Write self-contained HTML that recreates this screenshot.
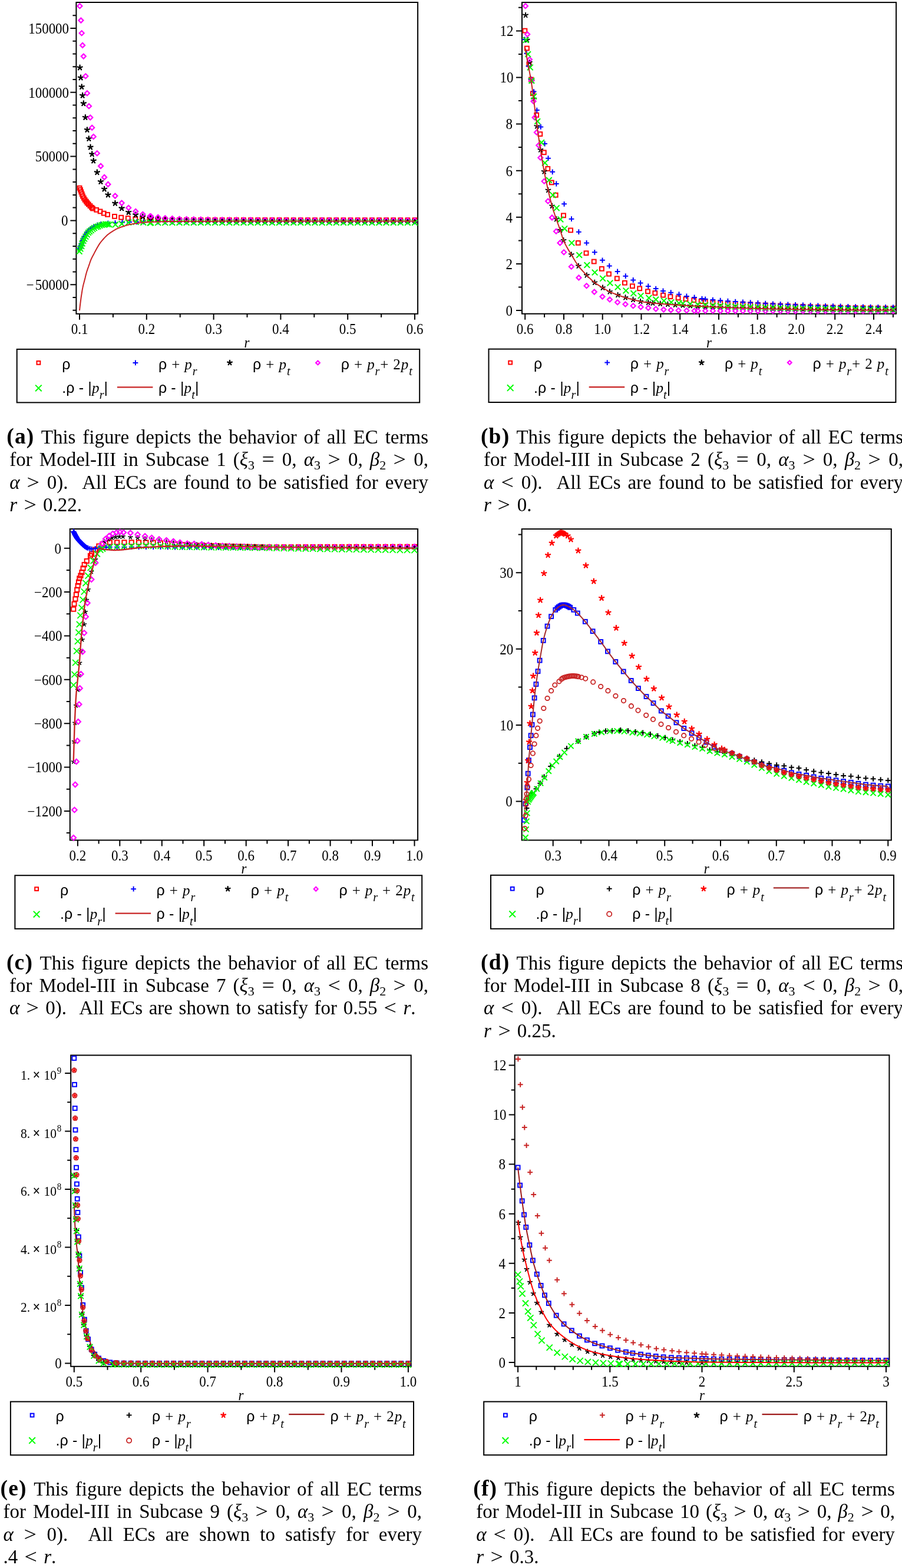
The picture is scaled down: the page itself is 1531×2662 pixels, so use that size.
<!DOCTYPE html>
<html><head><meta charset="utf-8"><title>EC terms figure</title>
<style>
html,body{margin:0;padding:0;background:#fff;}
body{width:1531px;height:2662px;position:relative;overflow:hidden;}
svg{position:absolute;left:0;top:0;}
svg text{font-family:'Liberation Serif',serif;fill:#000;}
.ln{position:absolute;white-space:nowrap;font-family:'Liberation Serif',serif;font-size:33px;letter-spacing:0;word-spacing:2.4px;line-height:38px;height:38px;text-align:justify;text-align-last:justify;color:#000;}
.ln.last{text-align:left;text-align-last:left;}
.ln b{font-weight:bold;font-size:37.5px;letter-spacing:1.2px;line-height:0;margin-right:0px;}
.rl{display:inline-block;padding:0 2px;transform:scale(1.15,1.0);}
.sb{font-size:22px;position:relative;top:6px;line-height:0;}
</style></head><body>
<svg width="1531" height="2662" viewBox="0 0 1531 2662">
<defs><clipPath id="clp1"><rect x="123.4" y="-2.0" width="591.7" height="540.8"/></clipPath></defs><rect x="129.4" y="4.0" width="579.7" height="528.8" fill="none" stroke="#000" stroke-width="2.0"/><path d="M135.0 532.8V542.8M248.8 532.8V542.8M362.6 532.8V542.8M476.4 532.8V542.8M590.2 532.8V542.8M704.0 532.8V542.8M191.9 532.8V538.8M305.7 532.8V538.8M419.5 532.8V538.8M533.3 532.8V538.8M647.1 532.8V538.8M129.4 48.0H119.4M129.4 156.8H119.4M129.4 265.6H119.4M129.4 374.4H119.4M129.4 483.2H119.4M129.4 526.7H123.4M129.4 505.0H123.4M129.4 461.4H123.4M129.4 439.7H123.4M129.4 417.9H123.4M129.4 396.2H123.4M129.4 352.6H123.4M129.4 330.9H123.4M129.4 309.1H123.4M129.4 287.4H123.4M129.4 243.8H123.4M129.4 222.1H123.4M129.4 200.3H123.4M129.4 178.6H123.4M129.4 135.0H123.4M129.4 113.3H123.4M129.4 91.5H123.4M129.4 69.8H123.4M129.4 26.2H123.4" stroke="#000" stroke-width="2"/><text transform="translate(135.0 567.1) scale(1 1.075)" text-anchor="middle" font-size="23.0">0.1</text><text transform="translate(248.8 567.1) scale(1 1.075)" text-anchor="middle" font-size="23.0">0.2</text><text transform="translate(362.6 567.1) scale(1 1.075)" text-anchor="middle" font-size="23.0">0.3</text><text transform="translate(476.4 567.1) scale(1 1.075)" text-anchor="middle" font-size="23.0">0.4</text><text transform="translate(590.2 567.1) scale(1 1.075)" text-anchor="middle" font-size="23.0">0.5</text><text transform="translate(704.0 567.1) scale(1 1.075)" text-anchor="middle" font-size="23.0">0.6</text><text transform="translate(117.1 56.8) scale(1 1.075)" text-anchor="end" font-size="23.0">150000</text><text transform="translate(117.1 165.6) scale(1 1.075)" text-anchor="end" font-size="23.0">100000</text><text transform="translate(117.1 274.4) scale(1 1.075)" text-anchor="end" font-size="23.0">50000</text><text transform="translate(115.6 383.2) scale(1 1.075)" text-anchor="end" font-size="23.0">0</text><text transform="translate(117.1 492.0) scale(1 1.075)" text-anchor="end" font-size="23.0">&#8722;&#8202;50000</text><text transform="translate(419.0 589.6) scale(1 1.075)" text-anchor="middle" font-size="23.0" font-style="italic">r</text><g clip-path="url(#clp1)"><rect x="131.7" y="315.8" width="6.8" height="6.8" fill="none" stroke="#FF0000" stroke-width="2.0"/><rect x="133.1" y="318.9" width="6.8" height="6.8" fill="none" stroke="#FF0000" stroke-width="2.0"/><rect x="134.4" y="322.5" width="6.8" height="6.8" fill="none" stroke="#FF0000" stroke-width="2.0"/><rect x="135.8" y="326.1" width="6.8" height="6.8" fill="none" stroke="#FF0000" stroke-width="2.0"/><rect x="137.1" y="329.6" width="6.8" height="6.8" fill="none" stroke="#FF0000" stroke-width="2.0"/><rect x="138.9" y="332.8" width="6.8" height="6.8" fill="none" stroke="#FF0000" stroke-width="2.0"/><rect x="140.7" y="335.9" width="6.8" height="6.8" fill="none" stroke="#FF0000" stroke-width="2.0"/><rect x="142.9" y="338.6" width="6.8" height="6.8" fill="none" stroke="#FF0000" stroke-width="2.0"/><rect x="144.7" y="341.2" width="6.8" height="6.8" fill="none" stroke="#FF0000" stroke-width="2.0"/><rect x="146.9" y="343.5" width="6.8" height="6.8" fill="none" stroke="#FF0000" stroke-width="2.0"/><rect x="149.6" y="346.2" width="6.8" height="6.8" fill="none" stroke="#FF0000" stroke-width="2.0"/><rect x="152.3" y="348.8" width="6.8" height="6.8" fill="none" stroke="#FF0000" stroke-width="2.0"/><rect x="154.1" y="350.6" width="6.8" height="6.8" fill="none" stroke="#FF0000" stroke-width="2.0"/><rect x="160.3" y="352.9" width="6.8" height="6.8" fill="none" stroke="#FF0000" stroke-width="2.0"/><rect x="166.6" y="355.5" width="6.8" height="6.8" fill="none" stroke="#FF0000" stroke-width="2.0"/><rect x="172.8" y="358.7" width="6.8" height="6.8" fill="none" stroke="#FF0000" stroke-width="2.0"/><rect x="179.1" y="360.9" width="6.8" height="6.8" fill="none" stroke="#FF0000" stroke-width="2.0"/><rect x="191.1" y="364.0" width="6.8" height="6.8" fill="none" stroke="#FF0000" stroke-width="2.0"/><rect x="202.3" y="365.8" width="6.8" height="6.8" fill="none" stroke="#FF0000" stroke-width="2.0"/><rect x="213.9" y="367.1" width="6.8" height="6.8" fill="none" stroke="#FF0000" stroke-width="2.0"/><rect x="226.4" y="368.5" width="6.8" height="6.8" fill="none" stroke="#FF0000" stroke-width="2.0"/><rect x="238.0" y="368.9" width="6.8" height="6.8" fill="none" stroke="#FF0000" stroke-width="2.0"/><rect x="250.5" y="369.4" width="6.8" height="6.8" fill="none" stroke="#FF0000" stroke-width="2.0"/><rect x="252.7" y="369.4" width="6.8" height="6.8" fill="none" stroke="#FF0000" stroke-width="2.0"/><rect x="264.8" y="369.6" width="6.8" height="6.8" fill="none" stroke="#FF0000" stroke-width="2.0"/><rect x="276.9" y="369.8" width="6.8" height="6.8" fill="none" stroke="#FF0000" stroke-width="2.0"/><rect x="289.0" y="369.9" width="6.8" height="6.8" fill="none" stroke="#FF0000" stroke-width="2.0"/><rect x="301.1" y="369.9" width="6.8" height="6.8" fill="none" stroke="#FF0000" stroke-width="2.0"/><rect x="313.2" y="370.0" width="6.8" height="6.8" fill="none" stroke="#FF0000" stroke-width="2.0"/><rect x="325.3" y="370.0" width="6.8" height="6.8" fill="none" stroke="#FF0000" stroke-width="2.0"/><rect x="337.4" y="370.0" width="6.8" height="6.8" fill="none" stroke="#FF0000" stroke-width="2.0"/><rect x="349.5" y="370.0" width="6.8" height="6.8" fill="none" stroke="#FF0000" stroke-width="2.0"/><rect x="361.6" y="370.1" width="6.8" height="6.8" fill="none" stroke="#FF0000" stroke-width="2.0"/><rect x="373.7" y="370.1" width="6.8" height="6.8" fill="none" stroke="#FF0000" stroke-width="2.0"/><rect x="385.8" y="370.1" width="6.8" height="6.8" fill="none" stroke="#FF0000" stroke-width="2.0"/><rect x="397.9" y="370.1" width="6.8" height="6.8" fill="none" stroke="#FF0000" stroke-width="2.0"/><rect x="410.0" y="370.1" width="6.8" height="6.8" fill="none" stroke="#FF0000" stroke-width="2.0"/><rect x="422.2" y="370.1" width="6.8" height="6.8" fill="none" stroke="#FF0000" stroke-width="2.0"/><rect x="434.3" y="370.1" width="6.8" height="6.8" fill="none" stroke="#FF0000" stroke-width="2.0"/><rect x="446.4" y="370.1" width="6.8" height="6.8" fill="none" stroke="#FF0000" stroke-width="2.0"/><rect x="458.5" y="370.1" width="6.8" height="6.8" fill="none" stroke="#FF0000" stroke-width="2.0"/><rect x="470.6" y="370.1" width="6.8" height="6.8" fill="none" stroke="#FF0000" stroke-width="2.0"/><rect x="482.7" y="370.1" width="6.8" height="6.8" fill="none" stroke="#FF0000" stroke-width="2.0"/><rect x="494.8" y="370.2" width="6.8" height="6.8" fill="none" stroke="#FF0000" stroke-width="2.0"/><rect x="506.9" y="370.2" width="6.8" height="6.8" fill="none" stroke="#FF0000" stroke-width="2.0"/><rect x="519.0" y="370.2" width="6.8" height="6.8" fill="none" stroke="#FF0000" stroke-width="2.0"/><rect x="531.1" y="370.2" width="6.8" height="6.8" fill="none" stroke="#FF0000" stroke-width="2.0"/><rect x="543.2" y="370.2" width="6.8" height="6.8" fill="none" stroke="#FF0000" stroke-width="2.0"/><rect x="555.3" y="370.2" width="6.8" height="6.8" fill="none" stroke="#FF0000" stroke-width="2.0"/><rect x="567.4" y="370.2" width="6.8" height="6.8" fill="none" stroke="#FF0000" stroke-width="2.0"/><rect x="579.5" y="370.2" width="6.8" height="6.8" fill="none" stroke="#FF0000" stroke-width="2.0"/><rect x="591.6" y="370.2" width="6.8" height="6.8" fill="none" stroke="#FF0000" stroke-width="2.0"/><rect x="603.7" y="370.2" width="6.8" height="6.8" fill="none" stroke="#FF0000" stroke-width="2.0"/><rect x="615.9" y="370.2" width="6.8" height="6.8" fill="none" stroke="#FF0000" stroke-width="2.0"/><rect x="628.0" y="370.2" width="6.8" height="6.8" fill="none" stroke="#FF0000" stroke-width="2.0"/><rect x="640.1" y="370.2" width="6.8" height="6.8" fill="none" stroke="#FF0000" stroke-width="2.0"/><rect x="652.2" y="370.2" width="6.8" height="6.8" fill="none" stroke="#FF0000" stroke-width="2.0"/><rect x="664.3" y="370.2" width="6.8" height="6.8" fill="none" stroke="#FF0000" stroke-width="2.0"/><rect x="676.4" y="370.2" width="6.8" height="6.8" fill="none" stroke="#FF0000" stroke-width="2.0"/><rect x="688.5" y="370.2" width="6.8" height="6.8" fill="none" stroke="#FF0000" stroke-width="2.0"/><rect x="700.6" y="370.2" width="6.8" height="6.8" fill="none" stroke="#FF0000" stroke-width="2.0"/></g><g clip-path="url(#clp1)"><path d="M130.6 423.0H139.4M135.0 418.6V427.4" stroke="#0000FF" stroke-width="2.0"/><path d="M131.4 421.1H140.2M135.8 416.7V425.5" stroke="#0000FF" stroke-width="2.0"/><path d="M132.1 419.3H140.9M136.5 414.9V423.7" stroke="#0000FF" stroke-width="2.0"/><path d="M132.9 417.5H141.7M137.3 413.1V421.9" stroke="#0000FF" stroke-width="2.0"/><path d="M133.6 415.7H142.4M138.0 411.3V420.1" stroke="#0000FF" stroke-width="2.0"/><path d="M134.4 413.3H143.2M138.8 408.9V417.7" stroke="#0000FF" stroke-width="2.0"/><path d="M135.1 410.6H143.9M139.5 406.2V415.0" stroke="#0000FF" stroke-width="2.0"/><path d="M135.9 408.5H144.7M140.3 404.1V412.9" stroke="#0000FF" stroke-width="2.0"/><path d="M136.7 406.7H145.5M141.1 402.3V411.1" stroke="#0000FF" stroke-width="2.0"/><path d="M138.2 403.6H147.0M142.6 399.2V408.0" stroke="#0000FF" stroke-width="2.0"/><path d="M139.7 400.9H148.5M144.1 396.5V405.3" stroke="#0000FF" stroke-width="2.0"/><path d="M141.2 398.5H150.0M145.6 394.1V402.9" stroke="#0000FF" stroke-width="2.0"/><path d="M142.7 396.0H151.5M147.1 391.6V400.4" stroke="#0000FF" stroke-width="2.0"/><path d="M144.2 393.7H153.0M148.6 389.3V398.1" stroke="#0000FF" stroke-width="2.0"/><path d="M145.7 391.8H154.5M150.1 387.4V396.2" stroke="#0000FF" stroke-width="2.0"/><path d="M148.8 389.2H157.6M153.2 384.8V393.6" stroke="#0000FF" stroke-width="2.0"/><path d="M151.8 386.9H160.6M156.2 382.5V391.3" stroke="#0000FF" stroke-width="2.0"/><path d="M154.8 384.6H163.6M159.2 380.2V389.0" stroke="#0000FF" stroke-width="2.0"/><path d="M160.9 381.8H169.7M165.3 377.4V386.2" stroke="#0000FF" stroke-width="2.0"/><path d="M166.9 380.4H175.7M171.3 376.0V384.8" stroke="#0000FF" stroke-width="2.0"/><path d="M179.0 379.0H187.8M183.4 374.6V383.4" stroke="#0000FF" stroke-width="2.0"/><path d="M191.1 378.3H199.9M195.5 373.9V382.7" stroke="#0000FF" stroke-width="2.0"/><path d="M203.2 377.6H212.0M207.6 373.2V382.0" stroke="#0000FF" stroke-width="2.0"/><path d="M215.3 377.1H224.1M219.7 372.7V381.5" stroke="#0000FF" stroke-width="2.0"/><path d="M227.5 376.8H236.3M231.9 372.4V381.2" stroke="#0000FF" stroke-width="2.0"/><path d="M239.6 376.7H248.4M244.0 372.3V381.1" stroke="#0000FF" stroke-width="2.0"/><path d="M251.7 376.6H260.5M256.1 372.2V381.0" stroke="#0000FF" stroke-width="2.0"/><path d="M263.8 376.6H272.6M268.2 372.2V381.0" stroke="#0000FF" stroke-width="2.0"/><path d="M275.9 376.5H284.7M280.3 372.1V380.9" stroke="#0000FF" stroke-width="2.0"/><path d="M288.0 376.5H296.8M292.4 372.1V380.9" stroke="#0000FF" stroke-width="2.0"/><path d="M300.1 376.5H308.9M304.5 372.1V380.9" stroke="#0000FF" stroke-width="2.0"/><path d="M312.2 376.5H321.0M316.6 372.1V380.9" stroke="#0000FF" stroke-width="2.0"/><path d="M324.3 376.5H333.1M328.7 372.1V380.9" stroke="#0000FF" stroke-width="2.0"/><path d="M336.4 376.4H345.2M340.8 372.0V380.8" stroke="#0000FF" stroke-width="2.0"/><path d="M348.5 376.4H357.3M352.9 372.0V380.8" stroke="#0000FF" stroke-width="2.0"/><path d="M360.6 376.4H369.4M365.0 372.0V380.8" stroke="#0000FF" stroke-width="2.0"/><path d="M372.7 376.4H381.5M377.1 372.0V380.8" stroke="#0000FF" stroke-width="2.0"/><path d="M384.8 376.4H393.6M389.2 372.0V380.8" stroke="#0000FF" stroke-width="2.0"/><path d="M396.9 376.4H405.7M401.3 372.0V380.8" stroke="#0000FF" stroke-width="2.0"/><path d="M409.0 376.4H417.8M413.4 372.0V380.8" stroke="#0000FF" stroke-width="2.0"/><path d="M421.2 376.4H430.0M425.6 372.0V380.8" stroke="#0000FF" stroke-width="2.0"/><path d="M433.3 376.4H442.1M437.7 372.0V380.8" stroke="#0000FF" stroke-width="2.0"/><path d="M445.4 376.4H454.2M449.8 372.0V380.8" stroke="#0000FF" stroke-width="2.0"/><path d="M457.5 376.4H466.3M461.9 372.0V380.8" stroke="#0000FF" stroke-width="2.0"/><path d="M469.6 376.4H478.4M474.0 372.0V380.8" stroke="#0000FF" stroke-width="2.0"/><path d="M481.7 376.4H490.5M486.1 372.0V380.8" stroke="#0000FF" stroke-width="2.0"/><path d="M493.8 376.4H502.6M498.2 372.0V380.8" stroke="#0000FF" stroke-width="2.0"/><path d="M505.9 376.4H514.7M510.3 372.0V380.8" stroke="#0000FF" stroke-width="2.0"/><path d="M518.0 376.4H526.8M522.4 372.0V380.8" stroke="#0000FF" stroke-width="2.0"/><path d="M530.1 376.4H538.9M534.5 372.0V380.8" stroke="#0000FF" stroke-width="2.0"/><path d="M542.2 376.4H551.0M546.6 372.0V380.8" stroke="#0000FF" stroke-width="2.0"/><path d="M554.3 376.4H563.1M558.7 372.0V380.8" stroke="#0000FF" stroke-width="2.0"/><path d="M566.4 376.4H575.2M570.8 372.0V380.8" stroke="#0000FF" stroke-width="2.0"/><path d="M578.5 376.4H587.3M582.9 372.0V380.8" stroke="#0000FF" stroke-width="2.0"/><path d="M590.6 376.4H599.4M595.0 372.0V380.8" stroke="#0000FF" stroke-width="2.0"/><path d="M602.7 376.4H611.5M607.1 372.0V380.8" stroke="#0000FF" stroke-width="2.0"/><path d="M614.9 376.4H623.7M619.3 372.0V380.8" stroke="#0000FF" stroke-width="2.0"/><path d="M627.0 376.4H635.8M631.4 372.0V380.8" stroke="#0000FF" stroke-width="2.0"/><path d="M639.1 376.4H647.9M643.5 372.0V380.8" stroke="#0000FF" stroke-width="2.0"/><path d="M651.2 376.4H660.0M655.6 372.0V380.8" stroke="#0000FF" stroke-width="2.0"/><path d="M663.3 376.4H672.1M667.7 372.0V380.8" stroke="#0000FF" stroke-width="2.0"/><path d="M675.4 376.4H684.2M679.8 372.0V380.8" stroke="#0000FF" stroke-width="2.0"/><path d="M687.5 376.4H696.3M691.9 372.0V380.8" stroke="#0000FF" stroke-width="2.0"/><path d="M699.6 376.4H708.4M704.0 372.0V380.8" stroke="#0000FF" stroke-width="2.0"/></g><g clip-path="url(#clp1)"><path d="M135.6 114.8L135.6 110.6M135.6 114.8L139.6 113.5M135.6 114.8L138.1 118.2M135.6 114.8L133.1 118.2M135.6 114.8L131.6 113.5" stroke="#000000" stroke-width="2.3" stroke-linecap="round"/><path d="M137.0 131.9L137.0 127.7M137.0 131.9L141.0 130.6M137.0 131.9L139.5 135.3M137.0 131.9L134.6 135.3M137.0 131.9L133.0 130.6" stroke="#000000" stroke-width="2.3" stroke-linecap="round"/><path d="M138.7 147.5L138.7 143.3M138.7 147.5L142.7 146.2M138.7 147.5L141.1 150.9M138.7 147.5L136.2 150.9M138.7 147.5L134.7 146.2" stroke="#000000" stroke-width="2.3" stroke-linecap="round"/><path d="M140.1 162.2L140.1 158.0M140.1 162.2L144.1 160.9M140.1 162.2L142.6 165.6M140.1 162.2L137.7 165.6M140.1 162.2L136.1 160.9" stroke="#000000" stroke-width="2.3" stroke-linecap="round"/><path d="M141.8 175.6L141.8 171.4M141.8 175.6L145.8 174.3M141.8 175.6L144.2 179.0M141.8 175.6L139.3 179.0M141.8 175.6L137.8 174.3" stroke="#000000" stroke-width="2.3" stroke-linecap="round"/><path d="M144.9 199.3L144.9 195.1M144.9 199.3L148.9 198.0M144.9 199.3L147.3 202.7M144.9 199.3L142.4 202.7M144.9 199.3L140.9 198.0" stroke="#000000" stroke-width="2.3" stroke-linecap="round"/><path d="M147.9 220.5L147.9 216.3M147.9 220.5L151.9 219.2M147.9 220.5L150.4 223.9M147.9 220.5L145.5 223.9M147.9 220.5L144.0 219.2" stroke="#000000" stroke-width="2.3" stroke-linecap="round"/><path d="M150.8 235.5L150.8 231.3M150.8 235.5L154.8 234.2M150.8 235.5L153.3 238.9M150.8 235.5L148.4 238.9M150.8 235.5L146.8 234.2" stroke="#000000" stroke-width="2.3" stroke-linecap="round"/><path d="M153.5 249.9L153.5 245.7M153.5 249.9L157.5 248.7M153.5 249.9L156.0 253.3M153.5 249.9L151.0 253.3M153.5 249.9L149.5 248.7" stroke="#000000" stroke-width="2.3" stroke-linecap="round"/><path d="M156.2 261.7L156.2 257.5M156.2 261.7L160.2 260.4M156.2 261.7L158.7 265.1M156.2 261.7L153.7 265.1M156.2 261.7L152.2 260.4" stroke="#000000" stroke-width="2.3" stroke-linecap="round"/><path d="M158.7 273.0L158.7 268.8M158.7 273.0L162.7 271.7M158.7 273.0L161.1 276.4M158.7 273.0L156.2 276.4M158.7 273.0L154.7 271.7" stroke="#000000" stroke-width="2.3" stroke-linecap="round"/><path d="M164.8 292.6L164.8 288.4M164.8 292.6L168.8 291.3M164.8 292.6L167.3 296.0M164.8 292.6L162.4 296.0M164.8 292.6L160.9 291.3" stroke="#000000" stroke-width="2.3" stroke-linecap="round"/><path d="M170.9 308.5L170.9 304.3M170.9 308.5L174.9 307.2M170.9 308.5L173.4 311.9M170.9 308.5L168.4 311.9M170.9 308.5L166.9 307.2" stroke="#000000" stroke-width="2.3" stroke-linecap="round"/><path d="M177.1 321.0L177.1 316.8M177.1 321.0L181.1 319.7M177.1 321.0L179.6 324.4M177.1 321.0L174.6 324.4M177.1 321.0L173.1 319.7" stroke="#000000" stroke-width="2.3" stroke-linecap="round"/><path d="M183.4 330.8L183.4 326.6M183.4 330.8L187.4 329.5M183.4 330.8L185.9 334.2M183.4 330.8L180.9 334.2M183.4 330.8L179.4 329.5" stroke="#000000" stroke-width="2.3" stroke-linecap="round"/><path d="M195.4 345.1L195.4 340.9M195.4 345.1L199.4 343.8M195.4 345.1L197.9 348.5M195.4 345.1L192.9 348.5M195.4 345.1L191.4 343.8" stroke="#000000" stroke-width="2.3" stroke-linecap="round"/><path d="M206.6 353.6L206.6 349.4M206.6 353.6L210.6 352.3M206.6 353.6L209.1 357.0M206.6 353.6L204.1 357.0M206.6 353.6L202.6 352.3" stroke="#000000" stroke-width="2.3" stroke-linecap="round"/><path d="M218.2 360.3L218.2 356.1M218.2 360.3L222.2 359.0M218.2 360.3L220.7 363.7M218.2 360.3L215.7 363.7M218.2 360.3L214.2 359.0" stroke="#000000" stroke-width="2.3" stroke-linecap="round"/><path d="M230.2 364.7L230.2 360.5M230.2 364.7L234.2 363.4M230.2 364.7L232.7 368.1M230.2 364.7L227.7 368.1M230.2 364.7L226.2 363.4" stroke="#000000" stroke-width="2.3" stroke-linecap="round"/><path d="M242.3 367.9L242.3 363.7M242.3 367.9L246.3 366.6M242.3 367.9L244.8 371.3M242.3 367.9L239.8 371.3M242.3 367.9L238.3 366.6" stroke="#000000" stroke-width="2.3" stroke-linecap="round"/><path d="M254.8 370.5L254.8 366.3M254.8 370.5L258.8 369.2M254.8 370.5L257.3 373.9M254.8 370.5L252.3 373.9M254.8 370.5L250.8 369.2" stroke="#000000" stroke-width="2.3" stroke-linecap="round"/><path d="M256.1 370.6L256.1 366.4M256.1 370.6L260.1 369.3M256.1 370.6L258.5 374.0M256.1 370.6L253.6 374.0M256.1 370.6L252.1 369.3" stroke="#000000" stroke-width="2.3" stroke-linecap="round"/><path d="M268.2 371.6L268.2 367.4M268.2 371.6L272.2 370.3M268.2 371.6L270.6 375.0M268.2 371.6L265.7 375.0M268.2 371.6L264.2 370.3" stroke="#000000" stroke-width="2.3" stroke-linecap="round"/><path d="M280.3 372.3L280.3 368.1M280.3 372.3L284.3 371.0M280.3 372.3L282.7 375.7M280.3 372.3L277.8 375.7M280.3 372.3L276.3 371.0" stroke="#000000" stroke-width="2.3" stroke-linecap="round"/><path d="M292.4 372.8L292.4 368.6M292.4 372.8L296.4 371.5M292.4 372.8L294.9 376.2M292.4 372.8L289.9 376.2M292.4 372.8L288.4 371.5" stroke="#000000" stroke-width="2.3" stroke-linecap="round"/><path d="M304.5 373.1L304.5 368.9M304.5 373.1L308.5 371.8M304.5 373.1L307.0 376.5M304.5 373.1L302.0 376.5M304.5 373.1L300.5 371.8" stroke="#000000" stroke-width="2.3" stroke-linecap="round"/><path d="M316.6 373.3L316.6 369.1M316.6 373.3L320.6 372.0M316.6 373.3L319.1 376.7M316.6 373.3L314.1 376.7M316.6 373.3L312.6 372.0" stroke="#000000" stroke-width="2.3" stroke-linecap="round"/><path d="M328.7 373.5L328.7 369.3M328.7 373.5L332.7 372.2M328.7 373.5L331.2 376.9M328.7 373.5L326.2 376.9M328.7 373.5L324.7 372.2" stroke="#000000" stroke-width="2.3" stroke-linecap="round"/><path d="M340.8 373.6L340.8 369.4M340.8 373.6L344.8 372.3M340.8 373.6L343.3 377.0M340.8 373.6L338.3 377.0M340.8 373.6L336.8 372.3" stroke="#000000" stroke-width="2.3" stroke-linecap="round"/><path d="M352.9 373.7L352.9 369.5M352.9 373.7L356.9 372.4M352.9 373.7L355.4 377.1M352.9 373.7L350.4 377.1M352.9 373.7L348.9 372.4" stroke="#000000" stroke-width="2.3" stroke-linecap="round"/><path d="M365.0 373.8L365.0 369.6M365.0 373.8L369.0 372.5M365.0 373.8L367.5 377.2M365.0 373.8L362.6 377.2M365.0 373.8L361.0 372.5" stroke="#000000" stroke-width="2.3" stroke-linecap="round"/><path d="M377.1 373.9L377.1 369.7M377.1 373.9L381.1 372.6M377.1 373.9L379.6 377.3M377.1 373.9L374.7 377.3M377.1 373.9L373.1 372.6" stroke="#000000" stroke-width="2.3" stroke-linecap="round"/><path d="M389.2 374.0L389.2 369.8M389.2 374.0L393.2 372.7M389.2 374.0L391.7 377.4M389.2 374.0L386.8 377.4M389.2 374.0L385.2 372.7" stroke="#000000" stroke-width="2.3" stroke-linecap="round"/><path d="M401.3 374.0L401.3 369.8M401.3 374.0L405.3 372.7M401.3 374.0L403.8 377.4M401.3 374.0L398.9 377.4M401.3 374.0L397.3 372.7" stroke="#000000" stroke-width="2.3" stroke-linecap="round"/><path d="M413.4 374.0L413.4 369.8M413.4 374.0L417.4 372.7M413.4 374.0L415.9 377.4M413.4 374.0L411.0 377.4M413.4 374.0L409.5 372.7" stroke="#000000" stroke-width="2.3" stroke-linecap="round"/><path d="M425.6 374.1L425.6 369.9M425.6 374.1L429.5 372.8M425.6 374.1L428.0 377.4M425.6 374.1L423.1 377.4M425.6 374.1L421.6 372.8" stroke="#000000" stroke-width="2.3" stroke-linecap="round"/><path d="M437.7 374.1L437.7 369.9M437.7 374.1L441.7 372.8M437.7 374.1L440.1 377.5M437.7 374.1L435.2 377.5M437.7 374.1L433.7 372.8" stroke="#000000" stroke-width="2.3" stroke-linecap="round"/><path d="M449.8 374.1L449.8 369.9M449.8 374.1L453.8 372.8M449.8 374.1L452.2 377.5M449.8 374.1L447.3 377.5M449.8 374.1L445.8 372.8" stroke="#000000" stroke-width="2.3" stroke-linecap="round"/><path d="M461.9 374.1L461.9 369.9M461.9 374.1L465.9 372.8M461.9 374.1L464.3 377.5M461.9 374.1L459.4 377.5M461.9 374.1L457.9 372.8" stroke="#000000" stroke-width="2.3" stroke-linecap="round"/><path d="M474.0 374.1L474.0 369.9M474.0 374.1L478.0 372.8M474.0 374.1L476.4 377.5M474.0 374.1L471.5 377.5M474.0 374.1L470.0 372.8" stroke="#000000" stroke-width="2.3" stroke-linecap="round"/><path d="M486.1 374.2L486.1 370.0M486.1 374.2L490.1 372.9M486.1 374.2L488.6 377.5M486.1 374.2L483.6 377.5M486.1 374.2L482.1 372.9" stroke="#000000" stroke-width="2.3" stroke-linecap="round"/><path d="M498.2 374.2L498.2 370.0M498.2 374.2L502.2 372.9M498.2 374.2L500.7 377.6M498.2 374.2L495.7 377.6M498.2 374.2L494.2 372.9" stroke="#000000" stroke-width="2.3" stroke-linecap="round"/><path d="M510.3 374.2L510.3 370.0M510.3 374.2L514.3 372.9M510.3 374.2L512.8 377.6M510.3 374.2L507.8 377.6M510.3 374.2L506.3 372.9" stroke="#000000" stroke-width="2.3" stroke-linecap="round"/><path d="M522.4 374.2L522.4 370.0M522.4 374.2L526.4 372.9M522.4 374.2L524.9 377.6M522.4 374.2L519.9 377.6M522.4 374.2L518.4 372.9" stroke="#000000" stroke-width="2.3" stroke-linecap="round"/><path d="M534.5 374.2L534.5 370.0M534.5 374.2L538.5 372.9M534.5 374.2L537.0 377.6M534.5 374.2L532.0 377.6M534.5 374.2L530.5 372.9" stroke="#000000" stroke-width="2.3" stroke-linecap="round"/><path d="M546.6 374.2L546.6 370.0M546.6 374.2L550.6 372.9M546.6 374.2L549.1 377.6M546.6 374.2L544.1 377.6M546.6 374.2L542.6 372.9" stroke="#000000" stroke-width="2.3" stroke-linecap="round"/><path d="M558.7 374.2L558.7 370.0M558.7 374.2L562.7 372.9M558.7 374.2L561.2 377.6M558.7 374.2L556.3 377.6M558.7 374.2L554.7 372.9" stroke="#000000" stroke-width="2.3" stroke-linecap="round"/><path d="M570.8 374.2L570.8 370.0M570.8 374.2L574.8 372.9M570.8 374.2L573.3 377.6M570.8 374.2L568.4 377.6M570.8 374.2L566.8 372.9" stroke="#000000" stroke-width="2.3" stroke-linecap="round"/><path d="M582.9 374.3L582.9 370.1M582.9 374.3L586.9 373.0M582.9 374.3L585.4 377.7M582.9 374.3L580.5 377.7M582.9 374.3L578.9 373.0" stroke="#000000" stroke-width="2.3" stroke-linecap="round"/><path d="M595.0 374.3L595.0 370.1M595.0 374.3L599.0 373.0M595.0 374.3L597.5 377.7M595.0 374.3L592.6 377.7M595.0 374.3L591.0 373.0" stroke="#000000" stroke-width="2.3" stroke-linecap="round"/><path d="M607.1 374.3L607.1 370.1M607.1 374.3L611.1 373.0M607.1 374.3L609.6 377.7M607.1 374.3L604.7 377.7M607.1 374.3L603.2 373.0" stroke="#000000" stroke-width="2.3" stroke-linecap="round"/><path d="M619.3 374.3L619.3 370.1M619.3 374.3L623.2 373.0M619.3 374.3L621.7 377.7M619.3 374.3L616.8 377.7M619.3 374.3L615.3 373.0" stroke="#000000" stroke-width="2.3" stroke-linecap="round"/><path d="M631.4 374.3L631.4 370.1M631.4 374.3L635.4 373.0M631.4 374.3L633.8 377.7M631.4 374.3L628.9 377.7M631.4 374.3L627.4 373.0" stroke="#000000" stroke-width="2.3" stroke-linecap="round"/><path d="M643.5 374.3L643.5 370.1M643.5 374.3L647.5 373.0M643.5 374.3L645.9 377.7M643.5 374.3L641.0 377.7M643.5 374.3L639.5 373.0" stroke="#000000" stroke-width="2.3" stroke-linecap="round"/><path d="M655.6 374.3L655.6 370.1M655.6 374.3L659.6 373.0M655.6 374.3L658.0 377.7M655.6 374.3L653.1 377.7M655.6 374.3L651.6 373.0" stroke="#000000" stroke-width="2.3" stroke-linecap="round"/><path d="M667.7 374.3L667.7 370.1M667.7 374.3L671.7 373.0M667.7 374.3L670.1 377.7M667.7 374.3L665.2 377.7M667.7 374.3L663.7 373.0" stroke="#000000" stroke-width="2.3" stroke-linecap="round"/><path d="M679.8 374.3L679.8 370.1M679.8 374.3L683.8 373.0M679.8 374.3L682.3 377.7M679.8 374.3L677.3 377.7M679.8 374.3L675.8 373.0" stroke="#000000" stroke-width="2.3" stroke-linecap="round"/><path d="M691.9 374.3L691.9 370.1M691.9 374.3L695.9 373.0M691.9 374.3L694.4 377.7M691.9 374.3L689.4 377.7M691.9 374.3L687.9 373.0" stroke="#000000" stroke-width="2.3" stroke-linecap="round"/><path d="M704.0 374.3L704.0 370.1M704.0 374.3L708.0 373.0M704.0 374.3L706.5 377.7M704.0 374.3L701.5 377.7M704.0 374.3L700.0 373.0" stroke="#000000" stroke-width="2.3" stroke-linecap="round"/></g><g clip-path="url(#clp1)"><path d="M135.4 6.3L139.4 10.3L135.4 14.3L131.4 10.3Z" fill="none" stroke="#FF00FF" stroke-width="2.2"/><path d="M137.4 30.6L141.4 34.6L137.4 38.6L133.4 34.6Z" fill="none" stroke="#FF00FF" stroke-width="2.2"/><path d="M138.7 52.3L142.7 56.3L138.7 60.3L134.7 56.3Z" fill="none" stroke="#FF00FF" stroke-width="2.2"/><path d="M140.1 72.9L144.1 76.9L140.1 80.9L136.1 76.9Z" fill="none" stroke="#FF00FF" stroke-width="2.2"/><path d="M141.8 91.6L145.8 95.6L141.8 99.6L137.8 95.6Z" fill="none" stroke="#FF00FF" stroke-width="2.2"/><path d="M145.3 125.2L149.3 129.2L145.3 133.2L141.3 129.2Z" fill="none" stroke="#FF00FF" stroke-width="2.2"/><path d="M147.9 154.3L151.9 158.3L147.9 162.3L143.9 158.3Z" fill="none" stroke="#FF00FF" stroke-width="2.2"/><path d="M151.0 176.3L155.0 180.3L151.0 184.3L147.0 180.3Z" fill="none" stroke="#FF00FF" stroke-width="2.2"/><path d="M153.3 195.5L157.3 199.5L153.3 203.5L149.3 199.5Z" fill="none" stroke="#FF00FF" stroke-width="2.2"/><path d="M156.2 212.8L160.2 216.8L156.2 220.8L152.2 216.8Z" fill="none" stroke="#FF00FF" stroke-width="2.2"/><path d="M158.7 228.0L162.7 232.0L158.7 236.0L154.7 232.0Z" fill="none" stroke="#FF00FF" stroke-width="2.2"/><path d="M164.8 256.3L168.8 260.3L164.8 264.3L160.8 260.3Z" fill="none" stroke="#FF00FF" stroke-width="2.2"/><path d="M171.0 277.9L175.0 281.9L171.0 285.9L167.0 281.9Z" fill="none" stroke="#FF00FF" stroke-width="2.2"/><path d="M177.1 296.9L181.1 300.9L177.1 304.9L173.1 300.9Z" fill="none" stroke="#FF00FF" stroke-width="2.2"/><path d="M183.4 308.9L187.4 312.9L183.4 316.9L179.4 312.9Z" fill="none" stroke="#FF00FF" stroke-width="2.2"/><path d="M195.4 328.6L199.4 332.6L195.4 336.6L191.4 332.6Z" fill="none" stroke="#FF00FF" stroke-width="2.2"/><path d="M206.6 340.6L210.6 344.6L206.6 348.6L202.6 344.6Z" fill="none" stroke="#FF00FF" stroke-width="2.2"/><path d="M218.2 348.7L222.2 352.7L218.2 356.7L214.2 352.7Z" fill="none" stroke="#FF00FF" stroke-width="2.2"/><path d="M230.2 354.9L234.2 358.9L230.2 362.9L226.2 358.9Z" fill="none" stroke="#FF00FF" stroke-width="2.2"/><path d="M242.3 359.8L246.3 363.8L242.3 367.8L238.3 363.8Z" fill="none" stroke="#FF00FF" stroke-width="2.2"/><path d="M254.8 363.0L258.8 367.0L254.8 371.0L250.8 367.0Z" fill="none" stroke="#FF00FF" stroke-width="2.2"/><path d="M256.1 363.2L260.1 367.2L256.1 371.2L252.1 367.2Z" fill="none" stroke="#FF00FF" stroke-width="2.2"/><path d="M268.2 364.9L272.2 368.9L268.2 372.9L264.2 368.9Z" fill="none" stroke="#FF00FF" stroke-width="2.2"/><path d="M280.3 366.2L284.3 370.2L280.3 374.2L276.3 370.2Z" fill="none" stroke="#FF00FF" stroke-width="2.2"/><path d="M292.4 367.1L296.4 371.1L292.4 375.1L288.4 371.1Z" fill="none" stroke="#FF00FF" stroke-width="2.2"/><path d="M304.5 367.7L308.5 371.7L304.5 375.7L300.5 371.7Z" fill="none" stroke="#FF00FF" stroke-width="2.2"/><path d="M316.6 368.0L320.6 372.0L316.6 376.0L312.6 372.0Z" fill="none" stroke="#FF00FF" stroke-width="2.2"/><path d="M328.7 368.3L332.7 372.3L328.7 376.3L324.7 372.3Z" fill="none" stroke="#FF00FF" stroke-width="2.2"/><path d="M340.8 368.6L344.8 372.6L340.8 376.6L336.8 372.6Z" fill="none" stroke="#FF00FF" stroke-width="2.2"/><path d="M352.9 368.8L356.9 372.8L352.9 376.8L348.9 372.8Z" fill="none" stroke="#FF00FF" stroke-width="2.2"/><path d="M365.0 369.0L369.0 373.0L365.0 377.0L361.0 373.0Z" fill="none" stroke="#FF00FF" stroke-width="2.2"/><path d="M377.1 369.2L381.1 373.2L377.1 377.2L373.1 373.2Z" fill="none" stroke="#FF00FF" stroke-width="2.2"/><path d="M389.2 369.3L393.2 373.3L389.2 377.3L385.2 373.3Z" fill="none" stroke="#FF00FF" stroke-width="2.2"/><path d="M401.3 369.4L405.3 373.4L401.3 377.4L397.3 373.4Z" fill="none" stroke="#FF00FF" stroke-width="2.2"/><path d="M413.4 369.5L417.4 373.5L413.4 377.5L409.4 373.5Z" fill="none" stroke="#FF00FF" stroke-width="2.2"/><path d="M425.6 369.6L429.6 373.6L425.6 377.6L421.6 373.6Z" fill="none" stroke="#FF00FF" stroke-width="2.2"/><path d="M437.7 369.7L441.7 373.7L437.7 377.7L433.7 373.7Z" fill="none" stroke="#FF00FF" stroke-width="2.2"/><path d="M449.8 369.8L453.8 373.8L449.8 377.8L445.8 373.8Z" fill="none" stroke="#FF00FF" stroke-width="2.2"/><path d="M461.9 369.9L465.9 373.9L461.9 377.9L457.9 373.9Z" fill="none" stroke="#FF00FF" stroke-width="2.2"/><path d="M474.0 369.9L478.0 373.9L474.0 377.9L470.0 373.9Z" fill="none" stroke="#FF00FF" stroke-width="2.2"/><path d="M486.1 370.0L490.1 374.0L486.1 378.0L482.1 374.0Z" fill="none" stroke="#FF00FF" stroke-width="2.2"/><path d="M498.2 370.0L502.2 374.0L498.2 378.0L494.2 374.0Z" fill="none" stroke="#FF00FF" stroke-width="2.2"/><path d="M510.3 370.0L514.3 374.0L510.3 378.0L506.3 374.0Z" fill="none" stroke="#FF00FF" stroke-width="2.2"/><path d="M522.4 370.0L526.4 374.0L522.4 378.0L518.4 374.0Z" fill="none" stroke="#FF00FF" stroke-width="2.2"/><path d="M534.5 370.1L538.5 374.1L534.5 378.1L530.5 374.1Z" fill="none" stroke="#FF00FF" stroke-width="2.2"/><path d="M546.6 370.1L550.6 374.1L546.6 378.1L542.6 374.1Z" fill="none" stroke="#FF00FF" stroke-width="2.2"/><path d="M558.7 370.1L562.7 374.1L558.7 378.1L554.7 374.1Z" fill="none" stroke="#FF00FF" stroke-width="2.2"/><path d="M570.8 370.1L574.8 374.1L570.8 378.1L566.8 374.1Z" fill="none" stroke="#FF00FF" stroke-width="2.2"/><path d="M582.9 370.1L586.9 374.1L582.9 378.1L578.9 374.1Z" fill="none" stroke="#FF00FF" stroke-width="2.2"/><path d="M595.0 370.1L599.0 374.1L595.0 378.1L591.0 374.1Z" fill="none" stroke="#FF00FF" stroke-width="2.2"/><path d="M607.1 370.2L611.1 374.2L607.1 378.2L603.1 374.2Z" fill="none" stroke="#FF00FF" stroke-width="2.2"/><path d="M619.3 370.2L623.3 374.2L619.3 378.2L615.3 374.2Z" fill="none" stroke="#FF00FF" stroke-width="2.2"/><path d="M631.4 370.2L635.4 374.2L631.4 378.2L627.4 374.2Z" fill="none" stroke="#FF00FF" stroke-width="2.2"/><path d="M643.5 370.2L647.5 374.2L643.5 378.2L639.5 374.2Z" fill="none" stroke="#FF00FF" stroke-width="2.2"/><path d="M655.6 370.2L659.6 374.2L655.6 378.2L651.6 374.2Z" fill="none" stroke="#FF00FF" stroke-width="2.2"/><path d="M667.7 370.2L671.7 374.2L667.7 378.2L663.7 374.2Z" fill="none" stroke="#FF00FF" stroke-width="2.2"/><path d="M679.8 370.2L683.8 374.2L679.8 378.2L675.8 374.2Z" fill="none" stroke="#FF00FF" stroke-width="2.2"/><path d="M691.9 370.2L695.9 374.2L691.9 378.2L687.9 374.2Z" fill="none" stroke="#FF00FF" stroke-width="2.2"/><path d="M704.0 370.2L708.0 374.2L704.0 378.2L700.0 374.2Z" fill="none" stroke="#FF00FF" stroke-width="2.2"/></g><g clip-path="url(#clp1)"><path d="M129.9 422.0L139.5 431.6M129.9 431.6L139.5 422.0" stroke="#00FF00" stroke-width="2.0"/><path d="M131.7 417.5L141.3 427.1M131.7 427.1L141.3 417.5" stroke="#00FF00" stroke-width="2.0"/><path d="M133.5 413.1L143.1 422.7M133.5 422.7L143.1 413.1" stroke="#00FF00" stroke-width="2.0"/><path d="M134.8 408.6L144.4 418.2M134.8 418.2L144.4 408.6" stroke="#00FF00" stroke-width="2.0"/><path d="M136.6 404.1L146.2 413.7M136.6 413.7L146.2 404.1" stroke="#00FF00" stroke-width="2.0"/><path d="M138.4 400.6L148.0 410.2M138.4 410.2L148.0 400.6" stroke="#00FF00" stroke-width="2.0"/><path d="M140.6 397.0L150.2 406.6M140.6 406.6L150.2 397.0" stroke="#00FF00" stroke-width="2.0"/><path d="M142.8 393.4L152.4 403.0M142.8 403.0L152.4 393.4" stroke="#00FF00" stroke-width="2.0"/><path d="M145.1 390.3L154.7 399.9M145.1 399.9L154.7 390.3" stroke="#00FF00" stroke-width="2.0"/><path d="M147.3 388.1L156.9 397.7M147.3 397.7L156.9 388.1" stroke="#00FF00" stroke-width="2.0"/><path d="M150.0 386.3L159.6 395.9M150.0 395.9L159.6 386.3" stroke="#00FF00" stroke-width="2.0"/><path d="M152.7 384.0L162.3 393.6M152.7 393.6L162.3 384.0" stroke="#00FF00" stroke-width="2.0"/><path d="M155.3 382.3L164.9 391.9M155.3 391.9L164.9 382.3" stroke="#00FF00" stroke-width="2.0"/><path d="M158.9 380.5L168.5 390.1M158.9 390.1L168.5 380.5" stroke="#00FF00" stroke-width="2.0"/><path d="M161.6 379.6L171.2 389.2M161.6 389.2L171.2 379.6" stroke="#00FF00" stroke-width="2.0"/><path d="M164.7 378.2L174.3 387.8M164.7 387.8L174.3 378.2" stroke="#00FF00" stroke-width="2.0"/><path d="M167.8 377.3L177.4 386.9M167.8 386.9L177.4 377.3" stroke="#00FF00" stroke-width="2.0"/><path d="M171.4 376.5L181.0 386.1M171.4 386.1L181.0 376.5" stroke="#00FF00" stroke-width="2.0"/><path d="M174.5 375.6L184.1 385.2M174.5 385.2L184.1 375.6" stroke="#00FF00" stroke-width="2.0"/><path d="M177.7 376.0L187.3 385.6M177.7 385.6L187.3 376.0" stroke="#00FF00" stroke-width="2.0"/><path d="M180.8 376.5L190.4 386.1M180.8 386.1L190.4 376.5" stroke="#00FF00" stroke-width="2.0"/><path d="M191.1 376.5L200.7 386.1M191.1 386.1L200.7 376.5" stroke="#00FF00" stroke-width="2.0"/><path d="M201.8 375.1L211.4 384.7M201.8 384.7L211.4 375.1" stroke="#00FF00" stroke-width="2.0"/><path d="M213.4 372.9L223.0 382.5M213.4 382.5L223.0 372.9" stroke="#00FF00" stroke-width="2.0"/><path d="M225.9 372.0L235.5 381.6M225.9 381.6L235.5 372.0" stroke="#00FF00" stroke-width="2.0"/><path d="M238.4 372.9L248.0 382.5M238.4 382.5L248.0 372.9" stroke="#00FF00" stroke-width="2.0"/><path d="M250.0 373.6L259.6 383.2M250.0 383.2L259.6 373.6" stroke="#00FF00" stroke-width="2.0"/><path d="M251.2 373.3L260.9 383.0M251.2 383.0L260.9 373.3" stroke="#00FF00" stroke-width="2.0"/><path d="M263.3 373.2L273.0 382.9M263.3 382.9L273.0 373.2" stroke="#00FF00" stroke-width="2.0"/><path d="M275.4 373.2L285.1 382.9M275.4 382.9L285.1 373.2" stroke="#00FF00" stroke-width="2.0"/><path d="M287.6 373.2L297.2 382.8M287.6 382.8L297.2 373.2" stroke="#00FF00" stroke-width="2.0"/><path d="M299.7 373.2L309.3 382.8M299.7 382.8L309.3 373.2" stroke="#00FF00" stroke-width="2.0"/><path d="M311.8 373.1L321.4 382.8M311.8 382.8L321.4 373.1" stroke="#00FF00" stroke-width="2.0"/><path d="M323.9 373.1L333.5 382.8M323.9 382.8L333.5 373.1" stroke="#00FF00" stroke-width="2.0"/><path d="M336.0 373.1L345.6 382.8M336.0 382.8L345.6 373.1" stroke="#00FF00" stroke-width="2.0"/><path d="M348.1 373.1L357.7 382.8M348.1 382.8L357.7 373.1" stroke="#00FF00" stroke-width="2.0"/><path d="M360.2 373.1L369.9 382.7M360.2 382.7L369.9 373.1" stroke="#00FF00" stroke-width="2.0"/><path d="M372.3 373.1L382.0 382.7M372.3 382.7L382.0 373.1" stroke="#00FF00" stroke-width="2.0"/><path d="M384.4 373.1L394.1 382.7M384.4 382.7L394.1 373.1" stroke="#00FF00" stroke-width="2.0"/><path d="M396.5 373.1L406.2 382.7M396.5 382.7L406.2 373.1" stroke="#00FF00" stroke-width="2.0"/><path d="M408.6 373.1L418.3 382.7M408.6 382.7L418.3 373.1" stroke="#00FF00" stroke-width="2.0"/><path d="M420.7 373.1L430.4 382.7M420.7 382.7L430.4 373.1" stroke="#00FF00" stroke-width="2.0"/><path d="M432.8 373.1L442.5 382.7M432.8 382.7L442.5 373.1" stroke="#00FF00" stroke-width="2.0"/><path d="M444.9 373.1L454.6 382.7M444.9 382.7L454.6 373.1" stroke="#00FF00" stroke-width="2.0"/><path d="M457.0 373.1L466.7 382.7M457.0 382.7L466.7 373.1" stroke="#00FF00" stroke-width="2.0"/><path d="M469.1 373.1L478.8 382.7M469.1 382.7L478.8 373.1" stroke="#00FF00" stroke-width="2.0"/><path d="M481.3 373.1L490.9 382.7M481.3 382.7L490.9 373.1" stroke="#00FF00" stroke-width="2.0"/><path d="M493.4 373.1L503.0 382.7M493.4 382.7L503.0 373.1" stroke="#00FF00" stroke-width="2.0"/><path d="M505.5 373.1L515.1 382.7M505.5 382.7L515.1 373.1" stroke="#00FF00" stroke-width="2.0"/><path d="M517.6 373.1L527.2 382.7M517.6 382.7L527.2 373.1" stroke="#00FF00" stroke-width="2.0"/><path d="M529.7 373.1L539.3 382.7M529.7 382.7L539.3 373.1" stroke="#00FF00" stroke-width="2.0"/><path d="M541.8 373.1L551.4 382.7M541.8 382.7L551.4 373.1" stroke="#00FF00" stroke-width="2.0"/><path d="M553.9 373.1L563.6 382.7M553.9 382.7L563.6 373.1" stroke="#00FF00" stroke-width="2.0"/><path d="M566.0 373.1L575.7 382.7M566.0 382.7L575.7 373.1" stroke="#00FF00" stroke-width="2.0"/><path d="M578.1 373.1L587.8 382.7M578.1 382.7L587.8 373.1" stroke="#00FF00" stroke-width="2.0"/><path d="M590.2 373.1L599.9 382.7M590.2 382.7L599.9 373.1" stroke="#00FF00" stroke-width="2.0"/><path d="M602.3 373.1L612.0 382.7M602.3 382.7L612.0 373.1" stroke="#00FF00" stroke-width="2.0"/><path d="M614.4 373.1L624.1 382.7M614.4 382.7L624.1 373.1" stroke="#00FF00" stroke-width="2.0"/><path d="M626.5 373.1L636.2 382.7M626.5 382.7L636.2 373.1" stroke="#00FF00" stroke-width="2.0"/><path d="M638.6 373.1L648.3 382.7M638.6 382.7L648.3 373.1" stroke="#00FF00" stroke-width="2.0"/><path d="M650.7 373.1L660.4 382.7M650.7 382.7L660.4 373.1" stroke="#00FF00" stroke-width="2.0"/><path d="M662.9 373.1L672.5 382.7M662.9 382.7L672.5 373.1" stroke="#00FF00" stroke-width="2.0"/><path d="M675.0 373.1L684.6 382.7M675.0 382.7L684.6 373.1" stroke="#00FF00" stroke-width="2.0"/><path d="M687.1 373.1L696.7 382.7M687.1 382.7L696.7 373.1" stroke="#00FF00" stroke-width="2.0"/><path d="M699.2 373.1L708.8 382.7M699.2 382.7L708.8 373.1" stroke="#00FF00" stroke-width="2.0"/></g><path d="M135.0 527.2L135.9 518.7L136.9 510.9L137.8 503.9L138.8 497.6L139.7 491.9L140.7 486.9L141.6 482.9L142.6 479.3L143.5 475.8L144.5 472.0L145.4 468.0L146.4 464.2L147.3 461.0L148.3 458.1L149.2 455.4L150.2 452.8L151.1 450.1L152.1 447.3L153.0 444.5L154.0 441.9L154.9 439.7L155.9 437.6L156.8 435.8L157.8 434.0L158.7 432.2L159.7 430.4L160.6 428.6L161.6 426.8L162.5 425.0L163.5 423.2L164.4 421.5L165.4 419.9L166.3 418.2L167.3 416.6L168.2 415.1L169.2 413.6L170.1 412.3L171.1 411.0L172.0 409.8L173.0 408.7L173.9 407.6L174.9 406.5L175.8 405.5L176.8 404.4L177.7 403.4L178.7 402.4L179.6 401.4L180.6 400.5L181.5 399.6L182.5 398.7L183.4 397.9L184.4 397.2L185.3 396.5L186.3 395.8L187.2 395.2L188.2 394.5L189.1 393.9L190.1 393.3L191.0 392.7L192.0 392.1L192.9 391.5L193.9 390.9L194.8 390.3L195.8 389.8L196.7 389.2L197.7 388.7L198.6 388.3L199.6 387.8L200.5 387.4L201.5 387.0L202.4 386.7L203.4 386.3L204.3 386.0L205.3 385.6L206.2 385.3L207.2 385.0L208.1 384.7L209.1 384.3L210.0 384.0L211.0 383.7L211.9 383.4L212.9 383.1L213.8 382.8L214.8 382.5L215.7 382.2L216.7 382.0L217.6 381.7L218.6 381.5L219.5 381.3L220.5 381.1L221.4 380.9L222.4 380.7L223.3 380.5L224.3 380.3L225.2 380.2L226.2 380.0L227.1 379.8L228.1 379.7L229.0 379.5L230.0 379.4L230.9 379.3L231.9 379.1L232.8 379.0L233.8 378.9L234.7 378.7L235.7 378.6L236.6 378.5L237.6 378.4L238.5 378.3L239.5 378.2L240.4 378.0L241.4 378.0L242.3 377.9L243.3 377.8L244.2 377.7L245.2 377.6L246.1 377.5L247.1 377.5L248.0 377.4L249.0 377.3L249.9 377.2L250.9 377.2L251.8 377.1L252.8 377.1L253.7 377.0L254.7 376.9L255.6 376.9L256.6 376.9L257.5 376.8L258.5 376.8L259.4 376.7L260.4 376.7L261.3 376.7L262.3 376.7L263.2 376.6L264.2 376.6L265.1 376.6L266.1 376.5L267.0 376.5L268.0 376.5L268.9 376.5L269.9 376.4L270.8 376.4L271.8 376.4L272.7 376.3L273.7 376.3L274.6 376.3L275.6 376.3L276.5 376.3L277.5 376.2L278.4 376.2L279.4 376.2L280.3 376.2L281.3 376.1L282.2 376.1L283.2 376.1L284.1 376.1L285.1 376.1L286.0 376.1L287.0 376.0L287.9 376.0L288.9 376.0L289.8 376.0L290.8 376.0L291.7 376.0L292.7 376.0L293.6 376.0L294.6 375.9L295.5 375.9L296.5 375.9L297.4 375.9L298.4 375.9L299.3 375.9L300.3 375.9L301.2 375.9L302.2 375.9L303.1 375.9L304.1 375.9L305.0 375.9L306.0 375.9L306.9 375.9L307.9 375.9L308.8 375.9L309.8 375.8L310.7 375.8L311.7 375.8L312.6 375.8L313.6 375.8L314.5 375.8L315.5 375.8L316.4 375.8L317.4 375.8L318.3 375.8L319.3 375.8L320.2 375.8L321.2 375.8L322.1 375.8L323.1 375.8L324.0 375.8L325.0 375.8L325.9 375.8L326.9 375.8L327.8 375.8L328.8 375.8L329.7 375.8L330.7 375.8L331.6 375.7L332.6 375.7L333.5 375.7L334.5 375.7L335.4 375.7L336.4 375.7L337.3 375.7L338.3 375.7L339.2 375.7L340.2 375.7L341.1 375.7L342.1 375.7L343.0 375.7L344.0 375.7L344.9 375.7L345.9 375.7L346.8 375.7L347.8 375.7L348.7 375.7L349.7 375.7L350.6 375.7L351.6 375.7L352.5 375.7L353.5 375.7L354.4 375.7L355.4 375.7L356.3 375.7L357.3 375.7L358.2 375.7L359.2 375.7L360.1 375.7L361.1 375.7L362.0 375.7L363.0 375.7L363.9 375.7L364.9 375.6L365.8 375.6L366.8 375.6L367.7 375.6L368.7 375.6L369.6 375.6L370.6 375.6L371.5 375.6L372.5 375.6L373.4 375.6L374.4 375.6L375.3 375.6L376.3 375.6L377.2 375.6L378.2 375.6L379.1 375.6L380.1 375.6L381.0 375.6L382.0 375.6L382.9 375.6L383.9 375.6L384.8 375.6L385.8 375.6L386.7 375.6L387.7 375.6L388.6 375.6L389.6 375.6L390.5 375.6L391.5 375.6L392.4 375.6L393.4 375.6L394.3 375.6L395.3 375.6L396.2 375.6L397.2 375.6L398.1 375.6L399.1 375.6L400.0 375.6L401.0 375.6L401.9 375.6L402.9 375.6L403.8 375.6L404.8 375.6L405.7 375.6L406.7 375.6L407.6 375.6L408.6 375.6L409.5 375.6L410.5 375.6L411.4 375.6L412.4 375.6L413.3 375.6L414.3 375.6L415.2 375.6L416.2 375.6L417.1 375.6L418.1 375.6L419.0 375.6L420.0 375.6L420.9 375.6L421.9 375.6L422.8 375.6L423.8 375.6L424.7 375.6L425.7 375.6L426.6 375.6L427.6 375.6L428.5 375.6L429.5 375.6L430.4 375.6L431.4 375.6L432.3 375.6L433.3 375.6L434.2 375.6L435.2 375.6L436.1 375.6L437.1 375.6L438.0 375.6L439.0 375.6L439.9 375.6L440.9 375.6L441.8 375.6L442.8 375.6L443.7 375.6L444.7 375.6L445.6 375.6L446.6 375.6L447.5 375.6L448.5 375.6L449.4 375.6L450.4 375.6L451.3 375.6L452.3 375.6L453.2 375.6L454.2 375.6L455.1 375.6L456.1 375.6L457.0 375.6L458.0 375.6L458.9 375.6L459.9 375.6L460.8 375.6L461.8 375.6L462.7 375.6L463.7 375.6L464.6 375.6L465.6 375.6L466.5 375.6L467.5 375.6L468.4 375.6L469.4 375.6L470.3 375.6L471.3 375.6L472.2 375.6L473.2 375.6L474.1 375.6L475.1 375.6L476.0 375.6L477.0 375.6L477.9 375.6L478.9 375.6L479.8 375.6L480.8 375.6L481.7 375.6L482.7 375.6L483.6 375.6L484.6 375.6L485.5 375.6L486.5 375.5L487.4 375.5L488.4 375.5L489.3 375.5L490.3 375.5L491.2 375.5L492.2 375.5L493.1 375.5L494.1 375.5L495.0 375.5L496.0 375.5L496.9 375.5L497.9 375.5L498.8 375.5L499.8 375.5L500.7 375.5L501.7 375.5L502.6 375.5L503.6 375.5L504.5 375.5L505.5 375.5L506.4 375.5L507.4 375.5L508.3 375.5L509.3 375.5L510.2 375.5L511.2 375.5L512.1 375.5L513.1 375.5L514.0 375.5L515.0 375.5L515.9 375.5L516.9 375.5L517.8 375.5L518.8 375.5L519.7 375.5L520.7 375.5L521.6 375.5L522.6 375.5L523.5 375.5L524.5 375.5L525.4 375.5L526.4 375.5L527.3 375.5L528.3 375.5L529.2 375.5L530.2 375.5L531.1 375.5L532.1 375.5L533.0 375.5L534.0 375.5L534.9 375.5L535.9 375.5L536.8 375.5L537.8 375.5L538.7 375.5L539.7 375.5L540.6 375.5L541.6 375.5L542.5 375.5L543.5 375.5L544.4 375.5L545.4 375.5L546.3 375.5L547.3 375.5L548.2 375.5L549.2 375.5L550.1 375.5L551.1 375.5L552.0 375.5L553.0 375.5L553.9 375.5L554.9 375.5L555.8 375.5L556.8 375.5L557.7 375.5L558.7 375.5L559.6 375.5L560.6 375.5L561.5 375.5L562.5 375.5L563.4 375.5L564.4 375.5L565.3 375.5L566.3 375.5L567.2 375.5L568.2 375.5L569.1 375.5L570.1 375.5L571.0 375.5L572.0 375.5L572.9 375.5L573.9 375.5L574.8 375.5L575.8 375.5L576.7 375.5L577.7 375.5L578.6 375.5L579.6 375.5L580.5 375.5L581.5 375.5L582.4 375.5L583.4 375.5L584.3 375.5L585.3 375.5L586.2 375.5L587.2 375.5L588.1 375.5L589.1 375.5L590.0 375.5L591.0 375.5L591.9 375.5L592.9 375.5L593.8 375.5L594.8 375.5L595.7 375.5L596.7 375.5L597.6 375.5L598.6 375.5L599.5 375.5L600.5 375.5L601.4 375.5L602.4 375.5L603.3 375.5L604.3 375.5L605.2 375.5L606.2 375.5L607.1 375.5L608.1 375.5L609.0 375.5L610.0 375.5L610.9 375.5L611.9 375.5L612.8 375.5L613.8 375.5L614.7 375.5L615.7 375.5L616.6 375.5L617.6 375.5L618.5 375.5L619.5 375.5L620.4 375.5L621.4 375.5L622.3 375.5L623.3 375.5L624.2 375.5L625.2 375.5L626.1 375.5L627.1 375.5L628.0 375.5L629.0 375.5L629.9 375.5L630.9 375.5L631.8 375.5L632.8 375.5L633.7 375.5L634.7 375.5L635.6 375.5L636.6 375.5L637.5 375.5L638.5 375.5L639.4 375.5L640.4 375.5L641.3 375.5L642.3 375.5L643.2 375.5L644.2 375.5L645.1 375.5L646.1 375.5L647.0 375.5L648.0 375.5L648.9 375.5L649.9 375.5L650.8 375.5L651.8 375.5L652.7 375.5L653.7 375.5L654.6 375.5L655.6 375.5L656.5 375.5L657.5 375.5L658.4 375.5L659.4 375.5L660.3 375.5L661.3 375.5L662.2 375.5L663.2 375.5L664.1 375.5L665.1 375.5L666.0 375.5L667.0 375.5L667.9 375.5L668.9 375.5L669.8 375.5L670.8 375.5L671.7 375.5L672.7 375.5L673.6 375.5L674.6 375.5L675.5 375.5L676.5 375.5L677.4 375.5L678.4 375.5L679.3 375.5L680.3 375.5L681.2 375.5L682.2 375.5L683.1 375.5L684.1 375.5L685.0 375.5L686.0 375.5L686.9 375.5L687.9 375.5L688.8 375.5L689.8 375.5L690.7 375.5L691.7 375.5L692.6 375.5L693.6 375.5L694.5 375.5L695.5 375.5L696.4 375.5L697.4 375.5L698.3 375.5L699.3 375.5L700.2 375.5L701.2 375.5L702.1 375.5L703.1 375.5L704.0 375.5" fill="none" stroke="#C82424" stroke-width="2.0" stroke-linejoin="round" clip-path="url(#clp1)"/><rect x="28.7" y="592.9" width="683.5" height="90.5" fill="none" stroke="#000" stroke-width="2.0"/><rect x="62.5" y="613.0" width="5.8" height="5.8" fill="none" stroke="#FF0000" stroke-width="2.0"/><text x="105.2" y="626.5" font-size="25.0" letter-spacing="0.90" xml:space="preserve"><tspan font-family="'Liberation Sans', sans-serif">&#961;</tspan></text><path d="M225.5 615.9H234.3M229.9 611.5V620.3" stroke="#0000FF" stroke-width="2.0"/><text x="268.9" y="626.5" font-size="25.0" letter-spacing="0.90" xml:space="preserve"><tspan font-family="'Liberation Sans', sans-serif">&#961;</tspan><tspan> + </tspan><tspan font-style="italic">p</tspan><tspan font-style="italic" font-size="20.0" dy="10.5">r</tspan></text><path d="M390.0 615.9L390.0 611.9M390.0 615.9L393.8 614.7M390.0 615.9L392.3 619.1M390.0 615.9L387.7 619.1M390.0 615.9L386.2 614.7" stroke="#000000" stroke-width="2.3" stroke-linecap="round"/><text x="429.1" y="626.5" font-size="25.0" letter-spacing="0.90" xml:space="preserve"><tspan font-family="'Liberation Sans', sans-serif">&#961;</tspan><tspan> + </tspan><tspan font-style="italic">p</tspan><tspan font-style="italic" font-size="20.0" dy="10.5">t</tspan></text><path d="M539.5 612.5L542.9 615.9L539.5 619.3L536.1 615.9Z" fill="none" stroke="#FF00FF" stroke-width="2.2"/><text x="578.7" y="626.5" font-size="25.0" letter-spacing="0.90" xml:space="preserve"><tspan font-family="'Liberation Sans', sans-serif">&#961;</tspan><tspan> + </tspan><tspan font-style="italic">p</tspan><tspan font-style="italic" font-size="20.0" dy="10.5">r</tspan><tspan dy="-10.5">+ 2</tspan><tspan font-style="italic">p</tspan><tspan font-style="italic" font-size="20.0" dy="10.5">t</tspan></text><path d="M60.1 653.6L70.7 664.2M60.1 664.2L70.7 653.6" stroke="#00FF00" stroke-width="2.0"/><text x="105.2" y="666.9" font-size="25.0" letter-spacing="0.15" xml:space="preserve"><tspan font-family="'Liberation Sans', sans-serif">.&#961; - |</tspan><tspan font-style="italic">p</tspan><tspan font-style="italic" font-size="20.0" dy="10.5">r</tspan><tspan font-family="'Liberation Sans', sans-serif" dy="-10.5">|</tspan></text><path d="M198.9 657.4H259.4" stroke="#C82424" stroke-width="2.2"/><text x="268.9" y="666.9" font-size="25.0" letter-spacing="0.15" xml:space="preserve"><tspan font-family="'Liberation Sans', sans-serif">&#961; - |</tspan><tspan font-style="italic">p</tspan><tspan font-style="italic" font-size="20.0" dy="10.5">t</tspan><tspan font-family="'Liberation Sans', sans-serif" dy="-10.5">|</tspan></text>
<defs><clipPath id="clp2"><rect x="880.0" y="-1.9" width="647.1" height="540.6"/></clipPath></defs><rect x="886.0" y="4.1" width="635.1" height="528.6" fill="none" stroke="#000" stroke-width="2.0"/><path d="M891.2 532.7V542.7M957.0 532.7V542.7M1022.7 532.7V542.7M1088.5 532.7V542.7M1154.2 532.7V542.7M1220.0 532.7V542.7M1285.7 532.7V542.7M1351.5 532.7V542.7M1417.2 532.7V542.7M1483.0 532.7V542.7M924.1 532.7V538.7M989.8 532.7V538.7M1055.6 532.7V538.7M1121.3 532.7V538.7M1187.1 532.7V538.7M1252.9 532.7V538.7M1318.6 532.7V538.7M1384.4 532.7V538.7M1450.1 532.7V538.7M1515.9 532.7V538.7M886.0 527.0H876.0M886.0 447.9H876.0M886.0 368.8H876.0M886.0 289.7H876.0M886.0 210.6H876.0M886.0 131.5H876.0M886.0 52.4H876.0M886.0 487.4H880.0M886.0 408.4H880.0M886.0 329.2H880.0M886.0 250.1H880.0M886.0 171.0H880.0M886.0 91.9H880.0M886.0 12.8H880.0" stroke="#000" stroke-width="2"/><text transform="translate(891.2 567.0) scale(1 1.075)" text-anchor="middle" font-size="23.0">0.6</text><text transform="translate(957.0 567.0) scale(1 1.075)" text-anchor="middle" font-size="23.0">0.8</text><text transform="translate(1022.7 567.0) scale(1 1.075)" text-anchor="middle" font-size="23.0">1.0</text><text transform="translate(1088.5 567.0) scale(1 1.075)" text-anchor="middle" font-size="23.0">1.2</text><text transform="translate(1154.2 567.0) scale(1 1.075)" text-anchor="middle" font-size="23.0">1.4</text><text transform="translate(1220.0 567.0) scale(1 1.075)" text-anchor="middle" font-size="23.0">1.6</text><text transform="translate(1285.7 567.0) scale(1 1.075)" text-anchor="middle" font-size="23.0">1.8</text><text transform="translate(1351.5 567.0) scale(1 1.075)" text-anchor="middle" font-size="23.0">2.0</text><text transform="translate(1417.2 567.0) scale(1 1.075)" text-anchor="middle" font-size="23.0">2.2</text><text transform="translate(1483.0 567.0) scale(1 1.075)" text-anchor="middle" font-size="23.0">2.4</text><text transform="translate(870.1 535.8) scale(1 1.075)" text-anchor="end" font-size="23.0">0</text><text transform="translate(870.1 456.7) scale(1 1.075)" text-anchor="end" font-size="23.0">2</text><text transform="translate(870.1 377.6) scale(1 1.075)" text-anchor="end" font-size="23.0">4</text><text transform="translate(870.1 298.5) scale(1 1.075)" text-anchor="end" font-size="23.0">6</text><text transform="translate(870.1 219.4) scale(1 1.075)" text-anchor="end" font-size="23.0">8</text><text transform="translate(871.6 140.3) scale(1 1.075)" text-anchor="end" font-size="23.0">10</text><text transform="translate(871.6 61.2) scale(1 1.075)" text-anchor="end" font-size="23.0">12</text><text transform="translate(1203.5 589.5) scale(1 1.075)" text-anchor="middle" font-size="23.0" font-style="italic">r</text><g clip-path="url(#clp2)"><rect x="887.5" y="48.7" width="6.8" height="6.8" fill="none" stroke="#FF0000" stroke-width="2.0"/><rect x="891.0" y="78.6" width="6.8" height="6.8" fill="none" stroke="#FF0000" stroke-width="2.0"/><rect x="894.5" y="105.8" width="6.8" height="6.8" fill="none" stroke="#FF0000" stroke-width="2.0"/><rect x="898.0" y="131.6" width="6.8" height="6.8" fill="none" stroke="#FF0000" stroke-width="2.0"/><rect x="900.9" y="155.3" width="6.8" height="6.8" fill="none" stroke="#FF0000" stroke-width="2.0"/><rect x="907.3" y="191.9" width="6.8" height="6.8" fill="none" stroke="#FF0000" stroke-width="2.0"/><rect x="913.4" y="224.2" width="6.8" height="6.8" fill="none" stroke="#FF0000" stroke-width="2.0"/><rect x="919.9" y="255.4" width="6.8" height="6.8" fill="none" stroke="#FF0000" stroke-width="2.0"/><rect x="926.4" y="283.0" width="6.8" height="6.8" fill="none" stroke="#FF0000" stroke-width="2.0"/><rect x="932.9" y="306.5" width="6.8" height="6.8" fill="none" stroke="#FF0000" stroke-width="2.0"/><rect x="939.8" y="327.8" width="6.8" height="6.8" fill="none" stroke="#FF0000" stroke-width="2.0"/><rect x="953.1" y="362.4" width="6.8" height="6.8" fill="none" stroke="#FF0000" stroke-width="2.0"/><rect x="965.2" y="387.5" width="6.8" height="6.8" fill="none" stroke="#FF0000" stroke-width="2.0"/><rect x="977.9" y="409.0" width="6.8" height="6.8" fill="none" stroke="#FF0000" stroke-width="2.0"/><rect x="991.6" y="426.3" width="6.8" height="6.8" fill="none" stroke="#FF0000" stroke-width="2.0"/><rect x="1004.8" y="440.6" width="6.8" height="6.8" fill="none" stroke="#FF0000" stroke-width="2.0"/><rect x="1018.0" y="452.9" width="6.8" height="6.8" fill="none" stroke="#FF0000" stroke-width="2.0"/><rect x="1030.1" y="461.7" width="6.8" height="6.8" fill="none" stroke="#FF0000" stroke-width="2.0"/><rect x="1043.9" y="469.4" width="6.8" height="6.8" fill="none" stroke="#FF0000" stroke-width="2.0"/><rect x="1057.0" y="476.8" width="6.8" height="6.8" fill="none" stroke="#FF0000" stroke-width="2.0"/><rect x="1070.0" y="482.3" width="6.8" height="6.8" fill="none" stroke="#FF0000" stroke-width="2.0"/><rect x="1082.3" y="486.4" width="6.8" height="6.8" fill="none" stroke="#FF0000" stroke-width="2.0"/><rect x="1096.1" y="491.4" width="6.8" height="6.8" fill="none" stroke="#FF0000" stroke-width="2.0"/><rect x="1108.4" y="494.1" width="6.8" height="6.8" fill="none" stroke="#FF0000" stroke-width="2.0"/><rect x="1122.1" y="497.7" width="6.8" height="6.8" fill="none" stroke="#FF0000" stroke-width="2.0"/><rect x="1134.5" y="500.2" width="6.8" height="6.8" fill="none" stroke="#FF0000" stroke-width="2.0"/><rect x="1147.7" y="502.4" width="6.8" height="6.8" fill="none" stroke="#FF0000" stroke-width="2.0"/><rect x="1160.6" y="504.3" width="6.8" height="6.8" fill="none" stroke="#FF0000" stroke-width="2.0"/><rect x="1174.3" y="506.2" width="6.8" height="6.8" fill="none" stroke="#FF0000" stroke-width="2.0"/><rect x="1186.7" y="508.1" width="6.8" height="6.8" fill="none" stroke="#FF0000" stroke-width="2.0"/><rect x="1193.8" y="508.8" width="6.8" height="6.8" fill="none" stroke="#FF0000" stroke-width="2.0"/><rect x="1206.5" y="509.8" width="6.8" height="6.8" fill="none" stroke="#FF0000" stroke-width="2.0"/><rect x="1219.3" y="510.6" width="6.8" height="6.8" fill="none" stroke="#FF0000" stroke-width="2.0"/><rect x="1232.0" y="511.4" width="6.8" height="6.8" fill="none" stroke="#FF0000" stroke-width="2.0"/><rect x="1244.8" y="512.0" width="6.8" height="6.8" fill="none" stroke="#FF0000" stroke-width="2.0"/><rect x="1257.5" y="512.6" width="6.8" height="6.8" fill="none" stroke="#FF0000" stroke-width="2.0"/><rect x="1270.3" y="513.3" width="6.8" height="6.8" fill="none" stroke="#FF0000" stroke-width="2.0"/><rect x="1283.0" y="513.9" width="6.8" height="6.8" fill="none" stroke="#FF0000" stroke-width="2.0"/><rect x="1295.8" y="514.5" width="6.8" height="6.8" fill="none" stroke="#FF0000" stroke-width="2.0"/><rect x="1308.5" y="515.1" width="6.8" height="6.8" fill="none" stroke="#FF0000" stroke-width="2.0"/><rect x="1321.2" y="515.6" width="6.8" height="6.8" fill="none" stroke="#FF0000" stroke-width="2.0"/><rect x="1334.0" y="516.1" width="6.8" height="6.8" fill="none" stroke="#FF0000" stroke-width="2.0"/><rect x="1346.7" y="516.6" width="6.8" height="6.8" fill="none" stroke="#FF0000" stroke-width="2.0"/><rect x="1359.5" y="517.0" width="6.8" height="6.8" fill="none" stroke="#FF0000" stroke-width="2.0"/><rect x="1372.2" y="517.4" width="6.8" height="6.8" fill="none" stroke="#FF0000" stroke-width="2.0"/><rect x="1385.0" y="517.8" width="6.8" height="6.8" fill="none" stroke="#FF0000" stroke-width="2.0"/><rect x="1397.7" y="518.1" width="6.8" height="6.8" fill="none" stroke="#FF0000" stroke-width="2.0"/><rect x="1410.5" y="518.5" width="6.8" height="6.8" fill="none" stroke="#FF0000" stroke-width="2.0"/><rect x="1423.2" y="518.7" width="6.8" height="6.8" fill="none" stroke="#FF0000" stroke-width="2.0"/><rect x="1436.0" y="519.0" width="6.8" height="6.8" fill="none" stroke="#FF0000" stroke-width="2.0"/><rect x="1448.7" y="519.2" width="6.8" height="6.8" fill="none" stroke="#FF0000" stroke-width="2.0"/><rect x="1461.5" y="519.4" width="6.8" height="6.8" fill="none" stroke="#FF0000" stroke-width="2.0"/><rect x="1474.2" y="519.6" width="6.8" height="6.8" fill="none" stroke="#FF0000" stroke-width="2.0"/><rect x="1487.0" y="519.8" width="6.8" height="6.8" fill="none" stroke="#FF0000" stroke-width="2.0"/><rect x="1499.7" y="520.0" width="6.8" height="6.8" fill="none" stroke="#FF0000" stroke-width="2.0"/><rect x="1512.5" y="520.1" width="6.8" height="6.8" fill="none" stroke="#FF0000" stroke-width="2.0"/></g><g clip-path="url(#clp2)"><path d="M886.3 67.0H895.1M890.7 62.6V71.4" stroke="#0000FF" stroke-width="2.0"/><path d="M889.4 90.7H898.2M893.8 86.3V95.1" stroke="#0000FF" stroke-width="2.0"/><path d="M892.6 112.3H901.4M897.0 107.9V116.7" stroke="#0000FF" stroke-width="2.0"/><path d="M896.6 134.0H905.4M901.0 129.6V138.4" stroke="#0000FF" stroke-width="2.0"/><path d="M901.7 155.6H910.5M906.1 151.2V160.0" stroke="#0000FF" stroke-width="2.0"/><path d="M906.9 187.1H915.7M911.3 182.7V191.5" stroke="#0000FF" stroke-width="2.0"/><path d="M913.4 215.4H922.2M917.8 211.0V219.8" stroke="#0000FF" stroke-width="2.0"/><path d="M920.2 244.0H929.0M924.6 239.6V248.4" stroke="#0000FF" stroke-width="2.0"/><path d="M926.1 268.7H934.9M930.5 264.3V273.1" stroke="#0000FF" stroke-width="2.0"/><path d="M933.3 291.8H942.1M937.7 287.4V296.2" stroke="#0000FF" stroke-width="2.0"/><path d="M939.9 312.0H948.7M944.3 307.6V316.4" stroke="#0000FF" stroke-width="2.0"/><path d="M953.2 346.3H962.0M957.6 341.9V350.7" stroke="#0000FF" stroke-width="2.0"/><path d="M965.6 371.7H974.4M970.0 367.3V376.1" stroke="#0000FF" stroke-width="2.0"/><path d="M977.9 393.7H986.7M982.3 389.3V398.1" stroke="#0000FF" stroke-width="2.0"/><path d="M991.2 412.4H1000.0M995.6 408.0V416.8" stroke="#0000FF" stroke-width="2.0"/><path d="M1004.9 428.3H1013.7M1009.3 423.9V432.7" stroke="#0000FF" stroke-width="2.0"/><path d="M1018.1 441.8H1026.9M1022.5 437.4V446.2" stroke="#0000FF" stroke-width="2.0"/><path d="M1029.9 451.4H1038.7M1034.3 447.0V455.8" stroke="#0000FF" stroke-width="2.0"/><path d="M1043.7 461.0H1052.5M1048.1 456.6V465.4" stroke="#0000FF" stroke-width="2.0"/><path d="M1057.4 468.7H1066.2M1061.8 464.3V473.1" stroke="#0000FF" stroke-width="2.0"/><path d="M1070.3 475.5H1079.1M1074.7 471.1V479.9" stroke="#0000FF" stroke-width="2.0"/><path d="M1082.7 480.5H1091.5M1087.1 476.1V484.9" stroke="#0000FF" stroke-width="2.0"/><path d="M1095.9 486.0H1104.7M1100.3 481.6V490.4" stroke="#0000FF" stroke-width="2.0"/><path d="M1108.8 490.1H1117.6M1113.2 485.7V494.5" stroke="#0000FF" stroke-width="2.0"/><path d="M1121.1 494.0H1129.9M1125.5 489.6V498.4" stroke="#0000FF" stroke-width="2.0"/><path d="M1134.3 496.7H1143.1M1138.7 492.3V501.1" stroke="#0000FF" stroke-width="2.0"/><path d="M1148.1 499.7H1156.9M1152.5 495.3V504.1" stroke="#0000FF" stroke-width="2.0"/><path d="M1161.0 503.0H1169.8M1165.4 498.6V507.4" stroke="#0000FF" stroke-width="2.0"/><path d="M1174.2 504.9H1183.0M1178.6 500.5V509.3" stroke="#0000FF" stroke-width="2.0"/><path d="M1187.1 507.1H1195.9M1191.5 502.7V511.5" stroke="#0000FF" stroke-width="2.0"/><path d="M1192.8 507.8H1201.6M1197.2 503.4V512.2" stroke="#0000FF" stroke-width="2.0"/><path d="M1205.5 509.1H1214.3M1209.9 504.7V513.5" stroke="#0000FF" stroke-width="2.0"/><path d="M1218.3 510.2H1227.1M1222.7 505.8V514.6" stroke="#0000FF" stroke-width="2.0"/><path d="M1231.0 511.2H1239.8M1235.4 506.8V515.6" stroke="#0000FF" stroke-width="2.0"/><path d="M1243.8 512.1H1252.6M1248.2 507.7V516.5" stroke="#0000FF" stroke-width="2.0"/><path d="M1256.5 512.9H1265.3M1260.9 508.5V517.3" stroke="#0000FF" stroke-width="2.0"/><path d="M1269.3 513.7H1278.1M1273.7 509.3V518.1" stroke="#0000FF" stroke-width="2.0"/><path d="M1282.0 514.5H1290.8M1286.4 510.1V518.9" stroke="#0000FF" stroke-width="2.0"/><path d="M1294.8 515.2H1303.6M1299.2 510.8V519.6" stroke="#0000FF" stroke-width="2.0"/><path d="M1307.5 515.8H1316.3M1311.9 511.4V520.2" stroke="#0000FF" stroke-width="2.0"/><path d="M1320.2 516.4H1329.0M1324.6 512.0V520.8" stroke="#0000FF" stroke-width="2.0"/><path d="M1333.0 516.9H1341.8M1337.4 512.5V521.3" stroke="#0000FF" stroke-width="2.0"/><path d="M1345.7 517.5H1354.5M1350.1 513.1V521.9" stroke="#0000FF" stroke-width="2.0"/><path d="M1358.5 518.0H1367.3M1362.9 513.6V522.4" stroke="#0000FF" stroke-width="2.0"/><path d="M1371.2 518.4H1380.0M1375.6 514.0V522.8" stroke="#0000FF" stroke-width="2.0"/><path d="M1384.0 518.9H1392.8M1388.4 514.5V523.3" stroke="#0000FF" stroke-width="2.0"/><path d="M1396.7 519.3H1405.5M1401.1 514.9V523.7" stroke="#0000FF" stroke-width="2.0"/><path d="M1409.5 519.6H1418.3M1413.9 515.2V524.0" stroke="#0000FF" stroke-width="2.0"/><path d="M1422.2 520.0H1431.0M1426.6 515.6V524.4" stroke="#0000FF" stroke-width="2.0"/><path d="M1435.0 520.3H1443.8M1439.4 515.9V524.7" stroke="#0000FF" stroke-width="2.0"/><path d="M1447.7 520.6H1456.5M1452.1 516.2V525.0" stroke="#0000FF" stroke-width="2.0"/><path d="M1460.5 520.9H1469.3M1464.9 516.5V525.3" stroke="#0000FF" stroke-width="2.0"/><path d="M1473.2 521.1H1482.0M1477.6 516.7V525.5" stroke="#0000FF" stroke-width="2.0"/><path d="M1486.0 521.3H1494.8M1490.4 516.9V525.7" stroke="#0000FF" stroke-width="2.0"/><path d="M1498.7 521.5H1507.5M1503.1 517.1V525.9" stroke="#0000FF" stroke-width="2.0"/><path d="M1511.5 521.6H1520.3M1515.9 517.2V526.0" stroke="#0000FF" stroke-width="2.0"/></g><g clip-path="url(#clp2)"><path d="M892.1 25.8L892.1 21.6M892.1 25.8L896.1 24.5M892.1 25.8L894.6 29.2M892.1 25.8L889.6 29.2M892.1 25.8L888.1 24.5" stroke="#000000" stroke-width="1.9" stroke-linecap="round"/><path d="M894.8 68.0L894.8 63.8M894.8 68.0L898.8 66.7M894.8 68.0L897.3 71.4M894.8 68.0L892.3 71.4M894.8 68.0L890.8 66.7" stroke="#000000" stroke-width="1.9" stroke-linecap="round"/><path d="M898.9 106.1L898.9 101.9M898.9 106.1L902.9 104.8M898.9 106.1L901.4 109.5M898.9 106.1L896.4 109.5M898.9 106.1L894.9 104.8" stroke="#000000" stroke-width="1.9" stroke-linecap="round"/><path d="M902.5 137.0L902.5 132.8M902.5 137.0L906.5 135.7M902.5 137.0L905.0 140.4M902.5 137.0L900.0 140.4M902.5 137.0L898.5 135.7" stroke="#000000" stroke-width="1.9" stroke-linecap="round"/><path d="M906.1 167.9L906.1 163.7M906.1 167.9L910.1 166.6M906.1 167.9L908.6 171.3M906.1 167.9L903.6 171.3M906.1 167.9L902.1 166.6" stroke="#000000" stroke-width="1.9" stroke-linecap="round"/><path d="M911.3 214.4L911.3 210.2M911.3 214.4L915.3 213.1M911.3 214.4L913.8 217.8M911.3 214.4L908.8 217.8M911.3 214.4L907.3 213.1" stroke="#000000" stroke-width="1.9" stroke-linecap="round"/><path d="M917.4 254.3L917.4 250.1M917.4 254.3L921.4 253.0M917.4 254.3L919.9 257.7M917.4 254.3L914.9 257.7M917.4 254.3L913.4 253.0" stroke="#000000" stroke-width="1.9" stroke-linecap="round"/><path d="M923.7 291.3L923.7 287.1M923.7 291.3L927.7 290.0M923.7 291.3L926.2 294.7M923.7 291.3L921.2 294.7M923.7 291.3L919.7 290.0" stroke="#000000" stroke-width="1.9" stroke-linecap="round"/><path d="M930.4 322.9L930.4 318.7M930.4 322.9L934.4 321.6M930.4 322.9L932.9 326.3M930.4 322.9L927.9 326.3M930.4 322.9L926.4 321.6" stroke="#000000" stroke-width="1.9" stroke-linecap="round"/><path d="M937.0 349.7L937.0 345.5M937.0 349.7L941.0 348.4M937.0 349.7L939.5 353.1M937.0 349.7L934.5 353.1M937.0 349.7L933.0 348.4" stroke="#000000" stroke-width="1.9" stroke-linecap="round"/><path d="M944.3 372.1L944.3 367.9M944.3 372.1L948.3 370.8M944.3 372.1L946.8 375.5M944.3 372.1L941.8 375.5M944.3 372.1L940.3 370.8" stroke="#000000" stroke-width="1.9" stroke-linecap="round"/><path d="M950.9 390.9L950.9 386.7M950.9 390.9L954.9 389.6M950.9 390.9L953.4 394.3M950.9 390.9L948.4 394.3M950.9 390.9L946.9 389.6" stroke="#000000" stroke-width="1.9" stroke-linecap="round"/><path d="M956.6 408.2L956.6 404.0M956.6 408.2L960.6 406.9M956.6 408.2L959.1 411.6M956.6 408.2L954.1 411.6M956.6 408.2L952.6 406.9" stroke="#000000" stroke-width="1.9" stroke-linecap="round"/><path d="M969.8 432.4L969.8 428.2M969.8 432.4L973.8 431.1M969.8 432.4L972.3 435.8M969.8 432.4L967.3 435.8M969.8 432.4L965.8 431.1" stroke="#000000" stroke-width="1.9" stroke-linecap="round"/><path d="M981.9 451.6L981.9 447.4M981.9 451.6L985.9 450.3M981.9 451.6L984.4 455.0M981.9 451.6L979.4 455.0M981.9 451.6L977.9 450.3" stroke="#000000" stroke-width="1.9" stroke-linecap="round"/><path d="M995.9 467.3L995.9 463.1M995.9 467.3L999.9 466.0M995.9 467.3L998.4 470.7M995.9 467.3L993.4 470.7M995.9 467.3L991.9 466.0" stroke="#000000" stroke-width="1.9" stroke-linecap="round"/><path d="M1009.3 479.7L1009.3 475.5M1009.3 479.7L1013.3 478.4M1009.3 479.7L1011.8 483.1M1009.3 479.7L1006.8 483.1M1009.3 479.7L1005.3 478.4" stroke="#000000" stroke-width="1.9" stroke-linecap="round"/><path d="M1023.0 488.5L1023.0 484.3M1023.0 488.5L1027.0 487.2M1023.0 488.5L1025.5 491.9M1023.0 488.5L1020.5 491.9M1023.0 488.5L1019.0 487.2" stroke="#000000" stroke-width="1.9" stroke-linecap="round"/><path d="M1034.9 495.3L1034.9 491.1M1034.9 495.3L1038.9 494.0M1034.9 495.3L1037.4 498.7M1034.9 495.3L1032.4 498.7M1034.9 495.3L1030.9 494.0" stroke="#000000" stroke-width="1.9" stroke-linecap="round"/><path d="M1048.6 500.8L1048.6 496.6M1048.6 500.8L1052.6 499.5M1048.6 500.8L1051.1 504.2M1048.6 500.8L1046.1 504.2M1048.6 500.8L1044.6 499.5" stroke="#000000" stroke-width="1.9" stroke-linecap="round"/><path d="M1061.5 505.2L1061.5 501.0M1061.5 505.2L1065.5 503.9M1061.5 505.2L1064.0 508.6M1061.5 505.2L1059.0 508.6M1061.5 505.2L1057.5 503.9" stroke="#000000" stroke-width="1.9" stroke-linecap="round"/><path d="M1074.5 508.7L1074.5 504.5M1074.5 508.7L1078.5 507.4M1074.5 508.7L1077.0 512.1M1074.5 508.7L1072.0 512.1M1074.5 508.7L1070.5 507.4" stroke="#000000" stroke-width="1.9" stroke-linecap="round"/><path d="M1087.1 511.8L1087.1 507.6M1087.1 511.8L1091.1 510.5M1087.1 511.8L1089.6 515.2M1087.1 511.8L1084.6 515.2M1087.1 511.8L1083.1 510.5" stroke="#000000" stroke-width="1.9" stroke-linecap="round"/><path d="M1100.3 513.8L1100.3 509.6M1100.3 513.8L1104.3 512.5M1100.3 513.8L1102.8 517.2M1100.3 513.8L1097.8 517.2M1100.3 513.8L1096.3 512.5" stroke="#000000" stroke-width="1.9" stroke-linecap="round"/><path d="M1107.9 514.6L1107.9 510.4M1107.9 514.6L1111.9 513.3M1107.9 514.6L1110.4 518.0M1107.9 514.6L1105.5 518.0M1107.9 514.6L1103.9 513.3" stroke="#000000" stroke-width="1.9" stroke-linecap="round"/><path d="M1120.7 515.7L1120.7 511.5M1120.7 515.7L1124.7 514.4M1120.7 515.7L1123.1 519.1M1120.7 515.7L1118.2 519.1M1120.7 515.7L1116.7 514.4" stroke="#000000" stroke-width="1.9" stroke-linecap="round"/><path d="M1133.4 516.7L1133.4 512.5M1133.4 516.7L1137.4 515.4M1133.4 516.7L1135.9 520.1M1133.4 516.7L1131.0 520.1M1133.4 516.7L1129.4 515.4" stroke="#000000" stroke-width="1.9" stroke-linecap="round"/><path d="M1146.2 517.6L1146.2 513.4M1146.2 517.6L1150.2 516.3M1146.2 517.6L1148.6 520.9M1146.2 517.6L1143.7 520.9M1146.2 517.6L1142.2 516.3" stroke="#000000" stroke-width="1.9" stroke-linecap="round"/><path d="M1158.9 518.4L1158.9 514.2M1158.9 518.4L1162.9 517.1M1158.9 518.4L1161.4 521.8M1158.9 518.4L1156.5 521.8M1158.9 518.4L1154.9 517.1" stroke="#000000" stroke-width="1.9" stroke-linecap="round"/><path d="M1171.7 519.1L1171.7 514.9M1171.7 519.1L1175.7 517.8M1171.7 519.1L1174.1 522.5M1171.7 519.1L1169.2 522.5M1171.7 519.1L1167.7 517.8" stroke="#000000" stroke-width="1.9" stroke-linecap="round"/><path d="M1184.4 519.8L1184.4 515.6M1184.4 519.8L1188.4 518.5M1184.4 519.8L1186.9 523.1M1184.4 519.8L1181.9 523.1M1184.4 519.8L1180.4 518.5" stroke="#000000" stroke-width="1.9" stroke-linecap="round"/><path d="M1197.2 520.4L1197.2 516.2M1197.2 520.4L1201.2 519.1M1197.2 520.4L1199.6 523.8M1197.2 520.4L1194.7 523.8M1197.2 520.4L1193.2 519.1" stroke="#000000" stroke-width="1.9" stroke-linecap="round"/><path d="M1209.9 521.0L1209.9 516.8M1209.9 521.0L1213.9 519.7M1209.9 521.0L1212.4 524.4M1209.9 521.0L1207.4 524.4M1209.9 521.0L1205.9 519.7" stroke="#000000" stroke-width="1.9" stroke-linecap="round"/><path d="M1222.7 521.5L1222.7 517.3M1222.7 521.5L1226.7 520.2M1222.7 521.5L1225.1 524.9M1222.7 521.5L1220.2 524.9M1222.7 521.5L1218.7 520.2" stroke="#000000" stroke-width="1.9" stroke-linecap="round"/><path d="M1235.4 522.1L1235.4 517.9M1235.4 522.1L1239.4 520.8M1235.4 522.1L1237.9 525.5M1235.4 522.1L1232.9 525.5M1235.4 522.1L1231.4 520.8" stroke="#000000" stroke-width="1.9" stroke-linecap="round"/><path d="M1248.2 522.6L1248.2 518.4M1248.2 522.6L1252.2 521.3M1248.2 522.6L1250.6 526.0M1248.2 522.6L1245.7 526.0M1248.2 522.6L1244.2 521.3" stroke="#000000" stroke-width="1.9" stroke-linecap="round"/><path d="M1260.9 523.0L1260.9 518.8M1260.9 523.0L1264.9 521.7M1260.9 523.0L1263.4 526.4M1260.9 523.0L1258.4 526.4M1260.9 523.0L1256.9 521.7" stroke="#000000" stroke-width="1.9" stroke-linecap="round"/><path d="M1273.7 523.5L1273.7 519.3M1273.7 523.5L1277.7 522.2M1273.7 523.5L1276.1 526.9M1273.7 523.5L1271.2 526.9M1273.7 523.5L1269.7 522.2" stroke="#000000" stroke-width="1.9" stroke-linecap="round"/><path d="M1286.4 523.8L1286.4 519.6M1286.4 523.8L1290.4 522.5M1286.4 523.8L1288.9 527.2M1286.4 523.8L1283.9 527.2M1286.4 523.8L1282.4 522.5" stroke="#000000" stroke-width="1.9" stroke-linecap="round"/><path d="M1299.2 524.2L1299.2 520.0M1299.2 524.2L1303.1 522.9M1299.2 524.2L1301.6 527.6M1299.2 524.2L1296.7 527.6M1299.2 524.2L1295.2 522.9" stroke="#000000" stroke-width="1.9" stroke-linecap="round"/><path d="M1311.9 524.5L1311.9 520.3M1311.9 524.5L1315.9 523.2M1311.9 524.5L1314.4 527.9M1311.9 524.5L1309.4 527.9M1311.9 524.5L1307.9 523.2" stroke="#000000" stroke-width="1.9" stroke-linecap="round"/><path d="M1324.6 524.8L1324.6 520.6M1324.6 524.8L1328.6 523.5M1324.6 524.8L1327.1 528.2M1324.6 524.8L1322.2 528.2M1324.6 524.8L1320.7 523.5" stroke="#000000" stroke-width="1.9" stroke-linecap="round"/><path d="M1337.4 525.1L1337.4 520.9M1337.4 525.1L1341.4 523.8M1337.4 525.1L1339.9 528.5M1337.4 525.1L1334.9 528.5M1337.4 525.1L1333.4 523.8" stroke="#000000" stroke-width="1.9" stroke-linecap="round"/><path d="M1350.1 525.3L1350.1 521.1M1350.1 525.3L1354.1 524.0M1350.1 525.3L1352.6 528.7M1350.1 525.3L1347.7 528.7M1350.1 525.3L1346.2 524.0" stroke="#000000" stroke-width="1.9" stroke-linecap="round"/><path d="M1362.9 525.5L1362.9 521.3M1362.9 525.5L1366.9 524.2M1362.9 525.5L1365.4 528.9M1362.9 525.5L1360.4 528.9M1362.9 525.5L1358.9 524.2" stroke="#000000" stroke-width="1.9" stroke-linecap="round"/><path d="M1375.6 525.6L1375.6 521.4M1375.6 525.6L1379.6 524.4M1375.6 525.6L1378.1 529.0M1375.6 525.6L1373.2 529.0M1375.6 525.6L1371.6 524.4" stroke="#000000" stroke-width="1.9" stroke-linecap="round"/><path d="M1388.4 525.8L1388.4 521.6M1388.4 525.8L1392.4 524.5M1388.4 525.8L1390.9 529.2M1388.4 525.8L1385.9 529.2M1388.4 525.8L1384.4 524.5" stroke="#000000" stroke-width="1.9" stroke-linecap="round"/><path d="M1401.1 525.9L1401.1 521.7M1401.1 525.9L1405.1 524.6M1401.1 525.9L1403.6 529.3M1401.1 525.9L1398.7 529.3M1401.1 525.9L1397.1 524.6" stroke="#000000" stroke-width="1.9" stroke-linecap="round"/><path d="M1413.9 526.1L1413.9 521.9M1413.9 526.1L1417.9 524.8M1413.9 526.1L1416.4 529.5M1413.9 526.1L1411.4 529.5M1413.9 526.1L1409.9 524.8" stroke="#000000" stroke-width="1.9" stroke-linecap="round"/><path d="M1426.6 526.1L1426.6 521.9M1426.6 526.1L1430.6 524.9M1426.6 526.1L1429.1 529.5M1426.6 526.1L1424.2 529.5M1426.6 526.1L1422.6 524.9" stroke="#000000" stroke-width="1.9" stroke-linecap="round"/><path d="M1439.4 526.2L1439.4 522.0M1439.4 526.2L1443.4 524.9M1439.4 526.2L1441.9 529.6M1439.4 526.2L1436.9 529.6M1439.4 526.2L1435.4 524.9" stroke="#000000" stroke-width="1.9" stroke-linecap="round"/><path d="M1452.1 526.3L1452.1 522.1M1452.1 526.3L1456.1 525.0M1452.1 526.3L1454.6 529.7M1452.1 526.3L1449.7 529.7M1452.1 526.3L1448.1 525.0" stroke="#000000" stroke-width="1.9" stroke-linecap="round"/><path d="M1464.9 526.4L1464.9 522.2M1464.9 526.4L1468.9 525.1M1464.9 526.4L1467.4 529.8M1464.9 526.4L1462.4 529.8M1464.9 526.4L1460.9 525.1" stroke="#000000" stroke-width="1.9" stroke-linecap="round"/><path d="M1477.6 526.5L1477.6 522.3M1477.6 526.5L1481.6 525.2M1477.6 526.5L1480.1 529.9M1477.6 526.5L1475.2 529.9M1477.6 526.5L1473.6 525.2" stroke="#000000" stroke-width="1.9" stroke-linecap="round"/><path d="M1490.4 526.5L1490.4 522.3M1490.4 526.5L1494.4 525.2M1490.4 526.5L1492.8 529.9M1490.4 526.5L1487.9 529.9M1490.4 526.5L1486.4 525.2" stroke="#000000" stroke-width="1.9" stroke-linecap="round"/><path d="M1503.1 526.6L1503.1 522.4M1503.1 526.6L1507.1 525.3M1503.1 526.6L1505.6 530.0M1503.1 526.6L1500.7 530.0M1503.1 526.6L1499.1 525.3" stroke="#000000" stroke-width="1.9" stroke-linecap="round"/><path d="M1515.9 526.6L1515.9 522.4M1515.9 526.6L1519.9 525.3M1515.9 526.6L1518.3 530.0M1515.9 526.6L1513.4 530.0M1515.9 526.6L1511.9 525.3" stroke="#000000" stroke-width="1.9" stroke-linecap="round"/></g><g clip-path="url(#clp2)"><path d="M891.9 6.3L895.9 10.3L891.9 14.3L887.9 10.3Z" fill="none" stroke="#FF00FF" stroke-width="2.2"/><path d="M895.2 54.3L899.2 58.3L895.2 62.3L891.2 58.3Z" fill="none" stroke="#FF00FF" stroke-width="2.2"/><path d="M898.9 97.0L902.9 101.0L898.9 105.0L894.9 101.0Z" fill="none" stroke="#FF00FF" stroke-width="2.2"/><path d="M902.2 133.0L906.2 137.0L902.2 141.0L898.2 137.0Z" fill="none" stroke="#FF00FF" stroke-width="2.2"/><path d="M905.5 168.0L909.5 172.0L905.5 176.0L901.5 172.0Z" fill="none" stroke="#FF00FF" stroke-width="2.2"/><path d="M907.6 195.5L911.6 199.5L907.6 203.5L903.6 199.5Z" fill="none" stroke="#FF00FF" stroke-width="2.2"/><path d="M910.9 220.7L914.9 224.7L910.9 228.7L906.9 224.7Z" fill="none" stroke="#FF00FF" stroke-width="2.2"/><path d="M914.3 242.7L918.3 246.7L914.3 250.7L910.3 246.7Z" fill="none" stroke="#FF00FF" stroke-width="2.2"/><path d="M917.4 263.7L921.4 267.7L917.4 271.7L913.4 267.7Z" fill="none" stroke="#FF00FF" stroke-width="2.2"/><path d="M923.7 303.8L927.7 307.8L923.7 311.8L919.7 307.8Z" fill="none" stroke="#FF00FF" stroke-width="2.2"/><path d="M930.1 337.5L934.1 341.5L930.1 345.5L926.1 341.5Z" fill="none" stroke="#FF00FF" stroke-width="2.2"/><path d="M937.0 365.4L941.0 369.4L937.0 373.4L933.0 369.4Z" fill="none" stroke="#FF00FF" stroke-width="2.2"/><path d="M944.0 388.7L948.0 392.7L944.0 396.7L940.0 392.7Z" fill="none" stroke="#FF00FF" stroke-width="2.2"/><path d="M950.5 408.4L954.5 412.4L950.5 416.4L946.5 412.4Z" fill="none" stroke="#FF00FF" stroke-width="2.2"/><path d="M957.1 424.3L961.1 428.3L957.1 432.3L953.1 428.3Z" fill="none" stroke="#FF00FF" stroke-width="2.2"/><path d="M969.8 448.7L973.8 452.7L969.8 456.7L965.8 452.7Z" fill="none" stroke="#FF00FF" stroke-width="2.2"/><path d="M982.4 467.4L986.4 471.4L982.4 475.4L978.4 471.4Z" fill="none" stroke="#FF00FF" stroke-width="2.2"/><path d="M995.6 481.2L999.6 485.2L995.6 489.2L991.6 485.2Z" fill="none" stroke="#FF00FF" stroke-width="2.2"/><path d="M1008.8 491.6L1012.8 495.6L1008.8 499.6L1004.8 495.6Z" fill="none" stroke="#FF00FF" stroke-width="2.2"/><path d="M1022.5 499.6L1026.5 503.6L1022.5 507.6L1018.5 503.6Z" fill="none" stroke="#FF00FF" stroke-width="2.2"/><path d="M1034.9 504.5L1038.9 508.5L1034.9 512.5L1030.9 508.5Z" fill="none" stroke="#FF00FF" stroke-width="2.2"/><path d="M1048.1 509.2L1052.1 513.2L1048.1 517.2L1044.1 513.2Z" fill="none" stroke="#FF00FF" stroke-width="2.2"/><path d="M1061.5 512.5L1065.5 516.5L1061.5 520.5L1057.5 516.5Z" fill="none" stroke="#FF00FF" stroke-width="2.2"/><path d="M1074.7 515.2L1078.7 519.2L1074.7 523.2L1070.7 519.2Z" fill="none" stroke="#FF00FF" stroke-width="2.2"/><path d="M1087.6 517.3L1091.6 521.3L1087.6 525.3L1083.6 521.3Z" fill="none" stroke="#FF00FF" stroke-width="2.2"/><path d="M1100.3 518.8L1104.3 522.8L1100.3 526.8L1096.3 522.8Z" fill="none" stroke="#FF00FF" stroke-width="2.2"/><path d="M1113.2 520.5L1117.2 524.5L1113.2 528.5L1109.2 524.5Z" fill="none" stroke="#FF00FF" stroke-width="2.2"/><path d="M1126.4 521.6L1130.4 525.6L1126.4 529.6L1122.4 525.6Z" fill="none" stroke="#FF00FF" stroke-width="2.2"/><path d="M1138.7 522.4L1142.7 526.4L1138.7 530.4L1134.7 526.4Z" fill="none" stroke="#FF00FF" stroke-width="2.2"/><path d="M1151.6 523.0L1155.6 527.0L1151.6 531.0L1147.6 527.0Z" fill="none" stroke="#FF00FF" stroke-width="2.2"/><path d="M1165.4 523.3L1169.4 527.3L1165.4 531.3L1161.4 527.3Z" fill="none" stroke="#FF00FF" stroke-width="2.2"/><path d="M1178.6 523.7L1182.6 527.7L1178.6 531.7L1174.6 527.7Z" fill="none" stroke="#FF00FF" stroke-width="2.2"/><path d="M1184.4 523.7L1188.4 527.7L1184.4 531.7L1180.4 527.7Z" fill="none" stroke="#FF00FF" stroke-width="2.2"/><path d="M1197.2 523.8L1201.2 527.8L1197.2 531.8L1193.2 527.8Z" fill="none" stroke="#FF00FF" stroke-width="2.2"/><path d="M1209.9 523.8L1213.9 527.8L1209.9 531.8L1205.9 527.8Z" fill="none" stroke="#FF00FF" stroke-width="2.2"/><path d="M1222.7 523.9L1226.7 527.9L1222.7 531.9L1218.7 527.9Z" fill="none" stroke="#FF00FF" stroke-width="2.2"/><path d="M1235.4 523.9L1239.4 527.9L1235.4 531.9L1231.4 527.9Z" fill="none" stroke="#FF00FF" stroke-width="2.2"/><path d="M1248.2 523.9L1252.2 527.9L1248.2 531.9L1244.2 527.9Z" fill="none" stroke="#FF00FF" stroke-width="2.2"/><path d="M1260.9 524.0L1264.9 528.0L1260.9 532.0L1256.9 528.0Z" fill="none" stroke="#FF00FF" stroke-width="2.2"/><path d="M1273.7 524.0L1277.7 528.0L1273.7 532.0L1269.7 528.0Z" fill="none" stroke="#FF00FF" stroke-width="2.2"/><path d="M1286.4 524.0L1290.4 528.0L1286.4 532.0L1282.4 528.0Z" fill="none" stroke="#FF00FF" stroke-width="2.2"/><path d="M1299.2 524.0L1303.2 528.0L1299.2 532.0L1295.2 528.0Z" fill="none" stroke="#FF00FF" stroke-width="2.2"/><path d="M1311.9 524.0L1315.9 528.0L1311.9 532.0L1307.9 528.0Z" fill="none" stroke="#FF00FF" stroke-width="2.2"/><path d="M1324.6 524.0L1328.6 528.0L1324.6 532.0L1320.6 528.0Z" fill="none" stroke="#FF00FF" stroke-width="2.2"/><path d="M1337.4 524.1L1341.4 528.1L1337.4 532.1L1333.4 528.1Z" fill="none" stroke="#FF00FF" stroke-width="2.2"/><path d="M1350.1 524.1L1354.1 528.1L1350.1 532.1L1346.1 528.1Z" fill="none" stroke="#FF00FF" stroke-width="2.2"/><path d="M1362.9 524.1L1366.9 528.1L1362.9 532.1L1358.9 528.1Z" fill="none" stroke="#FF00FF" stroke-width="2.2"/><path d="M1375.6 524.1L1379.6 528.1L1375.6 532.1L1371.6 528.1Z" fill="none" stroke="#FF00FF" stroke-width="2.2"/><path d="M1388.4 524.1L1392.4 528.1L1388.4 532.1L1384.4 528.1Z" fill="none" stroke="#FF00FF" stroke-width="2.2"/><path d="M1401.1 524.1L1405.1 528.1L1401.1 532.1L1397.1 528.1Z" fill="none" stroke="#FF00FF" stroke-width="2.2"/><path d="M1413.9 524.1L1417.9 528.1L1413.9 532.1L1409.9 528.1Z" fill="none" stroke="#FF00FF" stroke-width="2.2"/><path d="M1426.6 524.2L1430.6 528.2L1426.6 532.2L1422.6 528.2Z" fill="none" stroke="#FF00FF" stroke-width="2.2"/><path d="M1439.4 524.2L1443.4 528.2L1439.4 532.2L1435.4 528.2Z" fill="none" stroke="#FF00FF" stroke-width="2.2"/><path d="M1452.1 524.2L1456.1 528.2L1452.1 532.2L1448.1 528.2Z" fill="none" stroke="#FF00FF" stroke-width="2.2"/><path d="M1464.9 524.2L1468.9 528.2L1464.9 532.2L1460.9 528.2Z" fill="none" stroke="#FF00FF" stroke-width="2.2"/><path d="M1477.6 524.2L1481.6 528.2L1477.6 532.2L1473.6 528.2Z" fill="none" stroke="#FF00FF" stroke-width="2.2"/><path d="M1490.4 524.2L1494.4 528.2L1490.4 532.2L1486.4 528.2Z" fill="none" stroke="#FF00FF" stroke-width="2.2"/><path d="M1503.1 524.2L1507.1 528.2L1503.1 532.2L1499.1 528.2Z" fill="none" stroke="#FF00FF" stroke-width="2.2"/><path d="M1515.9 524.2L1519.9 528.2L1515.9 532.2L1511.9 528.2Z" fill="none" stroke="#FF00FF" stroke-width="2.2"/></g><g clip-path="url(#clp2)"><path d="M887.9 63.2L897.5 72.8M887.9 72.8L897.5 63.2" stroke="#00FF00" stroke-width="2.0"/><path d="M891.4 87.3L901.0 96.9M891.4 96.9L901.0 87.3" stroke="#00FF00" stroke-width="2.0"/><path d="M895.1 109.6L904.7 119.2M895.1 119.2L904.7 109.6" stroke="#00FF00" stroke-width="2.0"/><path d="M897.6 132.2L907.2 141.8M897.6 141.8L907.2 132.2" stroke="#00FF00" stroke-width="2.0"/><path d="M901.3 159.0L910.9 168.6M901.3 168.6L910.9 159.0" stroke="#00FF00" stroke-width="2.0"/><path d="M907.5 201.2L917.1 210.8M907.5 210.8L917.1 201.2" stroke="#00FF00" stroke-width="2.0"/><path d="M914.3 237.2L923.9 246.8M914.3 246.8L923.9 237.2" stroke="#00FF00" stroke-width="2.0"/><path d="M920.1 271.7L929.7 281.3M920.1 281.3L929.7 271.7" stroke="#00FF00" stroke-width="2.0"/><path d="M927.1 301.0L936.7 310.6M927.1 310.6L936.7 301.0" stroke="#00FF00" stroke-width="2.0"/><path d="M933.6 326.4L943.2 336.0M933.6 336.0L943.2 326.4" stroke="#00FF00" stroke-width="2.0"/><path d="M940.0 348.4L949.6 358.0M940.0 358.0L949.6 348.4" stroke="#00FF00" stroke-width="2.0"/><path d="M946.6 367.6L956.2 377.2M946.6 377.2L956.2 367.6" stroke="#00FF00" stroke-width="2.0"/><path d="M953.5 383.4L963.1 393.0M953.5 393.0L963.1 383.4" stroke="#00FF00" stroke-width="2.0"/><path d="M965.5 407.6L975.1 417.2M965.5 417.2L975.1 407.6" stroke="#00FF00" stroke-width="2.0"/><path d="M978.4 428.2L988.0 437.8M978.4 437.8L988.0 428.2" stroke="#00FF00" stroke-width="2.0"/><path d="M991.6 445.2L1001.2 454.8M991.6 454.8L1001.2 445.2" stroke="#00FF00" stroke-width="2.0"/><path d="M1004.8 457.8L1014.4 467.4M1004.8 467.4L1014.4 457.8" stroke="#00FF00" stroke-width="2.0"/><path d="M1018.3 468.0L1027.9 477.6M1018.3 477.6L1027.9 468.0" stroke="#00FF00" stroke-width="2.0"/><path d="M1030.6 475.7L1040.2 485.3M1030.6 485.3L1040.2 475.7" stroke="#00FF00" stroke-width="2.0"/><path d="M1043.8 482.6L1053.4 492.2M1043.8 492.2L1053.4 482.6" stroke="#00FF00" stroke-width="2.0"/><path d="M1057.6 488.6L1067.2 498.2M1057.6 498.2L1067.2 488.6" stroke="#00FF00" stroke-width="2.0"/><path d="M1070.5 493.3L1080.1 502.9M1070.5 502.9L1080.1 493.3" stroke="#00FF00" stroke-width="2.0"/><path d="M1082.8 497.4L1092.4 507.0M1082.8 507.0L1092.4 497.4" stroke="#00FF00" stroke-width="2.0"/><path d="M1096.6 501.0L1106.2 510.6M1096.6 510.6L1106.2 501.0" stroke="#00FF00" stroke-width="2.0"/><path d="M1108.4 503.7L1118.0 513.3M1108.4 513.3L1118.0 503.7" stroke="#00FF00" stroke-width="2.0"/><path d="M1122.1 505.9L1131.7 515.5M1122.1 515.5L1131.7 505.9" stroke="#00FF00" stroke-width="2.0"/><path d="M1134.5 508.4L1144.1 518.0M1134.5 518.0L1144.1 508.4" stroke="#00FF00" stroke-width="2.0"/><path d="M1147.7 510.0L1157.3 519.6M1147.7 519.6L1157.3 510.0" stroke="#00FF00" stroke-width="2.0"/><path d="M1154.1 510.6L1163.7 520.2M1154.1 520.2L1163.7 510.6" stroke="#00FF00" stroke-width="2.0"/><path d="M1166.8 511.6L1176.5 521.3M1166.8 521.3L1176.5 511.6" stroke="#00FF00" stroke-width="2.0"/><path d="M1179.6 512.5L1189.2 522.2M1179.6 522.2L1189.2 512.5" stroke="#00FF00" stroke-width="2.0"/><path d="M1192.3 513.3L1202.0 523.0M1192.3 523.0L1202.0 513.3" stroke="#00FF00" stroke-width="2.0"/><path d="M1205.1 514.0L1214.7 523.7M1205.1 523.7L1214.7 514.0" stroke="#00FF00" stroke-width="2.0"/><path d="M1217.8 514.7L1227.5 524.3M1217.8 524.3L1227.5 514.7" stroke="#00FF00" stroke-width="2.0"/><path d="M1230.6 515.3L1240.2 524.9M1230.6 524.9L1240.2 515.3" stroke="#00FF00" stroke-width="2.0"/><path d="M1243.3 515.8L1253.0 525.5M1243.3 525.5L1253.0 515.8" stroke="#00FF00" stroke-width="2.0"/><path d="M1256.1 516.3L1265.7 525.9M1256.1 525.9L1265.7 516.3" stroke="#00FF00" stroke-width="2.0"/><path d="M1268.8 516.7L1278.5 526.4M1268.8 526.4L1278.5 516.7" stroke="#00FF00" stroke-width="2.0"/><path d="M1281.6 517.1L1291.2 526.8M1281.6 526.8L1291.2 517.1" stroke="#00FF00" stroke-width="2.0"/><path d="M1294.3 517.5L1304.0 527.1M1294.3 527.1L1304.0 517.5" stroke="#00FF00" stroke-width="2.0"/><path d="M1307.1 517.8L1316.7 527.5M1307.1 527.5L1316.7 517.8" stroke="#00FF00" stroke-width="2.0"/><path d="M1319.8 518.1L1329.5 527.8M1319.8 527.8L1329.5 518.1" stroke="#00FF00" stroke-width="2.0"/><path d="M1332.6 518.4L1342.2 528.1M1332.6 528.1L1342.2 518.4" stroke="#00FF00" stroke-width="2.0"/><path d="M1345.3 518.7L1355.0 528.3M1345.3 528.3L1355.0 518.7" stroke="#00FF00" stroke-width="2.0"/><path d="M1358.1 518.9L1367.7 528.6M1358.1 528.6L1367.7 518.9" stroke="#00FF00" stroke-width="2.0"/><path d="M1370.8 519.1L1380.5 528.8M1370.8 528.8L1380.5 519.1" stroke="#00FF00" stroke-width="2.0"/><path d="M1383.6 519.3L1393.2 529.0M1383.6 529.0L1393.2 519.3" stroke="#00FF00" stroke-width="2.0"/><path d="M1396.3 519.5L1406.0 529.2M1396.3 529.2L1406.0 519.5" stroke="#00FF00" stroke-width="2.0"/><path d="M1409.1 519.7L1418.7 529.3M1409.1 529.3L1418.7 519.7" stroke="#00FF00" stroke-width="2.0"/><path d="M1421.8 519.9L1431.5 529.5M1421.8 529.5L1431.5 519.9" stroke="#00FF00" stroke-width="2.0"/><path d="M1434.6 520.0L1444.2 529.7M1434.6 529.7L1444.2 520.0" stroke="#00FF00" stroke-width="2.0"/><path d="M1447.3 520.2L1457.0 529.8M1447.3 529.8L1457.0 520.2" stroke="#00FF00" stroke-width="2.0"/><path d="M1460.1 520.3L1469.7 529.9M1460.1 529.9L1469.7 520.3" stroke="#00FF00" stroke-width="2.0"/><path d="M1472.8 520.4L1482.5 530.1M1472.8 530.1L1482.5 520.4" stroke="#00FF00" stroke-width="2.0"/><path d="M1485.6 520.5L1495.2 530.2M1485.6 530.2L1495.2 520.5" stroke="#00FF00" stroke-width="2.0"/><path d="M1498.3 520.7L1508.0 530.3M1498.3 530.3L1508.0 520.7" stroke="#00FF00" stroke-width="2.0"/><path d="M1511.0 520.8L1520.7 530.4M1511.0 530.4L1520.7 520.8" stroke="#00FF00" stroke-width="2.0"/></g><path d="M891.7 82.4L892.7 88.8L893.8 95.2L894.8 101.3L895.9 107.3L896.9 112.9L898.0 118.2L899.0 123.4L900.0 128.8L901.1 134.7L902.1 141.3L903.2 148.7L904.2 156.5L905.2 164.5L906.3 172.4L907.3 180.5L908.4 188.8L909.4 197.1L910.5 205.3L911.5 213.3L912.5 220.9L913.6 228.4L914.6 235.7L915.7 242.9L916.7 249.8L917.8 256.5L918.8 263.1L919.8 269.4L920.9 275.6L921.9 281.6L923.0 287.4L924.0 292.9L925.0 298.2L926.1 303.3L927.1 308.2L928.2 313.0L929.2 317.7L930.3 322.3L931.3 326.8L932.3 331.3L933.4 335.7L934.4 340.0L935.5 344.1L936.5 347.9L937.5 351.6L938.6 355.0L939.6 358.3L940.7 361.5L941.7 364.6L942.8 367.6L943.8 370.6L944.8 373.7L945.9 376.7L946.9 379.6L948.0 382.5L949.0 385.5L950.1 388.4L951.1 391.5L952.1 394.7L953.2 398.1L954.2 401.5L955.3 404.6L956.3 407.5L957.3 409.9L958.4 412.2L959.4 414.4L960.5 416.4L961.5 418.4L962.6 420.3L963.6 422.1L964.6 423.9L965.7 425.6L966.7 427.3L967.8 429.0L968.8 430.7L969.9 432.5L970.9 434.3L971.9 436.0L973.0 437.8L974.0 439.6L975.1 441.3L976.1 443.0L977.1 444.7L978.2 446.3L979.2 447.8L980.3 449.4L981.3 450.8L982.4 452.2L983.4 453.5L984.4 454.8L985.5 456.1L986.5 457.3L987.6 458.5L988.6 459.7L989.7 460.8L990.7 461.9L991.7 463.0L992.8 464.1L993.8 465.2L994.9 466.2L995.9 467.3L996.9 468.4L998.0 469.4L999.0 470.5L1000.1 471.5L1001.1 472.5L1002.2 473.5L1003.2 474.5L1004.2 475.4L1005.3 476.4L1006.3 477.3L1007.4 478.2L1008.4 479.0L1009.4 479.8L1010.5 480.6L1011.5 481.3L1012.6 482.0L1013.6 482.7L1014.7 483.4L1015.7 484.1L1016.7 484.7L1017.8 485.4L1018.8 486.0L1019.9 486.6L1020.9 487.2L1022.0 487.9L1023.0 488.5L1024.0 489.1L1025.1 489.8L1026.1 490.4L1027.2 491.0L1028.2 491.7L1029.2 492.3L1030.3 492.9L1031.3 493.5L1032.4 494.0L1033.4 494.6L1034.5 495.1L1035.5 495.6L1036.5 496.1L1037.6 496.5L1038.6 497.0L1039.7 497.4L1040.7 497.8L1041.8 498.2L1042.8 498.6L1043.8 499.0L1044.9 499.4L1045.9 499.8L1047.0 500.2L1048.0 500.6L1049.0 501.0L1050.1 501.3L1051.1 501.7L1052.2 502.1L1053.2 502.5L1054.3 502.8L1055.3 503.2L1056.3 503.5L1057.4 503.9L1058.4 504.2L1059.5 504.6L1060.5 504.9L1061.6 505.2L1062.6 505.5L1063.6 505.8L1064.7 506.1L1065.7 506.4L1066.8 506.7L1067.8 507.0L1068.8 507.2L1069.9 507.5L1070.9 507.8L1072.0 508.1L1073.0 508.3L1074.1 508.6L1075.1 508.9L1076.1 509.1L1077.2 509.4L1078.2 509.7L1079.3 510.0L1080.3 510.2L1081.4 510.5L1082.4 510.8L1083.4 511.0L1084.5 511.3L1085.5 511.5L1086.6 511.7L1087.6 511.9L1088.6 512.1L1089.7 512.3L1090.7 512.4L1091.8 512.6L1092.8 512.8L1093.9 512.9L1094.9 513.1L1095.9 513.3L1097.0 513.4L1098.0 513.5L1099.1 513.7L1100.1 513.8L1101.1 513.9L1102.2 514.0L1103.2 514.1L1104.3 514.2L1105.3 514.3L1106.4 514.4L1107.4 514.5L1108.4 514.7L1109.5 514.8L1110.5 514.9L1111.6 514.9L1112.6 515.0L1113.7 515.1L1114.7 515.2L1115.7 515.3L1116.8 515.4L1117.8 515.5L1118.9 515.6L1119.9 515.7L1120.9 515.8L1122.0 515.8L1123.0 515.9L1124.1 516.0L1125.1 516.1L1126.2 516.2L1127.2 516.2L1128.2 516.3L1129.3 516.4L1130.3 516.5L1131.4 516.6L1132.4 516.6L1133.5 516.7L1134.5 516.8L1135.5 516.8L1136.6 516.9L1137.6 517.0L1138.7 517.1L1139.7 517.1L1140.7 517.2L1141.8 517.3L1142.8 517.3L1143.9 517.4L1144.9 517.5L1146.0 517.5L1147.0 517.6L1148.0 517.7L1149.1 517.7L1150.1 517.8L1151.2 517.9L1152.2 517.9L1153.3 518.0L1154.3 518.1L1155.3 518.1L1156.4 518.2L1157.4 518.3L1158.5 518.3L1159.5 518.4L1160.5 518.5L1161.6 518.5L1162.6 518.6L1163.7 518.6L1164.7 518.7L1165.8 518.8L1166.8 518.8L1167.8 518.9L1168.9 518.9L1169.9 519.0L1171.0 519.0L1172.0 519.1L1173.0 519.2L1174.1 519.2L1175.1 519.3L1176.2 519.3L1177.2 519.4L1178.3 519.4L1179.3 519.5L1180.3 519.5L1181.4 519.6L1182.4 519.6L1183.5 519.7L1184.5 519.8L1185.6 519.8L1186.6 519.9L1187.6 519.9L1188.7 520.0L1189.7 520.0L1190.8 520.1L1191.8 520.1L1192.8 520.2L1193.9 520.2L1194.9 520.3L1196.0 520.3L1197.0 520.4L1198.1 520.4L1199.1 520.5L1200.1 520.5L1201.2 520.6L1202.2 520.6L1203.3 520.7L1204.3 520.7L1205.4 520.7L1206.4 520.8L1207.4 520.8L1208.5 520.9L1209.5 520.9L1210.6 521.0L1211.6 521.0L1212.6 521.1L1213.7 521.1L1214.7 521.2L1215.8 521.2L1216.8 521.3L1217.9 521.3L1218.9 521.4L1219.9 521.4L1221.0 521.5L1222.0 521.5L1223.1 521.5L1224.1 521.6L1225.2 521.6L1226.2 521.7L1227.2 521.7L1228.3 521.8L1229.3 521.8L1230.4 521.9L1231.4 521.9L1232.4 521.9L1233.5 522.0L1234.5 522.0L1235.6 522.1L1236.6 522.1L1237.7 522.2L1238.7 522.2L1239.7 522.2L1240.8 522.3L1241.8 522.3L1242.9 522.4L1243.9 522.4L1244.9 522.5L1246.0 522.5L1247.0 522.5L1248.1 522.6L1249.1 522.6L1250.2 522.7L1251.2 522.7L1252.2 522.7L1253.3 522.8L1254.3 522.8L1255.4 522.8L1256.4 522.9L1257.5 522.9L1258.5 523.0L1259.5 523.0L1260.6 523.0L1261.6 523.1L1262.7 523.1L1263.7 523.1L1264.7 523.2L1265.8 523.2L1266.8 523.2L1267.9 523.3L1268.9 523.3L1270.0 523.3L1271.0 523.4L1272.0 523.4L1273.1 523.4L1274.1 523.5L1275.2 523.5L1276.2 523.5L1277.3 523.6L1278.3 523.6L1279.3 523.6L1280.4 523.7L1281.4 523.7L1282.5 523.7L1283.5 523.7L1284.5 523.8L1285.6 523.8L1286.6 523.8L1287.7 523.9L1288.7 523.9L1289.8 523.9L1290.8 524.0L1291.8 524.0L1292.9 524.0L1293.9 524.0L1295.0 524.1L1296.0 524.1L1297.1 524.1L1298.1 524.2L1299.1 524.2L1300.2 524.2L1301.2 524.2L1302.3 524.3L1303.3 524.3L1304.3 524.3L1305.4 524.3L1306.4 524.4L1307.5 524.4L1308.5 524.4L1309.6 524.5L1310.6 524.5L1311.6 524.5L1312.7 524.5L1313.7 524.6L1314.8 524.6L1315.8 524.6L1316.8 524.6L1317.9 524.7L1318.9 524.7L1320.0 524.7L1321.0 524.7L1322.1 524.7L1323.1 524.8L1324.1 524.8L1325.2 524.8L1326.2 524.8L1327.3 524.9L1328.3 524.9L1329.4 524.9L1330.4 524.9L1331.4 524.9L1332.5 525.0L1333.5 525.0L1334.6 525.0L1335.6 525.0L1336.6 525.1L1337.7 525.1L1338.7 525.1L1339.8 525.1L1340.8 525.1L1341.9 525.1L1342.9 525.2L1343.9 525.2L1345.0 525.2L1346.0 525.2L1347.1 525.2L1348.1 525.3L1349.2 525.3L1350.2 525.3L1351.2 525.3L1352.3 525.3L1353.3 525.3L1354.4 525.4L1355.4 525.4L1356.4 525.4L1357.5 525.4L1358.5 525.4L1359.6 525.4L1360.6 525.4L1361.7 525.5L1362.7 525.5L1363.7 525.5L1364.8 525.5L1365.8 525.5L1366.9 525.5L1367.9 525.5L1369.0 525.6L1370.0 525.6L1371.0 525.6L1372.1 525.6L1373.1 525.6L1374.2 525.6L1375.2 525.6L1376.2 525.7L1377.3 525.7L1378.3 525.7L1379.4 525.7L1380.4 525.7L1381.5 525.7L1382.5 525.7L1383.5 525.7L1384.6 525.8L1385.6 525.8L1386.7 525.8L1387.7 525.8L1388.7 525.8L1389.8 525.8L1390.8 525.8L1391.9 525.8L1392.9 525.9L1394.0 525.9L1395.0 525.9L1396.0 525.9L1397.1 525.9L1398.1 525.9L1399.2 525.9L1400.2 525.9L1401.3 525.9L1402.3 525.9L1403.3 526.0L1404.4 526.0L1405.4 526.0L1406.5 526.0L1407.5 526.0L1408.5 526.0L1409.6 526.0L1410.6 526.0L1411.7 526.0L1412.7 526.0L1413.8 526.1L1414.8 526.1L1415.8 526.1L1416.9 526.1L1417.9 526.1L1419.0 526.1L1420.0 526.1L1421.1 526.1L1422.1 526.1L1423.1 526.1L1424.2 526.1L1425.2 526.1L1426.3 526.1L1427.3 526.2L1428.3 526.2L1429.4 526.2L1430.4 526.2L1431.5 526.2L1432.5 526.2L1433.6 526.2L1434.6 526.2L1435.6 526.2L1436.7 526.2L1437.7 526.2L1438.8 526.2L1439.8 526.2L1440.9 526.2L1441.9 526.3L1442.9 526.3L1444.0 526.3L1445.0 526.3L1446.1 526.3L1447.1 526.3L1448.1 526.3L1449.2 526.3L1450.2 526.3L1451.3 526.3L1452.3 526.3L1453.4 526.3L1454.4 526.3L1455.4 526.3L1456.5 526.4L1457.5 526.4L1458.6 526.4L1459.6 526.4L1460.7 526.4L1461.7 526.4L1462.7 526.4L1463.8 526.4L1464.8 526.4L1465.9 526.4L1466.9 526.4L1467.9 526.4L1469.0 526.4L1470.0 526.4L1471.1 526.4L1472.1 526.4L1473.2 526.4L1474.2 526.5L1475.2 526.5L1476.3 526.5L1477.3 526.5L1478.4 526.5L1479.4 526.5L1480.4 526.5L1481.5 526.5L1482.5 526.5L1483.6 526.5L1484.6 526.5L1485.7 526.5L1486.7 526.5L1487.7 526.5L1488.8 526.5L1489.8 526.5L1490.9 526.5L1491.9 526.5L1493.0 526.5L1494.0 526.5L1495.0 526.5L1496.1 526.5L1497.1 526.6L1498.2 526.6L1499.2 526.6L1500.2 526.6L1501.3 526.6L1502.3 526.6L1503.4 526.6L1504.4 526.6L1505.5 526.6L1506.5 526.6L1507.5 526.6L1508.6 526.6L1509.6 526.6L1510.7 526.6L1511.7 526.6L1512.8 526.6L1513.8 526.6L1514.8 526.6L1515.9 526.6" fill="none" stroke="#C82424" stroke-width="2.0" stroke-linejoin="round" clip-path="url(#clp2)"/><rect x="829.5" y="592.6" width="690.9" height="90.4" fill="none" stroke="#000" stroke-width="2.0"/><rect x="863.3" y="612.7" width="5.8" height="5.8" fill="none" stroke="#FF0000" stroke-width="2.0"/><text x="906.0" y="626.2" font-size="25.0" letter-spacing="0.90" xml:space="preserve"><tspan font-family="'Liberation Sans', sans-serif">&#961;</tspan></text><path d="M1026.3 615.6H1035.1M1030.7 611.2V620.0" stroke="#0000FF" stroke-width="2.0"/><text x="1069.7" y="626.2" font-size="25.0" letter-spacing="0.90" xml:space="preserve"><tspan font-family="'Liberation Sans', sans-serif">&#961;</tspan><tspan> + </tspan><tspan font-style="italic">p</tspan><tspan font-style="italic" font-size="20.0" dy="10.5">r</tspan></text><path d="M1190.8 615.6L1190.8 611.6M1190.8 615.6L1194.6 614.4M1190.8 615.6L1193.1 618.8M1190.8 615.6L1188.5 618.8M1190.8 615.6L1187.0 614.4" stroke="#000000" stroke-width="2.3" stroke-linecap="round"/><text x="1229.9" y="626.2" font-size="25.0" letter-spacing="0.90" xml:space="preserve"><tspan font-family="'Liberation Sans', sans-serif">&#961;</tspan><tspan> + </tspan><tspan font-style="italic">p</tspan><tspan font-style="italic" font-size="20.0" dy="10.5">t</tspan></text><path d="M1340.3 612.2L1343.7 615.6L1340.3 619.0L1336.9 615.6Z" fill="none" stroke="#FF00FF" stroke-width="2.2"/><text x="1379.5" y="626.2" font-size="25.0" letter-spacing="0.90" xml:space="preserve"><tspan font-family="'Liberation Sans', sans-serif">&#961;</tspan><tspan> + </tspan><tspan font-style="italic">p</tspan><tspan font-style="italic" font-size="20.0" dy="10.5">r</tspan><tspan dy="-10.5">+ 2 </tspan><tspan font-style="italic">p</tspan><tspan font-style="italic" font-size="20.0" dy="10.5">t</tspan></text><path d="M860.9 653.3L871.5 663.9M860.9 663.9L871.5 653.3" stroke="#00FF00" stroke-width="2.0"/><text x="906.0" y="666.6" font-size="25.0" letter-spacing="0.15" xml:space="preserve"><tspan font-family="'Liberation Sans', sans-serif">.&#961; - |</tspan><tspan font-style="italic">p</tspan><tspan font-style="italic" font-size="20.0" dy="10.5">r</tspan><tspan font-family="'Liberation Sans', sans-serif" dy="-10.5">|</tspan></text><path d="M999.7 657.1H1060.2" stroke="#C82424" stroke-width="2.2"/><text x="1069.7" y="666.6" font-size="25.0" letter-spacing="0.15" xml:space="preserve"><tspan font-family="'Liberation Sans', sans-serif">&#961; - |</tspan><tspan font-style="italic">p</tspan><tspan font-style="italic" font-size="20.0" dy="10.5">t</tspan><tspan font-family="'Liberation Sans', sans-serif" dy="-10.5">|</tspan></text>
<defs><clipPath id="clp3"><rect x="112.8" y="892.0" width="602.3" height="540.4"/></clipPath></defs><rect x="118.8" y="898.0" width="590.3" height="528.4" fill="none" stroke="#000" stroke-width="2.0"/><path d="M131.9 1426.4V1436.4M203.3 1426.4V1436.4M274.8 1426.4V1436.4M346.2 1426.4V1436.4M417.7 1426.4V1436.4M489.1 1426.4V1436.4M560.6 1426.4V1436.4M632.0 1426.4V1436.4M703.5 1426.4V1436.4M167.6 1426.4V1432.4M239.1 1426.4V1432.4M310.5 1426.4V1432.4M382.0 1426.4V1432.4M453.4 1426.4V1432.4M524.9 1426.4V1432.4M596.3 1426.4V1432.4M667.8 1426.4V1432.4M118.8 930.8H108.8M118.8 1005.1H108.8M118.8 1079.5H108.8M118.8 1153.8H108.8M118.8 1228.2H108.8M118.8 1302.6H108.8M118.8 1376.9H108.8M118.8 968.0H112.8M118.8 1042.3H112.8M118.8 1116.7H112.8M118.8 1191.0H112.8M118.8 1265.4H112.8M118.8 1339.7H112.8M118.8 1414.1H112.8" stroke="#000" stroke-width="2"/><text transform="translate(131.9 1460.7) scale(1 1.075)" text-anchor="middle" font-size="23.0">0.2</text><text transform="translate(203.3 1460.7) scale(1 1.075)" text-anchor="middle" font-size="23.0">0.3</text><text transform="translate(274.8 1460.7) scale(1 1.075)" text-anchor="middle" font-size="23.0">0.4</text><text transform="translate(346.2 1460.7) scale(1 1.075)" text-anchor="middle" font-size="23.0">0.5</text><text transform="translate(417.7 1460.7) scale(1 1.075)" text-anchor="middle" font-size="23.0">0.6</text><text transform="translate(489.1 1460.7) scale(1 1.075)" text-anchor="middle" font-size="23.0">0.7</text><text transform="translate(560.6 1460.7) scale(1 1.075)" text-anchor="middle" font-size="23.0">0.8</text><text transform="translate(632.0 1460.7) scale(1 1.075)" text-anchor="middle" font-size="23.0">0.9</text><text transform="translate(703.5 1460.7) scale(1 1.075)" text-anchor="middle" font-size="23.0">1.0</text><text transform="translate(103.9 939.6) scale(1 1.075)" text-anchor="end" font-size="23.0">0</text><text transform="translate(105.4 1013.9) scale(1 1.075)" text-anchor="end" font-size="23.0">&#8722;200</text><text transform="translate(105.4 1088.3) scale(1 1.075)" text-anchor="end" font-size="23.0">&#8722;400</text><text transform="translate(105.4 1162.6) scale(1 1.075)" text-anchor="end" font-size="23.0">&#8722;600</text><text transform="translate(105.4 1237.0) scale(1 1.075)" text-anchor="end" font-size="23.0">&#8722;800</text><text transform="translate(105.4 1311.4) scale(1 1.075)" text-anchor="end" font-size="23.0">&#8722;1000</text><text transform="translate(105.4 1385.7) scale(1 1.075)" text-anchor="end" font-size="23.0">&#8722;1200</text><text transform="translate(414.0 1483.2) scale(1 1.075)" text-anchor="middle" font-size="23.0" font-style="italic">r</text><g clip-path="url(#clp3)"><rect x="121.2" y="1030.6" width="7.1" height="7.1" fill="none" stroke="#FF0000" stroke-width="2.0"/><rect x="122.4" y="1021.7" width="7.1" height="7.1" fill="none" stroke="#FF0000" stroke-width="2.0"/><rect x="124.4" y="1013.4" width="7.1" height="7.1" fill="none" stroke="#FF0000" stroke-width="2.0"/><rect x="125.8" y="1005.9" width="7.1" height="7.1" fill="none" stroke="#FF0000" stroke-width="2.0"/><rect x="127.2" y="997.7" width="7.1" height="7.1" fill="none" stroke="#FF0000" stroke-width="2.0"/><rect x="128.6" y="990.8" width="7.1" height="7.1" fill="none" stroke="#FF0000" stroke-width="2.0"/><rect x="129.9" y="984.6" width="7.1" height="7.1" fill="none" stroke="#FF0000" stroke-width="2.0"/><rect x="131.3" y="978.4" width="7.1" height="7.1" fill="none" stroke="#FF0000" stroke-width="2.0"/><rect x="133.4" y="973.6" width="7.1" height="7.1" fill="none" stroke="#FF0000" stroke-width="2.0"/><rect x="135.4" y="968.1" width="7.1" height="7.1" fill="none" stroke="#FF0000" stroke-width="2.0"/><rect x="137.5" y="961.3" width="7.1" height="7.1" fill="none" stroke="#FF0000" stroke-width="2.0"/><rect x="139.6" y="955.1" width="7.1" height="7.1" fill="none" stroke="#FF0000" stroke-width="2.0"/><rect x="143.7" y="948.9" width="7.1" height="7.1" fill="none" stroke="#FF0000" stroke-width="2.0"/><rect x="149.9" y="940.0" width="7.1" height="7.1" fill="none" stroke="#FF0000" stroke-width="2.0"/><rect x="152.0" y="937.2" width="7.1" height="7.1" fill="none" stroke="#FF0000" stroke-width="2.0"/><rect x="158.1" y="929.5" width="7.1" height="7.1" fill="none" stroke="#FF0000" stroke-width="2.0"/><rect x="164.3" y="923.5" width="7.1" height="7.1" fill="none" stroke="#FF0000" stroke-width="2.0"/><rect x="170.4" y="920.3" width="7.1" height="7.1" fill="none" stroke="#FF0000" stroke-width="2.0"/><rect x="182.8" y="917.4" width="7.1" height="7.1" fill="none" stroke="#FF0000" stroke-width="2.0"/><rect x="195.1" y="917.3" width="7.1" height="7.1" fill="none" stroke="#FF0000" stroke-width="2.0"/><rect x="207.4" y="917.3" width="7.1" height="7.1" fill="none" stroke="#FF0000" stroke-width="2.0"/><rect x="219.7" y="917.3" width="7.1" height="7.1" fill="none" stroke="#FF0000" stroke-width="2.0"/><rect x="232.0" y="917.4" width="7.1" height="7.1" fill="none" stroke="#FF0000" stroke-width="2.0"/><rect x="244.3" y="917.4" width="7.1" height="7.1" fill="none" stroke="#FF0000" stroke-width="2.0"/><rect x="256.6" y="917.5" width="7.1" height="7.1" fill="none" stroke="#FF0000" stroke-width="2.0"/><rect x="268.9" y="918.4" width="7.1" height="7.1" fill="none" stroke="#FF0000" stroke-width="2.0"/><rect x="281.3" y="919.3" width="7.1" height="7.1" fill="none" stroke="#FF0000" stroke-width="2.0"/><rect x="293.6" y="920.3" width="7.1" height="7.1" fill="none" stroke="#FF0000" stroke-width="2.0"/><rect x="305.9" y="921.3" width="7.1" height="7.1" fill="none" stroke="#FF0000" stroke-width="2.0"/><rect x="318.2" y="922.0" width="7.1" height="7.1" fill="none" stroke="#FF0000" stroke-width="2.0"/><rect x="330.5" y="922.5" width="7.1" height="7.1" fill="none" stroke="#FF0000" stroke-width="2.0"/><rect x="342.8" y="922.8" width="7.1" height="7.1" fill="none" stroke="#FF0000" stroke-width="2.0"/><rect x="355.1" y="923.1" width="7.1" height="7.1" fill="none" stroke="#FF0000" stroke-width="2.0"/><rect x="367.5" y="923.4" width="7.1" height="7.1" fill="none" stroke="#FF0000" stroke-width="2.0"/><rect x="379.8" y="923.8" width="7.1" height="7.1" fill="none" stroke="#FF0000" stroke-width="2.0"/><rect x="392.1" y="924.1" width="7.1" height="7.1" fill="none" stroke="#FF0000" stroke-width="2.0"/><rect x="404.4" y="924.3" width="7.1" height="7.1" fill="none" stroke="#FF0000" stroke-width="2.0"/><rect x="416.7" y="924.6" width="7.1" height="7.1" fill="none" stroke="#FF0000" stroke-width="2.0"/><rect x="429.0" y="925.0" width="7.1" height="7.1" fill="none" stroke="#FF0000" stroke-width="2.0"/><rect x="441.3" y="925.3" width="7.1" height="7.1" fill="none" stroke="#FF0000" stroke-width="2.0"/><rect x="453.7" y="925.3" width="7.1" height="7.1" fill="none" stroke="#FF0000" stroke-width="2.0"/><rect x="466.0" y="925.3" width="7.1" height="7.1" fill="none" stroke="#FF0000" stroke-width="2.0"/><rect x="478.3" y="925.2" width="7.1" height="7.1" fill="none" stroke="#FF0000" stroke-width="2.0"/><rect x="490.6" y="925.2" width="7.1" height="7.1" fill="none" stroke="#FF0000" stroke-width="2.0"/><rect x="502.9" y="925.1" width="7.1" height="7.1" fill="none" stroke="#FF0000" stroke-width="2.0"/><rect x="515.2" y="925.1" width="7.1" height="7.1" fill="none" stroke="#FF0000" stroke-width="2.0"/><rect x="527.5" y="925.0" width="7.1" height="7.1" fill="none" stroke="#FF0000" stroke-width="2.0"/><rect x="539.9" y="924.9" width="7.1" height="7.1" fill="none" stroke="#FF0000" stroke-width="2.0"/><rect x="552.2" y="924.9" width="7.1" height="7.1" fill="none" stroke="#FF0000" stroke-width="2.0"/><rect x="564.5" y="924.9" width="7.1" height="7.1" fill="none" stroke="#FF0000" stroke-width="2.0"/><rect x="576.8" y="924.9" width="7.1" height="7.1" fill="none" stroke="#FF0000" stroke-width="2.0"/><rect x="589.1" y="924.8" width="7.1" height="7.1" fill="none" stroke="#FF0000" stroke-width="2.0"/><rect x="601.4" y="924.8" width="7.1" height="7.1" fill="none" stroke="#FF0000" stroke-width="2.0"/><rect x="613.7" y="924.8" width="7.1" height="7.1" fill="none" stroke="#FF0000" stroke-width="2.0"/><rect x="626.0" y="924.8" width="7.1" height="7.1" fill="none" stroke="#FF0000" stroke-width="2.0"/><rect x="638.4" y="924.8" width="7.1" height="7.1" fill="none" stroke="#FF0000" stroke-width="2.0"/><rect x="650.7" y="924.8" width="7.1" height="7.1" fill="none" stroke="#FF0000" stroke-width="2.0"/><rect x="663.0" y="924.7" width="7.1" height="7.1" fill="none" stroke="#FF0000" stroke-width="2.0"/><rect x="675.3" y="924.7" width="7.1" height="7.1" fill="none" stroke="#FF0000" stroke-width="2.0"/><rect x="687.6" y="924.7" width="7.1" height="7.1" fill="none" stroke="#FF0000" stroke-width="2.0"/><rect x="699.9" y="924.7" width="7.1" height="7.1" fill="none" stroke="#FF0000" stroke-width="2.0"/></g><g clip-path="url(#clp3)"><path d="M120.4 902.4H129.2M124.8 898.0V906.8" stroke="#0000FF" stroke-width="2.0"/><path d="M120.7 903.2H129.5M125.1 898.8V907.6" stroke="#0000FF" stroke-width="2.0"/><path d="M121.1 904.0H129.9M125.5 899.6V908.4" stroke="#0000FF" stroke-width="2.0"/><path d="M121.5 904.8H130.3M125.9 900.4V909.2" stroke="#0000FF" stroke-width="2.0"/><path d="M121.9 905.6H130.7M126.3 901.2V910.0" stroke="#0000FF" stroke-width="2.0"/><path d="M122.3 906.4H131.1M126.7 902.0V910.8" stroke="#0000FF" stroke-width="2.0"/><path d="M122.7 907.1H131.5M127.1 902.7V911.5" stroke="#0000FF" stroke-width="2.0"/><path d="M123.0 907.9H131.8M127.4 903.5V912.3" stroke="#0000FF" stroke-width="2.0"/><path d="M123.4 908.6H132.2M127.8 904.2V913.0" stroke="#0000FF" stroke-width="2.0"/><path d="M123.8 909.3H132.6M128.2 904.9V913.7" stroke="#0000FF" stroke-width="2.0"/><path d="M124.2 910.0H133.0M128.6 905.6V914.4" stroke="#0000FF" stroke-width="2.0"/><path d="M124.6 910.7H133.4M129.0 906.3V915.1" stroke="#0000FF" stroke-width="2.0"/><path d="M125.0 911.3H133.8M129.4 906.9V915.7" stroke="#0000FF" stroke-width="2.0"/><path d="M125.4 912.0H134.2M129.8 907.6V916.4" stroke="#0000FF" stroke-width="2.0"/><path d="M125.7 912.6H134.5M130.1 908.2V917.0" stroke="#0000FF" stroke-width="2.0"/><path d="M126.1 913.2H134.9M130.5 908.8V917.6" stroke="#0000FF" stroke-width="2.0"/><path d="M126.5 913.8H135.3M130.9 909.4V918.2" stroke="#0000FF" stroke-width="2.0"/><path d="M127.3 914.9H136.1M131.7 910.5V919.3" stroke="#0000FF" stroke-width="2.0"/><path d="M128.1 915.9H136.9M132.5 911.5V920.3" stroke="#0000FF" stroke-width="2.0"/><path d="M128.8 916.9H137.6M133.2 912.5V921.3" stroke="#0000FF" stroke-width="2.0"/><path d="M129.6 917.8H138.4M134.0 913.4V922.2" stroke="#0000FF" stroke-width="2.0"/><path d="M130.4 918.6H139.2M134.8 914.2V923.0" stroke="#0000FF" stroke-width="2.0"/><path d="M131.1 919.5H139.9M135.5 915.1V923.9" stroke="#0000FF" stroke-width="2.0"/><path d="M131.9 920.3H140.7M136.3 915.9V924.7" stroke="#0000FF" stroke-width="2.0"/><path d="M132.7 921.0H141.5M137.1 916.6V925.4" stroke="#0000FF" stroke-width="2.0"/><path d="M133.4 921.8H142.2M137.8 917.4V926.2" stroke="#0000FF" stroke-width="2.0"/><path d="M134.2 922.5H143.0M138.6 918.1V926.9" stroke="#0000FF" stroke-width="2.0"/><path d="M135.0 923.2H143.8M139.4 918.8V927.6" stroke="#0000FF" stroke-width="2.0"/><path d="M135.7 924.0H144.5M140.1 919.6V928.4" stroke="#0000FF" stroke-width="2.0"/><path d="M136.5 924.8H145.3M140.9 920.4V929.2" stroke="#0000FF" stroke-width="2.0"/><path d="M137.3 925.5H146.1M141.7 921.1V929.9" stroke="#0000FF" stroke-width="2.0"/><path d="M138.1 926.2H146.9M142.5 921.8V930.6" stroke="#0000FF" stroke-width="2.0"/><path d="M138.8 926.9H147.6M143.2 922.5V931.3" stroke="#0000FF" stroke-width="2.0"/><path d="M139.6 927.5H148.4M144.0 923.1V931.9" stroke="#0000FF" stroke-width="2.0"/><path d="M140.4 928.1H149.2M144.8 923.7V932.5" stroke="#0000FF" stroke-width="2.0"/><path d="M141.9 929.1H150.7M146.3 924.7V933.5" stroke="#0000FF" stroke-width="2.0"/><path d="M143.4 929.8H152.2M147.8 925.4V934.2" stroke="#0000FF" stroke-width="2.0"/><path d="M145.0 930.4H153.8M149.4 926.0V934.8" stroke="#0000FF" stroke-width="2.0"/><path d="M148.1 931.5H156.9M152.5 927.1V935.9" stroke="#0000FF" stroke-width="2.0"/><path d="M151.1 932.1H159.9M155.5 927.7V936.5" stroke="#0000FF" stroke-width="2.0"/><path d="M157.3 931.3H166.1M161.7 926.9V935.7" stroke="#0000FF" stroke-width="2.0"/><path d="M163.5 930.3H172.3M167.9 925.9V934.7" stroke="#0000FF" stroke-width="2.0"/><path d="M169.6 929.6H178.4M174.0 925.2V934.0" stroke="#0000FF" stroke-width="2.0"/><path d="M175.8 928.9H184.6M180.2 924.5V933.3" stroke="#0000FF" stroke-width="2.0"/><path d="M181.9 928.7H190.7M186.3 924.3V933.1" stroke="#0000FF" stroke-width="2.0"/><path d="M194.2 928.7H203.0M198.6 924.3V933.1" stroke="#0000FF" stroke-width="2.0"/><path d="M206.6 928.7H215.4M211.0 924.3V933.1" stroke="#0000FF" stroke-width="2.0"/><path d="M218.9 928.6H227.7M223.3 924.2V933.0" stroke="#0000FF" stroke-width="2.0"/><path d="M231.2 928.6H240.0M235.6 924.2V933.0" stroke="#0000FF" stroke-width="2.0"/><path d="M243.5 928.5H252.3M247.9 924.1V932.9" stroke="#0000FF" stroke-width="2.0"/><path d="M255.8 928.5H264.6M260.2 924.1V932.9" stroke="#0000FF" stroke-width="2.0"/><path d="M268.1 928.7H276.9M272.5 924.3V933.1" stroke="#0000FF" stroke-width="2.0"/><path d="M280.4 928.8H289.2M284.8 924.4V933.2" stroke="#0000FF" stroke-width="2.0"/><path d="M292.7 929.0H301.5M297.1 924.6V933.4" stroke="#0000FF" stroke-width="2.0"/><path d="M305.1 929.1H313.9M309.5 924.7V933.5" stroke="#0000FF" stroke-width="2.0"/><path d="M317.4 929.1H326.2M321.8 924.7V933.5" stroke="#0000FF" stroke-width="2.0"/><path d="M329.7 929.2H338.5M334.1 924.8V933.6" stroke="#0000FF" stroke-width="2.0"/><path d="M342.0 929.3H350.8M346.4 924.9V933.7" stroke="#0000FF" stroke-width="2.0"/><path d="M354.3 929.3H363.1M358.7 924.9V933.7" stroke="#0000FF" stroke-width="2.0"/><path d="M366.6 929.4H375.4M371.0 925.0V933.8" stroke="#0000FF" stroke-width="2.0"/><path d="M378.9 929.4H387.7M383.3 925.0V933.8" stroke="#0000FF" stroke-width="2.0"/><path d="M391.3 929.5H400.1M395.7 925.1V933.9" stroke="#0000FF" stroke-width="2.0"/><path d="M403.6 929.5H412.4M408.0 925.1V933.9" stroke="#0000FF" stroke-width="2.0"/><path d="M415.9 929.6H424.7M420.3 925.2V934.0" stroke="#0000FF" stroke-width="2.0"/><path d="M428.2 929.6H437.0M432.6 925.2V934.0" stroke="#0000FF" stroke-width="2.0"/><path d="M440.5 929.7H449.3M444.9 925.3V934.1" stroke="#0000FF" stroke-width="2.0"/><path d="M452.8 929.7H461.6M457.2 925.3V934.1" stroke="#0000FF" stroke-width="2.0"/><path d="M465.1 929.8H473.9M469.5 925.4V934.2" stroke="#0000FF" stroke-width="2.0"/><path d="M477.5 929.8H486.3M481.9 925.4V934.2" stroke="#0000FF" stroke-width="2.0"/><path d="M489.8 929.9H498.6M494.2 925.5V934.3" stroke="#0000FF" stroke-width="2.0"/><path d="M502.1 929.9H510.9M506.5 925.5V934.3" stroke="#0000FF" stroke-width="2.0"/><path d="M514.4 930.0H523.2M518.8 925.6V934.4" stroke="#0000FF" stroke-width="2.0"/><path d="M526.7 930.0H535.5M531.1 925.6V934.4" stroke="#0000FF" stroke-width="2.0"/><path d="M539.0 930.1H547.8M543.4 925.7V934.5" stroke="#0000FF" stroke-width="2.0"/><path d="M551.3 930.1H560.1M555.7 925.7V934.5" stroke="#0000FF" stroke-width="2.0"/><path d="M563.6 930.1H572.4M568.0 925.7V934.5" stroke="#0000FF" stroke-width="2.0"/><path d="M576.0 930.2H584.8M580.4 925.8V934.6" stroke="#0000FF" stroke-width="2.0"/><path d="M588.3 930.2H597.1M592.7 925.8V934.6" stroke="#0000FF" stroke-width="2.0"/><path d="M600.6 930.3H609.4M605.0 925.9V934.7" stroke="#0000FF" stroke-width="2.0"/><path d="M612.9 930.3H621.7M617.3 925.9V934.7" stroke="#0000FF" stroke-width="2.0"/><path d="M625.2 930.3H634.0M629.6 925.9V934.7" stroke="#0000FF" stroke-width="2.0"/><path d="M637.5 930.4H646.3M641.9 926.0V934.8" stroke="#0000FF" stroke-width="2.0"/><path d="M649.8 930.4H658.6M654.2 926.0V934.8" stroke="#0000FF" stroke-width="2.0"/><path d="M662.2 930.4H671.0M666.6 926.0V934.8" stroke="#0000FF" stroke-width="2.0"/><path d="M674.5 930.4H683.3M678.9 926.0V934.8" stroke="#0000FF" stroke-width="2.0"/><path d="M686.8 930.5H695.6M691.2 926.1V934.9" stroke="#0000FF" stroke-width="2.0"/><path d="M699.1 930.5H707.9M703.5 926.1V934.9" stroke="#0000FF" stroke-width="2.0"/></g><g clip-path="url(#clp3)"><path d="M124.8 1293.2L124.8 1289.6M124.8 1293.2L128.2 1292.1M124.8 1293.2L126.9 1296.1M124.8 1293.2L122.7 1296.1M124.8 1293.2L121.4 1292.1" stroke="#000000" stroke-width="1.6" stroke-linecap="round"/><path d="M125.8 1258.8L125.8 1255.2M125.8 1258.8L129.2 1257.7M125.8 1258.8L127.9 1261.7M125.8 1258.8L123.7 1261.7M125.8 1258.8L122.4 1257.7" stroke="#000000" stroke-width="1.6" stroke-linecap="round"/><path d="M127.2 1227.3L127.2 1223.7M127.2 1227.3L130.6 1226.2M127.2 1227.3L129.3 1230.2M127.2 1227.3L125.1 1230.2M127.2 1227.3L123.8 1226.2" stroke="#000000" stroke-width="1.6" stroke-linecap="round"/><path d="M129.1 1197.9L129.1 1194.3M129.1 1197.9L132.5 1196.8M129.1 1197.9L131.2 1200.8M129.1 1197.9L127.0 1200.8M129.1 1197.9L125.7 1196.8" stroke="#000000" stroke-width="1.6" stroke-linecap="round"/><path d="M131.9 1171.2L131.9 1167.6M131.9 1171.2L135.3 1170.1M131.9 1171.2L134.0 1174.1M131.9 1171.2L129.8 1174.1M131.9 1171.2L128.5 1170.1" stroke="#000000" stroke-width="1.6" stroke-linecap="round"/><path d="M133.8 1146.5L133.8 1142.9M133.8 1146.5L137.2 1145.4M133.8 1146.5L135.9 1149.4M133.8 1146.5L131.7 1149.4M133.8 1146.5L130.4 1145.4" stroke="#000000" stroke-width="1.6" stroke-linecap="round"/><path d="M135.2 1125.3L135.2 1121.7M135.2 1125.3L138.6 1124.2M135.2 1125.3L137.3 1128.2M135.2 1125.3L133.1 1128.2M135.2 1125.3L131.8 1124.2" stroke="#000000" stroke-width="1.6" stroke-linecap="round"/><path d="M137.4 1105.8L137.4 1102.2M137.4 1105.8L140.8 1104.7M137.4 1105.8L139.5 1108.7M137.4 1105.8L135.3 1108.7M137.4 1105.8L134.0 1104.7" stroke="#000000" stroke-width="1.6" stroke-linecap="round"/><path d="M139.6 1086.0L139.6 1082.4M139.6 1086.0L143.0 1084.9M139.6 1086.0L141.7 1088.9M139.6 1086.0L137.5 1088.9M139.6 1086.0L136.2 1084.9" stroke="#000000" stroke-width="1.6" stroke-linecap="round"/><path d="M142.9 1060.0L142.9 1056.4M142.9 1060.0L146.3 1058.9M142.9 1060.0L145.0 1062.9M142.9 1060.0L140.8 1062.9M142.9 1060.0L139.5 1058.9" stroke="#000000" stroke-width="1.6" stroke-linecap="round"/><path d="M144.8 1038.8L144.8 1035.2M144.8 1038.8L148.2 1037.7M144.8 1038.8L146.9 1041.7M144.8 1038.8L142.7 1041.7M144.8 1038.8L141.4 1037.7" stroke="#000000" stroke-width="1.6" stroke-linecap="round"/><path d="M147.0 1018.7L147.0 1015.1M147.0 1018.7L150.4 1017.6M147.0 1018.7L149.1 1021.6M147.0 1018.7L144.9 1021.6M147.0 1018.7L143.6 1017.6" stroke="#000000" stroke-width="1.6" stroke-linecap="round"/><path d="M149.7 1000.9L149.7 997.3M149.7 1000.9L153.1 999.8M149.7 1000.9L151.8 1003.8M149.7 1000.9L147.6 1003.8M149.7 1000.9L146.3 999.8" stroke="#000000" stroke-width="1.6" stroke-linecap="round"/><path d="M155.2 970.7L155.2 967.1M155.2 970.7L158.6 969.6M155.2 970.7L157.3 973.6M155.2 970.7L153.1 973.6M155.2 970.7L151.8 969.6" stroke="#000000" stroke-width="1.6" stroke-linecap="round"/><path d="M162.1 950.0L162.1 946.4M162.1 950.0L165.5 948.9M162.1 950.0L164.2 952.9M162.1 950.0L160.0 952.9M162.1 950.0L158.7 948.9" stroke="#000000" stroke-width="1.6" stroke-linecap="round"/><path d="M177.8 919.7L177.8 916.1M177.8 919.7L181.2 918.6M177.8 919.7L179.9 922.6M177.8 919.7L175.7 922.6M177.8 919.7L174.4 918.6" stroke="#000000" stroke-width="1.6" stroke-linecap="round"/><path d="M183.9 915.6L183.9 912.0M183.9 915.6L187.3 914.5M183.9 915.6L186.0 918.5M183.9 915.6L181.8 918.5M183.9 915.6L180.5 914.5" stroke="#000000" stroke-width="1.6" stroke-linecap="round"/><path d="M190.1 913.2L190.1 909.6M190.1 913.2L193.5 912.1M190.1 913.2L192.2 916.1M190.1 913.2L188.0 916.1M190.1 913.2L186.7 912.1" stroke="#000000" stroke-width="1.6" stroke-linecap="round"/><path d="M196.3 911.8L196.3 908.2M196.3 911.8L199.7 910.7M196.3 911.8L198.4 914.7M196.3 911.8L194.2 914.7M196.3 911.8L192.9 910.7" stroke="#000000" stroke-width="1.6" stroke-linecap="round"/><path d="M202.5 911.1L202.5 907.5M202.5 911.1L205.9 910.0M202.5 911.1L204.6 914.0M202.5 911.1L200.4 914.0M202.5 911.1L199.1 910.0" stroke="#000000" stroke-width="1.6" stroke-linecap="round"/><path d="M208.7 910.9L208.7 907.3M208.7 910.9L212.1 909.8M208.7 910.9L210.8 913.8M208.7 910.9L206.6 913.8M208.7 910.9L205.3 909.8" stroke="#000000" stroke-width="1.6" stroke-linecap="round"/><path d="M221.4 912.0L221.4 908.4M221.4 912.0L224.8 910.9M221.4 912.0L223.5 914.9M221.4 912.0L219.3 914.9M221.4 912.0L218.0 910.9" stroke="#000000" stroke-width="1.6" stroke-linecap="round"/><path d="M233.6 912.9L233.6 909.3M233.6 912.9L237.0 911.8M233.6 912.9L235.7 915.8M233.6 912.9L231.5 915.8M233.6 912.9L230.2 911.8" stroke="#000000" stroke-width="1.6" stroke-linecap="round"/><path d="M246.1 914.6L246.1 911.0M246.1 914.6L249.5 913.5M246.1 914.6L248.2 917.5M246.1 914.6L244.0 917.5M246.1 914.6L242.7 913.5" stroke="#000000" stroke-width="1.6" stroke-linecap="round"/><path d="M257.5 916.1L257.5 912.5M257.5 916.1L260.9 915.0M257.5 916.1L259.6 919.0M257.5 916.1L255.4 919.0M257.5 916.1L254.1 915.0" stroke="#000000" stroke-width="1.6" stroke-linecap="round"/><path d="M270.0 918.2L270.0 914.6M270.0 918.2L273.4 917.1M270.0 918.2L272.1 921.1M270.0 918.2L267.9 921.1M270.0 918.2L266.6 917.1" stroke="#000000" stroke-width="1.6" stroke-linecap="round"/><path d="M282.5 920.0L282.5 916.4M282.5 920.0L285.9 918.9M282.5 920.0L284.6 922.9M282.5 920.0L280.4 922.9M282.5 920.0L279.1 918.9" stroke="#000000" stroke-width="1.6" stroke-linecap="round"/><path d="M294.3 921.8L294.3 918.2M294.3 921.8L297.7 920.7M294.3 921.8L296.4 924.7M294.3 921.8L292.2 924.7M294.3 921.8L290.9 920.7" stroke="#000000" stroke-width="1.6" stroke-linecap="round"/><path d="M305.4 922.7L305.4 919.1M305.4 922.7L308.8 921.6M305.4 922.7L307.5 925.6M305.4 922.7L303.3 925.6M305.4 922.7L302.0 921.6" stroke="#000000" stroke-width="1.6" stroke-linecap="round"/><path d="M317.9 923.6L317.9 920.0M317.9 923.6L321.3 922.5M317.9 923.6L320.0 926.5M317.9 923.6L315.8 926.5M317.9 923.6L314.5 922.5" stroke="#000000" stroke-width="1.6" stroke-linecap="round"/><path d="M321.8 923.9L321.8 920.3M321.8 923.9L325.2 922.7M321.8 923.9L323.9 926.7M321.8 923.9L319.7 926.7M321.8 923.9L318.4 922.7" stroke="#000000" stroke-width="1.6" stroke-linecap="round"/><path d="M334.1 924.6L334.1 921.0M334.1 924.6L337.5 923.5M334.1 924.6L336.2 927.5M334.1 924.6L332.0 927.5M334.1 924.6L330.7 923.5" stroke="#000000" stroke-width="1.6" stroke-linecap="round"/><path d="M346.4 925.2L346.4 921.6M346.4 925.2L349.8 924.1M346.4 925.2L348.5 928.1M346.4 925.2L344.3 928.1M346.4 925.2L343.0 924.1" stroke="#000000" stroke-width="1.6" stroke-linecap="round"/><path d="M358.7 925.7L358.7 922.1M358.7 925.7L362.1 924.6M358.7 925.7L360.8 928.6M358.7 925.7L356.6 928.6M358.7 925.7L355.3 924.6" stroke="#000000" stroke-width="1.6" stroke-linecap="round"/><path d="M371.0 926.2L371.0 922.6M371.0 926.2L374.4 925.1M371.0 926.2L373.1 929.1M371.0 926.2L368.9 929.1M371.0 926.2L367.6 925.1" stroke="#000000" stroke-width="1.6" stroke-linecap="round"/><path d="M383.3 926.6L383.3 923.0M383.3 926.6L386.7 925.5M383.3 926.6L385.4 929.5M383.3 926.6L381.2 929.5M383.3 926.6L379.9 925.5" stroke="#000000" stroke-width="1.6" stroke-linecap="round"/><path d="M395.7 926.9L395.7 923.3M395.7 926.9L399.1 925.8M395.7 926.9L397.8 929.8M395.7 926.9L393.6 929.8M395.7 926.9L392.3 925.8" stroke="#000000" stroke-width="1.6" stroke-linecap="round"/><path d="M408.0 927.1L408.0 923.6M408.0 927.1L411.4 926.0M408.0 927.1L410.1 930.0M408.0 927.1L405.9 930.0M408.0 927.1L404.6 926.0" stroke="#000000" stroke-width="1.6" stroke-linecap="round"/><path d="M420.3 927.4L420.3 923.8M420.3 927.4L423.7 926.3M420.3 927.4L422.4 930.2M420.3 927.4L418.2 930.2M420.3 927.4L416.9 926.3" stroke="#000000" stroke-width="1.6" stroke-linecap="round"/><path d="M432.6 927.6L432.6 924.0M432.6 927.6L436.0 926.5M432.6 927.6L434.7 930.4M432.6 927.6L430.5 930.4M432.6 927.6L429.2 926.5" stroke="#000000" stroke-width="1.6" stroke-linecap="round"/><path d="M444.9 927.7L444.9 924.2M444.9 927.7L448.3 926.6M444.9 927.7L447.0 930.6M444.9 927.7L442.8 930.6M444.9 927.7L441.5 926.6" stroke="#000000" stroke-width="1.6" stroke-linecap="round"/><path d="M457.2 927.9L457.2 924.3M457.2 927.9L460.6 926.8M457.2 927.9L459.3 930.8M457.2 927.9L455.1 930.8M457.2 927.9L453.8 926.8" stroke="#000000" stroke-width="1.6" stroke-linecap="round"/><path d="M469.5 928.0L469.5 924.4M469.5 928.0L472.9 926.9M469.5 928.0L471.6 930.9M469.5 928.0L467.4 930.9M469.5 928.0L466.1 926.9" stroke="#000000" stroke-width="1.6" stroke-linecap="round"/><path d="M481.9 928.1L481.9 924.5M481.9 928.1L485.2 927.0M481.9 928.1L484.0 931.0M481.9 928.1L479.8 931.0M481.9 928.1L478.5 927.0" stroke="#000000" stroke-width="1.6" stroke-linecap="round"/><path d="M494.2 928.2L494.2 924.6M494.2 928.2L497.6 927.1M494.2 928.2L496.3 931.1M494.2 928.2L492.1 931.1M494.2 928.2L490.8 927.1" stroke="#000000" stroke-width="1.6" stroke-linecap="round"/><path d="M506.5 928.2L506.5 924.6M506.5 928.2L509.9 927.1M506.5 928.2L508.6 931.1M506.5 928.2L504.4 931.1M506.5 928.2L503.1 927.1" stroke="#000000" stroke-width="1.6" stroke-linecap="round"/><path d="M518.8 928.3L518.8 924.7M518.8 928.3L522.2 927.1M518.8 928.3L520.9 931.1M518.8 928.3L516.7 931.1M518.8 928.3L515.4 927.1" stroke="#000000" stroke-width="1.6" stroke-linecap="round"/><path d="M531.1 928.3L531.1 924.7M531.1 928.3L534.5 927.2M531.1 928.3L533.2 931.2M531.1 928.3L529.0 931.2M531.1 928.3L527.7 927.2" stroke="#000000" stroke-width="1.6" stroke-linecap="round"/><path d="M543.4 928.3L543.4 924.7M543.4 928.3L546.8 927.2M543.4 928.3L545.5 931.2M543.4 928.3L541.3 931.2M543.4 928.3L540.0 927.2" stroke="#000000" stroke-width="1.6" stroke-linecap="round"/><path d="M555.7 928.3L555.7 924.8M555.7 928.3L559.1 927.2M555.7 928.3L557.8 931.2M555.7 928.3L553.6 931.2M555.7 928.3L552.3 927.2" stroke="#000000" stroke-width="1.6" stroke-linecap="round"/><path d="M568.0 928.4L568.0 924.8M568.0 928.4L571.4 927.3M568.0 928.4L570.1 931.3M568.0 928.4L566.0 931.3M568.0 928.4L564.7 927.3" stroke="#000000" stroke-width="1.6" stroke-linecap="round"/><path d="M580.4 928.4L580.4 924.8M580.4 928.4L583.8 927.3M580.4 928.4L582.5 931.3M580.4 928.4L578.3 931.3M580.4 928.4L577.0 927.3" stroke="#000000" stroke-width="1.6" stroke-linecap="round"/><path d="M592.7 928.4L592.7 924.8M592.7 928.4L596.1 927.3M592.7 928.4L594.8 931.3M592.7 928.4L590.6 931.3M592.7 928.4L589.3 927.3" stroke="#000000" stroke-width="1.6" stroke-linecap="round"/><path d="M605.0 928.4L605.0 924.9M605.0 928.4L608.4 927.3M605.0 928.4L607.1 931.3M605.0 928.4L602.9 931.3M605.0 928.4L601.6 927.3" stroke="#000000" stroke-width="1.6" stroke-linecap="round"/><path d="M617.3 928.4L617.3 924.9M617.3 928.4L620.7 927.3M617.3 928.4L619.4 931.3M617.3 928.4L615.2 931.3M617.3 928.4L613.9 927.3" stroke="#000000" stroke-width="1.6" stroke-linecap="round"/><path d="M629.6 928.5L629.6 924.9M629.6 928.5L633.0 927.4M629.6 928.5L631.7 931.3M629.6 928.5L627.5 931.3M629.6 928.5L626.2 927.4" stroke="#000000" stroke-width="1.6" stroke-linecap="round"/><path d="M641.9 928.5L641.9 924.9M641.9 928.5L645.3 927.4M641.9 928.5L644.0 931.4M641.9 928.5L639.8 931.4M641.9 928.5L638.5 927.4" stroke="#000000" stroke-width="1.6" stroke-linecap="round"/><path d="M654.2 928.5L654.2 924.9M654.2 928.5L657.6 927.4M654.2 928.5L656.3 931.4M654.2 928.5L652.1 931.4M654.2 928.5L650.8 927.4" stroke="#000000" stroke-width="1.6" stroke-linecap="round"/><path d="M666.6 928.5L666.6 924.9M666.6 928.5L670.0 927.4M666.6 928.5L668.7 931.4M666.6 928.5L664.5 931.4M666.6 928.5L663.2 927.4" stroke="#000000" stroke-width="1.6" stroke-linecap="round"/><path d="M678.9 928.5L678.9 924.9M678.9 928.5L682.3 927.4M678.9 928.5L681.0 931.4M678.9 928.5L676.8 931.4M678.9 928.5L675.5 927.4" stroke="#000000" stroke-width="1.6" stroke-linecap="round"/><path d="M691.2 928.5L691.2 924.9M691.2 928.5L694.6 927.4M691.2 928.5L693.3 931.4M691.2 928.5L689.1 931.4M691.2 928.5L687.8 927.4" stroke="#000000" stroke-width="1.6" stroke-linecap="round"/><path d="M703.5 928.5L703.5 924.9M703.5 928.5L706.9 927.4M703.5 928.5L705.6 931.4M703.5 928.5L701.4 931.4M703.5 928.5L700.1 927.4" stroke="#000000" stroke-width="1.6" stroke-linecap="round"/></g><g clip-path="url(#clp3)"><path d="M124.8 1418.1L129.0 1422.3L124.8 1426.5L120.6 1422.3Z" fill="none" stroke="#FF00FF" stroke-width="2.2"/><path d="M126.4 1370.8L130.6 1375.0L126.4 1379.2L122.2 1375.0Z" fill="none" stroke="#FF00FF" stroke-width="2.2"/><path d="M127.7 1327.7L131.9 1331.9L127.7 1336.1L123.5 1331.9Z" fill="none" stroke="#FF00FF" stroke-width="2.2"/><path d="M129.7 1288.7L133.9 1292.9L129.7 1297.1L125.5 1292.9Z" fill="none" stroke="#FF00FF" stroke-width="2.2"/><path d="M131.3 1253.5L135.5 1257.7L131.3 1261.9L127.1 1257.7Z" fill="none" stroke="#FF00FF" stroke-width="2.2"/><path d="M132.7 1221.1L136.9 1225.3L132.7 1229.5L128.5 1225.3Z" fill="none" stroke="#FF00FF" stroke-width="2.2"/><path d="M134.3 1191.5L138.5 1195.7L134.3 1199.9L130.1 1195.7Z" fill="none" stroke="#FF00FF" stroke-width="2.2"/><path d="M135.6 1164.3L139.8 1168.5L135.6 1172.7L131.4 1168.5Z" fill="none" stroke="#FF00FF" stroke-width="2.2"/><path d="M137.4 1140.1L141.6 1144.3L137.4 1148.5L133.2 1144.3Z" fill="none" stroke="#FF00FF" stroke-width="2.2"/><path d="M140.1 1102.4L144.3 1106.6L140.1 1110.8L135.9 1106.6Z" fill="none" stroke="#FF00FF" stroke-width="2.2"/><path d="M142.9 1070.3L147.1 1074.5L142.9 1078.7L138.7 1074.5Z" fill="none" stroke="#FF00FF" stroke-width="2.2"/><path d="M145.6 1042.8L149.8 1047.0L145.6 1051.2L141.4 1047.0Z" fill="none" stroke="#FF00FF" stroke-width="2.2"/><path d="M148.4 1019.5L152.6 1023.7L148.4 1027.9L144.2 1023.7Z" fill="none" stroke="#FF00FF" stroke-width="2.2"/><path d="M155.2 979.6L159.4 983.8L155.2 988.0L151.0 983.8Z" fill="none" stroke="#FF00FF" stroke-width="2.2"/><path d="M162.1 951.3L166.3 955.5L162.1 959.7L157.9 955.5Z" fill="none" stroke="#FF00FF" stroke-width="2.2"/><path d="M173.0 919.0L177.2 923.2L173.0 927.4L168.8 923.2Z" fill="none" stroke="#FF00FF" stroke-width="2.2"/><path d="M179.1 910.7L183.3 914.9L179.1 919.1L174.9 914.9Z" fill="none" stroke="#FF00FF" stroke-width="2.2"/><path d="M185.3 905.6L189.5 909.8L185.3 914.0L181.1 909.8Z" fill="none" stroke="#FF00FF" stroke-width="2.2"/><path d="M191.5 901.8L195.7 906.0L191.5 910.2L187.3 906.0Z" fill="none" stroke="#FF00FF" stroke-width="2.2"/><path d="M197.7 899.7L201.9 903.9L197.7 908.1L193.5 903.9Z" fill="none" stroke="#FF00FF" stroke-width="2.2"/><path d="M203.5 899.0L207.7 903.2L203.5 907.4L199.3 903.2Z" fill="none" stroke="#FF00FF" stroke-width="2.2"/><path d="M209.7 899.7L213.9 903.9L209.7 908.1L205.5 903.9Z" fill="none" stroke="#FF00FF" stroke-width="2.2"/><path d="M221.4 900.6L225.6 904.8L221.4 909.0L217.2 904.8Z" fill="none" stroke="#FF00FF" stroke-width="2.2"/><path d="M233.6 903.3L237.8 907.5L233.6 911.7L229.4 907.5Z" fill="none" stroke="#FF00FF" stroke-width="2.2"/><path d="M246.1 906.0L250.3 910.2L246.1 914.4L241.9 910.2Z" fill="none" stroke="#FF00FF" stroke-width="2.2"/><path d="M257.5 908.7L261.7 912.9L257.5 917.1L253.3 912.9Z" fill="none" stroke="#FF00FF" stroke-width="2.2"/><path d="M270.0 911.3L274.2 915.5L270.0 919.7L265.8 915.5Z" fill="none" stroke="#FF00FF" stroke-width="2.2"/><path d="M282.5 913.1L286.7 917.3L282.5 921.5L278.3 917.3Z" fill="none" stroke="#FF00FF" stroke-width="2.2"/><path d="M294.3 914.9L298.5 919.1L294.3 923.3L290.1 919.1Z" fill="none" stroke="#FF00FF" stroke-width="2.2"/><path d="M305.4 916.7L309.6 920.9L305.4 925.1L301.2 920.9Z" fill="none" stroke="#FF00FF" stroke-width="2.2"/><path d="M317.9 918.5L322.1 922.7L317.9 926.9L313.7 922.7Z" fill="none" stroke="#FF00FF" stroke-width="2.2"/><path d="M329.5 919.0L333.7 923.2L329.5 927.4L325.3 923.2Z" fill="none" stroke="#FF00FF" stroke-width="2.2"/><path d="M342.3 919.9L346.5 924.1L342.3 928.3L338.1 924.1Z" fill="none" stroke="#FF00FF" stroke-width="2.2"/><path d="M353.6 920.8L357.8 925.0L353.6 929.2L349.4 925.0Z" fill="none" stroke="#FF00FF" stroke-width="2.2"/><path d="M366.1 921.7L370.3 925.9L366.1 930.1L361.9 925.9Z" fill="none" stroke="#FF00FF" stroke-width="2.2"/><path d="M377.7 922.6L381.9 926.8L377.7 931.0L373.5 926.8Z" fill="none" stroke="#FF00FF" stroke-width="2.2"/><path d="M389.3 922.9L393.5 927.1L389.3 931.3L385.1 927.1Z" fill="none" stroke="#FF00FF" stroke-width="2.2"/><path d="M401.8 923.5L406.0 927.7L401.8 931.9L397.6 927.7Z" fill="none" stroke="#FF00FF" stroke-width="2.2"/><path d="M414.3 923.8L418.5 928.0L414.3 932.2L410.1 928.0Z" fill="none" stroke="#FF00FF" stroke-width="2.2"/><path d="M426.8 924.4L431.0 928.6L426.8 932.8L422.6 928.6Z" fill="none" stroke="#FF00FF" stroke-width="2.2"/><path d="M438.4 924.7L442.6 928.9L438.4 933.1L434.2 928.9Z" fill="none" stroke="#FF00FF" stroke-width="2.2"/><path d="M450.0 925.1L454.2 929.3L450.0 933.5L445.8 929.3Z" fill="none" stroke="#FF00FF" stroke-width="2.2"/><path d="M457.2 925.1L461.4 929.3L457.2 933.5L453.0 929.3Z" fill="none" stroke="#FF00FF" stroke-width="2.2"/><path d="M469.5 925.1L473.7 929.3L469.5 933.5L465.3 929.3Z" fill="none" stroke="#FF00FF" stroke-width="2.2"/><path d="M481.9 925.1L486.1 929.3L481.9 933.5L477.7 929.3Z" fill="none" stroke="#FF00FF" stroke-width="2.2"/><path d="M494.2 925.0L498.4 929.2L494.2 933.4L490.0 929.2Z" fill="none" stroke="#FF00FF" stroke-width="2.2"/><path d="M506.5 925.0L510.7 929.2L506.5 933.4L502.3 929.2Z" fill="none" stroke="#FF00FF" stroke-width="2.2"/><path d="M518.8 924.9L523.0 929.1L518.8 933.3L514.6 929.1Z" fill="none" stroke="#FF00FF" stroke-width="2.2"/><path d="M531.1 924.9L535.3 929.1L531.1 933.3L526.9 929.1Z" fill="none" stroke="#FF00FF" stroke-width="2.2"/><path d="M543.4 924.8L547.6 929.0L543.4 933.2L539.2 929.0Z" fill="none" stroke="#FF00FF" stroke-width="2.2"/><path d="M555.7 924.8L559.9 929.0L555.7 933.2L551.5 929.0Z" fill="none" stroke="#FF00FF" stroke-width="2.2"/><path d="M568.0 924.7L572.2 928.9L568.0 933.1L563.8 928.9Z" fill="none" stroke="#FF00FF" stroke-width="2.2"/><path d="M580.4 924.7L584.6 928.9L580.4 933.1L576.2 928.9Z" fill="none" stroke="#FF00FF" stroke-width="2.2"/><path d="M592.7 924.6L596.9 928.8L592.7 933.0L588.5 928.8Z" fill="none" stroke="#FF00FF" stroke-width="2.2"/><path d="M605.0 924.6L609.2 928.8L605.0 933.0L600.8 928.8Z" fill="none" stroke="#FF00FF" stroke-width="2.2"/><path d="M617.3 924.5L621.5 928.7L617.3 932.9L613.1 928.7Z" fill="none" stroke="#FF00FF" stroke-width="2.2"/><path d="M629.6 924.5L633.8 928.7L629.6 932.9L625.4 928.7Z" fill="none" stroke="#FF00FF" stroke-width="2.2"/><path d="M641.9 924.4L646.1 928.6L641.9 932.8L637.7 928.6Z" fill="none" stroke="#FF00FF" stroke-width="2.2"/><path d="M654.2 924.4L658.4 928.6L654.2 932.8L650.0 928.6Z" fill="none" stroke="#FF00FF" stroke-width="2.2"/><path d="M666.6 924.3L670.8 928.5L666.6 932.7L662.4 928.5Z" fill="none" stroke="#FF00FF" stroke-width="2.2"/><path d="M678.9 924.2L683.1 928.4L678.9 932.6L674.7 928.4Z" fill="none" stroke="#FF00FF" stroke-width="2.2"/><path d="M691.2 924.2L695.4 928.4L691.2 932.6L687.0 928.4Z" fill="none" stroke="#FF00FF" stroke-width="2.2"/><path d="M703.5 924.1L707.7 928.3L703.5 932.5L699.3 928.3Z" fill="none" stroke="#FF00FF" stroke-width="2.2"/></g><g clip-path="url(#clp3)"><path d="M119.7 1157.9L129.9 1168.1M119.7 1168.1L129.9 1157.9" stroke="#00FF00" stroke-width="1.8"/><path d="M121.4 1139.9L131.6 1150.1M121.4 1150.1L131.6 1139.9" stroke="#00FF00" stroke-width="1.8"/><path d="M123.1 1119.9L133.3 1130.1M123.1 1130.1L133.3 1119.9" stroke="#00FF00" stroke-width="1.8"/><path d="M125.1 1100.2L135.3 1110.4M125.1 1110.4L135.3 1100.2" stroke="#00FF00" stroke-width="1.8"/><path d="M126.9 1083.7L137.1 1093.9M126.9 1093.9L137.1 1083.7" stroke="#00FF00" stroke-width="1.8"/><path d="M128.4 1068.6L138.6 1078.8M128.4 1078.8L138.6 1068.6" stroke="#00FF00" stroke-width="1.8"/><path d="M129.8 1054.8L140.0 1065.0M129.8 1065.0L140.0 1054.8" stroke="#00FF00" stroke-width="1.8"/><path d="M131.4 1039.7L141.6 1049.9M131.4 1049.9L141.6 1039.7" stroke="#00FF00" stroke-width="1.8"/><path d="M133.6 1026.8L143.8 1037.0M133.6 1037.0L143.8 1026.8" stroke="#00FF00" stroke-width="1.8"/><path d="M135.6 1013.1L145.8 1023.3M135.6 1023.3L145.8 1013.1" stroke="#00FF00" stroke-width="1.8"/><path d="M137.8 999.4L148.0 1009.6M137.8 1009.6L148.0 999.4" stroke="#00FF00" stroke-width="1.8"/><path d="M140.5 984.8L150.7 995.0M140.5 995.0L150.7 984.8" stroke="#00FF00" stroke-width="1.8"/><path d="M144.6 972.4L154.8 982.6M144.6 982.6L154.8 972.4" stroke="#00FF00" stroke-width="1.8"/><path d="M148.7 958.7L158.9 968.9M148.7 968.9L158.9 958.7" stroke="#00FF00" stroke-width="1.8"/><path d="M153.7 946.9L163.9 957.1M153.7 957.1L163.9 946.9" stroke="#00FF00" stroke-width="1.8"/><path d="M159.7 935.3L169.9 945.5M159.7 945.5L169.9 935.3" stroke="#00FF00" stroke-width="1.8"/><path d="M165.2 928.5L175.4 938.7M165.2 938.7L175.4 928.5" stroke="#00FF00" stroke-width="1.8"/><path d="M168.9 926.3L179.1 936.5M168.9 936.5L179.1 926.3" stroke="#00FF00" stroke-width="1.8"/><path d="M181.3 923.7L191.4 933.8M181.3 933.8L191.4 923.7" stroke="#00FF00" stroke-width="1.8"/><path d="M193.6 923.1L203.7 933.2M193.6 933.2L203.7 923.1" stroke="#00FF00" stroke-width="1.8"/><path d="M205.9 922.6L216.0 932.7M205.9 932.7L216.0 922.6" stroke="#00FF00" stroke-width="1.8"/><path d="M218.2 922.0L228.3 932.1M218.2 932.1L228.3 922.0" stroke="#00FF00" stroke-width="1.8"/><path d="M230.5 921.7L240.6 931.8M230.5 931.8L240.6 921.7" stroke="#00FF00" stroke-width="1.8"/><path d="M242.8 921.5L253.0 931.7M242.8 931.7L253.0 921.5" stroke="#00FF00" stroke-width="1.8"/><path d="M255.1 921.8L265.3 931.9M255.1 931.9L265.3 921.8" stroke="#00FF00" stroke-width="1.8"/><path d="M267.5 922.1L277.6 932.2M267.5 932.2L277.6 922.1" stroke="#00FF00" stroke-width="1.8"/><path d="M279.8 922.6L289.9 932.7M279.8 932.7L289.9 922.6" stroke="#00FF00" stroke-width="1.8"/><path d="M292.1 923.0L302.2 933.1M292.1 933.1L302.2 923.0" stroke="#00FF00" stroke-width="1.8"/><path d="M304.4 923.4L314.5 933.5M304.4 933.5L314.5 923.4" stroke="#00FF00" stroke-width="1.8"/><path d="M316.7 923.6L326.8 933.7M316.7 933.7L326.8 923.6" stroke="#00FF00" stroke-width="1.8"/><path d="M329.0 923.7L339.1 933.9M329.0 933.9L339.1 923.7" stroke="#00FF00" stroke-width="1.8"/><path d="M341.3 923.9L351.5 934.0M341.3 934.0L351.5 923.9" stroke="#00FF00" stroke-width="1.8"/><path d="M353.7 924.1L363.8 934.3M353.7 934.3L363.8 924.1" stroke="#00FF00" stroke-width="1.8"/><path d="M366.0 924.3L376.1 934.4M366.0 934.4L376.1 924.3" stroke="#00FF00" stroke-width="1.8"/><path d="M378.3 924.4L388.4 934.5M378.3 934.5L388.4 924.4" stroke="#00FF00" stroke-width="1.8"/><path d="M390.6 924.5L400.7 934.6M390.6 934.6L400.7 924.5" stroke="#00FF00" stroke-width="1.8"/><path d="M402.9 924.7L413.0 934.8M402.9 934.8L413.0 924.7" stroke="#00FF00" stroke-width="1.8"/><path d="M415.2 924.8L425.3 934.9M415.2 934.9L425.3 924.8" stroke="#00FF00" stroke-width="1.8"/><path d="M427.5 924.9L437.7 935.1M427.5 935.1L437.7 924.9" stroke="#00FF00" stroke-width="1.8"/><path d="M439.9 925.1L450.0 935.2M439.9 935.2L450.0 925.1" stroke="#00FF00" stroke-width="1.8"/><path d="M452.2 925.2L462.3 935.4M452.2 935.4L462.3 925.2" stroke="#00FF00" stroke-width="1.8"/><path d="M464.5 925.4L474.6 935.6M464.5 935.6L474.6 925.4" stroke="#00FF00" stroke-width="1.8"/><path d="M476.8 925.7L486.9 935.8M476.8 935.8L486.9 925.7" stroke="#00FF00" stroke-width="1.8"/><path d="M489.1 925.9L499.2 936.0M489.1 936.0L499.2 925.9" stroke="#00FF00" stroke-width="1.8"/><path d="M501.4 926.1L511.5 936.3M501.4 936.3L511.5 926.1" stroke="#00FF00" stroke-width="1.8"/><path d="M513.7 926.4L523.9 936.5M513.7 936.5L523.9 926.4" stroke="#00FF00" stroke-width="1.8"/><path d="M526.0 926.6L536.2 936.7M526.0 936.7L536.2 926.6" stroke="#00FF00" stroke-width="1.8"/><path d="M538.4 926.8L548.5 937.0M538.4 937.0L548.5 926.8" stroke="#00FF00" stroke-width="1.8"/><path d="M550.7 927.0L560.8 937.1M550.7 937.1L560.8 927.0" stroke="#00FF00" stroke-width="1.8"/><path d="M563.0 927.2L573.1 937.3M563.0 937.3L573.1 927.2" stroke="#00FF00" stroke-width="1.8"/><path d="M575.3 927.4L585.4 937.5M575.3 937.5L585.4 927.4" stroke="#00FF00" stroke-width="1.8"/><path d="M587.6 927.6L597.7 937.7M587.6 937.7L597.7 927.6" stroke="#00FF00" stroke-width="1.8"/><path d="M599.9 927.7L610.1 937.9M599.9 937.9L610.1 927.7" stroke="#00FF00" stroke-width="1.8"/><path d="M612.2 927.9L622.4 938.0M612.2 938.0L622.4 927.9" stroke="#00FF00" stroke-width="1.8"/><path d="M624.6 928.1L634.7 938.2M624.6 938.2L634.7 928.1" stroke="#00FF00" stroke-width="1.8"/><path d="M636.9 928.2L647.0 938.4M636.9 938.4L647.0 928.2" stroke="#00FF00" stroke-width="1.8"/><path d="M649.2 928.4L659.3 938.5M649.2 938.5L659.3 928.4" stroke="#00FF00" stroke-width="1.8"/><path d="M661.5 928.5L671.6 938.7M661.5 938.7L671.6 928.5" stroke="#00FF00" stroke-width="1.8"/><path d="M673.8 928.7L683.9 938.8M673.8 938.8L683.9 928.7" stroke="#00FF00" stroke-width="1.8"/><path d="M686.1 928.8L696.2 938.9M686.1 938.9L696.2 928.8" stroke="#00FF00" stroke-width="1.8"/><path d="M698.4 928.9L708.6 939.1M698.4 939.1L708.6 928.9" stroke="#00FF00" stroke-width="1.8"/></g><path d="M124.8 1291.0L125.7 1260.3L126.7 1228.1L127.7 1207.0L128.6 1189.0L129.6 1175.3L130.6 1166.1L131.5 1156.8L132.5 1147.6L133.5 1138.3L134.4 1129.1L135.4 1116.8L136.3 1103.8L137.3 1090.9L138.3 1077.9L139.2 1067.4L140.2 1058.7L141.2 1050.0L142.1 1041.3L143.1 1032.7L144.1 1024.0L145.0 1018.5L146.0 1013.5L147.0 1008.5L147.9 1003.5L148.9 998.5L149.9 993.5L150.8 988.4L151.8 984.5L152.8 980.9L153.7 977.4L154.7 973.8L155.7 970.3L156.6 966.7L157.6 963.1L158.6 959.6L159.5 956.2L160.5 953.3L161.5 950.4L162.4 947.6L163.4 944.7L164.4 941.8L165.3 938.9L166.3 936.1L167.3 933.2L168.2 930.7L169.2 931.0L170.2 931.2L171.1 931.4L172.1 931.6L173.1 931.9L174.0 932.1L175.0 932.3L176.0 932.5L176.9 932.8L177.9 932.9L178.9 932.9L179.8 933.0L180.8 933.1L181.8 933.2L182.7 933.2L183.7 933.3L184.7 933.4L185.6 933.5L186.6 933.6L187.6 933.6L188.5 933.7L189.5 933.8L190.5 933.9L191.4 933.9L192.4 934.0L193.4 934.1L194.3 934.1L195.3 934.0L196.3 934.0L197.2 933.9L198.2 933.9L199.2 933.9L200.1 933.8L201.1 933.8L202.0 933.7L203.0 933.7L204.0 933.6L204.9 933.6L205.9 933.6L206.9 933.5L207.8 933.4L208.8 933.3L209.8 933.2L210.7 933.0L211.7 932.9L212.7 932.8L213.6 932.7L214.6 932.5L215.6 932.4L216.5 932.3L217.5 932.2L218.5 932.0L219.4 931.9L220.4 931.8L221.4 931.7L222.3 931.5L223.3 931.4L224.3 931.3L225.2 931.2L226.2 931.0L227.2 930.9L228.1 930.8L229.1 930.7L230.1 930.5L231.0 930.4L232.0 930.3L233.0 930.2L233.9 930.0L234.9 929.9L235.9 929.8L236.8 929.7L237.8 929.7L238.8 929.6L239.7 929.6L240.7 929.5L241.7 929.5L242.6 929.5L243.6 929.4L244.6 929.4L245.5 929.3L246.5 929.3L247.5 929.2L248.4 929.2L249.4 929.1L250.4 929.1L251.3 929.0L252.3 929.0L253.3 928.9L254.2 928.9L255.2 928.8L256.2 928.8L257.1 928.7L258.1 928.7L259.1 928.6L260.0 928.6L261.0 928.5L262.0 928.5L262.9 928.4L263.9 928.4L264.9 928.3L265.8 928.3L266.8 928.2L267.8 928.2L268.7 928.1L269.7 928.1L270.6 928.0L271.6 928.0L272.6 928.0L273.5 927.9L274.5 927.9L275.5 927.9L276.4 927.9L277.4 927.8L278.4 927.8L279.3 927.8L280.3 927.8L281.3 927.8L282.2 927.7L283.2 927.7L284.2 927.7L285.1 927.7L286.1 927.6L287.1 927.6L288.0 927.6L289.0 927.6L290.0 927.5L290.9 927.5L291.9 927.5L292.9 927.5L293.8 927.4L294.8 927.4L295.8 927.4L296.7 927.4L297.7 927.3L298.7 927.3L299.6 927.3L300.6 927.3L301.6 927.2L302.5 927.2L303.5 927.2L304.5 927.2L305.4 927.1L306.4 927.1L307.4 927.1L308.3 927.1L309.3 927.1L310.3 927.1L311.2 927.1L312.2 927.1L313.2 927.1L314.1 927.1L315.1 927.1L316.1 927.1L317.0 927.1L318.0 927.1L319.0 927.1L319.9 927.1L320.9 927.1L321.9 927.1L322.8 927.1L323.8 927.1L324.8 927.1L325.7 927.1L326.7 927.1L327.7 927.1L328.6 927.1L329.6 927.1L330.6 927.1L331.5 927.1L332.5 927.1L333.5 927.1L334.4 927.1L335.4 927.1L336.3 927.1L337.3 927.1L338.3 927.1L339.2 927.1L340.2 927.1L341.2 927.1L342.1 927.1L343.1 927.1L344.1 927.1L345.0 927.1L346.0 927.1L347.0 927.1L347.9 927.2L348.9 927.2L349.9 927.2L350.8 927.2L351.8 927.2L352.8 927.2L353.7 927.2L354.7 927.2L355.7 927.2L356.6 927.3L357.6 927.3L358.6 927.3L359.5 927.3L360.5 927.3L361.5 927.3L362.4 927.3L363.4 927.3L364.4 927.3L365.3 927.4L366.3 927.4L367.3 927.4L368.2 927.4L369.2 927.4L370.2 927.4L371.1 927.4L372.1 927.4L373.1 927.4L374.0 927.4L375.0 927.5L376.0 927.5L376.9 927.5L377.9 927.5L378.9 927.5L379.8 927.5L380.8 927.5L381.8 927.5L382.7 927.6L383.7 927.6L384.7 927.6L385.6 927.6L386.6 927.6L387.6 927.6L388.5 927.6L389.5 927.7L390.5 927.7L391.4 927.7L392.4 927.7L393.4 927.7L394.3 927.7L395.3 927.7L396.3 927.7L397.2 927.8L398.2 927.8L399.2 927.8L400.1 927.8L401.1 927.8L402.1 927.8L403.0 927.8L404.0 927.9L404.9 927.9L405.9 927.9L406.9 927.9L407.8 927.9L408.8 927.9L409.8 927.9L410.7 928.0L411.7 928.0L412.7 928.0L413.6 928.0L414.6 928.0L415.6 928.0L416.5 928.0L417.5 928.0L418.5 928.1L419.4 928.1L420.4 928.1L421.4 928.1L422.3 928.1L423.3 928.1L424.3 928.1L425.2 928.1L426.2 928.2L427.2 928.2L428.1 928.2L429.1 928.2L430.1 928.2L431.0 928.2L432.0 928.2L433.0 928.2L433.9 928.3L434.9 928.3L435.9 928.3L436.8 928.3L437.8 928.3L438.8 928.3L439.7 928.3L440.7 928.3L441.7 928.4L442.6 928.4L443.6 928.4L444.6 928.4L445.5 928.4L446.5 928.4L447.5 928.4L448.4 928.4L449.4 928.5L450.4 928.5L451.3 928.5L452.3 928.5L453.3 928.5L454.2 928.5L455.2 928.5L456.2 928.5L457.1 928.6L458.1 928.6L459.1 928.6L460.0 928.6L461.0 928.6L462.0 928.6L462.9 928.6L463.9 928.6L464.9 928.6L465.8 928.6L466.8 928.7L467.8 928.7L468.7 928.7L469.7 928.7L470.6 928.7L471.6 928.7L472.6 928.7L473.5 928.7L474.5 928.7L475.5 928.7L476.4 928.7L477.4 928.7L478.4 928.8L479.3 928.8L480.3 928.8L481.3 928.8L482.2 928.8L483.2 928.8L484.2 928.8L485.1 928.8L486.1 928.8L487.1 928.8L488.0 928.8L489.0 928.8L490.0 928.8L490.9 928.9L491.9 928.9L492.9 928.9L493.8 928.9L494.8 928.9L495.8 928.9L496.7 928.9L497.7 928.9L498.7 928.9L499.6 928.9L500.6 928.9L501.6 928.9L502.5 928.9L503.5 929.0L504.5 929.0L505.4 929.0L506.4 929.0L507.4 929.0L508.3 929.0L509.3 929.0L510.3 929.0L511.2 929.0L512.2 929.0L513.2 929.0L514.1 929.0L515.1 929.1L516.1 929.1L517.0 929.1L518.0 929.1L519.0 929.1L519.9 929.1L520.9 929.1L521.9 929.1L522.8 929.1L523.8 929.1L524.8 929.1L525.7 929.1L526.7 929.1L527.7 929.2L528.6 929.2L529.6 929.2L530.6 929.2L531.5 929.2L532.5 929.2L533.5 929.2L534.4 929.2L535.4 929.2L536.3 929.2L537.3 929.2L538.3 929.2L539.2 929.3L540.2 929.3L541.2 929.3L542.1 929.3L543.1 929.3L544.1 929.3L545.0 929.3L546.0 929.3L547.0 929.3L547.9 929.3L548.9 929.3L549.9 929.3L550.8 929.3L551.8 929.4L552.8 929.4L553.7 929.4L554.7 929.4L555.7 929.4L556.6 929.4L557.6 929.4L558.6 929.4L559.5 929.4L560.5 929.4L561.5 929.4L562.4 929.4L563.4 929.4L564.4 929.5L565.3 929.5L566.3 929.5L567.3 929.5L568.2 929.5L569.2 929.5L570.2 929.5L571.1 929.5L572.1 929.5L573.1 929.5L574.0 929.5L575.0 929.5L576.0 929.6L576.9 929.6L577.9 929.6L578.9 929.6L579.8 929.6L580.8 929.6L581.8 929.6L582.7 929.6L583.7 929.6L584.7 929.6L585.6 929.6L586.6 929.6L587.6 929.6L588.5 929.7L589.5 929.7L590.5 929.7L591.4 929.7L592.4 929.7L593.4 929.7L594.3 929.7L595.3 929.7L596.3 929.7L597.2 929.7L598.2 929.7L599.2 929.7L600.1 929.7L601.1 929.8L602.1 929.8L603.0 929.8L604.0 929.8L604.9 929.8L605.9 929.8L606.9 929.8L607.8 929.8L608.8 929.8L609.8 929.8L610.7 929.8L611.7 929.8L612.7 929.9L613.6 929.9L614.6 929.9L615.6 929.9L616.5 929.9L617.5 929.9L618.5 929.9L619.4 929.9L620.4 929.9L621.4 929.9L622.3 929.9L623.3 929.9L624.3 929.9L625.2 930.0L626.2 930.0L627.2 930.0L628.1 930.0L629.1 930.0L630.1 930.0L631.0 930.0L632.0 930.0L633.0 930.0L633.9 930.0L634.9 930.0L635.9 930.0L636.8 930.1L637.8 930.1L638.8 930.1L639.7 930.1L640.7 930.1L641.7 930.1L642.6 930.1L643.6 930.1L644.6 930.1L645.5 930.1L646.5 930.1L647.5 930.1L648.4 930.1L649.4 930.2L650.4 930.2L651.3 930.2L652.3 930.2L653.3 930.2L654.2 930.2L655.2 930.2L656.2 930.2L657.1 930.2L658.1 930.2L659.1 930.2L660.0 930.2L661.0 930.2L662.0 930.3L662.9 930.3L663.9 930.3L664.9 930.3L665.8 930.3L666.8 930.3L667.8 930.3L668.7 930.3L669.7 930.3L670.6 930.3L671.6 930.3L672.6 930.3L673.5 930.4L674.5 930.4L675.5 930.4L676.4 930.4L677.4 930.4L678.4 930.4L679.3 930.4L680.3 930.4L681.3 930.4L682.2 930.4L683.2 930.4L684.2 930.4L685.1 930.4L686.1 930.5L687.1 930.5L688.0 930.5L689.0 930.5L690.0 930.5L690.9 930.5L691.9 930.5L692.9 930.5L693.8 930.5L694.8 930.5L695.8 930.5L696.7 930.5L697.7 930.6L698.7 930.6L699.6 930.6L700.6 930.6L701.6 930.6L702.5 930.6L703.5 930.6" fill="none" stroke="#C82424" stroke-width="2.4" stroke-linejoin="round" clip-path="url(#clp3)"/><rect x="25.4" y="1486.2" width="690.8" height="90.6" fill="none" stroke="#000" stroke-width="2.0"/><rect x="59.2" y="1506.3" width="5.8" height="5.8" fill="none" stroke="#FF0000" stroke-width="2.0"/><text x="101.9" y="1519.8" font-size="25.0" letter-spacing="0.90" xml:space="preserve"><tspan font-family="'Liberation Sans', sans-serif">&#961;</tspan></text><path d="M222.2 1509.2H231.0M226.6 1504.8V1513.6" stroke="#0000FF" stroke-width="2.0"/><text x="265.6" y="1519.8" font-size="25.0" letter-spacing="0.90" xml:space="preserve"><tspan font-family="'Liberation Sans', sans-serif">&#961;</tspan><tspan> + </tspan><tspan font-style="italic">p</tspan><tspan font-style="italic" font-size="20.0" dy="10.5">r</tspan></text><path d="M386.7 1509.2L386.7 1505.2M386.7 1509.2L390.5 1508.0M386.7 1509.2L389.0 1512.4M386.7 1509.2L384.4 1512.4M386.7 1509.2L382.9 1508.0" stroke="#000000" stroke-width="2.3" stroke-linecap="round"/><text x="425.8" y="1519.8" font-size="25.0" letter-spacing="0.90" xml:space="preserve"><tspan font-family="'Liberation Sans', sans-serif">&#961;</tspan><tspan> + </tspan><tspan font-style="italic">p</tspan><tspan font-style="italic" font-size="20.0" dy="10.5">t</tspan></text><path d="M536.2 1505.8L539.6 1509.2L536.2 1512.6L532.8 1509.2Z" fill="none" stroke="#FF00FF" stroke-width="2.2"/><text x="575.4" y="1519.8" font-size="25.0" letter-spacing="0.90" xml:space="preserve"><tspan font-family="'Liberation Sans', sans-serif">&#961;</tspan><tspan> + </tspan><tspan font-style="italic">p</tspan><tspan font-style="italic" font-size="20.0" dy="10.5">r</tspan><tspan dy="-10.5"> + 2</tspan><tspan font-style="italic">p</tspan><tspan font-style="italic" font-size="20.0" dy="10.5">t</tspan></text><path d="M56.8 1546.9L67.4 1557.5M56.8 1557.5L67.4 1546.9" stroke="#00FF00" stroke-width="2.0"/><text x="101.9" y="1560.2" font-size="25.0" letter-spacing="0.15" xml:space="preserve"><tspan font-family="'Liberation Sans', sans-serif">.&#961; - |</tspan><tspan font-style="italic">p</tspan><tspan font-style="italic" font-size="20.0" dy="10.5">r</tspan><tspan font-family="'Liberation Sans', sans-serif" dy="-10.5">|</tspan></text><path d="M195.6 1550.7H256.1" stroke="#C82424" stroke-width="2.2"/><text x="265.6" y="1560.2" font-size="25.0" letter-spacing="0.15" xml:space="preserve"><tspan font-family="'Liberation Sans', sans-serif">&#961; - |</tspan><tspan font-style="italic">p</tspan><tspan font-style="italic" font-size="20.0" dy="10.5">t</tspan><tspan font-family="'Liberation Sans', sans-serif" dy="-10.5">|</tspan></text>
<defs><clipPath id="clp4"><rect x="879.7" y="892.1" width="639.1" height="540.3"/></clipPath></defs><rect x="885.7" y="898.1" width="627.1" height="528.3" fill="none" stroke="#000" stroke-width="2.0"/><path d="M938.7 1426.4V1436.4M1033.5 1426.4V1436.4M1128.2 1426.4V1436.4M1223.0 1426.4V1436.4M1317.8 1426.4V1436.4M1412.5 1426.4V1436.4M1507.3 1426.4V1436.4M986.1 1426.4V1432.4M1080.8 1426.4V1432.4M1175.6 1426.4V1432.4M1270.4 1426.4V1432.4M1365.1 1426.4V1432.4M1459.9 1426.4V1432.4M885.7 1360.5H875.7M885.7 1231.1H875.7M885.7 1101.7H875.7M885.7 972.3H875.7M885.7 1295.8H879.7M885.7 1166.4H879.7M885.7 1037.0H879.7M885.7 907.6H879.7" stroke="#000" stroke-width="2"/><text transform="translate(938.7 1460.7) scale(1 1.075)" text-anchor="middle" font-size="23.0">0.3</text><text transform="translate(1033.5 1460.7) scale(1 1.075)" text-anchor="middle" font-size="23.0">0.4</text><text transform="translate(1128.2 1460.7) scale(1 1.075)" text-anchor="middle" font-size="23.0">0.5</text><text transform="translate(1223.0 1460.7) scale(1 1.075)" text-anchor="middle" font-size="23.0">0.6</text><text transform="translate(1317.8 1460.7) scale(1 1.075)" text-anchor="middle" font-size="23.0">0.7</text><text transform="translate(1412.5 1460.7) scale(1 1.075)" text-anchor="middle" font-size="23.0">0.8</text><text transform="translate(1507.3 1460.7) scale(1 1.075)" text-anchor="middle" font-size="23.0">0.9</text><text transform="translate(869.7 1369.3) scale(1 1.075)" text-anchor="end" font-size="23.0">0</text><text transform="translate(871.2 1239.9) scale(1 1.075)" text-anchor="end" font-size="23.0">10</text><text transform="translate(871.2 1110.5) scale(1 1.075)" text-anchor="end" font-size="23.0">20</text><text transform="translate(871.2 981.1) scale(1 1.075)" text-anchor="end" font-size="23.0">30</text><text transform="translate(1199.3 1483.2) scale(1 1.075)" text-anchor="middle" font-size="23.0" font-style="italic">r</text><g clip-path="url(#clp4)"><rect x="886.4" y="1388.7" width="6.8" height="6.8" fill="none" stroke="#0000FF" stroke-width="2.0"/><rect x="888.6" y="1361.2" width="6.8" height="6.8" fill="none" stroke="#0000FF" stroke-width="2.0"/><rect x="891.4" y="1333.7" width="6.8" height="6.8" fill="none" stroke="#0000FF" stroke-width="2.0"/><rect x="892.8" y="1309.8" width="6.8" height="6.8" fill="none" stroke="#0000FF" stroke-width="2.0"/><rect x="894.1" y="1287.3" width="6.8" height="6.8" fill="none" stroke="#0000FF" stroke-width="2.0"/><rect x="896.1" y="1265.3" width="6.8" height="6.8" fill="none" stroke="#0000FF" stroke-width="2.0"/><rect x="897.7" y="1245.3" width="6.8" height="6.8" fill="none" stroke="#0000FF" stroke-width="2.0"/><rect x="899.6" y="1226.9" width="6.8" height="6.8" fill="none" stroke="#0000FF" stroke-width="2.0"/><rect x="901.0" y="1209.6" width="6.8" height="6.8" fill="none" stroke="#0000FF" stroke-width="2.0"/><rect x="903.7" y="1181.5" width="6.8" height="6.8" fill="none" stroke="#0000FF" stroke-width="2.0"/><rect x="906.5" y="1158.2" width="6.8" height="6.8" fill="none" stroke="#0000FF" stroke-width="2.0"/><rect x="909.6" y="1136.3" width="6.8" height="6.8" fill="none" stroke="#0000FF" stroke-width="2.0"/><rect x="912.7" y="1117.8" width="6.8" height="6.8" fill="none" stroke="#0000FF" stroke-width="2.0"/><rect x="918.8" y="1084.0" width="6.8" height="6.8" fill="none" stroke="#0000FF" stroke-width="2.0"/><rect x="925.6" y="1059.7" width="6.8" height="6.8" fill="none" stroke="#0000FF" stroke-width="2.0"/><rect x="932.2" y="1043.2" width="6.8" height="6.8" fill="none" stroke="#0000FF" stroke-width="2.0"/><rect x="939.4" y="1031.9" width="6.8" height="6.8" fill="none" stroke="#0000FF" stroke-width="2.0"/><rect x="942.6" y="1029.0" width="6.8" height="6.8" fill="none" stroke="#0000FF" stroke-width="2.0"/><rect x="945.0" y="1027.0" width="6.8" height="6.8" fill="none" stroke="#0000FF" stroke-width="2.0"/><rect x="947.4" y="1025.4" width="6.8" height="6.8" fill="none" stroke="#0000FF" stroke-width="2.0"/><rect x="949.8" y="1024.2" width="6.8" height="6.8" fill="none" stroke="#0000FF" stroke-width="2.0"/><rect x="952.2" y="1023.6" width="6.8" height="6.8" fill="none" stroke="#0000FF" stroke-width="2.0"/><rect x="954.6" y="1023.7" width="6.8" height="6.8" fill="none" stroke="#0000FF" stroke-width="2.0"/><rect x="957.0" y="1024.3" width="6.8" height="6.8" fill="none" stroke="#0000FF" stroke-width="2.0"/><rect x="959.4" y="1025.2" width="6.8" height="6.8" fill="none" stroke="#0000FF" stroke-width="2.0"/><rect x="961.8" y="1026.4" width="6.8" height="6.8" fill="none" stroke="#0000FF" stroke-width="2.0"/><rect x="964.2" y="1027.9" width="6.8" height="6.8" fill="none" stroke="#0000FF" stroke-width="2.0"/><rect x="970.4" y="1031.9" width="6.8" height="6.8" fill="none" stroke="#0000FF" stroke-width="2.0"/><rect x="976.9" y="1037.6" width="6.8" height="6.8" fill="none" stroke="#0000FF" stroke-width="2.0"/><rect x="989.9" y="1051.9" width="6.8" height="6.8" fill="none" stroke="#0000FF" stroke-width="2.0"/><rect x="1002.7" y="1068.3" width="6.8" height="6.8" fill="none" stroke="#0000FF" stroke-width="2.0"/><rect x="1016.3" y="1086.1" width="6.8" height="6.8" fill="none" stroke="#0000FF" stroke-width="2.0"/><rect x="1028.1" y="1102.5" width="6.8" height="6.8" fill="none" stroke="#0000FF" stroke-width="2.0"/><rect x="1041.4" y="1120.1" width="6.8" height="6.8" fill="none" stroke="#0000FF" stroke-width="2.0"/><rect x="1054.8" y="1136.6" width="6.8" height="6.8" fill="none" stroke="#0000FF" stroke-width="2.0"/><rect x="1067.8" y="1152.0" width="6.8" height="6.8" fill="none" stroke="#0000FF" stroke-width="2.0"/><rect x="1080.0" y="1165.2" width="6.8" height="6.8" fill="none" stroke="#0000FF" stroke-width="2.0"/><rect x="1093.6" y="1179.2" width="6.8" height="6.8" fill="none" stroke="#0000FF" stroke-width="2.0"/><rect x="1105.6" y="1190.3" width="6.8" height="6.8" fill="none" stroke="#0000FF" stroke-width="2.0"/><rect x="1118.9" y="1203.5" width="6.8" height="6.8" fill="none" stroke="#0000FF" stroke-width="2.0"/><rect x="1130.7" y="1212.4" width="6.8" height="6.8" fill="none" stroke="#0000FF" stroke-width="2.0"/><rect x="1144.5" y="1223.4" width="6.8" height="6.8" fill="none" stroke="#0000FF" stroke-width="2.0"/><rect x="1157.4" y="1233.1" width="6.8" height="6.8" fill="none" stroke="#0000FF" stroke-width="2.0"/><rect x="1170.7" y="1241.3" width="6.8" height="6.8" fill="none" stroke="#0000FF" stroke-width="2.0"/><rect x="1183.1" y="1248.8" width="6.8" height="6.8" fill="none" stroke="#0000FF" stroke-width="2.0"/><rect x="1195.5" y="1256.5" width="6.8" height="6.8" fill="none" stroke="#0000FF" stroke-width="2.0"/><rect x="1208.6" y="1264.6" width="6.8" height="6.8" fill="none" stroke="#0000FF" stroke-width="2.0"/><rect x="1220.8" y="1270.2" width="6.8" height="6.8" fill="none" stroke="#0000FF" stroke-width="2.0"/><rect x="1226.5" y="1272.1" width="6.8" height="6.8" fill="none" stroke="#0000FF" stroke-width="2.0"/><rect x="1239.1" y="1276.1" width="6.8" height="6.8" fill="none" stroke="#0000FF" stroke-width="2.0"/><rect x="1251.7" y="1280.9" width="6.8" height="6.8" fill="none" stroke="#0000FF" stroke-width="2.0"/><rect x="1264.3" y="1285.7" width="6.8" height="6.8" fill="none" stroke="#0000FF" stroke-width="2.0"/><rect x="1276.9" y="1290.2" width="6.8" height="6.8" fill="none" stroke="#0000FF" stroke-width="2.0"/><rect x="1289.5" y="1294.8" width="6.8" height="6.8" fill="none" stroke="#0000FF" stroke-width="2.0"/><rect x="1302.1" y="1298.6" width="6.8" height="6.8" fill="none" stroke="#0000FF" stroke-width="2.0"/><rect x="1314.8" y="1301.1" width="6.8" height="6.8" fill="none" stroke="#0000FF" stroke-width="2.0"/><rect x="1327.4" y="1304.7" width="6.8" height="6.8" fill="none" stroke="#0000FF" stroke-width="2.0"/><rect x="1340.0" y="1308.4" width="6.8" height="6.8" fill="none" stroke="#0000FF" stroke-width="2.0"/><rect x="1352.6" y="1310.9" width="6.8" height="6.8" fill="none" stroke="#0000FF" stroke-width="2.0"/><rect x="1365.2" y="1312.9" width="6.8" height="6.8" fill="none" stroke="#0000FF" stroke-width="2.0"/><rect x="1377.8" y="1315.5" width="6.8" height="6.8" fill="none" stroke="#0000FF" stroke-width="2.0"/><rect x="1390.4" y="1317.8" width="6.8" height="6.8" fill="none" stroke="#0000FF" stroke-width="2.0"/><rect x="1403.0" y="1319.4" width="6.8" height="6.8" fill="none" stroke="#0000FF" stroke-width="2.0"/><rect x="1415.6" y="1321.4" width="6.8" height="6.8" fill="none" stroke="#0000FF" stroke-width="2.0"/><rect x="1428.2" y="1323.2" width="6.8" height="6.8" fill="none" stroke="#0000FF" stroke-width="2.0"/><rect x="1440.9" y="1324.8" width="6.8" height="6.8" fill="none" stroke="#0000FF" stroke-width="2.0"/><rect x="1453.5" y="1326.8" width="6.8" height="6.8" fill="none" stroke="#0000FF" stroke-width="2.0"/><rect x="1466.1" y="1328.6" width="6.8" height="6.8" fill="none" stroke="#0000FF" stroke-width="2.0"/><rect x="1478.7" y="1329.7" width="6.8" height="6.8" fill="none" stroke="#0000FF" stroke-width="2.0"/><rect x="1491.3" y="1330.8" width="6.8" height="6.8" fill="none" stroke="#0000FF" stroke-width="2.0"/><rect x="1503.9" y="1331.5" width="6.8" height="6.8" fill="none" stroke="#0000FF" stroke-width="2.0"/></g><g clip-path="url(#clp4)"><path d="M889.6 1372.0H898.4M894.0 1367.6V1376.4" stroke="#000000" stroke-width="2.0"/><path d="M892.1 1356.0H900.9M896.5 1351.6V1360.4" stroke="#000000" stroke-width="2.0"/><path d="M895.1 1351.0H903.9M899.5 1346.6V1355.4" stroke="#000000" stroke-width="2.0"/><path d="M898.6 1346.0H907.4M903.0 1341.6V1350.4" stroke="#000000" stroke-width="2.0"/><path d="M905.6 1339.3H914.4M910.0 1334.9V1343.7" stroke="#000000" stroke-width="2.0"/><path d="M912.4 1329.7H921.2M916.8 1325.3V1334.1" stroke="#000000" stroke-width="2.0"/><path d="M919.2 1318.7H928.0M923.6 1314.3V1323.1" stroke="#000000" stroke-width="2.0"/><path d="M930.2 1300.9H939.0M934.6 1296.5V1305.3" stroke="#000000" stroke-width="2.0"/><path d="M945.3 1283.8H954.1M949.7 1279.4V1288.2" stroke="#000000" stroke-width="2.0"/><path d="M957.6 1270.7H966.4M962.0 1266.3V1275.1" stroke="#000000" stroke-width="2.0"/><path d="M976.9 1258.3H985.7M981.3 1253.9V1262.7" stroke="#000000" stroke-width="2.0"/><path d="M990.6 1250.9H999.4M995.0 1246.5V1255.3" stroke="#000000" stroke-width="2.0"/><path d="M1004.4 1245.4H1013.2M1008.8 1241.0V1249.8" stroke="#000000" stroke-width="2.0"/><path d="M1012.6 1243.0H1021.4M1017.0 1238.6V1247.4" stroke="#000000" stroke-width="2.0"/><path d="M1023.6 1241.0H1032.4M1028.0 1236.6V1245.4" stroke="#000000" stroke-width="2.0"/><path d="M1034.6 1240.4H1043.4M1039.0 1236.0V1244.8" stroke="#000000" stroke-width="2.0"/><path d="M1047.0 1240.4H1055.8M1051.4 1236.0V1244.8" stroke="#000000" stroke-width="2.0"/><path d="M1048.9 1239.3H1057.7M1053.3 1234.9V1243.7" stroke="#000000" stroke-width="2.0"/><path d="M1061.6 1240.6H1070.4M1066.0 1236.2V1245.0" stroke="#000000" stroke-width="2.0"/><path d="M1074.2 1242.3H1083.0M1078.6 1237.9V1246.7" stroke="#000000" stroke-width="2.0"/><path d="M1086.8 1244.0H1095.6M1091.2 1239.6V1248.4" stroke="#000000" stroke-width="2.0"/><path d="M1099.4 1246.5H1108.2M1103.8 1242.1V1250.9" stroke="#000000" stroke-width="2.0"/><path d="M1112.0 1249.2H1120.8M1116.4 1244.8V1253.6" stroke="#000000" stroke-width="2.0"/><path d="M1124.6 1252.1H1133.4M1129.0 1247.7V1256.5" stroke="#000000" stroke-width="2.0"/><path d="M1137.2 1256.0H1146.0M1141.6 1251.6V1260.4" stroke="#000000" stroke-width="2.0"/><path d="M1149.8 1259.1H1158.6M1154.2 1254.7V1263.5" stroke="#000000" stroke-width="2.0"/><path d="M1162.4 1262.3H1171.2M1166.8 1257.9V1266.7" stroke="#000000" stroke-width="2.0"/><path d="M1175.0 1266.0H1183.8M1179.4 1261.6V1270.4" stroke="#000000" stroke-width="2.0"/><path d="M1187.7 1269.0H1196.5M1192.1 1264.6V1273.4" stroke="#000000" stroke-width="2.0"/><path d="M1200.3 1273.2H1209.1M1204.7 1268.8V1277.6" stroke="#000000" stroke-width="2.0"/><path d="M1212.9 1276.5H1221.7M1217.3 1272.1V1280.9" stroke="#000000" stroke-width="2.0"/><path d="M1225.5 1278.8H1234.3M1229.9 1274.4V1283.2" stroke="#000000" stroke-width="2.0"/><path d="M1238.1 1282.2H1246.9M1242.5 1277.8V1286.6" stroke="#000000" stroke-width="2.0"/><path d="M1250.7 1285.1H1259.5M1255.1 1280.7V1289.5" stroke="#000000" stroke-width="2.0"/><path d="M1263.3 1288.0H1272.1M1267.7 1283.6V1292.4" stroke="#000000" stroke-width="2.0"/><path d="M1275.9 1290.6H1284.7M1280.3 1286.2V1295.0" stroke="#000000" stroke-width="2.0"/><path d="M1288.5 1293.6H1297.3M1292.9 1289.2V1298.0" stroke="#000000" stroke-width="2.0"/><path d="M1301.1 1296.3H1309.9M1305.5 1291.9V1300.7" stroke="#000000" stroke-width="2.0"/><path d="M1313.8 1298.7H1322.6M1318.2 1294.3V1303.1" stroke="#000000" stroke-width="2.0"/><path d="M1326.4 1300.2H1335.2M1330.8 1295.8V1304.6" stroke="#000000" stroke-width="2.0"/><path d="M1339.0 1302.8H1347.8M1343.4 1298.4V1307.2" stroke="#000000" stroke-width="2.0"/><path d="M1351.6 1304.1H1360.4M1356.0 1299.7V1308.5" stroke="#000000" stroke-width="2.0"/><path d="M1364.2 1307.0H1373.0M1368.6 1302.6V1311.4" stroke="#000000" stroke-width="2.0"/><path d="M1376.8 1309.5H1385.6M1381.2 1305.1V1313.9" stroke="#000000" stroke-width="2.0"/><path d="M1389.4 1311.5H1398.2M1393.8 1307.1V1315.9" stroke="#000000" stroke-width="2.0"/><path d="M1402.0 1313.1H1410.8M1406.4 1308.7V1317.5" stroke="#000000" stroke-width="2.0"/><path d="M1414.6 1315.0H1423.4M1419.0 1310.6V1319.4" stroke="#000000" stroke-width="2.0"/><path d="M1427.2 1316.9H1436.0M1431.6 1312.5V1321.3" stroke="#000000" stroke-width="2.0"/><path d="M1439.9 1317.7H1448.7M1444.3 1313.3V1322.1" stroke="#000000" stroke-width="2.0"/><path d="M1452.5 1319.7H1461.3M1456.9 1315.3V1324.1" stroke="#000000" stroke-width="2.0"/><path d="M1465.1 1321.2H1473.9M1469.5 1316.8V1325.6" stroke="#000000" stroke-width="2.0"/><path d="M1477.7 1322.3H1486.5M1482.1 1317.9V1326.7" stroke="#000000" stroke-width="2.0"/><path d="M1490.3 1323.7H1499.1M1494.7 1319.3V1328.1" stroke="#000000" stroke-width="2.0"/><path d="M1502.9 1324.9H1511.7M1507.3 1320.5V1329.3" stroke="#000000" stroke-width="2.0"/></g><g clip-path="url(#clp4)"><path d="M892.9 1358.6L892.9 1354.4M892.9 1358.6L896.9 1357.3M892.9 1358.6L895.4 1362.0M892.9 1358.6L890.4 1362.0M892.9 1358.6L888.9 1357.3" stroke="#FF0000" stroke-width="2.3" stroke-linecap="round"/><path d="M894.8 1328.4L894.8 1324.2M894.8 1328.4L898.8 1327.1M894.8 1328.4L897.3 1331.8M894.8 1328.4L892.3 1331.8M894.8 1328.4L890.8 1327.1" stroke="#FF0000" stroke-width="2.3" stroke-linecap="round"/><path d="M896.2 1291.3L896.2 1287.1M896.2 1291.3L900.2 1290.0M896.2 1291.3L898.7 1294.7M896.2 1291.3L893.7 1294.7M896.2 1291.3L892.2 1290.0" stroke="#FF0000" stroke-width="2.3" stroke-linecap="round"/><path d="M898.1 1259.7L898.1 1255.5M898.1 1259.7L902.1 1258.4M898.1 1259.7L900.6 1263.1M898.1 1259.7L895.6 1263.1M898.1 1259.7L894.1 1258.4" stroke="#FF0000" stroke-width="2.3" stroke-linecap="round"/><path d="M899.5 1228.1L899.5 1223.9M899.5 1228.1L903.5 1226.8M899.5 1228.1L902.0 1231.5M899.5 1228.1L897.0 1231.5M899.5 1228.1L895.5 1226.8" stroke="#FF0000" stroke-width="2.3" stroke-linecap="round"/><path d="M901.6 1199.2L901.6 1195.0M901.6 1199.2L905.6 1197.9M901.6 1199.2L904.1 1202.6M901.6 1199.2L899.1 1202.6M901.6 1199.2L897.6 1197.9" stroke="#FF0000" stroke-width="2.3" stroke-linecap="round"/><path d="M903.7 1172.3L903.7 1168.1M903.7 1172.3L907.7 1171.0M903.7 1172.3L906.2 1175.7M903.7 1172.3L901.2 1175.7M903.7 1172.3L899.7 1171.0" stroke="#FF0000" stroke-width="2.3" stroke-linecap="round"/><path d="M905.1 1147.6L905.1 1143.4M905.1 1147.6L909.1 1146.3M905.1 1147.6L907.6 1151.0M905.1 1147.6L902.6 1151.0M905.1 1147.6L901.1 1146.3" stroke="#FF0000" stroke-width="2.3" stroke-linecap="round"/><path d="M908.2 1108.4L908.2 1104.2M908.2 1108.4L912.2 1107.1M908.2 1108.4L910.7 1111.8M908.2 1108.4L905.7 1111.8M908.2 1108.4L904.2 1107.1" stroke="#FF0000" stroke-width="2.3" stroke-linecap="round"/><path d="M910.9 1074.4L910.9 1070.2M910.9 1074.4L914.9 1073.1M910.9 1074.4L913.4 1077.8M910.9 1074.4L908.4 1077.8M910.9 1074.4L906.9 1073.1" stroke="#FF0000" stroke-width="2.3" stroke-linecap="round"/><path d="M914.0 1044.5L914.0 1040.3M914.0 1044.5L918.0 1043.2M914.0 1044.5L916.5 1047.9M914.0 1044.5L911.5 1047.9M914.0 1044.5L910.0 1043.2" stroke="#FF0000" stroke-width="2.3" stroke-linecap="round"/><path d="M917.1 1018.8L917.1 1014.6M917.1 1018.8L921.1 1017.5M917.1 1018.8L919.6 1022.2M917.1 1018.8L914.6 1022.2M917.1 1018.8L913.1 1017.5" stroke="#FF0000" stroke-width="2.3" stroke-linecap="round"/><path d="M923.3 973.5L923.3 969.3M923.3 973.5L927.3 972.2M923.3 973.5L925.8 976.9M923.3 973.5L920.8 976.9M923.3 973.5L919.3 972.2" stroke="#FF0000" stroke-width="2.3" stroke-linecap="round"/><path d="M930.1 942.5L930.1 938.3M930.1 942.5L934.1 941.2M930.1 942.5L932.6 945.9M930.1 942.5L927.6 945.9M930.1 942.5L926.1 941.2" stroke="#FF0000" stroke-width="2.3" stroke-linecap="round"/><path d="M936.7 921.9L936.7 917.7M936.7 921.9L940.7 920.6M936.7 921.9L939.2 925.3M936.7 921.9L934.2 925.3M936.7 921.9L932.7 920.6" stroke="#FF0000" stroke-width="2.3" stroke-linecap="round"/><path d="M943.9 909.6L943.9 905.4M943.9 909.6L947.9 908.3M943.9 909.6L946.4 913.0M943.9 909.6L941.4 913.0M943.9 909.6L939.9 908.3" stroke="#FF0000" stroke-width="2.3" stroke-linecap="round"/><path d="M946.0 907.7L946.0 903.5M946.0 907.7L950.0 906.4M946.0 907.7L948.5 911.1M946.0 907.7L943.5 911.1M946.0 907.7L942.0 906.4" stroke="#FF0000" stroke-width="2.3" stroke-linecap="round"/><path d="M947.9 906.1L947.9 901.9M947.9 906.1L951.9 904.8M947.9 906.1L950.4 909.5M947.9 906.1L945.4 909.5M947.9 906.1L943.9 904.8" stroke="#FF0000" stroke-width="2.3" stroke-linecap="round"/><path d="M949.8 905.0L949.8 900.8M949.8 905.0L953.8 903.7M949.8 905.0L952.3 908.4M949.8 905.0L947.3 908.4M949.8 905.0L945.8 903.7" stroke="#FF0000" stroke-width="2.3" stroke-linecap="round"/><path d="M951.7 904.4L951.7 900.2M951.7 904.4L955.7 903.1M951.7 904.4L954.2 907.8M951.7 904.4L949.2 907.8M951.7 904.4L947.7 903.1" stroke="#FF0000" stroke-width="2.3" stroke-linecap="round"/><path d="M953.6 904.5L953.6 900.3M953.6 904.5L957.6 903.2M953.6 904.5L956.1 907.9M953.6 904.5L951.1 907.9M953.6 904.5L949.6 903.2" stroke="#FF0000" stroke-width="2.3" stroke-linecap="round"/><path d="M955.5 905.0L955.5 900.8M955.5 905.0L959.5 903.7M955.5 905.0L958.0 908.4M955.5 905.0L953.0 908.4M955.5 905.0L951.5 903.7" stroke="#FF0000" stroke-width="2.3" stroke-linecap="round"/><path d="M957.4 905.8L957.4 901.6M957.4 905.8L961.4 904.5M957.4 905.8L959.9 909.2M957.4 905.8L954.9 909.2M957.4 905.8L953.4 904.5" stroke="#FF0000" stroke-width="2.3" stroke-linecap="round"/><path d="M959.3 906.9L959.3 902.7M959.3 906.9L963.3 905.6M959.3 906.9L961.8 910.3M959.3 906.9L956.8 910.3M959.3 906.9L955.3 905.6" stroke="#FF0000" stroke-width="2.3" stroke-linecap="round"/><path d="M963.5 909.6L963.5 905.4M963.5 909.6L967.5 908.3M963.5 909.6L966.0 913.0M963.5 909.6L961.0 913.0M963.5 909.6L959.5 908.3" stroke="#FF0000" stroke-width="2.3" stroke-linecap="round"/><path d="M969.0 915.8L969.0 911.6M969.0 915.8L973.0 914.5M969.0 915.8L971.5 919.2M969.0 915.8L966.5 919.2M969.0 915.8L965.0 914.5" stroke="#FF0000" stroke-width="2.3" stroke-linecap="round"/><path d="M981.4 934.9L981.4 930.7M981.4 934.9L985.4 933.6M981.4 934.9L983.9 938.3M981.4 934.9L978.9 938.3M981.4 934.9L977.4 933.6" stroke="#FF0000" stroke-width="2.3" stroke-linecap="round"/><path d="M994.4 960.1L994.4 955.9M994.4 960.1L998.4 958.8M994.4 960.1L996.9 963.5M994.4 960.1L991.9 963.5M994.4 960.1L990.4 958.8" stroke="#FF0000" stroke-width="2.3" stroke-linecap="round"/><path d="M1007.8 986.8L1007.8 982.6M1007.8 986.8L1011.8 985.5M1007.8 986.8L1010.3 990.2M1007.8 986.8L1005.3 990.2M1007.8 986.8L1003.8 985.5" stroke="#FF0000" stroke-width="2.3" stroke-linecap="round"/><path d="M1021.1 1015.3L1021.1 1011.1M1021.1 1015.3L1025.1 1014.0M1021.1 1015.3L1023.6 1018.7M1021.1 1015.3L1018.6 1018.7M1021.1 1015.3L1017.1 1014.0" stroke="#FF0000" stroke-width="2.3" stroke-linecap="round"/><path d="M1032.5 1040.0L1032.5 1035.8M1032.5 1040.0L1036.5 1038.7M1032.5 1040.0L1035.0 1043.4M1032.5 1040.0L1030.0 1043.4M1032.5 1040.0L1028.5 1038.7" stroke="#FF0000" stroke-width="2.3" stroke-linecap="round"/><path d="M1045.9 1066.2L1045.9 1062.0M1045.9 1066.2L1049.9 1064.9M1045.9 1066.2L1048.4 1069.6M1045.9 1066.2L1043.4 1069.6M1045.9 1066.2L1041.9 1064.9" stroke="#FF0000" stroke-width="2.3" stroke-linecap="round"/><path d="M1059.7 1091.9L1059.7 1087.7M1059.7 1091.9L1063.7 1090.6M1059.7 1091.9L1062.2 1095.3M1059.7 1091.9L1057.2 1095.3M1059.7 1091.9L1055.7 1090.6" stroke="#FF0000" stroke-width="2.3" stroke-linecap="round"/><path d="M1072.7 1113.6L1072.7 1109.4M1072.7 1113.6L1076.7 1112.3M1072.7 1113.6L1075.2 1117.0M1072.7 1113.6L1070.2 1117.0M1072.7 1113.6L1068.7 1112.3" stroke="#FF0000" stroke-width="2.3" stroke-linecap="round"/><path d="M1084.0 1132.5L1084.0 1128.3M1084.0 1132.5L1088.0 1131.2M1084.0 1132.5L1086.5 1135.9M1084.0 1132.5L1081.5 1135.9M1084.0 1132.5L1080.0 1131.2" stroke="#FF0000" stroke-width="2.3" stroke-linecap="round"/><path d="M1097.4 1152.7L1097.4 1148.5M1097.4 1152.7L1101.4 1151.4M1097.4 1152.7L1099.9 1156.1M1097.4 1152.7L1094.9 1156.1M1097.4 1152.7L1093.4 1151.4" stroke="#FF0000" stroke-width="2.3" stroke-linecap="round"/><path d="M1109.8 1169.2L1109.8 1165.0M1109.8 1169.2L1113.8 1167.9M1109.8 1169.2L1112.3 1172.6M1109.8 1169.2L1107.3 1172.6M1109.8 1169.2L1105.8 1167.9" stroke="#FF0000" stroke-width="2.3" stroke-linecap="round"/><path d="M1123.1 1184.7L1123.1 1180.5M1123.1 1184.7L1127.1 1183.4M1123.1 1184.7L1125.6 1188.1M1123.1 1184.7L1120.6 1188.1M1123.1 1184.7L1119.1 1183.4" stroke="#FF0000" stroke-width="2.3" stroke-linecap="round"/><path d="M1135.5 1199.8L1135.5 1195.6M1135.5 1199.8L1139.5 1198.5M1135.5 1199.8L1138.0 1203.2M1135.5 1199.8L1133.0 1203.2M1135.5 1199.8L1131.5 1198.5" stroke="#FF0000" stroke-width="2.3" stroke-linecap="round"/><path d="M1148.7 1213.6L1148.7 1209.4M1148.7 1213.6L1152.7 1212.3M1148.7 1213.6L1151.2 1217.0M1148.7 1213.6L1146.2 1217.0M1148.7 1213.6L1144.7 1212.3" stroke="#FF0000" stroke-width="2.3" stroke-linecap="round"/><path d="M1161.7 1224.9L1161.7 1220.7M1161.7 1224.9L1165.7 1223.6M1161.7 1224.9L1164.2 1228.3M1161.7 1224.9L1159.2 1228.3M1161.7 1224.9L1157.7 1223.6" stroke="#FF0000" stroke-width="2.3" stroke-linecap="round"/><path d="M1174.1 1237.0L1174.1 1232.8M1174.1 1237.0L1178.1 1235.7M1174.1 1237.0L1176.6 1240.4M1174.1 1237.0L1171.6 1240.4M1174.1 1237.0L1170.1 1235.7" stroke="#FF0000" stroke-width="2.3" stroke-linecap="round"/><path d="M1186.5 1246.1L1186.5 1241.9M1186.5 1246.1L1190.5 1244.8M1186.5 1246.1L1189.0 1249.5M1186.5 1246.1L1184.0 1249.5M1186.5 1246.1L1182.5 1244.8" stroke="#FF0000" stroke-width="2.3" stroke-linecap="round"/><path d="M1200.2 1254.9L1200.2 1250.7M1200.2 1254.9L1204.2 1253.6M1200.2 1254.9L1202.7 1258.3M1200.2 1254.9L1197.7 1258.3M1200.2 1254.9L1196.2 1253.6" stroke="#FF0000" stroke-width="2.3" stroke-linecap="round"/><path d="M1212.6 1264.0L1212.6 1259.8M1212.6 1264.0L1216.6 1262.7M1212.6 1264.0L1215.1 1267.4M1212.6 1264.0L1210.1 1267.4M1212.6 1264.0L1208.6 1262.7" stroke="#FF0000" stroke-width="2.3" stroke-linecap="round"/><path d="M1225.0 1270.9L1225.0 1266.7M1225.0 1270.9L1229.0 1269.6M1225.0 1270.9L1227.5 1274.3M1225.0 1270.9L1222.5 1274.3M1225.0 1270.9L1221.0 1269.6" stroke="#FF0000" stroke-width="2.3" stroke-linecap="round"/><path d="M1229.9 1273.2L1229.9 1269.0M1229.9 1273.2L1233.9 1271.9M1229.9 1273.2L1232.4 1276.6M1229.9 1273.2L1227.4 1276.6M1229.9 1273.2L1225.9 1271.9" stroke="#FF0000" stroke-width="2.3" stroke-linecap="round"/><path d="M1242.5 1278.6L1242.5 1274.4M1242.5 1278.6L1246.5 1277.3M1242.5 1278.6L1245.0 1282.0M1242.5 1278.6L1240.0 1282.0M1242.5 1278.6L1238.5 1277.3" stroke="#FF0000" stroke-width="2.3" stroke-linecap="round"/><path d="M1255.1 1283.5L1255.1 1279.3M1255.1 1283.5L1259.1 1282.2M1255.1 1283.5L1257.6 1286.9M1255.1 1283.5L1252.6 1286.9M1255.1 1283.5L1251.1 1282.2" stroke="#FF0000" stroke-width="2.3" stroke-linecap="round"/><path d="M1267.7 1287.9L1267.7 1283.7M1267.7 1287.9L1271.7 1286.6M1267.7 1287.9L1270.2 1291.3M1267.7 1287.9L1265.2 1291.3M1267.7 1287.9L1263.7 1286.6" stroke="#FF0000" stroke-width="2.3" stroke-linecap="round"/><path d="M1280.3 1293.5L1280.3 1289.3M1280.3 1293.5L1284.3 1292.2M1280.3 1293.5L1282.8 1296.9M1280.3 1293.5L1277.9 1296.9M1280.3 1293.5L1276.3 1292.2" stroke="#FF0000" stroke-width="2.3" stroke-linecap="round"/><path d="M1292.9 1299.2L1292.9 1295.0M1292.9 1299.2L1296.9 1297.9M1292.9 1299.2L1295.4 1302.6M1292.9 1299.2L1290.5 1302.6M1292.9 1299.2L1288.9 1297.9" stroke="#FF0000" stroke-width="2.3" stroke-linecap="round"/><path d="M1305.5 1303.7L1305.5 1299.5M1305.5 1303.7L1309.5 1302.4M1305.5 1303.7L1308.0 1307.1M1305.5 1303.7L1303.1 1307.1M1305.5 1303.7L1301.5 1302.4" stroke="#FF0000" stroke-width="2.3" stroke-linecap="round"/><path d="M1318.2 1307.5L1318.2 1303.3M1318.2 1307.5L1322.1 1306.2M1318.2 1307.5L1320.6 1310.9M1318.2 1307.5L1315.7 1310.9M1318.2 1307.5L1314.2 1306.2" stroke="#FF0000" stroke-width="2.3" stroke-linecap="round"/><path d="M1330.8 1311.7L1330.8 1307.5M1330.8 1311.7L1334.8 1310.4M1330.8 1311.7L1333.2 1315.1M1330.8 1311.7L1328.3 1315.1M1330.8 1311.7L1326.8 1310.4" stroke="#FF0000" stroke-width="2.3" stroke-linecap="round"/><path d="M1343.4 1315.1L1343.4 1310.9M1343.4 1315.1L1347.4 1313.8M1343.4 1315.1L1345.8 1318.5M1343.4 1315.1L1340.9 1318.5M1343.4 1315.1L1339.4 1313.8" stroke="#FF0000" stroke-width="2.3" stroke-linecap="round"/><path d="M1356.0 1318.3L1356.0 1314.1M1356.0 1318.3L1360.0 1317.0M1356.0 1318.3L1358.5 1321.7M1356.0 1318.3L1353.5 1321.7M1356.0 1318.3L1352.0 1317.0" stroke="#FF0000" stroke-width="2.3" stroke-linecap="round"/><path d="M1368.6 1320.9L1368.6 1316.7M1368.6 1320.9L1372.6 1319.6M1368.6 1320.9L1371.1 1324.3M1368.6 1320.9L1366.1 1324.3M1368.6 1320.9L1364.6 1319.6" stroke="#FF0000" stroke-width="2.3" stroke-linecap="round"/><path d="M1381.2 1323.6L1381.2 1319.4M1381.2 1323.6L1385.2 1322.3M1381.2 1323.6L1383.7 1327.0M1381.2 1323.6L1378.7 1327.0M1381.2 1323.6L1377.2 1322.3" stroke="#FF0000" stroke-width="2.3" stroke-linecap="round"/><path d="M1393.8 1326.3L1393.8 1322.1M1393.8 1326.3L1397.8 1325.0M1393.8 1326.3L1396.3 1329.7M1393.8 1326.3L1391.3 1329.7M1393.8 1326.3L1389.8 1325.0" stroke="#FF0000" stroke-width="2.3" stroke-linecap="round"/><path d="M1406.4 1328.9L1406.4 1324.7M1406.4 1328.9L1410.4 1327.6M1406.4 1328.9L1408.9 1332.3M1406.4 1328.9L1404.0 1332.3M1406.4 1328.9L1402.4 1327.6" stroke="#FF0000" stroke-width="2.3" stroke-linecap="round"/><path d="M1419.0 1331.1L1419.0 1326.9M1419.0 1331.1L1423.0 1329.8M1419.0 1331.1L1421.5 1334.5M1419.0 1331.1L1416.6 1334.5M1419.0 1331.1L1415.0 1329.8" stroke="#FF0000" stroke-width="2.3" stroke-linecap="round"/><path d="M1431.6 1333.0L1431.6 1328.8M1431.6 1333.0L1435.6 1331.7M1431.6 1333.0L1434.1 1336.4M1431.6 1333.0L1429.2 1336.4M1431.6 1333.0L1427.6 1331.7" stroke="#FF0000" stroke-width="2.3" stroke-linecap="round"/><path d="M1444.3 1334.8L1444.3 1330.6M1444.3 1334.8L1448.2 1333.5M1444.3 1334.8L1446.7 1338.2M1444.3 1334.8L1441.8 1338.2M1444.3 1334.8L1440.3 1333.5" stroke="#FF0000" stroke-width="2.3" stroke-linecap="round"/><path d="M1456.9 1337.1L1456.9 1332.9M1456.9 1337.1L1460.9 1335.8M1456.9 1337.1L1459.3 1340.5M1456.9 1337.1L1454.4 1340.5M1456.9 1337.1L1452.9 1335.8" stroke="#FF0000" stroke-width="2.3" stroke-linecap="round"/><path d="M1469.5 1338.4L1469.5 1334.2M1469.5 1338.4L1473.5 1337.1M1469.5 1338.4L1471.9 1341.8M1469.5 1338.4L1467.0 1341.8M1469.5 1338.4L1465.5 1337.1" stroke="#FF0000" stroke-width="2.3" stroke-linecap="round"/><path d="M1482.1 1339.2L1482.1 1335.0M1482.1 1339.2L1486.1 1337.9M1482.1 1339.2L1484.5 1342.6M1482.1 1339.2L1479.6 1342.6M1482.1 1339.2L1478.1 1337.9" stroke="#FF0000" stroke-width="2.3" stroke-linecap="round"/><path d="M1494.7 1340.3L1494.7 1336.1M1494.7 1340.3L1498.7 1339.0M1494.7 1340.3L1497.2 1343.7M1494.7 1340.3L1492.2 1343.7M1494.7 1340.3L1490.7 1339.0" stroke="#FF0000" stroke-width="2.3" stroke-linecap="round"/><path d="M1507.3 1341.0L1507.3 1336.8M1507.3 1341.0L1511.3 1339.7M1507.3 1341.0L1509.8 1344.4M1507.3 1341.0L1504.8 1344.4M1507.3 1341.0L1503.3 1339.7" stroke="#FF0000" stroke-width="2.3" stroke-linecap="round"/></g><path d="M889.9 1390.8L890.9 1377.3L892.0 1365.1L893.0 1355.1L894.0 1345.8L895.0 1333.6L896.1 1315.3L897.1 1296.8L898.1 1283.0L899.2 1272.4L900.2 1259.8L901.2 1247.3L902.3 1237.5L903.3 1226.9L904.3 1213.9L905.4 1202.4L906.4 1191.7L907.4 1182.0L908.4 1173.1L909.5 1164.9L910.5 1157.0L911.5 1149.6L912.6 1142.5L913.6 1135.9L914.6 1129.7L915.7 1123.7L916.7 1117.7L917.7 1111.6L918.8 1105.5L919.8 1099.6L920.8 1094.0L921.8 1089.0L922.9 1084.5L923.9 1080.3L924.9 1076.4L926.0 1072.7L927.0 1069.3L928.0 1066.0L929.1 1062.9L930.1 1059.9L931.1 1057.1L932.2 1054.4L933.2 1051.8L934.2 1049.5L935.2 1047.3L936.3 1045.3L937.3 1043.4L938.3 1041.5L939.4 1039.8L940.4 1038.2L941.4 1036.8L942.5 1035.6L943.5 1034.7L944.5 1033.7L945.6 1032.8L946.6 1031.9L947.6 1031.0L948.6 1030.2L949.7 1029.5L950.7 1028.8L951.7 1028.2L952.8 1027.7L953.8 1027.4L954.8 1027.1L955.9 1027.0L956.9 1027.0L957.9 1027.1L959.0 1027.3L960.0 1027.6L961.0 1027.9L962.0 1028.3L963.1 1028.8L964.1 1029.3L965.1 1029.8L966.2 1030.4L967.2 1031.0L968.2 1031.7L969.3 1032.3L970.3 1033.0L971.3 1033.7L972.4 1034.4L973.4 1035.0L974.4 1035.7L975.4 1036.5L976.5 1037.4L977.5 1038.3L978.5 1039.3L979.6 1040.3L980.6 1041.3L981.6 1042.3L982.7 1043.4L983.7 1044.4L984.7 1045.5L985.8 1046.6L986.8 1047.8L987.8 1048.9L988.8 1050.1L989.9 1051.3L990.9 1052.5L991.9 1053.7L993.0 1054.9L994.0 1056.1L995.0 1057.4L996.1 1058.7L997.1 1060.0L998.1 1061.3L999.2 1062.6L1000.2 1064.0L1001.2 1065.3L1002.2 1066.7L1003.3 1068.0L1004.3 1069.4L1005.3 1070.7L1006.4 1072.0L1007.4 1073.4L1008.4 1074.7L1009.5 1076.0L1010.5 1077.4L1011.5 1078.7L1012.6 1080.1L1013.6 1081.4L1014.6 1082.7L1015.6 1084.1L1016.7 1085.5L1017.7 1086.8L1018.7 1088.2L1019.8 1089.6L1020.8 1091.0L1021.8 1092.4L1022.9 1093.8L1023.9 1095.3L1024.9 1096.7L1026.0 1098.2L1027.0 1099.6L1028.0 1101.1L1029.0 1102.5L1030.1 1103.9L1031.1 1105.4L1032.1 1106.8L1033.2 1108.2L1034.2 1109.5L1035.2 1110.9L1036.3 1112.3L1037.3 1113.7L1038.3 1115.1L1039.4 1116.4L1040.4 1117.8L1041.4 1119.1L1042.4 1120.5L1043.5 1121.8L1044.5 1123.1L1045.5 1124.4L1046.6 1125.7L1047.6 1127.0L1048.6 1128.3L1049.7 1129.6L1050.7 1130.9L1051.7 1132.1L1052.7 1133.4L1053.8 1134.6L1054.8 1135.9L1055.8 1137.2L1056.9 1138.4L1057.9 1139.6L1058.9 1140.9L1060.0 1142.1L1061.0 1143.4L1062.0 1144.6L1063.1 1145.9L1064.1 1147.1L1065.1 1148.3L1066.1 1149.5L1067.2 1150.8L1068.2 1152.0L1069.2 1153.2L1070.3 1154.3L1071.3 1155.5L1072.3 1156.7L1073.4 1157.8L1074.4 1159.0L1075.4 1160.1L1076.5 1161.2L1077.5 1162.3L1078.5 1163.4L1079.5 1164.5L1080.6 1165.6L1081.6 1166.7L1082.6 1167.8L1083.7 1168.9L1084.7 1170.0L1085.7 1171.1L1086.8 1172.1L1087.8 1173.2L1088.8 1174.3L1089.9 1175.4L1090.9 1176.5L1091.9 1177.5L1092.9 1178.6L1094.0 1179.6L1095.0 1180.6L1096.0 1181.7L1097.1 1182.7L1098.1 1183.7L1099.1 1184.6L1100.2 1185.6L1101.2 1186.5L1102.2 1187.5L1103.3 1188.4L1104.3 1189.3L1105.3 1190.3L1106.3 1191.2L1107.4 1192.2L1108.4 1193.1L1109.4 1194.1L1110.5 1195.1L1111.5 1196.2L1112.5 1197.2L1113.6 1198.3L1114.6 1199.4L1115.6 1200.4L1116.7 1201.5L1117.7 1202.6L1118.7 1203.6L1119.7 1204.6L1120.8 1205.5L1121.8 1206.5L1122.8 1207.4L1123.9 1208.2L1124.9 1209.0L1125.9 1209.8L1127.0 1210.6L1128.0 1211.3L1129.0 1212.1L1130.1 1212.8L1131.1 1213.5L1132.1 1214.3L1133.1 1215.1L1134.2 1215.9L1135.2 1216.7L1136.2 1217.5L1137.3 1218.3L1138.3 1219.1L1139.3 1220.0L1140.4 1220.8L1141.4 1221.6L1142.4 1222.5L1143.5 1223.3L1144.5 1224.1L1145.5 1224.9L1146.5 1225.7L1147.6 1226.5L1148.6 1227.3L1149.6 1228.2L1150.7 1229.0L1151.7 1229.8L1152.7 1230.6L1153.8 1231.4L1154.8 1232.1L1155.8 1232.9L1156.9 1233.7L1157.9 1234.4L1158.9 1235.2L1159.9 1235.9L1161.0 1236.6L1162.0 1237.3L1163.0 1238.0L1164.1 1238.6L1165.1 1239.3L1166.1 1239.9L1167.2 1240.5L1168.2 1241.2L1169.2 1241.8L1170.3 1242.4L1171.3 1243.0L1172.3 1243.6L1173.3 1244.2L1174.4 1244.9L1175.4 1245.5L1176.4 1246.1L1177.5 1246.7L1178.5 1247.4L1179.5 1248.0L1180.6 1248.6L1181.6 1249.2L1182.6 1249.8L1183.7 1250.5L1184.7 1251.1L1185.7 1251.7L1186.7 1252.3L1187.8 1253.0L1188.8 1253.6L1189.8 1254.3L1190.9 1254.9L1191.9 1255.5L1192.9 1256.2L1194.0 1256.8L1195.0 1257.5L1196.0 1258.1L1197.1 1258.8L1198.1 1259.4L1199.1 1260.0L1200.1 1260.7L1201.2 1261.3L1202.2 1262.0L1203.2 1262.7L1204.3 1263.3L1205.3 1264.0L1206.3 1264.7L1207.4 1265.3L1208.4 1265.9L1209.4 1266.6L1210.5 1267.2L1211.5 1267.7L1212.5 1268.3L1213.5 1268.8L1214.6 1269.3L1215.6 1269.8L1216.6 1270.3L1217.7 1270.8L1218.7 1271.3L1219.7 1271.8L1220.8 1272.2L1221.8 1272.6L1222.8 1273.1L1223.9 1273.5L1224.9 1273.9L1225.9 1274.2L1226.9 1274.6L1228.0 1274.9L1229.0 1275.2L1230.0 1275.5L1231.1 1275.8L1232.1 1276.2L1233.1 1276.5L1234.2 1276.8L1235.2 1277.1L1236.2 1277.4L1237.2 1277.7L1238.3 1278.1L1239.3 1278.4L1240.3 1278.8L1241.4 1279.2L1242.4 1279.5L1243.4 1279.9L1244.5 1280.2L1245.5 1280.6L1246.5 1281.0L1247.6 1281.3L1248.6 1281.7L1249.6 1282.1L1250.6 1282.5L1251.7 1282.9L1252.7 1283.3L1253.7 1283.7L1254.8 1284.1L1255.8 1284.5L1256.8 1285.0L1257.9 1285.4L1258.9 1285.8L1259.9 1286.2L1261.0 1286.6L1262.0 1287.0L1263.0 1287.4L1264.0 1287.8L1265.1 1288.2L1266.1 1288.5L1267.1 1288.9L1268.2 1289.3L1269.2 1289.6L1270.2 1290.0L1271.3 1290.3L1272.3 1290.7L1273.3 1291.1L1274.4 1291.4L1275.4 1291.8L1276.4 1292.2L1277.4 1292.5L1278.5 1292.9L1279.5 1293.3L1280.5 1293.7L1281.6 1294.0L1282.6 1294.4L1283.6 1294.8L1284.7 1295.2L1285.7 1295.6L1286.7 1295.9L1287.8 1296.3L1288.8 1296.7L1289.8 1297.0L1290.8 1297.4L1291.9 1297.8L1292.9 1298.2L1293.9 1298.5L1295.0 1298.9L1296.0 1299.3L1297.0 1299.7L1298.1 1300.0L1299.1 1300.3L1300.1 1300.7L1301.2 1301.0L1302.2 1301.2L1303.2 1301.5L1304.2 1301.7L1305.3 1301.9L1306.3 1302.1L1307.3 1302.3L1308.4 1302.5L1309.4 1302.7L1310.4 1302.8L1311.5 1303.0L1312.5 1303.2L1313.5 1303.4L1314.6 1303.6L1315.6 1303.8L1316.6 1304.1L1317.6 1304.3L1318.7 1304.6L1319.7 1304.9L1320.7 1305.2L1321.8 1305.5L1322.8 1305.8L1323.8 1306.1L1324.9 1306.4L1325.9 1306.7L1326.9 1307.0L1328.0 1307.3L1329.0 1307.6L1330.0 1307.9L1331.0 1308.2L1332.1 1308.5L1333.1 1308.9L1334.1 1309.2L1335.2 1309.5L1336.2 1309.8L1337.2 1310.1L1338.3 1310.4L1339.3 1310.7L1340.3 1311.0L1341.4 1311.3L1342.4 1311.5L1343.4 1311.8L1344.4 1312.0L1345.5 1312.2L1346.5 1312.5L1347.5 1312.7L1348.6 1312.9L1349.6 1313.1L1350.6 1313.3L1351.7 1313.5L1352.7 1313.7L1353.7 1313.9L1354.8 1314.1L1355.8 1314.3L1356.8 1314.4L1357.8 1314.6L1358.9 1314.7L1359.9 1314.9L1360.9 1315.1L1362.0 1315.2L1363.0 1315.4L1364.0 1315.5L1365.1 1315.7L1366.1 1315.9L1367.1 1316.1L1368.2 1316.2L1369.2 1316.4L1370.2 1316.7L1371.2 1316.9L1372.3 1317.1L1373.3 1317.3L1374.3 1317.5L1375.4 1317.7L1376.4 1317.9L1377.4 1318.1L1378.5 1318.4L1379.5 1318.6L1380.5 1318.8L1381.6 1319.0L1382.6 1319.2L1383.6 1319.4L1384.6 1319.6L1385.7 1319.8L1386.7 1320.0L1387.7 1320.2L1388.8 1320.4L1389.8 1320.6L1390.8 1320.8L1391.9 1320.9L1392.9 1321.1L1393.9 1321.3L1395.0 1321.4L1396.0 1321.5L1397.0 1321.7L1398.0 1321.8L1399.1 1321.9L1400.1 1322.0L1401.1 1322.2L1402.2 1322.3L1403.2 1322.4L1404.2 1322.5L1405.3 1322.7L1406.3 1322.8L1407.3 1323.0L1408.4 1323.1L1409.4 1323.3L1410.4 1323.5L1411.4 1323.6L1412.5 1323.8L1413.5 1323.9L1414.5 1324.1L1415.6 1324.3L1416.6 1324.4L1417.6 1324.6L1418.7 1324.7L1419.7 1324.9L1420.7 1325.0L1421.7 1325.2L1422.8 1325.3L1423.8 1325.5L1424.8 1325.6L1425.9 1325.8L1426.9 1325.9L1427.9 1326.1L1429.0 1326.2L1430.0 1326.4L1431.0 1326.5L1432.1 1326.6L1433.1 1326.8L1434.1 1326.9L1435.1 1327.0L1436.2 1327.2L1437.2 1327.3L1438.2 1327.4L1439.3 1327.6L1440.3 1327.7L1441.3 1327.8L1442.4 1328.0L1443.4 1328.1L1444.4 1328.3L1445.5 1328.4L1446.5 1328.6L1447.5 1328.7L1448.5 1328.9L1449.6 1329.0L1450.6 1329.2L1451.6 1329.4L1452.7 1329.5L1453.7 1329.7L1454.7 1329.8L1455.8 1330.0L1456.8 1330.2L1457.8 1330.3L1458.9 1330.5L1459.9 1330.6L1460.9 1330.8L1461.9 1331.0L1463.0 1331.1L1464.0 1331.3L1465.0 1331.5L1466.1 1331.6L1467.1 1331.7L1468.1 1331.9L1469.2 1332.0L1470.2 1332.1L1471.2 1332.2L1472.3 1332.3L1473.3 1332.4L1474.3 1332.5L1475.3 1332.5L1476.4 1332.6L1477.4 1332.7L1478.4 1332.8L1479.5 1332.9L1480.5 1332.9L1481.5 1333.0L1482.6 1333.1L1483.6 1333.2L1484.6 1333.3L1485.7 1333.4L1486.7 1333.5L1487.7 1333.6L1488.7 1333.7L1489.8 1333.8L1490.8 1333.9L1491.8 1334.0L1492.9 1334.0L1493.9 1334.1L1494.9 1334.2L1496.0 1334.3L1497.0 1334.3L1498.0 1334.4L1499.1 1334.5L1500.1 1334.5L1501.1 1334.6L1502.1 1334.7L1503.2 1334.7L1504.2 1334.8L1505.2 1334.8L1506.3 1334.9L1507.3 1334.9" fill="none" stroke="#A52A2A" stroke-width="2.0" stroke-linejoin="round" clip-path="url(#clp4)"/><g clip-path="url(#clp4)"><path d="M887.4 1417.2L896.6 1426.4M887.4 1426.4L896.6 1417.2" stroke="#00FF00" stroke-width="2.0"/><path d="M888.4 1403.4L897.6 1412.6M888.4 1412.6L897.6 1403.4" stroke="#00FF00" stroke-width="2.0"/><path d="M889.2 1389.7L898.4 1398.9M889.2 1398.9L898.4 1389.7" stroke="#00FF00" stroke-width="2.0"/><path d="M890.2 1375.9L899.4 1385.1M890.2 1385.1L899.4 1375.9" stroke="#00FF00" stroke-width="2.0"/><path d="M891.6 1356.7L900.8 1365.9M891.6 1365.9L900.8 1356.7" stroke="#00FF00" stroke-width="2.0"/><path d="M892.9 1353.3L902.1 1362.5M892.9 1362.5L902.1 1353.3" stroke="#00FF00" stroke-width="2.0"/><path d="M894.3 1351.2L903.5 1360.4M894.3 1360.4L903.5 1351.2" stroke="#00FF00" stroke-width="2.0"/><path d="M895.7 1349.0L904.9 1358.2M895.7 1358.2L904.9 1349.0" stroke="#00FF00" stroke-width="2.0"/><path d="M897.1 1347.0L906.3 1356.2M897.1 1356.2L906.3 1347.0" stroke="#00FF00" stroke-width="2.0"/><path d="M898.5 1345.1L907.7 1354.3M898.5 1354.3L907.7 1345.1" stroke="#00FF00" stroke-width="2.0"/><path d="M899.9 1343.3L909.1 1352.5M899.9 1352.5L909.1 1343.3" stroke="#00FF00" stroke-width="2.0"/><path d="M901.2 1341.6L910.4 1350.8M901.2 1350.8L910.4 1341.6" stroke="#00FF00" stroke-width="2.0"/><path d="M906.7 1334.7L915.9 1343.9M906.7 1343.9L915.9 1334.7" stroke="#00FF00" stroke-width="2.0"/><path d="M913.0 1325.1L922.2 1334.3M913.0 1334.3L922.2 1325.1" stroke="#00FF00" stroke-width="2.0"/><path d="M919.6 1315.5L928.8 1324.7M919.6 1324.7L928.8 1315.5" stroke="#00FF00" stroke-width="2.0"/><path d="M926.7 1304.5L935.9 1313.7M926.7 1313.7L935.9 1304.5" stroke="#00FF00" stroke-width="2.0"/><path d="M932.8 1294.9L942.0 1304.1M932.8 1304.1L942.0 1294.9" stroke="#00FF00" stroke-width="2.0"/><path d="M939.6 1288.0L948.8 1297.2M939.6 1297.2L948.8 1288.0" stroke="#00FF00" stroke-width="2.0"/><path d="M945.9 1280.6L955.1 1289.8M945.9 1289.8L955.1 1280.6" stroke="#00FF00" stroke-width="2.0"/><path d="M953.4 1272.9L962.6 1282.1M953.4 1282.1L962.6 1272.9" stroke="#00FF00" stroke-width="2.0"/><path d="M964.4 1261.9L973.6 1271.1M964.4 1271.1L973.6 1261.9" stroke="#00FF00" stroke-width="2.0"/><path d="M976.7 1253.7L985.9 1262.9M976.7 1262.9L985.9 1253.7" stroke="#00FF00" stroke-width="2.0"/><path d="M990.4 1246.3L999.6 1255.5M990.4 1255.5L999.6 1246.3" stroke="#00FF00" stroke-width="2.0"/><path d="M1004.2 1241.3L1013.4 1250.5M1004.2 1250.5L1013.4 1241.3" stroke="#00FF00" stroke-width="2.0"/><path d="M1016.6 1238.6L1025.8 1247.8M1016.6 1247.8L1025.8 1238.6" stroke="#00FF00" stroke-width="2.0"/><path d="M1030.3 1236.9L1039.5 1246.1M1030.3 1246.1L1039.5 1236.9" stroke="#00FF00" stroke-width="2.0"/><path d="M1042.7 1236.4L1051.9 1245.6M1042.7 1245.6L1051.9 1236.4" stroke="#00FF00" stroke-width="2.0"/><path d="M1055.0 1237.2L1064.2 1246.4M1055.0 1246.4L1064.2 1237.2" stroke="#00FF00" stroke-width="2.0"/><path d="M1068.8 1239.1L1078.0 1248.3M1068.8 1248.3L1078.0 1239.1" stroke="#00FF00" stroke-width="2.0"/><path d="M1081.1 1240.5L1090.3 1249.7M1081.1 1249.7L1090.3 1240.5" stroke="#00FF00" stroke-width="2.0"/><path d="M1093.5 1242.7L1102.7 1251.9M1093.5 1251.9L1102.7 1242.7" stroke="#00FF00" stroke-width="2.0"/><path d="M1105.8 1245.4L1115.0 1254.6M1105.8 1254.6L1115.0 1245.4" stroke="#00FF00" stroke-width="2.0"/><path d="M1119.6 1248.2L1128.8 1257.4M1119.6 1257.4L1128.8 1248.2" stroke="#00FF00" stroke-width="2.0"/><path d="M1130.9 1251.4L1140.1 1260.6M1130.9 1260.6L1140.1 1251.4" stroke="#00FF00" stroke-width="2.0"/><path d="M1137.0 1253.4L1146.2 1262.6M1137.0 1262.6L1146.2 1253.4" stroke="#00FF00" stroke-width="2.0"/><path d="M1149.6 1256.5L1158.8 1265.7M1149.6 1265.7L1158.8 1256.5" stroke="#00FF00" stroke-width="2.0"/><path d="M1162.2 1259.7L1171.4 1268.9M1162.2 1268.9L1171.4 1259.7" stroke="#00FF00" stroke-width="2.0"/><path d="M1174.8 1263.4L1184.0 1272.6M1174.8 1272.6L1184.0 1263.4" stroke="#00FF00" stroke-width="2.0"/><path d="M1187.5 1266.4L1196.7 1275.6M1187.5 1275.6L1196.7 1266.4" stroke="#00FF00" stroke-width="2.0"/><path d="M1200.1 1270.6L1209.3 1279.8M1200.1 1279.8L1209.3 1270.6" stroke="#00FF00" stroke-width="2.0"/><path d="M1212.7 1273.9L1221.9 1283.1M1212.7 1283.1L1221.9 1273.9" stroke="#00FF00" stroke-width="2.0"/><path d="M1225.3 1276.3L1234.5 1285.5M1225.3 1285.5L1234.5 1276.3" stroke="#00FF00" stroke-width="2.0"/><path d="M1237.9 1280.3L1247.1 1289.5M1237.9 1289.5L1247.1 1280.3" stroke="#00FF00" stroke-width="2.0"/><path d="M1250.5 1284.2L1259.7 1293.4M1250.5 1293.4L1259.7 1284.2" stroke="#00FF00" stroke-width="2.0"/><path d="M1263.1 1288.5L1272.3 1297.7M1263.1 1297.7L1272.3 1288.5" stroke="#00FF00" stroke-width="2.0"/><path d="M1275.7 1294.0L1284.9 1303.2M1275.7 1303.2L1284.9 1294.0" stroke="#00FF00" stroke-width="2.0"/><path d="M1288.3 1299.4L1297.5 1308.6M1288.3 1308.6L1297.5 1299.4" stroke="#00FF00" stroke-width="2.0"/><path d="M1300.9 1304.5L1310.1 1313.7M1300.9 1313.7L1310.1 1304.5" stroke="#00FF00" stroke-width="2.0"/><path d="M1313.6 1309.2L1322.8 1318.4M1313.6 1318.4L1322.8 1309.2" stroke="#00FF00" stroke-width="2.0"/><path d="M1326.2 1313.0L1335.4 1322.2M1326.2 1322.2L1335.4 1313.0" stroke="#00FF00" stroke-width="2.0"/><path d="M1338.8 1316.3L1348.0 1325.5M1338.8 1325.5L1348.0 1316.3" stroke="#00FF00" stroke-width="2.0"/><path d="M1351.4 1319.6L1360.6 1328.8M1351.4 1328.8L1360.6 1319.6" stroke="#00FF00" stroke-width="2.0"/><path d="M1364.0 1323.0L1373.2 1332.2M1364.0 1332.2L1373.2 1323.0" stroke="#00FF00" stroke-width="2.0"/><path d="M1376.6 1325.6L1385.8 1334.8M1376.6 1334.8L1385.8 1325.6" stroke="#00FF00" stroke-width="2.0"/><path d="M1389.2 1328.3L1398.4 1337.5M1389.2 1337.5L1398.4 1328.3" stroke="#00FF00" stroke-width="2.0"/><path d="M1401.8 1331.1L1411.0 1340.3M1401.8 1340.3L1411.0 1331.1" stroke="#00FF00" stroke-width="2.0"/><path d="M1414.4 1333.2L1423.6 1342.4M1414.4 1342.4L1423.6 1333.2" stroke="#00FF00" stroke-width="2.0"/><path d="M1427.0 1335.1L1436.2 1344.3M1427.0 1344.3L1436.2 1335.1" stroke="#00FF00" stroke-width="2.0"/><path d="M1439.7 1337.3L1448.9 1346.5M1439.7 1346.5L1448.9 1337.3" stroke="#00FF00" stroke-width="2.0"/><path d="M1452.3 1339.4L1461.5 1348.6M1452.3 1348.6L1461.5 1339.4" stroke="#00FF00" stroke-width="2.0"/><path d="M1464.9 1340.5L1474.1 1349.7M1464.9 1349.7L1474.1 1340.5" stroke="#00FF00" stroke-width="2.0"/><path d="M1477.5 1341.9L1486.7 1351.1M1477.5 1351.1L1486.7 1341.9" stroke="#00FF00" stroke-width="2.0"/><path d="M1490.1 1343.3L1499.3 1352.5M1490.1 1352.5L1499.3 1343.3" stroke="#00FF00" stroke-width="2.0"/><path d="M1502.7 1344.6L1511.9 1353.8M1502.7 1353.8L1511.9 1344.6" stroke="#00FF00" stroke-width="2.0"/></g><g clip-path="url(#clp4)"><circle cx="890.7" cy="1406.6" r="3.7" fill="none" stroke="#C82424" stroke-width="1.8"/><circle cx="892.0" cy="1384.7" r="3.7" fill="none" stroke="#C82424" stroke-width="1.8"/><circle cx="892.9" cy="1365.4" r="3.7" fill="none" stroke="#C82424" stroke-width="1.8"/><circle cx="893.4" cy="1355.8" r="3.7" fill="none" stroke="#C82424" stroke-width="1.8"/><circle cx="894.0" cy="1348.1" r="3.7" fill="none" stroke="#C82424" stroke-width="1.8"/><circle cx="895.6" cy="1336.0" r="3.7" fill="none" stroke="#C82424" stroke-width="1.8"/><circle cx="897.5" cy="1322.9" r="3.7" fill="none" stroke="#C82424" stroke-width="1.8"/><circle cx="901.1" cy="1299.5" r="3.7" fill="none" stroke="#C82424" stroke-width="1.8"/><circle cx="904.4" cy="1278.9" r="3.7" fill="none" stroke="#C82424" stroke-width="1.8"/><circle cx="907.1" cy="1263.0" r="3.7" fill="none" stroke="#C82424" stroke-width="1.8"/><circle cx="909.9" cy="1248.7" r="3.7" fill="none" stroke="#C82424" stroke-width="1.8"/><circle cx="912.6" cy="1236.3" r="3.7" fill="none" stroke="#C82424" stroke-width="1.8"/><circle cx="916.2" cy="1224.0" r="3.7" fill="none" stroke="#C82424" stroke-width="1.8"/><circle cx="922.8" cy="1202.5" r="3.7" fill="none" stroke="#C82424" stroke-width="1.8"/><circle cx="929.1" cy="1185.5" r="3.7" fill="none" stroke="#C82424" stroke-width="1.8"/><circle cx="935.6" cy="1172.7" r="3.7" fill="none" stroke="#C82424" stroke-width="1.8"/><circle cx="941.8" cy="1163.0" r="3.7" fill="none" stroke="#C82424" stroke-width="1.8"/><circle cx="949.0" cy="1156.8" r="3.7" fill="none" stroke="#C82424" stroke-width="1.8"/><circle cx="953.0" cy="1152.9" r="3.7" fill="none" stroke="#C82424" stroke-width="1.8"/><circle cx="955.6" cy="1151.0" r="3.7" fill="none" stroke="#C82424" stroke-width="1.8"/><circle cx="958.2" cy="1150.1" r="3.7" fill="none" stroke="#C82424" stroke-width="1.8"/><circle cx="960.8" cy="1149.3" r="3.7" fill="none" stroke="#C82424" stroke-width="1.8"/><circle cx="963.4" cy="1148.7" r="3.7" fill="none" stroke="#C82424" stroke-width="1.8"/><circle cx="966.0" cy="1148.2" r="3.7" fill="none" stroke="#C82424" stroke-width="1.8"/><circle cx="968.6" cy="1147.8" r="3.7" fill="none" stroke="#C82424" stroke-width="1.8"/><circle cx="971.2" cy="1147.6" r="3.7" fill="none" stroke="#C82424" stroke-width="1.8"/><circle cx="973.8" cy="1147.6" r="3.7" fill="none" stroke="#C82424" stroke-width="1.8"/><circle cx="976.4" cy="1147.8" r="3.7" fill="none" stroke="#C82424" stroke-width="1.8"/><circle cx="979.0" cy="1148.2" r="3.7" fill="none" stroke="#C82424" stroke-width="1.8"/><circle cx="981.6" cy="1148.7" r="3.7" fill="none" stroke="#C82424" stroke-width="1.8"/><circle cx="987.1" cy="1150.0" r="3.7" fill="none" stroke="#C82424" stroke-width="1.8"/><circle cx="993.7" cy="1152.1" r="3.7" fill="none" stroke="#C82424" stroke-width="1.8"/><circle cx="1006.7" cy="1157.9" r="3.7" fill="none" stroke="#C82424" stroke-width="1.8"/><circle cx="1019.7" cy="1165.5" r="3.7" fill="none" stroke="#C82424" stroke-width="1.8"/><circle cx="1031.9" cy="1172.7" r="3.7" fill="none" stroke="#C82424" stroke-width="1.8"/><circle cx="1044.9" cy="1181.5" r="3.7" fill="none" stroke="#C82424" stroke-width="1.8"/><circle cx="1058.5" cy="1189.6" r="3.7" fill="none" stroke="#C82424" stroke-width="1.8"/><circle cx="1071.4" cy="1198.7" r="3.7" fill="none" stroke="#C82424" stroke-width="1.8"/><circle cx="1083.0" cy="1206.1" r="3.7" fill="none" stroke="#C82424" stroke-width="1.8"/><circle cx="1096.7" cy="1214.3" r="3.7" fill="none" stroke="#C82424" stroke-width="1.8"/><circle cx="1108.5" cy="1221.2" r="3.7" fill="none" stroke="#C82424" stroke-width="1.8"/><circle cx="1122.0" cy="1229.5" r="3.7" fill="none" stroke="#C82424" stroke-width="1.8"/><circle cx="1134.6" cy="1235.5" r="3.7" fill="none" stroke="#C82424" stroke-width="1.8"/><circle cx="1147.5" cy="1242.6" r="3.7" fill="none" stroke="#C82424" stroke-width="1.8"/><circle cx="1160.7" cy="1248.7" r="3.7" fill="none" stroke="#C82424" stroke-width="1.8"/><circle cx="1173.6" cy="1254.2" r="3.7" fill="none" stroke="#C82424" stroke-width="1.8"/><circle cx="1186.0" cy="1259.7" r="3.7" fill="none" stroke="#C82424" stroke-width="1.8"/><circle cx="1197.0" cy="1265.2" r="3.7" fill="none" stroke="#C82424" stroke-width="1.8"/><circle cx="1212.6" cy="1270.5" r="3.7" fill="none" stroke="#C82424" stroke-width="1.8"/><circle cx="1225.0" cy="1273.5" r="3.7" fill="none" stroke="#C82424" stroke-width="1.8"/><circle cx="1229.9" cy="1274.6" r="3.7" fill="none" stroke="#C82424" stroke-width="1.8"/><circle cx="1242.5" cy="1278.4" r="3.7" fill="none" stroke="#C82424" stroke-width="1.8"/><circle cx="1255.1" cy="1283.5" r="3.7" fill="none" stroke="#C82424" stroke-width="1.8"/><circle cx="1267.7" cy="1287.9" r="3.7" fill="none" stroke="#C82424" stroke-width="1.8"/><circle cx="1280.3" cy="1293.5" r="3.7" fill="none" stroke="#C82424" stroke-width="1.8"/><circle cx="1292.9" cy="1299.2" r="3.7" fill="none" stroke="#C82424" stroke-width="1.8"/><circle cx="1305.5" cy="1303.7" r="3.7" fill="none" stroke="#C82424" stroke-width="1.8"/><circle cx="1318.2" cy="1307.5" r="3.7" fill="none" stroke="#C82424" stroke-width="1.8"/><circle cx="1330.8" cy="1311.7" r="3.7" fill="none" stroke="#C82424" stroke-width="1.8"/><circle cx="1343.4" cy="1315.1" r="3.7" fill="none" stroke="#C82424" stroke-width="1.8"/><circle cx="1356.0" cy="1318.3" r="3.7" fill="none" stroke="#C82424" stroke-width="1.8"/><circle cx="1368.6" cy="1320.9" r="3.7" fill="none" stroke="#C82424" stroke-width="1.8"/><circle cx="1381.2" cy="1323.6" r="3.7" fill="none" stroke="#C82424" stroke-width="1.8"/><circle cx="1393.8" cy="1326.3" r="3.7" fill="none" stroke="#C82424" stroke-width="1.8"/><circle cx="1406.4" cy="1328.9" r="3.7" fill="none" stroke="#C82424" stroke-width="1.8"/><circle cx="1419.0" cy="1331.1" r="3.7" fill="none" stroke="#C82424" stroke-width="1.8"/><circle cx="1431.6" cy="1333.0" r="3.7" fill="none" stroke="#C82424" stroke-width="1.8"/><circle cx="1444.3" cy="1334.8" r="3.7" fill="none" stroke="#C82424" stroke-width="1.8"/><circle cx="1456.9" cy="1337.1" r="3.7" fill="none" stroke="#C82424" stroke-width="1.8"/><circle cx="1469.5" cy="1338.4" r="3.7" fill="none" stroke="#C82424" stroke-width="1.8"/><circle cx="1482.1" cy="1339.2" r="3.7" fill="none" stroke="#C82424" stroke-width="1.8"/><circle cx="1494.7" cy="1340.3" r="3.7" fill="none" stroke="#C82424" stroke-width="1.8"/><circle cx="1507.3" cy="1341.0" r="3.7" fill="none" stroke="#C82424" stroke-width="1.8"/></g><rect x="833.0" y="1485.8" width="684.0" height="91.0" fill="none" stroke="#000" stroke-width="2.0"/><rect x="866.8" y="1505.9" width="5.8" height="5.8" fill="none" stroke="#0000FF" stroke-width="2.0"/><text x="909.5" y="1519.4" font-size="25.0" letter-spacing="0.90" xml:space="preserve"><tspan font-family="'Liberation Sans', sans-serif">&#961;</tspan></text><path d="M1029.8 1508.8H1038.6M1034.2 1504.4V1513.2" stroke="#000000" stroke-width="2.0"/><text x="1073.2" y="1519.4" font-size="25.0" letter-spacing="0.90" xml:space="preserve"><tspan font-family="'Liberation Sans', sans-serif">&#961;</tspan><tspan> + </tspan><tspan font-style="italic">p</tspan><tspan font-style="italic" font-size="20.0" dy="10.5">r</tspan></text><path d="M1194.3 1508.8L1194.3 1504.8M1194.3 1508.8L1198.1 1507.6M1194.3 1508.8L1196.6 1512.0M1194.3 1508.8L1192.0 1512.0M1194.3 1508.8L1190.5 1507.6" stroke="#FF0000" stroke-width="2.3" stroke-linecap="round"/><text x="1233.4" y="1519.4" font-size="25.0" letter-spacing="0.90" xml:space="preserve"><tspan font-family="'Liberation Sans', sans-serif">&#961;</tspan><tspan> + </tspan><tspan font-style="italic">p</tspan><tspan font-style="italic" font-size="20.0" dy="10.5">t</tspan></text><path d="M1312.8 1507.3H1373.3" stroke="#A52A2A" stroke-width="2.2"/><text x="1383.0" y="1519.4" font-size="25.0" letter-spacing="0.90" xml:space="preserve"><tspan font-family="'Liberation Sans', sans-serif">&#961;</tspan><tspan> + </tspan><tspan font-style="italic">p</tspan><tspan font-style="italic" font-size="20.0" dy="10.5">r</tspan><tspan dy="-10.5">+ 2</tspan><tspan font-style="italic">p</tspan><tspan font-style="italic" font-size="20.0" dy="10.5">t</tspan></text><path d="M864.4 1546.5L875.0 1557.1M864.4 1557.1L875.0 1546.5" stroke="#00FF00" stroke-width="2.0"/><text x="909.5" y="1559.8" font-size="25.0" letter-spacing="0.15" xml:space="preserve"><tspan font-family="'Liberation Sans', sans-serif">.&#961; - |</tspan><tspan font-style="italic">p</tspan><tspan font-style="italic" font-size="20.0" dy="10.5">r</tspan><tspan font-family="'Liberation Sans', sans-serif" dy="-10.5">|</tspan></text><circle cx="1034.2" cy="1551.8" r="4.1" fill="none" stroke="#C82424" stroke-width="1.8"/><text x="1073.2" y="1559.8" font-size="25.0" letter-spacing="0.15" xml:space="preserve"><tspan font-family="'Liberation Sans', sans-serif">&#961; - |</tspan><tspan font-style="italic">p</tspan><tspan font-style="italic" font-size="20.0" dy="10.5">t</tspan><tspan font-family="'Liberation Sans', sans-serif" dy="-10.5">|</tspan></text>
<defs><clipPath id="clp5"><rect x="114.2" y="1785.5" width="589.5" height="540.3"/></clipPath></defs><rect x="120.2" y="1791.5" width="577.5" height="528.3" fill="none" stroke="#000" stroke-width="2.0"/><path d="M125.8 2319.8V2329.8M239.2 2319.8V2329.8M352.6 2319.8V2329.8M466.1 2319.8V2329.8M579.5 2319.8V2329.8M692.9 2319.8V2329.8M182.5 2319.8V2325.8M295.9 2319.8V2325.8M409.4 2319.8V2325.8M522.8 2319.8V2325.8M636.2 2319.8V2325.8M120.2 2314.6H110.2M120.2 2216.1H110.2M120.2 2117.6H110.2M120.2 2019.1H110.2M120.2 1920.6H110.2M120.2 1822.1H110.2M120.2 2265.3H114.2M120.2 2166.8H114.2M120.2 2068.3H114.2M120.2 1969.8H114.2M120.2 1871.3H114.2" stroke="#000" stroke-width="2"/><text transform="translate(125.8 2354.1) scale(1 1.075)" text-anchor="middle" font-size="23.0">0.5</text><text transform="translate(239.2 2354.1) scale(1 1.075)" text-anchor="middle" font-size="23.0">0.6</text><text transform="translate(352.6 2354.1) scale(1 1.075)" text-anchor="middle" font-size="23.0">0.7</text><text transform="translate(466.1 2354.1) scale(1 1.075)" text-anchor="middle" font-size="23.0">0.8</text><text transform="translate(579.5 2354.1) scale(1 1.075)" text-anchor="middle" font-size="23.0">0.9</text><text transform="translate(692.9 2354.1) scale(1 1.075)" text-anchor="middle" font-size="23.0">1.0</text><text transform="translate(104.7 2323.4) scale(1 1.075)" text-anchor="end" font-size="23.0">0</text><text transform="translate(35.0 2227.1) scale(1 1.075)" font-size="21.5">2.</text><text transform="translate(61.9 2227.1) scale(1 1.075)" font-size="22.5" font-weight="bold" text-anchor="middle">&#215;</text><text transform="translate(96.0 2227.1) scale(1 1.075)" font-size="21.5" text-anchor="end">10</text><text transform="translate(104.3 2216.7) scale(1 1.075)" font-size="15" text-anchor="end">8</text><text transform="translate(35.0 2128.6) scale(1 1.075)" font-size="21.5">4.</text><text transform="translate(61.9 2128.6) scale(1 1.075)" font-size="22.5" font-weight="bold" text-anchor="middle">&#215;</text><text transform="translate(96.0 2128.6) scale(1 1.075)" font-size="21.5" text-anchor="end">10</text><text transform="translate(104.3 2118.2) scale(1 1.075)" font-size="15" text-anchor="end">8</text><text transform="translate(35.0 2030.1) scale(1 1.075)" font-size="21.5">6.</text><text transform="translate(61.9 2030.1) scale(1 1.075)" font-size="22.5" font-weight="bold" text-anchor="middle">&#215;</text><text transform="translate(96.0 2030.1) scale(1 1.075)" font-size="21.5" text-anchor="end">10</text><text transform="translate(104.3 2019.7) scale(1 1.075)" font-size="15" text-anchor="end">8</text><text transform="translate(35.0 1931.6) scale(1 1.075)" font-size="21.5">8.</text><text transform="translate(61.9 1931.6) scale(1 1.075)" font-size="22.5" font-weight="bold" text-anchor="middle">&#215;</text><text transform="translate(96.0 1931.6) scale(1 1.075)" font-size="21.5" text-anchor="end">10</text><text transform="translate(104.3 1921.2) scale(1 1.075)" font-size="15" text-anchor="end">8</text><text transform="translate(35.0 1833.1) scale(1 1.075)" font-size="21.5">1.</text><text transform="translate(61.9 1833.1) scale(1 1.075)" font-size="22.5" font-weight="bold" text-anchor="middle">&#215;</text><text transform="translate(96.0 1833.1) scale(1 1.075)" font-size="21.5" text-anchor="end">10</text><text transform="translate(104.3 1822.7) scale(1 1.075)" font-size="15" text-anchor="end">9</text><text transform="translate(409.0 2376.6) scale(1 1.075)" text-anchor="middle" font-size="23.0" font-style="italic">r</text><g clip-path="url(#clp5)"><rect x="122.4" y="1793.1" width="6.8" height="6.8" fill="none" stroke="#0000FF" stroke-width="2.0"/><rect x="123.1" y="1837.9" width="6.8" height="6.8" fill="none" stroke="#0000FF" stroke-width="2.0"/><rect x="123.8" y="1878.1" width="6.8" height="6.8" fill="none" stroke="#0000FF" stroke-width="2.0"/><rect x="124.6" y="1914.9" width="6.8" height="6.8" fill="none" stroke="#0000FF" stroke-width="2.0"/><rect x="125.5" y="1948.3" width="6.8" height="6.8" fill="none" stroke="#0000FF" stroke-width="2.0"/><rect x="126.1" y="1978.8" width="6.8" height="6.8" fill="none" stroke="#0000FF" stroke-width="2.0"/><rect x="127.0" y="2006.7" width="6.8" height="6.8" fill="none" stroke="#0000FF" stroke-width="2.0"/><rect x="127.8" y="2031.9" width="6.8" height="6.8" fill="none" stroke="#0000FF" stroke-width="2.0"/><rect x="128.5" y="2055.0" width="6.8" height="6.8" fill="none" stroke="#0000FF" stroke-width="2.0"/><rect x="130.0" y="2096.6" width="6.8" height="6.8" fill="none" stroke="#0000FF" stroke-width="2.0"/><rect x="131.5" y="2128.6" width="6.8" height="6.8" fill="none" stroke="#0000FF" stroke-width="2.0"/><rect x="133.2" y="2157.0" width="6.8" height="6.8" fill="none" stroke="#0000FF" stroke-width="2.0"/><rect x="135.0" y="2182.6" width="6.8" height="6.8" fill="none" stroke="#0000FF" stroke-width="2.0"/><rect x="137.3" y="2212.0" width="6.8" height="6.8" fill="none" stroke="#0000FF" stroke-width="2.0"/><rect x="140.0" y="2236.7" width="6.8" height="6.8" fill="none" stroke="#0000FF" stroke-width="2.0"/><rect x="142.8" y="2255.9" width="6.8" height="6.8" fill="none" stroke="#0000FF" stroke-width="2.0"/><rect x="146.3" y="2270.3" width="6.8" height="6.8" fill="none" stroke="#0000FF" stroke-width="2.0"/><rect x="151.8" y="2287.5" width="6.8" height="6.8" fill="none" stroke="#0000FF" stroke-width="2.0"/><rect x="157.3" y="2295.8" width="6.8" height="6.8" fill="none" stroke="#0000FF" stroke-width="2.0"/><rect x="164.2" y="2302.6" width="6.8" height="6.8" fill="none" stroke="#0000FF" stroke-width="2.0"/><rect x="172.4" y="2306.8" width="6.8" height="6.8" fill="none" stroke="#0000FF" stroke-width="2.0"/><rect x="183.4" y="2309.5" width="6.8" height="6.8" fill="none" stroke="#0000FF" stroke-width="2.0"/><rect x="193.0" y="2310.6" width="6.8" height="6.8" fill="none" stroke="#0000FF" stroke-width="2.0"/><rect x="194.8" y="2310.6" width="6.8" height="6.8" fill="none" stroke="#0000FF" stroke-width="2.0"/><rect x="206.9" y="2310.8" width="6.8" height="6.8" fill="none" stroke="#0000FF" stroke-width="2.0"/><rect x="218.9" y="2310.9" width="6.8" height="6.8" fill="none" stroke="#0000FF" stroke-width="2.0"/><rect x="231.0" y="2311.0" width="6.8" height="6.8" fill="none" stroke="#0000FF" stroke-width="2.0"/><rect x="243.1" y="2311.0" width="6.8" height="6.8" fill="none" stroke="#0000FF" stroke-width="2.0"/><rect x="255.1" y="2311.0" width="6.8" height="6.8" fill="none" stroke="#0000FF" stroke-width="2.0"/><rect x="267.2" y="2311.0" width="6.8" height="6.8" fill="none" stroke="#0000FF" stroke-width="2.0"/><rect x="279.3" y="2311.0" width="6.8" height="6.8" fill="none" stroke="#0000FF" stroke-width="2.0"/><rect x="291.3" y="2311.0" width="6.8" height="6.8" fill="none" stroke="#0000FF" stroke-width="2.0"/><rect x="303.4" y="2311.1" width="6.8" height="6.8" fill="none" stroke="#0000FF" stroke-width="2.0"/><rect x="315.5" y="2311.1" width="6.8" height="6.8" fill="none" stroke="#0000FF" stroke-width="2.0"/><rect x="327.5" y="2311.1" width="6.8" height="6.8" fill="none" stroke="#0000FF" stroke-width="2.0"/><rect x="339.6" y="2311.1" width="6.8" height="6.8" fill="none" stroke="#0000FF" stroke-width="2.0"/><rect x="351.7" y="2311.1" width="6.8" height="6.8" fill="none" stroke="#0000FF" stroke-width="2.0"/><rect x="363.7" y="2311.1" width="6.8" height="6.8" fill="none" stroke="#0000FF" stroke-width="2.0"/><rect x="375.8" y="2311.1" width="6.8" height="6.8" fill="none" stroke="#0000FF" stroke-width="2.0"/><rect x="387.9" y="2311.1" width="6.8" height="6.8" fill="none" stroke="#0000FF" stroke-width="2.0"/><rect x="399.9" y="2311.1" width="6.8" height="6.8" fill="none" stroke="#0000FF" stroke-width="2.0"/><rect x="412.0" y="2311.1" width="6.8" height="6.8" fill="none" stroke="#0000FF" stroke-width="2.0"/><rect x="424.0" y="2311.1" width="6.8" height="6.8" fill="none" stroke="#0000FF" stroke-width="2.0"/><rect x="436.1" y="2311.1" width="6.8" height="6.8" fill="none" stroke="#0000FF" stroke-width="2.0"/><rect x="448.2" y="2311.2" width="6.8" height="6.8" fill="none" stroke="#0000FF" stroke-width="2.0"/><rect x="460.2" y="2311.2" width="6.8" height="6.8" fill="none" stroke="#0000FF" stroke-width="2.0"/><rect x="472.3" y="2311.2" width="6.8" height="6.8" fill="none" stroke="#0000FF" stroke-width="2.0"/><rect x="484.4" y="2311.2" width="6.8" height="6.8" fill="none" stroke="#0000FF" stroke-width="2.0"/><rect x="496.4" y="2311.2" width="6.8" height="6.8" fill="none" stroke="#0000FF" stroke-width="2.0"/><rect x="508.5" y="2311.2" width="6.8" height="6.8" fill="none" stroke="#0000FF" stroke-width="2.0"/><rect x="520.6" y="2311.2" width="6.8" height="6.8" fill="none" stroke="#0000FF" stroke-width="2.0"/><rect x="532.6" y="2311.2" width="6.8" height="6.8" fill="none" stroke="#0000FF" stroke-width="2.0"/><rect x="544.7" y="2311.2" width="6.8" height="6.8" fill="none" stroke="#0000FF" stroke-width="2.0"/><rect x="556.8" y="2311.2" width="6.8" height="6.8" fill="none" stroke="#0000FF" stroke-width="2.0"/><rect x="568.8" y="2311.2" width="6.8" height="6.8" fill="none" stroke="#0000FF" stroke-width="2.0"/><rect x="580.9" y="2311.2" width="6.8" height="6.8" fill="none" stroke="#0000FF" stroke-width="2.0"/><rect x="593.0" y="2311.2" width="6.8" height="6.8" fill="none" stroke="#0000FF" stroke-width="2.0"/><rect x="605.0" y="2311.2" width="6.8" height="6.8" fill="none" stroke="#0000FF" stroke-width="2.0"/><rect x="617.1" y="2311.2" width="6.8" height="6.8" fill="none" stroke="#0000FF" stroke-width="2.0"/><rect x="629.2" y="2311.2" width="6.8" height="6.8" fill="none" stroke="#0000FF" stroke-width="2.0"/><rect x="641.2" y="2311.2" width="6.8" height="6.8" fill="none" stroke="#0000FF" stroke-width="2.0"/><rect x="653.3" y="2311.2" width="6.8" height="6.8" fill="none" stroke="#0000FF" stroke-width="2.0"/><rect x="665.4" y="2311.2" width="6.8" height="6.8" fill="none" stroke="#0000FF" stroke-width="2.0"/><rect x="677.4" y="2311.2" width="6.8" height="6.8" fill="none" stroke="#0000FF" stroke-width="2.0"/><rect x="689.5" y="2311.2" width="6.8" height="6.8" fill="none" stroke="#0000FF" stroke-width="2.0"/></g><g clip-path="url(#clp5)"><path d="M121.4 1995.2H130.2M125.8 1990.8V1999.6" stroke="#000000" stroke-width="2.0"/><path d="M122.5 2021.2H131.3M126.9 2016.8V2025.6" stroke="#000000" stroke-width="2.0"/><path d="M123.5 2045.5H132.3M127.9 2041.1V2049.9" stroke="#000000" stroke-width="2.0"/><path d="M124.5 2069.2H133.3M128.9 2064.8V2073.6" stroke="#000000" stroke-width="2.0"/><path d="M125.5 2089.0H134.3M129.9 2084.6V2093.4" stroke="#000000" stroke-width="2.0"/><path d="M126.8 2107.2H135.6M131.2 2102.8V2111.6" stroke="#000000" stroke-width="2.0"/><path d="M128.8 2129.0H137.6M133.2 2124.6V2133.4" stroke="#000000" stroke-width="2.0"/><path d="M130.4 2152.6H139.2M134.8 2148.2V2157.0" stroke="#000000" stroke-width="2.0"/><path d="M131.5 2178.7H140.3M135.9 2174.3V2183.1" stroke="#000000" stroke-width="2.0"/><path d="M132.7 2199.3H141.5M137.1 2194.9V2203.7" stroke="#000000" stroke-width="2.0"/><path d="M134.5 2230.9H143.3M138.9 2226.5V2235.3" stroke="#000000" stroke-width="2.0"/><path d="M137.9 2248.7H146.7M142.3 2244.3V2253.1" stroke="#000000" stroke-width="2.0"/><path d="M142.6 2268.0H151.4M147.0 2263.6V2272.4" stroke="#000000" stroke-width="2.0"/><path d="M148.1 2285.8H156.9M152.5 2281.4V2290.2" stroke="#000000" stroke-width="2.0"/><path d="M154.9 2300.9H163.7M159.3 2296.5V2305.3" stroke="#000000" stroke-width="2.0"/><path d="M163.2 2309.2H172.0M167.6 2304.8V2313.6" stroke="#000000" stroke-width="2.0"/><path d="M171.4 2313.3H180.2M175.8 2308.9V2317.7" stroke="#000000" stroke-width="2.0"/><path d="M187.9 2315.5H196.7M192.3 2311.1V2319.9" stroke="#000000" stroke-width="2.0"/><path d="M193.8 2315.6H202.6M198.2 2311.2V2320.0" stroke="#000000" stroke-width="2.0"/><path d="M205.9 2315.7H214.7M210.3 2311.3V2320.1" stroke="#000000" stroke-width="2.0"/><path d="M217.9 2315.8H226.7M222.3 2311.4V2320.2" stroke="#000000" stroke-width="2.0"/><path d="M230.0 2315.9H238.8M234.4 2311.5V2320.3" stroke="#000000" stroke-width="2.0"/><path d="M242.1 2315.9H250.9M246.5 2311.5V2320.3" stroke="#000000" stroke-width="2.0"/><path d="M254.1 2315.9H262.9M258.5 2311.5V2320.3" stroke="#000000" stroke-width="2.0"/><path d="M266.2 2316.0H275.0M270.6 2311.6V2320.4" stroke="#000000" stroke-width="2.0"/><path d="M278.3 2316.0H287.1M282.7 2311.6V2320.4" stroke="#000000" stroke-width="2.0"/><path d="M290.3 2316.0H299.1M294.7 2311.6V2320.4" stroke="#000000" stroke-width="2.0"/><path d="M302.4 2316.0H311.2M306.8 2311.6V2320.4" stroke="#000000" stroke-width="2.0"/><path d="M314.5 2316.0H323.3M318.9 2311.6V2320.4" stroke="#000000" stroke-width="2.0"/><path d="M326.5 2316.0H335.3M330.9 2311.6V2320.4" stroke="#000000" stroke-width="2.0"/><path d="M338.6 2316.0H347.4M343.0 2311.6V2320.4" stroke="#000000" stroke-width="2.0"/><path d="M350.7 2316.0H359.5M355.1 2311.6V2320.4" stroke="#000000" stroke-width="2.0"/><path d="M362.7 2316.0H371.5M367.1 2311.6V2320.4" stroke="#000000" stroke-width="2.0"/><path d="M374.8 2316.0H383.6M379.2 2311.6V2320.4" stroke="#000000" stroke-width="2.0"/><path d="M386.9 2316.0H395.7M391.3 2311.6V2320.4" stroke="#000000" stroke-width="2.0"/><path d="M398.9 2316.0H407.7M403.3 2311.6V2320.4" stroke="#000000" stroke-width="2.0"/><path d="M411.0 2316.0H419.8M415.4 2311.6V2320.4" stroke="#000000" stroke-width="2.0"/><path d="M423.0 2316.0H431.8M427.4 2311.6V2320.4" stroke="#000000" stroke-width="2.0"/><path d="M435.1 2316.0H443.9M439.5 2311.6V2320.4" stroke="#000000" stroke-width="2.0"/><path d="M447.2 2316.0H456.0M451.6 2311.6V2320.4" stroke="#000000" stroke-width="2.0"/><path d="M459.2 2316.0H468.0M463.6 2311.6V2320.4" stroke="#000000" stroke-width="2.0"/><path d="M471.3 2316.0H480.1M475.7 2311.6V2320.4" stroke="#000000" stroke-width="2.0"/><path d="M483.4 2316.0H492.2M487.8 2311.6V2320.4" stroke="#000000" stroke-width="2.0"/><path d="M495.4 2316.0H504.2M499.8 2311.6V2320.4" stroke="#000000" stroke-width="2.0"/><path d="M507.5 2316.0H516.3M511.9 2311.6V2320.4" stroke="#000000" stroke-width="2.0"/><path d="M519.6 2316.0H528.4M524.0 2311.6V2320.4" stroke="#000000" stroke-width="2.0"/><path d="M531.6 2316.0H540.4M536.0 2311.6V2320.4" stroke="#000000" stroke-width="2.0"/><path d="M543.7 2316.0H552.5M548.1 2311.6V2320.4" stroke="#000000" stroke-width="2.0"/><path d="M555.8 2316.0H564.6M560.2 2311.6V2320.4" stroke="#000000" stroke-width="2.0"/><path d="M567.8 2316.0H576.6M572.2 2311.6V2320.4" stroke="#000000" stroke-width="2.0"/><path d="M579.9 2316.0H588.7M584.3 2311.6V2320.4" stroke="#000000" stroke-width="2.0"/><path d="M592.0 2316.0H600.8M596.4 2311.6V2320.4" stroke="#000000" stroke-width="2.0"/><path d="M604.0 2316.0H612.8M608.4 2311.6V2320.4" stroke="#000000" stroke-width="2.0"/><path d="M616.1 2316.0H624.9M620.5 2311.6V2320.4" stroke="#000000" stroke-width="2.0"/><path d="M628.2 2316.0H637.0M632.6 2311.6V2320.4" stroke="#000000" stroke-width="2.0"/><path d="M640.2 2316.0H649.0M644.6 2311.6V2320.4" stroke="#000000" stroke-width="2.0"/><path d="M652.3 2316.0H661.1M656.7 2311.6V2320.4" stroke="#000000" stroke-width="2.0"/><path d="M664.4 2316.0H673.2M668.8 2311.6V2320.4" stroke="#000000" stroke-width="2.0"/><path d="M676.4 2316.0H685.2M680.8 2311.6V2320.4" stroke="#000000" stroke-width="2.0"/><path d="M688.5 2316.0H697.3M692.9 2311.6V2320.4" stroke="#000000" stroke-width="2.0"/></g><g clip-path="url(#clp5)"><path d="M125.9 1817.0L125.9 1813.2M125.9 1817.0L129.5 1815.8M125.9 1817.0L128.1 1820.1M125.9 1817.0L123.7 1820.1M125.9 1817.0L122.3 1815.8" stroke="#FF0000" stroke-width="1.8" stroke-linecap="round"/><path d="M126.8 1859.9L126.8 1856.1M126.8 1859.9L130.4 1858.7M126.8 1859.9L129.0 1863.0M126.8 1859.9L124.6 1863.0M126.8 1859.9L123.2 1858.7" stroke="#FF0000" stroke-width="1.8" stroke-linecap="round"/><path d="M127.6 1898.4L127.6 1894.6M127.6 1898.4L131.2 1897.2M127.6 1898.4L129.8 1901.5M127.6 1898.4L125.4 1901.5M127.6 1898.4L124.0 1897.2" stroke="#FF0000" stroke-width="1.8" stroke-linecap="round"/><path d="M128.4 1933.7L128.4 1929.9M128.4 1933.7L132.0 1932.5M128.4 1933.7L130.6 1936.8M128.4 1933.7L126.2 1936.8M128.4 1933.7L124.8 1932.5" stroke="#FF0000" stroke-width="1.8" stroke-linecap="round"/><path d="M129.2 1965.7L129.2 1961.9M129.2 1965.7L132.8 1964.5M129.2 1965.7L131.4 1968.8M129.2 1965.7L127.0 1968.8M129.2 1965.7L125.6 1964.5" stroke="#FF0000" stroke-width="1.8" stroke-linecap="round"/><path d="M130.0 1994.4L130.0 1990.6M130.0 1994.4L133.6 1993.2M130.0 1994.4L132.2 1997.5M130.0 1994.4L127.8 1997.5M130.0 1994.4L126.4 1993.2" stroke="#FF0000" stroke-width="1.8" stroke-linecap="round"/><path d="M130.8 2021.6L130.8 2017.8M130.8 2021.6L134.4 2020.4M130.8 2021.6L133.0 2024.7M130.8 2021.6L128.6 2024.7M130.8 2021.6L127.2 2020.4" stroke="#FF0000" stroke-width="1.8" stroke-linecap="round"/><path d="M131.6 2045.9L131.6 2042.1M131.6 2045.9L135.2 2044.7M131.6 2045.9L133.8 2049.0M131.6 2045.9L129.4 2049.0M131.6 2045.9L128.0 2044.7" stroke="#FF0000" stroke-width="1.8" stroke-linecap="round"/><path d="M132.3 2069.0L132.3 2065.2M132.3 2069.0L135.9 2067.8M132.3 2069.0L134.5 2072.1M132.3 2069.0L130.1 2072.1M132.3 2069.0L128.7 2067.8" stroke="#FF0000" stroke-width="1.8" stroke-linecap="round"/><path d="M133.6 2106.9L133.6 2103.1M133.6 2106.9L137.2 2105.7M133.6 2106.9L135.8 2110.0M133.6 2106.9L131.4 2110.0M133.6 2106.9L130.0 2105.7" stroke="#FF0000" stroke-width="1.8" stroke-linecap="round"/><path d="M135.0 2139.8L135.0 2136.0M135.0 2139.8L138.6 2138.6M135.0 2139.8L137.2 2142.9M135.0 2139.8L132.8 2142.9M135.0 2139.8L131.4 2138.6" stroke="#FF0000" stroke-width="1.8" stroke-linecap="round"/><path d="M136.5 2165.9L136.5 2162.1M136.5 2165.9L140.1 2164.7M136.5 2165.9L138.7 2169.0M136.5 2165.9L134.3 2169.0M136.5 2165.9L132.9 2164.7" stroke="#FF0000" stroke-width="1.8" stroke-linecap="round"/><path d="M138.2 2189.3L138.2 2185.5M138.2 2189.3L141.8 2188.1M138.2 2189.3L140.4 2192.4M138.2 2189.3L136.0 2192.4M138.2 2189.3L134.6 2188.1" stroke="#FF0000" stroke-width="1.8" stroke-linecap="round"/><path d="M140.7 2219.5L140.7 2215.7M140.7 2219.5L144.3 2218.3M140.7 2219.5L142.9 2222.6M140.7 2219.5L138.5 2222.6M140.7 2219.5L137.1 2218.3" stroke="#FF0000" stroke-width="1.8" stroke-linecap="round"/><path d="M142.9 2242.3L142.9 2238.5M142.9 2242.3L146.5 2241.1M142.9 2242.3L145.1 2245.4M142.9 2242.3L140.7 2245.4M142.9 2242.3L139.3 2241.1" stroke="#FF0000" stroke-width="1.8" stroke-linecap="round"/><path d="M145.6 2259.3L145.6 2255.5M145.6 2259.3L149.2 2258.1M145.6 2259.3L147.8 2262.4M145.6 2259.3L143.4 2262.4M145.6 2259.3L142.0 2258.1" stroke="#FF0000" stroke-width="1.8" stroke-linecap="round"/><path d="M148.4 2272.5L148.4 2268.7M148.4 2272.5L152.0 2271.3M148.4 2272.5L150.6 2275.6M148.4 2272.5L146.2 2275.6M148.4 2272.5L144.8 2271.3" stroke="#FF0000" stroke-width="1.8" stroke-linecap="round"/><path d="M155.2 2292.3L155.2 2288.5M155.2 2292.3L158.8 2291.1M155.2 2292.3L157.4 2295.4M155.2 2292.3L153.0 2295.4M155.2 2292.3L151.6 2291.1" stroke="#FF0000" stroke-width="1.8" stroke-linecap="round"/><path d="M162.1 2301.9L162.1 2298.1M162.1 2301.9L165.7 2300.7M162.1 2301.9L164.3 2305.0M162.1 2301.9L159.9 2305.0M162.1 2301.9L158.5 2300.7" stroke="#FF0000" stroke-width="1.8" stroke-linecap="round"/><path d="M169.0 2307.4L169.0 2303.6M169.0 2307.4L172.6 2306.2M169.0 2307.4L171.2 2310.5M169.0 2307.4L166.8 2310.5M169.0 2307.4L165.4 2306.2" stroke="#FF0000" stroke-width="1.8" stroke-linecap="round"/><path d="M181.3 2311.5L181.3 2307.7M181.3 2311.5L184.9 2310.3M181.3 2311.5L183.5 2314.6M181.3 2311.5L179.1 2314.6M181.3 2311.5L177.7 2310.3" stroke="#FF0000" stroke-width="1.8" stroke-linecap="round"/><path d="M196.4 2313.7L196.4 2309.9M196.4 2313.7L200.0 2312.5M196.4 2313.7L198.6 2316.8M196.4 2313.7L194.2 2316.8M196.4 2313.7L192.8 2312.5" stroke="#FF0000" stroke-width="1.8" stroke-linecap="round"/><path d="M198.2 2313.7L198.2 2310.0M198.2 2313.7L201.8 2312.6M198.2 2313.7L200.4 2316.8M198.2 2313.7L196.0 2316.8M198.2 2313.7L194.6 2312.6" stroke="#FF0000" stroke-width="1.8" stroke-linecap="round"/><path d="M210.3 2314.0L210.3 2310.2M210.3 2314.0L213.9 2312.9M210.3 2314.0L212.5 2317.1M210.3 2314.0L208.0 2317.1M210.3 2314.0L206.7 2312.9" stroke="#FF0000" stroke-width="1.8" stroke-linecap="round"/><path d="M222.3 2314.2L222.3 2310.4M222.3 2314.2L225.9 2313.1M222.3 2314.2L224.5 2317.3M222.3 2314.2L220.1 2317.3M222.3 2314.2L218.7 2313.1" stroke="#FF0000" stroke-width="1.8" stroke-linecap="round"/><path d="M234.4 2314.3L234.4 2310.6M234.4 2314.3L238.0 2313.2M234.4 2314.3L236.6 2317.4M234.4 2314.3L232.2 2317.4M234.4 2314.3L230.8 2313.2" stroke="#FF0000" stroke-width="1.8" stroke-linecap="round"/><path d="M246.5 2314.4L246.5 2310.6M246.5 2314.4L250.1 2313.2M246.5 2314.4L248.7 2317.5M246.5 2314.4L244.2 2317.5M246.5 2314.4L242.9 2313.2" stroke="#FF0000" stroke-width="1.8" stroke-linecap="round"/><path d="M258.5 2314.4L258.5 2310.6M258.5 2314.4L262.1 2313.2M258.5 2314.4L260.7 2317.5M258.5 2314.4L256.3 2317.5M258.5 2314.4L254.9 2313.2" stroke="#FF0000" stroke-width="1.8" stroke-linecap="round"/><path d="M270.6 2314.4L270.6 2310.6M270.6 2314.4L274.2 2313.3M270.6 2314.4L272.8 2317.5M270.6 2314.4L268.4 2317.5M270.6 2314.4L267.0 2313.3" stroke="#FF0000" stroke-width="1.8" stroke-linecap="round"/><path d="M282.7 2314.4L282.7 2310.7M282.7 2314.4L286.3 2313.3M282.7 2314.4L284.9 2317.5M282.7 2314.4L280.4 2317.5M282.7 2314.4L279.1 2313.3" stroke="#FF0000" stroke-width="1.8" stroke-linecap="round"/><path d="M294.7 2314.4L294.7 2310.7M294.7 2314.4L298.3 2313.3M294.7 2314.4L296.9 2317.5M294.7 2314.4L292.5 2317.5M294.7 2314.4L291.1 2313.3" stroke="#FF0000" stroke-width="1.8" stroke-linecap="round"/><path d="M306.8 2314.5L306.8 2310.7M306.8 2314.5L310.4 2313.3M306.8 2314.5L309.0 2317.5M306.8 2314.5L304.6 2317.5M306.8 2314.5L303.2 2313.3" stroke="#FF0000" stroke-width="1.8" stroke-linecap="round"/><path d="M318.9 2314.5L318.9 2310.7M318.9 2314.5L322.5 2313.3M318.9 2314.5L321.1 2317.5M318.9 2314.5L316.6 2317.5M318.9 2314.5L315.3 2313.3" stroke="#FF0000" stroke-width="1.8" stroke-linecap="round"/><path d="M330.9 2314.5L330.9 2310.7M330.9 2314.5L334.5 2313.3M330.9 2314.5L333.1 2317.5M330.9 2314.5L328.7 2317.5M330.9 2314.5L327.3 2313.3" stroke="#FF0000" stroke-width="1.8" stroke-linecap="round"/><path d="M343.0 2314.5L343.0 2310.7M343.0 2314.5L346.6 2313.3M343.0 2314.5L345.2 2317.5M343.0 2314.5L340.8 2317.5M343.0 2314.5L339.4 2313.3" stroke="#FF0000" stroke-width="1.8" stroke-linecap="round"/><path d="M355.1 2314.5L355.1 2310.7M355.1 2314.5L358.6 2313.3M355.1 2314.5L357.3 2317.6M355.1 2314.5L352.8 2317.6M355.1 2314.5L351.5 2313.3" stroke="#FF0000" stroke-width="1.8" stroke-linecap="round"/><path d="M367.1 2314.5L367.1 2310.7M367.1 2314.5L370.7 2313.3M367.1 2314.5L369.3 2317.6M367.1 2314.5L364.9 2317.6M367.1 2314.5L363.5 2313.3" stroke="#FF0000" stroke-width="1.8" stroke-linecap="round"/><path d="M379.2 2314.5L379.2 2310.7M379.2 2314.5L382.8 2313.3M379.2 2314.5L381.4 2317.6M379.2 2314.5L377.0 2317.6M379.2 2314.5L375.6 2313.3" stroke="#FF0000" stroke-width="1.8" stroke-linecap="round"/><path d="M391.3 2314.5L391.3 2310.7M391.3 2314.5L394.8 2313.4M391.3 2314.5L393.5 2317.6M391.3 2314.5L389.0 2317.6M391.3 2314.5L387.7 2313.4" stroke="#FF0000" stroke-width="1.8" stroke-linecap="round"/><path d="M403.3 2314.5L403.3 2310.8M403.3 2314.5L406.9 2313.4M403.3 2314.5L405.5 2317.6M403.3 2314.5L401.1 2317.6M403.3 2314.5L399.7 2313.4" stroke="#FF0000" stroke-width="1.8" stroke-linecap="round"/><path d="M415.4 2314.5L415.4 2310.8M415.4 2314.5L419.0 2313.4M415.4 2314.5L417.6 2317.6M415.4 2314.5L413.2 2317.6M415.4 2314.5L411.8 2313.4" stroke="#FF0000" stroke-width="1.8" stroke-linecap="round"/><path d="M427.4 2314.5L427.4 2310.8M427.4 2314.5L431.0 2313.4M427.4 2314.5L429.7 2317.6M427.4 2314.5L425.2 2317.6M427.4 2314.5L423.9 2313.4" stroke="#FF0000" stroke-width="1.8" stroke-linecap="round"/><path d="M439.5 2314.6L439.5 2310.8M439.5 2314.6L443.1 2313.4M439.5 2314.6L441.7 2317.6M439.5 2314.6L437.3 2317.6M439.5 2314.6L435.9 2313.4" stroke="#FF0000" stroke-width="1.8" stroke-linecap="round"/><path d="M451.6 2314.6L451.6 2310.8M451.6 2314.6L455.2 2313.4M451.6 2314.6L453.8 2317.6M451.6 2314.6L449.4 2317.6M451.6 2314.6L448.0 2313.4" stroke="#FF0000" stroke-width="1.8" stroke-linecap="round"/><path d="M463.6 2314.6L463.6 2310.8M463.6 2314.6L467.2 2313.4M463.6 2314.6L465.9 2317.6M463.6 2314.6L461.4 2317.6M463.6 2314.6L460.1 2313.4" stroke="#FF0000" stroke-width="1.8" stroke-linecap="round"/><path d="M475.7 2314.6L475.7 2310.8M475.7 2314.6L479.3 2313.4M475.7 2314.6L477.9 2317.6M475.7 2314.6L473.5 2317.6M475.7 2314.6L472.1 2313.4" stroke="#FF0000" stroke-width="1.8" stroke-linecap="round"/><path d="M487.8 2314.6L487.8 2310.8M487.8 2314.6L491.4 2313.4M487.8 2314.6L490.0 2317.6M487.8 2314.6L485.6 2317.6M487.8 2314.6L484.2 2313.4" stroke="#FF0000" stroke-width="1.8" stroke-linecap="round"/><path d="M499.8 2314.6L499.8 2310.8M499.8 2314.6L503.4 2313.4M499.8 2314.6L502.1 2317.6M499.8 2314.6L497.6 2317.6M499.8 2314.6L496.2 2313.4" stroke="#FF0000" stroke-width="1.8" stroke-linecap="round"/><path d="M511.9 2314.6L511.9 2310.8M511.9 2314.6L515.5 2313.4M511.9 2314.6L514.1 2317.6M511.9 2314.6L509.7 2317.6M511.9 2314.6L508.3 2313.4" stroke="#FF0000" stroke-width="1.8" stroke-linecap="round"/><path d="M524.0 2314.6L524.0 2310.8M524.0 2314.6L527.6 2313.4M524.0 2314.6L526.2 2317.6M524.0 2314.6L521.8 2317.6M524.0 2314.6L520.4 2313.4" stroke="#FF0000" stroke-width="1.8" stroke-linecap="round"/><path d="M536.0 2314.6L536.0 2310.8M536.0 2314.6L539.6 2313.4M536.0 2314.6L538.3 2317.6M536.0 2314.6L533.8 2317.6M536.0 2314.6L532.4 2313.4" stroke="#FF0000" stroke-width="1.8" stroke-linecap="round"/><path d="M548.1 2314.6L548.1 2310.8M548.1 2314.6L551.7 2313.4M548.1 2314.6L550.3 2317.6M548.1 2314.6L545.9 2317.6M548.1 2314.6L544.5 2313.4" stroke="#FF0000" stroke-width="1.8" stroke-linecap="round"/><path d="M560.2 2314.6L560.2 2310.8M560.2 2314.6L563.8 2313.4M560.2 2314.6L562.4 2317.6M560.2 2314.6L558.0 2317.6M560.2 2314.6L556.6 2313.4" stroke="#FF0000" stroke-width="1.8" stroke-linecap="round"/><path d="M572.2 2314.6L572.2 2310.8M572.2 2314.6L575.8 2313.4M572.2 2314.6L574.5 2317.6M572.2 2314.6L570.0 2317.6M572.2 2314.6L568.6 2313.4" stroke="#FF0000" stroke-width="1.8" stroke-linecap="round"/><path d="M584.3 2314.6L584.3 2310.8M584.3 2314.6L587.9 2313.4M584.3 2314.6L586.5 2317.7M584.3 2314.6L582.1 2317.7M584.3 2314.6L580.7 2313.4" stroke="#FF0000" stroke-width="1.8" stroke-linecap="round"/><path d="M596.4 2314.6L596.4 2310.8M596.4 2314.6L600.0 2313.4M596.4 2314.6L598.6 2317.7M596.4 2314.6L594.2 2317.7M596.4 2314.6L592.8 2313.4" stroke="#FF0000" stroke-width="1.8" stroke-linecap="round"/><path d="M608.4 2314.6L608.4 2310.8M608.4 2314.6L612.0 2313.4M608.4 2314.6L610.7 2317.7M608.4 2314.6L606.2 2317.7M608.4 2314.6L604.8 2313.4" stroke="#FF0000" stroke-width="1.8" stroke-linecap="round"/><path d="M620.5 2314.6L620.5 2310.8M620.5 2314.6L624.1 2313.4M620.5 2314.6L622.7 2317.7M620.5 2314.6L618.3 2317.7M620.5 2314.6L616.9 2313.4" stroke="#FF0000" stroke-width="1.8" stroke-linecap="round"/><path d="M632.6 2314.6L632.6 2310.8M632.6 2314.6L636.2 2313.4M632.6 2314.6L634.8 2317.7M632.6 2314.6L630.3 2317.7M632.6 2314.6L629.0 2313.4" stroke="#FF0000" stroke-width="1.8" stroke-linecap="round"/><path d="M644.6 2314.6L644.6 2310.8M644.6 2314.6L648.2 2313.4M644.6 2314.6L646.9 2317.7M644.6 2314.6L642.4 2317.7M644.6 2314.6L641.0 2313.4" stroke="#FF0000" stroke-width="1.8" stroke-linecap="round"/><path d="M656.7 2314.6L656.7 2310.8M656.7 2314.6L660.3 2313.4M656.7 2314.6L658.9 2317.7M656.7 2314.6L654.5 2317.7M656.7 2314.6L653.1 2313.4" stroke="#FF0000" stroke-width="1.8" stroke-linecap="round"/><path d="M668.8 2314.6L668.8 2310.8M668.8 2314.6L672.4 2313.4M668.8 2314.6L671.0 2317.7M668.8 2314.6L666.5 2317.7M668.8 2314.6L665.2 2313.4" stroke="#FF0000" stroke-width="1.8" stroke-linecap="round"/><path d="M680.8 2314.6L680.8 2310.8M680.8 2314.6L684.4 2313.4M680.8 2314.6L683.1 2317.7M680.8 2314.6L678.6 2317.7M680.8 2314.6L677.2 2313.4" stroke="#FF0000" stroke-width="1.8" stroke-linecap="round"/><path d="M692.9 2314.6L692.9 2310.8M692.9 2314.6L696.5 2313.4M692.9 2314.6L695.1 2317.7M692.9 2314.6L690.7 2317.7M692.9 2314.6L689.3 2313.4" stroke="#FF0000" stroke-width="1.8" stroke-linecap="round"/></g><path d="M125.8 2042.4L126.7 2068.8L127.7 2087.2L128.6 2100.7L129.6 2110.8L130.5 2118.6L131.5 2126.0L132.4 2136.4L133.4 2150.8L134.3 2165.1L135.3 2176.6L136.2 2187.5L137.2 2197.8L138.1 2207.2L139.1 2215.7L140.0 2222.9L140.9 2229.2L141.9 2235.0L142.8 2240.4L143.8 2245.4L144.7 2250.0L145.7 2254.3L146.6 2258.3L147.6 2261.9L148.5 2265.2L149.5 2268.4L150.4 2271.4L151.4 2274.3L152.3 2277.0L153.3 2279.6L154.2 2282.1L155.1 2284.3L156.1 2286.5L157.0 2288.4L158.0 2290.2L158.9 2291.7L159.9 2293.2L160.8 2294.5L161.8 2295.8L162.7 2297.0L163.7 2298.2L164.6 2299.4L165.6 2300.4L166.5 2301.5L167.5 2302.5L168.4 2303.4L169.4 2304.3L170.3 2305.1L171.2 2305.9L172.2 2306.6L173.1 2307.2L174.1 2307.8L175.0 2308.4L176.0 2308.9L176.9 2309.4L177.9 2309.8L178.8 2310.3L179.8 2310.7L180.7 2311.2L181.7 2311.6L182.6 2312.0L183.6 2312.4L184.5 2312.7L185.4 2313.0L186.4 2313.3L187.3 2313.6L188.3 2313.8L189.2 2314.0L190.2 2314.1L191.1 2314.2L192.1 2314.3L193.0 2314.3L194.0 2314.3L194.9 2314.3L195.9 2314.4L196.8 2314.4L197.8 2314.4L198.7 2314.4L199.6 2314.4L200.6 2314.4L201.5 2314.4L202.5 2314.5L203.4 2314.5L204.4 2314.5L205.3 2314.5L206.3 2314.5L207.2 2314.5L208.2 2314.5L209.1 2314.5L210.1 2314.6L211.0 2314.6L212.0 2314.6L212.9 2314.6L213.8 2314.6L214.8 2314.6L215.7 2314.6L216.7 2314.6L217.6 2314.6L218.6 2314.7L219.5 2314.7L220.5 2314.7L221.4 2314.7L222.4 2314.7L223.3 2314.7L224.3 2314.7L225.2 2314.7L226.2 2314.7L227.1 2314.7L228.0 2314.7L229.0 2314.8L229.9 2314.8L230.9 2314.8L231.8 2314.8L232.8 2314.8L233.7 2314.8L234.7 2314.8L235.6 2314.8L236.6 2314.8L237.5 2314.8L238.5 2314.8L239.4 2314.8L240.4 2314.8L241.3 2314.8L242.2 2314.9L243.2 2314.9L244.1 2314.9L245.1 2314.9L246.0 2314.9L247.0 2314.9L247.9 2314.9L248.9 2314.9L249.8 2314.9L250.8 2314.9L251.7 2314.9L252.7 2314.9L253.6 2314.9L254.6 2314.9L255.5 2314.9L256.5 2314.9L257.4 2314.9L258.3 2314.9L259.3 2314.9L260.2 2314.9L261.2 2314.9L262.1 2314.9L263.1 2314.9L264.0 2315.0L265.0 2315.0L265.9 2315.0L266.9 2315.0L267.8 2315.0L268.8 2315.0L269.7 2315.0L270.7 2315.0L271.6 2315.0L272.5 2315.0L273.5 2315.0L274.4 2315.0L275.4 2315.0L276.3 2315.0L277.3 2315.0L278.2 2315.0L279.2 2315.0L280.1 2315.0L281.1 2315.0L282.0 2315.0L283.0 2315.0L283.9 2315.0L284.9 2315.0L285.8 2315.0L286.7 2315.0L287.7 2315.0L288.6 2315.0L289.6 2315.0L290.5 2315.0L291.5 2315.0L292.4 2315.0L293.4 2315.0L294.3 2315.0L295.3 2315.0L296.2 2315.0L297.2 2315.0L298.1 2315.0L299.1 2315.0L300.0 2315.0L300.9 2315.0L301.9 2315.0L302.8 2315.0L303.8 2315.0L304.7 2315.0L305.7 2315.0L306.6 2315.0L307.6 2315.0L308.5 2315.0L309.5 2315.0L310.4 2315.0L311.4 2315.0L312.3 2315.0L313.3 2315.0L314.2 2315.0L315.1 2315.0L316.1 2315.0L317.0 2315.0L318.0 2315.0L318.9 2315.0L319.9 2315.0L320.8 2315.0L321.8 2315.0L322.7 2315.0L323.7 2315.0L324.6 2315.0L325.6 2315.0L326.5 2315.0L327.5 2315.0L328.4 2315.0L329.4 2315.0L330.3 2315.0L331.2 2315.0L332.2 2315.0L333.1 2315.0L334.1 2315.0L335.0 2315.0L336.0 2315.0L336.9 2315.0L337.9 2315.0L338.8 2315.0L339.8 2315.0L340.7 2315.0L341.7 2315.0L342.6 2315.0L343.6 2315.0L344.5 2315.0L345.4 2315.0L346.4 2315.0L347.3 2315.0L348.3 2315.0L349.2 2315.0L350.2 2315.0L351.1 2315.0L352.1 2315.0L353.0 2315.0L354.0 2315.0L354.9 2315.0L355.9 2315.0L356.8 2315.0L357.8 2315.0L358.7 2315.0L359.6 2315.0L360.6 2315.0L361.5 2315.0L362.5 2315.0L363.4 2315.0L364.4 2315.0L365.3 2315.0L366.3 2315.0L367.2 2315.0L368.2 2315.0L369.1 2315.0L370.1 2315.0L371.0 2315.0L372.0 2315.0L372.9 2315.0L373.8 2315.0L374.8 2315.0L375.7 2315.0L376.7 2315.0L377.6 2315.0L378.6 2315.0L379.5 2315.0L380.5 2315.0L381.4 2315.0L382.4 2315.0L383.3 2315.0L384.3 2315.0L385.2 2315.0L386.2 2315.0L387.1 2315.0L388.0 2315.0L389.0 2315.0L389.9 2315.0L390.9 2315.0L391.8 2315.0L392.8 2315.0L393.7 2315.0L394.7 2315.0L395.6 2315.0L396.6 2315.0L397.5 2315.0L398.5 2315.0L399.4 2315.0L400.4 2315.0L401.3 2315.0L402.2 2315.0L403.2 2315.0L404.1 2315.0L405.1 2315.0L406.0 2315.0L407.0 2315.0L407.9 2315.0L408.9 2315.0L409.8 2315.0L410.8 2315.0L411.7 2315.0L412.7 2315.0L413.6 2315.0L414.6 2315.0L415.5 2315.0L416.5 2315.0L417.4 2315.0L418.3 2315.0L419.3 2315.0L420.2 2315.0L421.2 2315.0L422.1 2315.0L423.1 2315.0L424.0 2315.0L425.0 2315.0L425.9 2315.0L426.9 2315.0L427.8 2315.0L428.8 2315.0L429.7 2315.0L430.7 2315.0L431.6 2315.0L432.5 2315.0L433.5 2315.0L434.4 2315.0L435.4 2315.0L436.3 2315.0L437.3 2315.0L438.2 2315.0L439.2 2315.0L440.1 2315.0L441.1 2315.0L442.0 2315.0L443.0 2315.0L443.9 2315.0L444.9 2315.0L445.8 2315.0L446.7 2315.0L447.7 2315.0L448.6 2315.0L449.6 2315.0L450.5 2315.0L451.5 2315.0L452.4 2315.0L453.4 2315.0L454.3 2315.0L455.3 2315.0L456.2 2315.0L457.2 2315.0L458.1 2315.0L459.1 2315.0L460.0 2315.0L460.9 2315.0L461.9 2315.0L462.8 2315.0L463.8 2315.0L464.7 2315.0L465.7 2315.0L466.6 2315.0L467.6 2315.0L468.5 2315.0L469.5 2315.0L470.4 2315.0L471.4 2315.0L472.3 2315.0L473.3 2315.0L474.2 2315.0L475.1 2315.0L476.1 2315.0L477.0 2315.0L478.0 2315.0L478.9 2315.0L479.9 2315.0L480.8 2315.0L481.8 2315.0L482.7 2315.0L483.7 2315.0L484.6 2315.0L485.6 2315.0L486.5 2315.0L487.5 2315.0L488.4 2315.0L489.3 2315.0L490.3 2315.0L491.2 2315.0L492.2 2315.0L493.1 2315.0L494.1 2315.0L495.0 2315.0L496.0 2315.0L496.9 2315.0L497.9 2315.0L498.8 2315.0L499.8 2315.0L500.7 2315.0L501.7 2315.0L502.6 2315.0L503.6 2315.0L504.5 2315.0L505.4 2315.0L506.4 2315.0L507.3 2315.0L508.3 2315.0L509.2 2315.0L510.2 2315.0L511.1 2315.0L512.1 2315.0L513.0 2315.0L514.0 2315.0L514.9 2315.0L515.9 2315.0L516.8 2315.0L517.8 2315.0L518.7 2315.0L519.6 2315.0L520.6 2315.0L521.5 2315.0L522.5 2315.0L523.4 2315.0L524.4 2315.0L525.3 2315.0L526.3 2315.0L527.2 2315.0L528.2 2315.0L529.1 2315.0L530.1 2315.0L531.0 2315.0L532.0 2315.0L532.9 2315.0L533.8 2315.0L534.8 2315.0L535.7 2315.0L536.7 2315.0L537.6 2315.0L538.6 2315.0L539.5 2315.0L540.5 2315.0L541.4 2315.0L542.4 2315.0L543.3 2315.0L544.3 2315.0L545.2 2315.0L546.2 2315.0L547.1 2315.0L548.0 2315.0L549.0 2315.0L549.9 2315.0L550.9 2315.0L551.8 2315.0L552.8 2315.0L553.7 2315.0L554.7 2315.0L555.6 2315.0L556.6 2315.0L557.5 2315.0L558.5 2315.0L559.4 2315.0L560.4 2315.0L561.3 2315.0L562.2 2315.0L563.2 2315.0L564.1 2315.0L565.1 2315.0L566.0 2315.0L567.0 2315.0L567.9 2315.0L568.9 2315.0L569.8 2315.0L570.8 2315.0L571.7 2315.0L572.7 2315.0L573.6 2315.0L574.6 2315.0L575.5 2315.0L576.5 2315.0L577.4 2315.0L578.3 2315.0L579.3 2315.0L580.2 2315.0L581.2 2315.0L582.1 2315.0L583.1 2315.0L584.0 2315.0L585.0 2315.0L585.9 2315.0L586.9 2315.0L587.8 2315.0L588.8 2315.0L589.7 2315.0L590.7 2315.0L591.6 2315.0L592.5 2315.0L593.5 2315.0L594.4 2315.0L595.4 2315.0L596.3 2315.0L597.3 2315.0L598.2 2315.0L599.2 2315.0L600.1 2315.0L601.1 2315.0L602.0 2315.0L603.0 2315.0L603.9 2315.0L604.9 2315.0L605.8 2315.0L606.7 2315.0L607.7 2315.0L608.6 2315.0L609.6 2315.0L610.5 2315.0L611.5 2315.0L612.4 2315.0L613.4 2315.0L614.3 2315.0L615.3 2315.0L616.2 2315.0L617.2 2315.0L618.1 2315.0L619.1 2315.0L620.0 2315.0L620.9 2315.0L621.9 2315.0L622.8 2315.0L623.8 2315.0L624.7 2315.0L625.7 2315.0L626.6 2315.0L627.6 2315.0L628.5 2315.0L629.5 2315.0L630.4 2315.0L631.4 2315.0L632.3 2315.0L633.3 2315.0L634.2 2315.0L635.1 2315.0L636.1 2315.0L637.0 2315.0L638.0 2315.0L638.9 2315.0L639.9 2315.0L640.8 2315.0L641.8 2315.0L642.7 2315.0L643.7 2315.0L644.6 2315.0L645.6 2315.0L646.5 2315.0L647.5 2315.0L648.4 2315.0L649.3 2315.0L650.3 2315.0L651.2 2315.0L652.2 2315.0L653.1 2315.0L654.1 2315.0L655.0 2315.0L656.0 2315.0L656.9 2315.0L657.9 2315.0L658.8 2315.0L659.8 2315.0L660.7 2315.0L661.7 2315.0L662.6 2315.0L663.6 2315.0L664.5 2315.0L665.4 2315.0L666.4 2315.0L667.3 2315.0L668.3 2315.0L669.2 2315.0L670.2 2315.0L671.1 2315.0L672.1 2315.0L673.0 2315.0L674.0 2315.0L674.9 2315.0L675.9 2315.0L676.8 2315.0L677.8 2315.0L678.7 2315.0L679.6 2315.0L680.6 2315.0L681.5 2315.0L682.5 2315.0L683.4 2315.0L684.4 2315.0L685.3 2315.0L686.3 2315.0L687.2 2315.0L688.2 2315.0L689.1 2315.0L690.1 2315.0L691.0 2315.0L692.0 2315.0L692.9 2315.0" fill="none" stroke="#9E1A1A" stroke-width="2.0" stroke-linejoin="round" clip-path="url(#clp5)"/><g clip-path="url(#clp5)"><path d="M121.0 1991.4L130.6 2001.0M121.0 2001.0L130.6 1991.4" stroke="#00FF00" stroke-width="1.9"/><path d="M122.1 2017.4L131.7 2027.0M122.1 2027.0L131.7 2017.4" stroke="#00FF00" stroke-width="1.9"/><path d="M123.1 2041.7L132.7 2051.3M123.1 2051.3L132.7 2041.7" stroke="#00FF00" stroke-width="1.9"/><path d="M124.1 2065.4L133.7 2075.0M124.1 2075.0L133.7 2065.4" stroke="#00FF00" stroke-width="1.9"/><path d="M125.1 2085.2L134.7 2094.8M125.1 2094.8L134.7 2085.2" stroke="#00FF00" stroke-width="1.9"/><path d="M126.4 2103.4L136.0 2113.0M126.4 2113.0L136.0 2103.4" stroke="#00FF00" stroke-width="1.9"/><path d="M128.4 2125.2L138.0 2134.8M128.4 2134.8L138.0 2125.2" stroke="#00FF00" stroke-width="1.9"/><path d="M130.0 2148.8L139.6 2158.4M130.0 2158.4L139.6 2148.8" stroke="#00FF00" stroke-width="1.9"/><path d="M131.1 2174.9L140.7 2184.5M131.1 2184.5L140.7 2174.9" stroke="#00FF00" stroke-width="1.9"/><path d="M132.3 2195.5L141.9 2205.1M132.3 2205.1L141.9 2195.5" stroke="#00FF00" stroke-width="1.9"/><path d="M134.1 2227.1L143.7 2236.7M134.1 2236.7L143.7 2227.1" stroke="#00FF00" stroke-width="1.9"/><path d="M137.5 2244.9L147.1 2254.5M137.5 2254.5L147.1 2244.9" stroke="#00FF00" stroke-width="1.9"/><path d="M142.2 2264.2L151.8 2273.8M142.2 2273.8L151.8 2264.2" stroke="#00FF00" stroke-width="1.9"/><path d="M147.7 2282.0L157.3 2291.6M147.7 2291.6L157.3 2282.0" stroke="#00FF00" stroke-width="1.9"/><path d="M154.5 2297.1L164.1 2306.7M154.5 2306.7L164.1 2297.1" stroke="#00FF00" stroke-width="1.9"/><path d="M162.8 2305.4L172.4 2315.0M162.8 2315.0L172.4 2305.4" stroke="#00FF00" stroke-width="1.9"/><path d="M171.0 2309.5L180.6 2319.1M171.0 2319.1L180.6 2309.5" stroke="#00FF00" stroke-width="1.9"/><path d="M187.5 2311.7L197.1 2321.3M187.5 2321.3L197.1 2311.7" stroke="#00FF00" stroke-width="1.9"/><path d="M193.4 2311.7L203.0 2321.4M193.4 2321.4L203.0 2311.7" stroke="#00FF00" stroke-width="1.9"/><path d="M205.4 2311.9L215.1 2321.5M205.4 2321.5L215.1 2311.9" stroke="#00FF00" stroke-width="1.9"/><path d="M217.5 2311.9L227.2 2321.6M217.5 2321.6L227.2 2311.9" stroke="#00FF00" stroke-width="1.9"/><path d="M229.6 2312.0L239.2 2321.7M229.6 2321.7L239.2 2312.0" stroke="#00FF00" stroke-width="1.9"/><path d="M241.6 2312.1L251.3 2321.7M241.6 2321.7L251.3 2312.1" stroke="#00FF00" stroke-width="1.9"/><path d="M253.7 2312.1L263.4 2321.8M253.7 2321.8L263.4 2312.1" stroke="#00FF00" stroke-width="1.9"/><path d="M265.8 2312.1L275.4 2321.8M265.8 2321.8L275.4 2312.1" stroke="#00FF00" stroke-width="1.9"/><path d="M277.8 2312.2L287.5 2321.8M277.8 2321.8L287.5 2312.2" stroke="#00FF00" stroke-width="1.9"/><path d="M289.9 2312.2L299.6 2321.8M289.9 2321.8L299.6 2312.2" stroke="#00FF00" stroke-width="1.9"/><path d="M302.0 2312.2L311.6 2321.8M302.0 2321.8L311.6 2312.2" stroke="#00FF00" stroke-width="1.9"/><path d="M314.0 2312.2L323.7 2321.8M314.0 2321.8L323.7 2312.2" stroke="#00FF00" stroke-width="1.9"/><path d="M326.1 2312.2L335.8 2321.8M326.1 2321.8L335.8 2312.2" stroke="#00FF00" stroke-width="1.9"/><path d="M338.2 2312.2L347.8 2321.8M338.2 2321.8L347.8 2312.2" stroke="#00FF00" stroke-width="1.9"/><path d="M350.2 2312.2L359.9 2321.8M350.2 2321.8L359.9 2312.2" stroke="#00FF00" stroke-width="1.9"/><path d="M362.3 2312.2L371.9 2321.8M362.3 2321.8L371.9 2312.2" stroke="#00FF00" stroke-width="1.9"/><path d="M374.4 2312.2L384.0 2321.8M374.4 2321.8L384.0 2312.2" stroke="#00FF00" stroke-width="1.9"/><path d="M386.4 2312.2L396.1 2321.8M386.4 2321.8L396.1 2312.2" stroke="#00FF00" stroke-width="1.9"/><path d="M398.5 2312.2L408.1 2321.8M398.5 2321.8L408.1 2312.2" stroke="#00FF00" stroke-width="1.9"/><path d="M410.6 2312.2L420.2 2321.8M410.6 2321.8L420.2 2312.2" stroke="#00FF00" stroke-width="1.9"/><path d="M422.6 2312.2L432.3 2321.8M422.6 2321.8L432.3 2312.2" stroke="#00FF00" stroke-width="1.9"/><path d="M434.7 2312.2L444.3 2321.8M434.7 2321.8L444.3 2312.2" stroke="#00FF00" stroke-width="1.9"/><path d="M446.8 2312.2L456.4 2321.8M446.8 2321.8L456.4 2312.2" stroke="#00FF00" stroke-width="1.9"/><path d="M458.8 2312.2L468.5 2321.8M458.8 2321.8L468.5 2312.2" stroke="#00FF00" stroke-width="1.9"/><path d="M470.9 2312.2L480.5 2321.8M470.9 2321.8L480.5 2312.2" stroke="#00FF00" stroke-width="1.9"/><path d="M482.9 2312.2L492.6 2321.8M482.9 2321.8L492.6 2312.2" stroke="#00FF00" stroke-width="1.9"/><path d="M495.0 2312.2L504.7 2321.8M495.0 2321.8L504.7 2312.2" stroke="#00FF00" stroke-width="1.9"/><path d="M507.1 2312.2L516.7 2321.8M507.1 2321.8L516.7 2312.2" stroke="#00FF00" stroke-width="1.9"/><path d="M519.1 2312.2L528.8 2321.8M519.1 2321.8L528.8 2312.2" stroke="#00FF00" stroke-width="1.9"/><path d="M531.2 2312.2L540.9 2321.8M531.2 2321.8L540.9 2312.2" stroke="#00FF00" stroke-width="1.9"/><path d="M543.3 2312.2L552.9 2321.8M543.3 2321.8L552.9 2312.2" stroke="#00FF00" stroke-width="1.9"/><path d="M555.3 2312.2L565.0 2321.8M555.3 2321.8L565.0 2312.2" stroke="#00FF00" stroke-width="1.9"/><path d="M567.4 2312.2L577.1 2321.8M567.4 2321.8L577.1 2312.2" stroke="#00FF00" stroke-width="1.9"/><path d="M579.5 2312.2L589.1 2321.8M579.5 2321.8L589.1 2312.2" stroke="#00FF00" stroke-width="1.9"/><path d="M591.5 2312.2L601.2 2321.8M591.5 2321.8L601.2 2312.2" stroke="#00FF00" stroke-width="1.9"/><path d="M603.6 2312.2L613.3 2321.8M603.6 2321.8L613.3 2312.2" stroke="#00FF00" stroke-width="1.9"/><path d="M615.7 2312.2L625.3 2321.8M615.7 2321.8L625.3 2312.2" stroke="#00FF00" stroke-width="1.9"/><path d="M627.7 2312.2L637.4 2321.8M627.7 2321.8L637.4 2312.2" stroke="#00FF00" stroke-width="1.9"/><path d="M639.8 2312.2L649.5 2321.8M639.8 2321.8L649.5 2312.2" stroke="#00FF00" stroke-width="1.9"/><path d="M651.9 2312.2L661.5 2321.8M651.9 2321.8L661.5 2312.2" stroke="#00FF00" stroke-width="1.9"/><path d="M663.9 2312.2L673.6 2321.8M663.9 2321.8L673.6 2312.2" stroke="#00FF00" stroke-width="1.9"/><path d="M676.0 2312.2L685.7 2321.8M676.0 2321.8L685.7 2312.2" stroke="#00FF00" stroke-width="1.9"/><path d="M688.1 2312.2L697.7 2321.8M688.1 2321.8L697.7 2312.2" stroke="#00FF00" stroke-width="1.9"/></g><g clip-path="url(#clp5)"><circle cx="125.9" cy="1817.0" r="3.7" fill="none" stroke="#C82424" stroke-width="1.8"/><circle cx="126.8" cy="1859.9" r="3.7" fill="none" stroke="#C82424" stroke-width="1.8"/><circle cx="127.6" cy="1898.4" r="3.7" fill="none" stroke="#C82424" stroke-width="1.8"/><circle cx="128.4" cy="1933.7" r="3.7" fill="none" stroke="#C82424" stroke-width="1.8"/><circle cx="129.2" cy="1965.7" r="3.7" fill="none" stroke="#C82424" stroke-width="1.8"/><circle cx="130.0" cy="1994.4" r="3.7" fill="none" stroke="#C82424" stroke-width="1.8"/><circle cx="130.8" cy="2021.6" r="3.7" fill="none" stroke="#C82424" stroke-width="1.8"/><circle cx="131.6" cy="2045.9" r="3.7" fill="none" stroke="#C82424" stroke-width="1.8"/><circle cx="132.3" cy="2069.0" r="3.7" fill="none" stroke="#C82424" stroke-width="1.8"/><circle cx="133.6" cy="2106.9" r="3.7" fill="none" stroke="#C82424" stroke-width="1.8"/><circle cx="135.0" cy="2139.8" r="3.7" fill="none" stroke="#C82424" stroke-width="1.8"/><circle cx="136.5" cy="2165.9" r="3.7" fill="none" stroke="#C82424" stroke-width="1.8"/><circle cx="138.2" cy="2189.3" r="3.7" fill="none" stroke="#C82424" stroke-width="1.8"/><circle cx="140.7" cy="2219.5" r="3.7" fill="none" stroke="#C82424" stroke-width="1.8"/><circle cx="142.9" cy="2242.3" r="3.7" fill="none" stroke="#C82424" stroke-width="1.8"/><circle cx="145.6" cy="2259.3" r="3.7" fill="none" stroke="#C82424" stroke-width="1.8"/><circle cx="148.4" cy="2272.5" r="3.7" fill="none" stroke="#C82424" stroke-width="1.8"/><circle cx="155.2" cy="2292.3" r="3.7" fill="none" stroke="#C82424" stroke-width="1.8"/><circle cx="162.1" cy="2301.9" r="3.7" fill="none" stroke="#C82424" stroke-width="1.8"/><circle cx="169.0" cy="2307.4" r="3.7" fill="none" stroke="#C82424" stroke-width="1.8"/><circle cx="181.3" cy="2311.5" r="3.7" fill="none" stroke="#C82424" stroke-width="1.8"/><circle cx="196.4" cy="2313.7" r="3.7" fill="none" stroke="#C82424" stroke-width="1.8"/><circle cx="198.2" cy="2313.7" r="3.7" fill="none" stroke="#C82424" stroke-width="1.8"/><circle cx="210.3" cy="2314.0" r="3.7" fill="none" stroke="#C82424" stroke-width="1.8"/><circle cx="222.3" cy="2314.2" r="3.7" fill="none" stroke="#C82424" stroke-width="1.8"/><circle cx="234.4" cy="2314.3" r="3.7" fill="none" stroke="#C82424" stroke-width="1.8"/><circle cx="246.5" cy="2314.4" r="3.7" fill="none" stroke="#C82424" stroke-width="1.8"/><circle cx="258.5" cy="2314.4" r="3.7" fill="none" stroke="#C82424" stroke-width="1.8"/><circle cx="270.6" cy="2314.4" r="3.7" fill="none" stroke="#C82424" stroke-width="1.8"/><circle cx="282.7" cy="2314.4" r="3.7" fill="none" stroke="#C82424" stroke-width="1.8"/><circle cx="294.7" cy="2314.4" r="3.7" fill="none" stroke="#C82424" stroke-width="1.8"/><circle cx="306.8" cy="2314.5" r="3.7" fill="none" stroke="#C82424" stroke-width="1.8"/><circle cx="318.9" cy="2314.5" r="3.7" fill="none" stroke="#C82424" stroke-width="1.8"/><circle cx="330.9" cy="2314.5" r="3.7" fill="none" stroke="#C82424" stroke-width="1.8"/><circle cx="343.0" cy="2314.5" r="3.7" fill="none" stroke="#C82424" stroke-width="1.8"/><circle cx="355.1" cy="2314.5" r="3.7" fill="none" stroke="#C82424" stroke-width="1.8"/><circle cx="367.1" cy="2314.5" r="3.7" fill="none" stroke="#C82424" stroke-width="1.8"/><circle cx="379.2" cy="2314.5" r="3.7" fill="none" stroke="#C82424" stroke-width="1.8"/><circle cx="391.3" cy="2314.5" r="3.7" fill="none" stroke="#C82424" stroke-width="1.8"/><circle cx="403.3" cy="2314.5" r="3.7" fill="none" stroke="#C82424" stroke-width="1.8"/><circle cx="415.4" cy="2314.5" r="3.7" fill="none" stroke="#C82424" stroke-width="1.8"/><circle cx="427.4" cy="2314.5" r="3.7" fill="none" stroke="#C82424" stroke-width="1.8"/><circle cx="439.5" cy="2314.6" r="3.7" fill="none" stroke="#C82424" stroke-width="1.8"/><circle cx="451.6" cy="2314.6" r="3.7" fill="none" stroke="#C82424" stroke-width="1.8"/><circle cx="463.6" cy="2314.6" r="3.7" fill="none" stroke="#C82424" stroke-width="1.8"/><circle cx="475.7" cy="2314.6" r="3.7" fill="none" stroke="#C82424" stroke-width="1.8"/><circle cx="487.8" cy="2314.6" r="3.7" fill="none" stroke="#C82424" stroke-width="1.8"/><circle cx="499.8" cy="2314.6" r="3.7" fill="none" stroke="#C82424" stroke-width="1.8"/><circle cx="511.9" cy="2314.6" r="3.7" fill="none" stroke="#C82424" stroke-width="1.8"/><circle cx="524.0" cy="2314.6" r="3.7" fill="none" stroke="#C82424" stroke-width="1.8"/><circle cx="536.0" cy="2314.6" r="3.7" fill="none" stroke="#C82424" stroke-width="1.8"/><circle cx="548.1" cy="2314.6" r="3.7" fill="none" stroke="#C82424" stroke-width="1.8"/><circle cx="560.2" cy="2314.6" r="3.7" fill="none" stroke="#C82424" stroke-width="1.8"/><circle cx="572.2" cy="2314.6" r="3.7" fill="none" stroke="#C82424" stroke-width="1.8"/><circle cx="584.3" cy="2314.6" r="3.7" fill="none" stroke="#C82424" stroke-width="1.8"/><circle cx="596.4" cy="2314.6" r="3.7" fill="none" stroke="#C82424" stroke-width="1.8"/><circle cx="608.4" cy="2314.6" r="3.7" fill="none" stroke="#C82424" stroke-width="1.8"/><circle cx="620.5" cy="2314.6" r="3.7" fill="none" stroke="#C82424" stroke-width="1.8"/><circle cx="632.6" cy="2314.6" r="3.7" fill="none" stroke="#C82424" stroke-width="1.8"/><circle cx="644.6" cy="2314.6" r="3.7" fill="none" stroke="#C82424" stroke-width="1.8"/><circle cx="656.7" cy="2314.6" r="3.7" fill="none" stroke="#C82424" stroke-width="1.8"/><circle cx="668.8" cy="2314.6" r="3.7" fill="none" stroke="#C82424" stroke-width="1.8"/><circle cx="680.8" cy="2314.6" r="3.7" fill="none" stroke="#C82424" stroke-width="1.8"/><circle cx="692.9" cy="2314.6" r="3.7" fill="none" stroke="#C82424" stroke-width="1.8"/></g><rect x="17.9" y="2379.6" width="684.1" height="90.7" fill="none" stroke="#000" stroke-width="2.0"/><rect x="51.7" y="2399.7" width="5.8" height="5.8" fill="none" stroke="#0000FF" stroke-width="2.0"/><text x="94.4" y="2413.2" font-size="25.0" letter-spacing="0.90" xml:space="preserve"><tspan font-family="'Liberation Sans', sans-serif">&#961;</tspan></text><path d="M214.7 2402.6H223.5M219.1 2398.2V2407.0" stroke="#000000" stroke-width="2.0"/><text x="258.1" y="2413.2" font-size="25.0" letter-spacing="0.90" xml:space="preserve"><tspan font-family="'Liberation Sans', sans-serif">&#961;</tspan><tspan> + </tspan><tspan font-style="italic">p</tspan><tspan font-style="italic" font-size="20.0" dy="10.5">r</tspan></text><path d="M379.2 2402.6L379.2 2398.6M379.2 2402.6L383.0 2401.4M379.2 2402.6L381.5 2405.8M379.2 2402.6L376.9 2405.8M379.2 2402.6L375.4 2401.4" stroke="#FF0000" stroke-width="2.3" stroke-linecap="round"/><text x="418.3" y="2413.2" font-size="25.0" letter-spacing="0.90" xml:space="preserve"><tspan font-family="'Liberation Sans', sans-serif">&#961;</tspan><tspan> + </tspan><tspan font-style="italic">p</tspan><tspan font-style="italic" font-size="20.0" dy="10.5">t</tspan></text><path d="M490.2 2401.1H550.7" stroke="#9E1A1A" stroke-width="2.2"/><text x="560.4" y="2413.2" font-size="25.0" letter-spacing="0.90" xml:space="preserve"><tspan font-family="'Liberation Sans', sans-serif">&#961;</tspan><tspan> + </tspan><tspan font-style="italic">p</tspan><tspan font-style="italic" font-size="20.0" dy="10.5">r</tspan><tspan dy="-10.5"> + 2</tspan><tspan font-style="italic">p</tspan><tspan font-style="italic" font-size="20.0" dy="10.5">t</tspan></text><path d="M49.3 2440.3L59.9 2450.9M49.3 2450.9L59.9 2440.3" stroke="#00FF00" stroke-width="2.0"/><text x="94.4" y="2453.6" font-size="25.0" letter-spacing="0.15" xml:space="preserve"><tspan font-family="'Liberation Sans', sans-serif">.&#961; - |</tspan><tspan font-style="italic">p</tspan><tspan font-style="italic" font-size="20.0" dy="10.5">r</tspan><tspan font-family="'Liberation Sans', sans-serif" dy="-10.5">|</tspan></text><circle cx="219.1" cy="2445.6" r="4.1" fill="none" stroke="#C82424" stroke-width="1.8"/><text x="258.1" y="2453.6" font-size="25.0" letter-spacing="0.15" xml:space="preserve"><tspan font-family="'Liberation Sans', sans-serif">&#961; - |</tspan><tspan font-style="italic">p</tspan><tspan font-style="italic" font-size="20.0" dy="10.5">t</tspan><tspan font-family="'Liberation Sans', sans-serif" dy="-10.5">|</tspan></text>
<defs><clipPath id="clp6"><rect x="867.7" y="1785.3" width="647.7" height="540.4"/></clipPath></defs><rect x="873.7" y="1791.3" width="635.7" height="528.4" fill="none" stroke="#000" stroke-width="2.0"/><path d="M879.1 2319.7V2329.7M1035.3 2319.7V2329.7M1191.5 2319.7V2329.7M1347.8 2319.7V2329.7M1504.0 2319.7V2329.7M910.3 2319.7V2325.7M941.6 2319.7V2325.7M972.8 2319.7V2325.7M1004.1 2319.7V2325.7M1066.6 2319.7V2325.7M1097.8 2319.7V2325.7M1129.1 2319.7V2325.7M1160.3 2319.7V2325.7M1222.8 2319.7V2325.7M1254.0 2319.7V2325.7M1285.3 2319.7V2325.7M1316.5 2319.7V2325.7M1379.0 2319.7V2325.7M1410.3 2319.7V2325.7M1441.5 2319.7V2325.7M1472.8 2319.7V2325.7M873.7 2313.0H863.7M873.7 2228.9H863.7M873.7 2144.8H863.7M873.7 2060.7H863.7M873.7 1976.6H863.7M873.7 1892.5H863.7M873.7 1808.4H863.7M873.7 2270.9H867.7M873.7 2186.8H867.7M873.7 2102.8H867.7M873.7 2018.7H867.7M873.7 1934.6H867.7M873.7 1850.5H867.7" stroke="#000" stroke-width="2"/><text transform="translate(879.1 2354.0) scale(1 1.075)" text-anchor="middle" font-size="23.0">1</text><text transform="translate(1035.3 2354.0) scale(1 1.075)" text-anchor="middle" font-size="23.0">1.5</text><text transform="translate(1191.5 2354.0) scale(1 1.075)" text-anchor="middle" font-size="23.0">2</text><text transform="translate(1347.8 2354.0) scale(1 1.075)" text-anchor="middle" font-size="23.0">2.5</text><text transform="translate(1504.0 2354.0) scale(1 1.075)" text-anchor="middle" font-size="23.0">3</text><text transform="translate(857.9 2321.8) scale(1 1.075)" text-anchor="end" font-size="23.0">0</text><text transform="translate(857.9 2237.7) scale(1 1.075)" text-anchor="end" font-size="23.0">2</text><text transform="translate(857.9 2153.6) scale(1 1.075)" text-anchor="end" font-size="23.0">4</text><text transform="translate(857.9 2069.5) scale(1 1.075)" text-anchor="end" font-size="23.0">6</text><text transform="translate(857.9 1985.4) scale(1 1.075)" text-anchor="end" font-size="23.0">8</text><text transform="translate(859.4 1901.3) scale(1 1.075)" text-anchor="end" font-size="23.0">10</text><text transform="translate(859.4 1817.2) scale(1 1.075)" text-anchor="end" font-size="23.0">12</text><text transform="translate(1191.5 2376.5) scale(1 1.075)" text-anchor="middle" font-size="23.0" font-style="italic">r</text><g clip-path="url(#clp6)"><rect x="875.7" y="1978.6" width="6.8" height="6.8" fill="none" stroke="#0000FF" stroke-width="2.0"/><rect x="879.2" y="2008.8" width="6.8" height="6.8" fill="none" stroke="#0000FF" stroke-width="2.0"/><rect x="882.8" y="2035.4" width="6.8" height="6.8" fill="none" stroke="#0000FF" stroke-width="2.0"/><rect x="886.1" y="2058.8" width="6.8" height="6.8" fill="none" stroke="#0000FF" stroke-width="2.0"/><rect x="889.4" y="2080.0" width="6.8" height="6.8" fill="none" stroke="#0000FF" stroke-width="2.0"/><rect x="895.5" y="2110.3" width="6.8" height="6.8" fill="none" stroke="#0000FF" stroke-width="2.0"/><rect x="901.0" y="2136.4" width="6.8" height="6.8" fill="none" stroke="#0000FF" stroke-width="2.0"/><rect x="907.9" y="2159.8" width="6.8" height="6.8" fill="none" stroke="#0000FF" stroke-width="2.0"/><rect x="914.7" y="2179.0" width="6.8" height="6.8" fill="none" stroke="#0000FF" stroke-width="2.0"/><rect x="921.1" y="2195.5" width="6.8" height="6.8" fill="none" stroke="#0000FF" stroke-width="2.0"/><rect x="927.9" y="2209.2" width="6.8" height="6.8" fill="none" stroke="#0000FF" stroke-width="2.0"/><rect x="940.8" y="2229.8" width="6.8" height="6.8" fill="none" stroke="#0000FF" stroke-width="2.0"/><rect x="953.7" y="2244.4" width="6.8" height="6.8" fill="none" stroke="#0000FF" stroke-width="2.0"/><rect x="966.9" y="2255.4" width="6.8" height="6.8" fill="none" stroke="#0000FF" stroke-width="2.0"/><rect x="980.1" y="2264.7" width="6.8" height="6.8" fill="none" stroke="#0000FF" stroke-width="2.0"/><rect x="993.0" y="2271.6" width="6.8" height="6.8" fill="none" stroke="#0000FF" stroke-width="2.0"/><rect x="1006.2" y="2277.4" width="6.8" height="6.8" fill="none" stroke="#0000FF" stroke-width="2.0"/><rect x="1018.6" y="2281.5" width="6.8" height="6.8" fill="none" stroke="#0000FF" stroke-width="2.0"/><rect x="1032.0" y="2285.3" width="6.8" height="6.8" fill="none" stroke="#0000FF" stroke-width="2.0"/><rect x="1045.2" y="2288.9" width="6.8" height="6.8" fill="none" stroke="#0000FF" stroke-width="2.0"/><rect x="1059.0" y="2291.9" width="6.8" height="6.8" fill="none" stroke="#0000FF" stroke-width="2.0"/><rect x="1070.5" y="2293.8" width="6.8" height="6.8" fill="none" stroke="#0000FF" stroke-width="2.0"/><rect x="1084.2" y="2295.8" width="6.8" height="6.8" fill="none" stroke="#0000FF" stroke-width="2.0"/><rect x="1096.9" y="2297.6" width="6.8" height="6.8" fill="none" stroke="#0000FF" stroke-width="2.0"/><rect x="1109.8" y="2299.1" width="6.8" height="6.8" fill="none" stroke="#0000FF" stroke-width="2.0"/><rect x="1122.7" y="2300.4" width="6.8" height="6.8" fill="none" stroke="#0000FF" stroke-width="2.0"/><rect x="1135.9" y="2301.3" width="6.8" height="6.8" fill="none" stroke="#0000FF" stroke-width="2.0"/><rect x="1149.1" y="2301.8" width="6.8" height="6.8" fill="none" stroke="#0000FF" stroke-width="2.0"/><rect x="1162.0" y="2302.2" width="6.8" height="6.8" fill="none" stroke="#0000FF" stroke-width="2.0"/><rect x="1175.2" y="2302.6" width="6.8" height="6.8" fill="none" stroke="#0000FF" stroke-width="2.0"/><rect x="1188.1" y="2303.2" width="6.8" height="6.8" fill="none" stroke="#0000FF" stroke-width="2.0"/><rect x="1194.8" y="2303.4" width="6.8" height="6.8" fill="none" stroke="#0000FF" stroke-width="2.0"/><rect x="1208.1" y="2303.7" width="6.8" height="6.8" fill="none" stroke="#0000FF" stroke-width="2.0"/><rect x="1221.4" y="2303.9" width="6.8" height="6.8" fill="none" stroke="#0000FF" stroke-width="2.0"/><rect x="1234.7" y="2304.1" width="6.8" height="6.8" fill="none" stroke="#0000FF" stroke-width="2.0"/><rect x="1248.0" y="2304.3" width="6.8" height="6.8" fill="none" stroke="#0000FF" stroke-width="2.0"/><rect x="1261.3" y="2304.5" width="6.8" height="6.8" fill="none" stroke="#0000FF" stroke-width="2.0"/><rect x="1274.6" y="2304.6" width="6.8" height="6.8" fill="none" stroke="#0000FF" stroke-width="2.0"/><rect x="1287.9" y="2304.7" width="6.8" height="6.8" fill="none" stroke="#0000FF" stroke-width="2.0"/><rect x="1301.2" y="2304.8" width="6.8" height="6.8" fill="none" stroke="#0000FF" stroke-width="2.0"/><rect x="1314.5" y="2305.0" width="6.8" height="6.8" fill="none" stroke="#0000FF" stroke-width="2.0"/><rect x="1327.8" y="2305.1" width="6.8" height="6.8" fill="none" stroke="#0000FF" stroke-width="2.0"/><rect x="1341.1" y="2305.2" width="6.8" height="6.8" fill="none" stroke="#0000FF" stroke-width="2.0"/><rect x="1354.3" y="2305.3" width="6.8" height="6.8" fill="none" stroke="#0000FF" stroke-width="2.0"/><rect x="1367.6" y="2305.4" width="6.8" height="6.8" fill="none" stroke="#0000FF" stroke-width="2.0"/><rect x="1380.9" y="2305.5" width="6.8" height="6.8" fill="none" stroke="#0000FF" stroke-width="2.0"/><rect x="1394.2" y="2305.6" width="6.8" height="6.8" fill="none" stroke="#0000FF" stroke-width="2.0"/><rect x="1407.5" y="2305.7" width="6.8" height="6.8" fill="none" stroke="#0000FF" stroke-width="2.0"/><rect x="1420.8" y="2305.8" width="6.8" height="6.8" fill="none" stroke="#0000FF" stroke-width="2.0"/><rect x="1434.1" y="2305.9" width="6.8" height="6.8" fill="none" stroke="#0000FF" stroke-width="2.0"/><rect x="1447.4" y="2305.9" width="6.8" height="6.8" fill="none" stroke="#0000FF" stroke-width="2.0"/><rect x="1460.7" y="2306.0" width="6.8" height="6.8" fill="none" stroke="#0000FF" stroke-width="2.0"/><rect x="1474.0" y="2306.0" width="6.8" height="6.8" fill="none" stroke="#0000FF" stroke-width="2.0"/><rect x="1487.3" y="2306.1" width="6.8" height="6.8" fill="none" stroke="#0000FF" stroke-width="2.0"/><rect x="1500.6" y="2306.1" width="6.8" height="6.8" fill="none" stroke="#0000FF" stroke-width="2.0"/></g><g clip-path="url(#clp6)"><path d="M875.0 1797.9H883.8M879.4 1793.5V1802.3" stroke="#C82424" stroke-width="2.0"/><path d="M878.8 1841.3H887.6M883.2 1836.9V1845.7" stroke="#C82424" stroke-width="2.0"/><path d="M882.4 1879.8H891.2M886.8 1875.4V1884.2" stroke="#C82424" stroke-width="2.0"/><path d="M885.9 1914.1H894.7M890.3 1909.7V1918.5" stroke="#C82424" stroke-width="2.0"/><path d="M889.2 1944.6H898.0M893.6 1940.2V1949.0" stroke="#C82424" stroke-width="2.0"/><path d="M895.3 1990.2H904.1M899.7 1985.8V1994.6" stroke="#C82424" stroke-width="2.0"/><path d="M901.3 2028.1H910.1M905.7 2023.7V2032.5" stroke="#C82424" stroke-width="2.0"/><path d="M907.9 2064.1H916.7M912.3 2059.7V2068.5" stroke="#C82424" stroke-width="2.0"/><path d="M914.5 2093.8H923.3M918.9 2089.4V2098.2" stroke="#C82424" stroke-width="2.0"/><path d="M921.1 2118.7H929.9M925.5 2114.3V2123.1" stroke="#C82424" stroke-width="2.0"/><path d="M928.0 2139.8H936.8M932.4 2135.4V2144.2" stroke="#C82424" stroke-width="2.0"/><path d="M941.2 2172.8H950.0M945.6 2168.4V2177.2" stroke="#C82424" stroke-width="2.0"/><path d="M953.0 2196.2H961.8M957.4 2191.8V2200.6" stroke="#C82424" stroke-width="2.0"/><path d="M966.5 2214.8H975.3M970.9 2210.4V2219.2" stroke="#C82424" stroke-width="2.0"/><path d="M979.1 2229.7H987.9M983.5 2225.3V2234.1" stroke="#C82424" stroke-width="2.0"/><path d="M992.0 2242.0H1000.8M996.4 2237.6V2246.4" stroke="#C82424" stroke-width="2.0"/><path d="M1005.8 2251.9H1014.6M1010.2 2247.5V2256.3" stroke="#C82424" stroke-width="2.0"/><path d="M1018.1 2258.8H1026.9M1022.5 2254.4V2263.2" stroke="#C82424" stroke-width="2.0"/><path d="M1031.3 2265.7H1040.1M1035.7 2261.3V2270.1" stroke="#C82424" stroke-width="2.0"/><path d="M1045.1 2270.9H1053.9M1049.5 2266.5V2275.3" stroke="#C82424" stroke-width="2.0"/><path d="M1058.0 2275.3H1066.8M1062.4 2270.9V2279.7" stroke="#C82424" stroke-width="2.0"/><path d="M1070.3 2279.4H1079.1M1074.7 2275.0V2283.8" stroke="#C82424" stroke-width="2.0"/><path d="M1083.5 2283.2H1092.3M1087.9 2278.8V2287.6" stroke="#C82424" stroke-width="2.0"/><path d="M1096.4 2286.6H1105.2M1100.8 2282.2V2291.0" stroke="#C82424" stroke-width="2.0"/><path d="M1109.6 2289.6H1118.4M1114.0 2285.2V2294.0" stroke="#C82424" stroke-width="2.0"/><path d="M1122.5 2291.6H1131.3M1126.9 2287.2V2296.0" stroke="#C82424" stroke-width="2.0"/><path d="M1136.3 2293.3H1145.1M1140.7 2288.9V2297.7" stroke="#C82424" stroke-width="2.0"/><path d="M1148.1 2294.8H1156.9M1152.5 2290.4V2299.2" stroke="#C82424" stroke-width="2.0"/><path d="M1161.0 2296.2H1169.8M1165.4 2291.8V2300.6" stroke="#C82424" stroke-width="2.0"/><path d="M1174.2 2297.3H1183.0M1178.6 2292.9V2301.7" stroke="#C82424" stroke-width="2.0"/><path d="M1187.1 2298.4H1195.9M1191.5 2294.0V2302.8" stroke="#C82424" stroke-width="2.0"/><path d="M1193.8 2298.9H1202.6M1198.2 2294.5V2303.3" stroke="#C82424" stroke-width="2.0"/><path d="M1207.1 2299.8H1215.9M1211.5 2295.4V2304.2" stroke="#C82424" stroke-width="2.0"/><path d="M1220.4 2300.6H1229.2M1224.8 2296.2V2305.0" stroke="#C82424" stroke-width="2.0"/><path d="M1233.7 2301.4H1242.5M1238.1 2297.0V2305.8" stroke="#C82424" stroke-width="2.0"/><path d="M1247.0 2302.1H1255.8M1251.4 2297.7V2306.5" stroke="#C82424" stroke-width="2.0"/><path d="M1260.3 2302.7H1269.1M1264.7 2298.3V2307.1" stroke="#C82424" stroke-width="2.0"/><path d="M1273.6 2303.3H1282.4M1278.0 2298.9V2307.7" stroke="#C82424" stroke-width="2.0"/><path d="M1286.9 2303.9H1295.7M1291.3 2299.5V2308.3" stroke="#C82424" stroke-width="2.0"/><path d="M1300.2 2304.4H1309.0M1304.6 2300.0V2308.8" stroke="#C82424" stroke-width="2.0"/><path d="M1313.5 2304.9H1322.3M1317.9 2300.5V2309.3" stroke="#C82424" stroke-width="2.0"/><path d="M1326.8 2305.4H1335.6M1331.2 2301.0V2309.8" stroke="#C82424" stroke-width="2.0"/><path d="M1340.1 2305.8H1348.9M1344.5 2301.4V2310.2" stroke="#C82424" stroke-width="2.0"/><path d="M1353.3 2306.2H1362.1M1357.7 2301.8V2310.6" stroke="#C82424" stroke-width="2.0"/><path d="M1366.6 2306.6H1375.4M1371.0 2302.2V2311.0" stroke="#C82424" stroke-width="2.0"/><path d="M1379.9 2307.0H1388.7M1384.3 2302.6V2311.4" stroke="#C82424" stroke-width="2.0"/><path d="M1393.2 2307.4H1402.0M1397.6 2303.0V2311.8" stroke="#C82424" stroke-width="2.0"/><path d="M1406.5 2307.8H1415.3M1410.9 2303.4V2312.2" stroke="#C82424" stroke-width="2.0"/><path d="M1419.8 2308.1H1428.6M1424.2 2303.7V2312.5" stroke="#C82424" stroke-width="2.0"/><path d="M1433.1 2308.5H1441.9M1437.5 2304.1V2312.9" stroke="#C82424" stroke-width="2.0"/><path d="M1446.4 2308.8H1455.2M1450.8 2304.4V2313.2" stroke="#C82424" stroke-width="2.0"/><path d="M1459.7 2309.1H1468.5M1464.1 2304.7V2313.5" stroke="#C82424" stroke-width="2.0"/><path d="M1473.0 2309.3H1481.8M1477.4 2304.9V2313.7" stroke="#C82424" stroke-width="2.0"/><path d="M1486.3 2309.6H1495.1M1490.7 2305.2V2314.0" stroke="#C82424" stroke-width="2.0"/><path d="M1499.6 2309.8H1508.4M1504.0 2305.4V2314.2" stroke="#C82424" stroke-width="2.0"/></g><g clip-path="url(#clp6)"><path d="M879.9 2075.9L879.9 2072.1M879.9 2075.9L883.5 2074.7M879.9 2075.9L882.1 2079.0M879.9 2075.9L877.7 2079.0M879.9 2075.9L876.3 2074.7" stroke="#000000" stroke-width="1.8" stroke-linecap="round"/><path d="M883.2 2100.7L883.2 2096.9M883.2 2100.7L886.8 2099.5M883.2 2100.7L885.4 2103.8M883.2 2100.7L881.0 2103.8M883.2 2100.7L879.6 2099.5" stroke="#000000" stroke-width="1.8" stroke-linecap="round"/><path d="M887.4 2120.6L887.4 2116.8M887.4 2120.6L891.0 2119.4M887.4 2120.6L889.6 2123.7M887.4 2120.6L885.2 2123.7M887.4 2120.6L883.8 2119.4" stroke="#000000" stroke-width="1.8" stroke-linecap="round"/><path d="M890.1 2138.5L890.1 2134.7M890.1 2138.5L893.7 2137.3M890.1 2138.5L892.3 2141.6M890.1 2138.5L887.9 2141.6M890.1 2138.5L886.5 2137.3" stroke="#000000" stroke-width="1.8" stroke-linecap="round"/><path d="M894.0 2154.9L894.0 2151.1M894.0 2154.9L897.6 2153.7M894.0 2154.9L896.2 2158.0M894.0 2154.9L891.8 2158.0M894.0 2154.9L890.4 2153.7" stroke="#000000" stroke-width="1.8" stroke-linecap="round"/><path d="M899.5 2176.9L899.5 2173.1M899.5 2176.9L903.1 2175.7M899.5 2176.9L901.7 2180.0M899.5 2176.9L897.3 2180.0M899.5 2176.9L895.9 2175.7" stroke="#000000" stroke-width="1.8" stroke-linecap="round"/><path d="M905.2 2196.2L905.2 2192.4M905.2 2196.2L908.8 2195.0M905.2 2196.2L907.4 2199.3M905.2 2196.2L903.0 2199.3M905.2 2196.2L901.6 2195.0" stroke="#000000" stroke-width="1.8" stroke-linecap="round"/><path d="M911.3 2212.0L911.3 2208.2M911.3 2212.0L914.9 2210.8M911.3 2212.0L913.5 2215.1M911.3 2212.0L909.1 2215.1M911.3 2212.0L907.7 2210.8" stroke="#000000" stroke-width="1.8" stroke-linecap="round"/><path d="M918.7 2227.7L918.7 2223.9M918.7 2227.7L922.3 2226.5M918.7 2227.7L920.9 2230.8M918.7 2227.7L916.5 2230.8M918.7 2227.7L915.1 2226.5" stroke="#000000" stroke-width="1.8" stroke-linecap="round"/><path d="M932.4 2249.7L932.4 2245.9M932.4 2249.7L936.0 2248.5M932.4 2249.7L934.6 2252.8M932.4 2249.7L930.2 2252.8M932.4 2249.7L928.8 2248.5" stroke="#000000" stroke-width="1.8" stroke-linecap="round"/><path d="M945.6 2264.8L945.6 2261.0M945.6 2264.8L949.2 2263.6M945.6 2264.8L947.8 2267.9M945.6 2264.8L943.4 2267.9M945.6 2264.8L942.0 2263.6" stroke="#000000" stroke-width="1.8" stroke-linecap="round"/><path d="M958.5 2274.5L958.5 2270.7M958.5 2274.5L962.1 2273.3M958.5 2274.5L960.7 2277.6M958.5 2274.5L956.3 2277.6M958.5 2274.5L954.9 2273.3" stroke="#000000" stroke-width="1.8" stroke-linecap="round"/><path d="M970.9 2282.7L970.9 2278.9M970.9 2282.7L974.5 2281.5M970.9 2282.7L973.1 2285.8M970.9 2282.7L968.7 2285.8M970.9 2282.7L967.3 2281.5" stroke="#000000" stroke-width="1.8" stroke-linecap="round"/><path d="M983.5 2289.0L983.5 2285.2M983.5 2289.0L987.1 2287.8M983.5 2289.0L985.7 2292.1M983.5 2289.0L981.3 2292.1M983.5 2289.0L979.9 2287.8" stroke="#000000" stroke-width="1.8" stroke-linecap="round"/><path d="M997.3 2294.5L997.3 2290.7M997.3 2294.5L1000.9 2293.3M997.3 2294.5L999.5 2297.6M997.3 2294.5L995.1 2297.6M997.3 2294.5L993.7 2293.3" stroke="#000000" stroke-width="1.8" stroke-linecap="round"/><path d="M1010.2 2297.8L1010.2 2294.0M1010.2 2297.8L1013.8 2296.6M1010.2 2297.8L1012.4 2300.9M1010.2 2297.8L1008.0 2300.9M1010.2 2297.8L1006.6 2296.6" stroke="#000000" stroke-width="1.8" stroke-linecap="round"/><path d="M1023.1 2301.1L1023.1 2297.3M1023.1 2301.1L1026.7 2299.9M1023.1 2301.1L1025.3 2304.2M1023.1 2301.1L1020.9 2304.2M1023.1 2301.1L1019.5 2299.9" stroke="#000000" stroke-width="1.8" stroke-linecap="round"/><path d="M1036.3 2303.3L1036.3 2299.5M1036.3 2303.3L1039.9 2302.1M1036.3 2303.3L1038.5 2306.4M1036.3 2303.3L1034.1 2306.4M1036.3 2303.3L1032.7 2302.1" stroke="#000000" stroke-width="1.8" stroke-linecap="round"/><path d="M1049.5 2305.2L1049.5 2301.4M1049.5 2305.2L1053.1 2304.0M1049.5 2305.2L1051.7 2308.3M1049.5 2305.2L1047.3 2308.3M1049.5 2305.2L1045.9 2304.0" stroke="#000000" stroke-width="1.8" stroke-linecap="round"/><path d="M1062.4 2306.6L1062.4 2302.8M1062.4 2306.6L1066.0 2305.4M1062.4 2306.6L1064.6 2309.7M1062.4 2306.6L1060.2 2309.7M1062.4 2306.6L1058.8 2305.4" stroke="#000000" stroke-width="1.8" stroke-linecap="round"/><path d="M1074.7 2308.0L1074.7 2304.2M1074.7 2308.0L1078.3 2306.8M1074.7 2308.0L1076.9 2311.1M1074.7 2308.0L1072.5 2311.1M1074.7 2308.0L1071.1 2306.8" stroke="#000000" stroke-width="1.8" stroke-linecap="round"/><path d="M1087.9 2309.3L1087.9 2305.5M1087.9 2309.3L1091.5 2308.1M1087.9 2309.3L1090.1 2312.4M1087.9 2309.3L1085.7 2312.4M1087.9 2309.3L1084.3 2308.1" stroke="#000000" stroke-width="1.8" stroke-linecap="round"/><path d="M1100.8 2310.2L1100.8 2306.4M1100.8 2310.2L1104.4 2309.0M1100.8 2310.2L1103.0 2313.3M1100.8 2310.2L1098.6 2313.3M1100.8 2310.2L1097.2 2309.0" stroke="#000000" stroke-width="1.8" stroke-linecap="round"/><path d="M1113.2 2311.0L1113.2 2307.2M1113.2 2311.0L1116.8 2309.8M1113.2 2311.0L1115.4 2314.1M1113.2 2311.0L1111.0 2314.1M1113.2 2311.0L1109.6 2309.8" stroke="#000000" stroke-width="1.8" stroke-linecap="round"/><path d="M1126.4 2311.5L1126.4 2307.7M1126.4 2311.5L1130.0 2310.3M1126.4 2311.5L1128.6 2314.6M1126.4 2311.5L1124.2 2314.6M1126.4 2311.5L1122.8 2310.3" stroke="#000000" stroke-width="1.8" stroke-linecap="round"/><path d="M1139.3 2312.1L1139.3 2308.3M1139.3 2312.1L1142.9 2310.9M1139.3 2312.1L1141.5 2315.2M1139.3 2312.1L1137.1 2315.2M1139.3 2312.1L1135.7 2310.9" stroke="#000000" stroke-width="1.8" stroke-linecap="round"/><path d="M1152.5 2312.4L1152.5 2308.6M1152.5 2312.4L1156.1 2311.2M1152.5 2312.4L1154.7 2315.5M1152.5 2312.4L1150.3 2315.5M1152.5 2312.4L1148.9 2311.2" stroke="#000000" stroke-width="1.8" stroke-linecap="round"/><path d="M1165.4 2312.9L1165.4 2309.1M1165.4 2312.9L1169.0 2311.7M1165.4 2312.9L1167.6 2316.0M1165.4 2312.9L1163.2 2316.0M1165.4 2312.9L1161.8 2311.7" stroke="#000000" stroke-width="1.8" stroke-linecap="round"/><path d="M1191.5 2313.3L1191.5 2309.5M1191.5 2313.3L1195.1 2312.1M1191.5 2313.3L1193.7 2316.4M1191.5 2313.3L1189.3 2316.4M1191.5 2313.3L1187.9 2312.1" stroke="#000000" stroke-width="1.8" stroke-linecap="round"/><path d="M1198.2 2313.3L1198.2 2309.6M1198.2 2313.3L1201.8 2312.2M1198.2 2313.3L1200.4 2316.4M1198.2 2313.3L1196.0 2316.4M1198.2 2313.3L1194.6 2312.2" stroke="#000000" stroke-width="1.8" stroke-linecap="round"/><path d="M1211.5 2313.4L1211.5 2309.6M1211.5 2313.4L1215.1 2312.2M1211.5 2313.4L1213.7 2316.5M1211.5 2313.4L1209.3 2316.5M1211.5 2313.4L1207.9 2312.2" stroke="#000000" stroke-width="1.8" stroke-linecap="round"/><path d="M1224.8 2313.5L1224.8 2309.7M1224.8 2313.5L1228.4 2312.3M1224.8 2313.5L1227.0 2316.5M1224.8 2313.5L1222.6 2316.5M1224.8 2313.5L1221.2 2312.3" stroke="#000000" stroke-width="1.8" stroke-linecap="round"/><path d="M1238.1 2313.5L1238.1 2309.7M1238.1 2313.5L1241.7 2312.3M1238.1 2313.5L1240.3 2316.6M1238.1 2313.5L1235.9 2316.6M1238.1 2313.5L1234.5 2312.3" stroke="#000000" stroke-width="1.8" stroke-linecap="round"/><path d="M1251.4 2313.6L1251.4 2309.8M1251.4 2313.6L1255.0 2312.4M1251.4 2313.6L1253.6 2316.6M1251.4 2313.6L1249.2 2316.6M1251.4 2313.6L1247.8 2312.4" stroke="#000000" stroke-width="1.8" stroke-linecap="round"/><path d="M1264.7 2313.6L1264.7 2309.8M1264.7 2313.6L1268.3 2312.4M1264.7 2313.6L1266.9 2316.7M1264.7 2313.6L1262.5 2316.7M1264.7 2313.6L1261.1 2312.4" stroke="#000000" stroke-width="1.8" stroke-linecap="round"/><path d="M1278.0 2313.7L1278.0 2309.9M1278.0 2313.7L1281.6 2312.5M1278.0 2313.7L1280.2 2316.7M1278.0 2313.7L1275.8 2316.7M1278.0 2313.7L1274.4 2312.5" stroke="#000000" stroke-width="1.8" stroke-linecap="round"/><path d="M1291.3 2313.7L1291.3 2309.9M1291.3 2313.7L1294.9 2312.5M1291.3 2313.7L1293.5 2316.8M1291.3 2313.7L1289.0 2316.8M1291.3 2313.7L1287.7 2312.5" stroke="#000000" stroke-width="1.8" stroke-linecap="round"/><path d="M1304.6 2313.7L1304.6 2310.0M1304.6 2313.7L1308.2 2312.6M1304.6 2313.7L1306.8 2316.8M1304.6 2313.7L1302.3 2316.8M1304.6 2313.7L1301.0 2312.6" stroke="#000000" stroke-width="1.8" stroke-linecap="round"/><path d="M1317.9 2313.8L1317.9 2310.0M1317.9 2313.8L1321.5 2312.6M1317.9 2313.8L1320.1 2316.8M1317.9 2313.8L1315.6 2316.8M1317.9 2313.8L1314.3 2312.6" stroke="#000000" stroke-width="1.8" stroke-linecap="round"/><path d="M1331.2 2313.8L1331.2 2310.0M1331.2 2313.8L1334.8 2312.6M1331.2 2313.8L1333.4 2316.9M1331.2 2313.8L1328.9 2316.9M1331.2 2313.8L1327.6 2312.6" stroke="#000000" stroke-width="1.8" stroke-linecap="round"/><path d="M1344.5 2313.8L1344.5 2310.1M1344.5 2313.8L1348.0 2312.7M1344.5 2313.8L1346.7 2316.9M1344.5 2313.8L1342.2 2316.9M1344.5 2313.8L1340.9 2312.7" stroke="#000000" stroke-width="1.8" stroke-linecap="round"/><path d="M1357.7 2313.9L1357.7 2310.1M1357.7 2313.9L1361.3 2312.7M1357.7 2313.9L1360.0 2316.9M1357.7 2313.9L1355.5 2316.9M1357.7 2313.9L1354.2 2312.7" stroke="#000000" stroke-width="1.8" stroke-linecap="round"/><path d="M1371.0 2313.9L1371.0 2310.1M1371.0 2313.9L1374.6 2312.7M1371.0 2313.9L1373.3 2316.9M1371.0 2313.9L1368.8 2316.9M1371.0 2313.9L1367.4 2312.7" stroke="#000000" stroke-width="1.8" stroke-linecap="round"/><path d="M1384.3 2313.9L1384.3 2310.1M1384.3 2313.9L1387.9 2312.7M1384.3 2313.9L1386.6 2317.0M1384.3 2313.9L1382.1 2317.0M1384.3 2313.9L1380.7 2312.7" stroke="#000000" stroke-width="1.8" stroke-linecap="round"/><path d="M1397.6 2313.9L1397.6 2310.2M1397.6 2313.9L1401.2 2312.8M1397.6 2313.9L1399.9 2317.0M1397.6 2313.9L1395.4 2317.0M1397.6 2313.9L1394.0 2312.8" stroke="#000000" stroke-width="1.8" stroke-linecap="round"/><path d="M1410.9 2313.9L1410.9 2310.2M1410.9 2313.9L1414.5 2312.8M1410.9 2313.9L1413.2 2317.0M1410.9 2313.9L1408.7 2317.0M1410.9 2313.9L1407.3 2312.8" stroke="#000000" stroke-width="1.8" stroke-linecap="round"/><path d="M1424.2 2314.0L1424.2 2310.2M1424.2 2314.0L1427.8 2312.8M1424.2 2314.0L1426.4 2317.0M1424.2 2314.0L1422.0 2317.0M1424.2 2314.0L1420.6 2312.8" stroke="#000000" stroke-width="1.8" stroke-linecap="round"/><path d="M1437.5 2314.0L1437.5 2310.2M1437.5 2314.0L1441.1 2312.8M1437.5 2314.0L1439.7 2317.0M1437.5 2314.0L1435.3 2317.0M1437.5 2314.0L1433.9 2312.8" stroke="#000000" stroke-width="1.8" stroke-linecap="round"/><path d="M1450.8 2314.0L1450.8 2310.2M1450.8 2314.0L1454.4 2312.8M1450.8 2314.0L1453.0 2317.0M1450.8 2314.0L1448.6 2317.0M1450.8 2314.0L1447.2 2312.8" stroke="#000000" stroke-width="1.8" stroke-linecap="round"/><path d="M1464.1 2314.0L1464.1 2310.2M1464.1 2314.0L1467.7 2312.8M1464.1 2314.0L1466.3 2317.0M1464.1 2314.0L1461.9 2317.0M1464.1 2314.0L1460.5 2312.8" stroke="#000000" stroke-width="1.8" stroke-linecap="round"/><path d="M1477.4 2314.0L1477.4 2310.2M1477.4 2314.0L1481.0 2312.8M1477.4 2314.0L1479.6 2317.1M1477.4 2314.0L1475.2 2317.1M1477.4 2314.0L1473.8 2312.8" stroke="#000000" stroke-width="1.8" stroke-linecap="round"/><path d="M1490.7 2314.0L1490.7 2310.2M1490.7 2314.0L1494.3 2312.8M1490.7 2314.0L1492.9 2317.1M1490.7 2314.0L1488.5 2317.1M1490.7 2314.0L1487.1 2312.8" stroke="#000000" stroke-width="1.8" stroke-linecap="round"/><path d="M1504.0 2314.0L1504.0 2310.2M1504.0 2314.0L1507.6 2312.8M1504.0 2314.0L1506.2 2317.1M1504.0 2314.0L1501.8 2317.1M1504.0 2314.0L1500.4 2312.8" stroke="#000000" stroke-width="1.8" stroke-linecap="round"/></g><path d="M879.1 1982.0L880.1 1991.5L881.2 2000.5L882.2 2009.2L883.3 2017.4L884.3 2025.2L885.4 2032.8L886.4 2040.3L887.4 2047.8L888.5 2055.2L889.5 2062.4L890.6 2069.4L891.6 2076.3L892.7 2082.6L893.7 2088.4L894.7 2093.8L895.8 2098.9L896.8 2103.9L897.9 2108.8L898.9 2113.8L900.0 2119.0L901.0 2124.2L902.1 2129.3L903.1 2134.2L904.1 2138.7L905.2 2142.8L906.2 2146.7L907.3 2150.3L908.3 2153.8L909.4 2157.1L910.4 2160.4L911.4 2163.6L912.5 2166.8L913.5 2169.8L914.6 2172.8L915.6 2175.7L916.7 2178.5L917.7 2181.3L918.7 2184.1L919.8 2187.0L920.8 2189.8L921.9 2192.5L922.9 2195.1L924.0 2197.7L925.0 2200.0L926.0 2202.3L927.1 2204.5L928.1 2206.6L929.2 2208.6L930.2 2210.6L931.3 2212.5L932.3 2214.4L933.3 2216.2L934.4 2218.1L935.4 2219.8L936.5 2221.6L937.5 2223.3L938.6 2225.0L939.6 2226.6L940.7 2228.2L941.7 2229.7L942.7 2231.2L943.8 2232.6L944.8 2234.0L945.9 2235.4L946.9 2236.7L948.0 2237.9L949.0 2239.2L950.0 2240.4L951.1 2241.6L952.1 2242.7L953.2 2243.8L954.2 2244.9L955.3 2246.0L956.3 2247.0L957.3 2248.0L958.4 2249.0L959.4 2250.0L960.5 2250.9L961.5 2251.8L962.6 2252.7L963.6 2253.5L964.6 2254.4L965.7 2255.2L966.7 2256.0L967.8 2256.9L968.8 2257.7L969.9 2258.5L970.9 2259.3L971.9 2260.1L973.0 2260.8L974.0 2261.6L975.1 2262.4L976.1 2263.1L977.2 2263.9L978.2 2264.6L979.3 2265.4L980.3 2266.1L981.3 2266.7L982.4 2267.4L983.4 2268.1L984.5 2268.7L985.5 2269.3L986.6 2269.9L987.6 2270.5L988.6 2271.0L989.7 2271.6L990.7 2272.2L991.8 2272.7L992.8 2273.2L993.9 2273.8L994.9 2274.3L995.9 2274.8L997.0 2275.3L998.0 2275.8L999.1 2276.3L1000.1 2276.8L1001.2 2277.2L1002.2 2277.7L1003.2 2278.2L1004.3 2278.6L1005.3 2279.1L1006.4 2279.5L1007.4 2279.9L1008.5 2280.4L1009.5 2280.8L1010.5 2281.2L1011.6 2281.5L1012.6 2281.9L1013.7 2282.3L1014.7 2282.6L1015.8 2282.9L1016.8 2283.3L1017.9 2283.6L1018.9 2283.9L1019.9 2284.3L1021.0 2284.6L1022.0 2284.9L1023.1 2285.2L1024.1 2285.5L1025.2 2285.8L1026.2 2286.1L1027.2 2286.4L1028.3 2286.7L1029.3 2287.0L1030.4 2287.3L1031.4 2287.6L1032.5 2287.9L1033.5 2288.2L1034.5 2288.5L1035.6 2288.8L1036.6 2289.0L1037.7 2289.3L1038.7 2289.6L1039.8 2289.9L1040.8 2290.2L1041.8 2290.5L1042.9 2290.8L1043.9 2291.1L1045.0 2291.4L1046.0 2291.6L1047.1 2291.9L1048.1 2292.2L1049.1 2292.4L1050.2 2292.7L1051.2 2292.9L1052.3 2293.2L1053.3 2293.4L1054.4 2293.6L1055.4 2293.9L1056.5 2294.1L1057.5 2294.3L1058.5 2294.5L1059.6 2294.8L1060.6 2295.0L1061.7 2295.2L1062.7 2295.4L1063.8 2295.5L1064.8 2295.7L1065.8 2295.9L1066.9 2296.1L1067.9 2296.3L1069.0 2296.4L1070.0 2296.6L1071.1 2296.8L1072.1 2296.9L1073.1 2297.1L1074.2 2297.2L1075.2 2297.4L1076.3 2297.6L1077.3 2297.7L1078.4 2297.9L1079.4 2298.0L1080.4 2298.2L1081.5 2298.3L1082.5 2298.5L1083.6 2298.6L1084.6 2298.8L1085.7 2298.9L1086.7 2299.1L1087.7 2299.2L1088.8 2299.4L1089.8 2299.5L1090.9 2299.7L1091.9 2299.8L1093.0 2300.0L1094.0 2300.1L1095.1 2300.3L1096.1 2300.4L1097.1 2300.6L1098.2 2300.7L1099.2 2300.9L1100.3 2301.0L1101.3 2301.1L1102.4 2301.3L1103.4 2301.4L1104.4 2301.5L1105.5 2301.6L1106.5 2301.8L1107.6 2301.9L1108.6 2302.0L1109.7 2302.1L1110.7 2302.2L1111.7 2302.3L1112.8 2302.5L1113.8 2302.6L1114.9 2302.7L1115.9 2302.8L1117.0 2302.9L1118.0 2303.0L1119.0 2303.1L1120.1 2303.2L1121.1 2303.3L1122.2 2303.4L1123.2 2303.5L1124.3 2303.6L1125.3 2303.7L1126.3 2303.8L1127.4 2303.9L1128.4 2304.0L1129.5 2304.1L1130.5 2304.1L1131.6 2304.2L1132.6 2304.3L1133.7 2304.4L1134.7 2304.4L1135.7 2304.5L1136.8 2304.6L1137.8 2304.6L1138.9 2304.7L1139.9 2304.7L1141.0 2304.8L1142.0 2304.8L1143.0 2304.9L1144.1 2304.9L1145.1 2304.9L1146.2 2305.0L1147.2 2305.0L1148.3 2305.1L1149.3 2305.1L1150.3 2305.1L1151.4 2305.2L1152.4 2305.2L1153.5 2305.2L1154.5 2305.3L1155.6 2305.3L1156.6 2305.3L1157.6 2305.4L1158.7 2305.4L1159.7 2305.4L1160.8 2305.5L1161.8 2305.5L1162.9 2305.5L1163.9 2305.6L1164.9 2305.6L1166.0 2305.6L1167.0 2305.6L1168.1 2305.7L1169.1 2305.7L1170.2 2305.7L1171.2 2305.8L1172.3 2305.8L1173.3 2305.8L1174.3 2305.9L1175.4 2305.9L1176.4 2305.9L1177.5 2306.0L1178.5 2306.0L1179.6 2306.0L1180.6 2306.1L1181.6 2306.1L1182.7 2306.2L1183.7 2306.2L1184.8 2306.3L1185.8 2306.4L1186.9 2306.4L1187.9 2306.5L1188.9 2306.5L1190.0 2306.6L1191.0 2306.6L1192.1 2306.6L1193.1 2306.6L1194.2 2306.7L1195.2 2306.7L1196.2 2306.7L1197.3 2306.7L1198.3 2306.8L1199.4 2306.8L1200.4 2306.8L1201.5 2306.8L1202.5 2306.9L1203.5 2306.9L1204.6 2306.9L1205.6 2306.9L1206.7 2307.0L1207.7 2307.0L1208.8 2307.0L1209.8 2307.0L1210.8 2307.0L1211.9 2307.1L1212.9 2307.1L1214.0 2307.1L1215.0 2307.1L1216.1 2307.2L1217.1 2307.2L1218.2 2307.2L1219.2 2307.2L1220.2 2307.2L1221.3 2307.2L1222.3 2307.3L1223.4 2307.3L1224.4 2307.3L1225.5 2307.3L1226.5 2307.3L1227.5 2307.4L1228.6 2307.4L1229.6 2307.4L1230.7 2307.4L1231.7 2307.4L1232.8 2307.4L1233.8 2307.5L1234.8 2307.5L1235.9 2307.5L1236.9 2307.5L1238.0 2307.5L1239.0 2307.5L1240.1 2307.5L1241.1 2307.6L1242.1 2307.6L1243.2 2307.6L1244.2 2307.6L1245.3 2307.6L1246.3 2307.6L1247.4 2307.6L1248.4 2307.7L1249.4 2307.7L1250.5 2307.7L1251.5 2307.7L1252.6 2307.7L1253.6 2307.7L1254.7 2307.7L1255.7 2307.8L1256.8 2307.8L1257.8 2307.8L1258.8 2307.8L1259.9 2307.8L1260.9 2307.8L1262.0 2307.8L1263.0 2307.8L1264.1 2307.8L1265.1 2307.9L1266.1 2307.9L1267.2 2307.9L1268.2 2307.9L1269.3 2307.9L1270.3 2307.9L1271.4 2307.9L1272.4 2307.9L1273.4 2307.9L1274.5 2308.0L1275.5 2308.0L1276.6 2308.0L1277.6 2308.0L1278.7 2308.0L1279.7 2308.0L1280.7 2308.0L1281.8 2308.0L1282.8 2308.0L1283.9 2308.0L1284.9 2308.1L1286.0 2308.1L1287.0 2308.1L1288.0 2308.1L1289.1 2308.1L1290.1 2308.1L1291.2 2308.1L1292.2 2308.1L1293.3 2308.1L1294.3 2308.1L1295.4 2308.2L1296.4 2308.2L1297.4 2308.2L1298.5 2308.2L1299.5 2308.2L1300.6 2308.2L1301.6 2308.2L1302.7 2308.2L1303.7 2308.2L1304.7 2308.2L1305.8 2308.3L1306.8 2308.3L1307.9 2308.3L1308.9 2308.3L1310.0 2308.3L1311.0 2308.3L1312.0 2308.3L1313.1 2308.3L1314.1 2308.3L1315.2 2308.3L1316.2 2308.3L1317.3 2308.4L1318.3 2308.4L1319.3 2308.4L1320.4 2308.4L1321.4 2308.4L1322.5 2308.4L1323.5 2308.4L1324.6 2308.4L1325.6 2308.4L1326.6 2308.4L1327.7 2308.5L1328.7 2308.5L1329.8 2308.5L1330.8 2308.5L1331.9 2308.5L1332.9 2308.5L1334.0 2308.5L1335.0 2308.5L1336.0 2308.5L1337.1 2308.5L1338.1 2308.5L1339.2 2308.6L1340.2 2308.6L1341.3 2308.6L1342.3 2308.6L1343.3 2308.6L1344.4 2308.6L1345.4 2308.6L1346.5 2308.6L1347.5 2308.6L1348.6 2308.6L1349.6 2308.6L1350.6 2308.7L1351.7 2308.7L1352.7 2308.7L1353.8 2308.7L1354.8 2308.7L1355.9 2308.7L1356.9 2308.7L1357.9 2308.7L1359.0 2308.7L1360.0 2308.7L1361.1 2308.7L1362.1 2308.8L1363.2 2308.8L1364.2 2308.8L1365.2 2308.8L1366.3 2308.8L1367.3 2308.8L1368.4 2308.8L1369.4 2308.8L1370.5 2308.8L1371.5 2308.8L1372.6 2308.8L1373.6 2308.8L1374.6 2308.9L1375.7 2308.9L1376.7 2308.9L1377.8 2308.9L1378.8 2308.9L1379.9 2308.9L1380.9 2308.9L1381.9 2308.9L1383.0 2308.9L1384.0 2308.9L1385.1 2308.9L1386.1 2308.9L1387.2 2309.0L1388.2 2309.0L1389.2 2309.0L1390.3 2309.0L1391.3 2309.0L1392.4 2309.0L1393.4 2309.0L1394.5 2309.0L1395.5 2309.0L1396.5 2309.0L1397.6 2309.0L1398.6 2309.0L1399.7 2309.0L1400.7 2309.1L1401.8 2309.1L1402.8 2309.1L1403.8 2309.1L1404.9 2309.1L1405.9 2309.1L1407.0 2309.1L1408.0 2309.1L1409.1 2309.1L1410.1 2309.1L1411.2 2309.1L1412.2 2309.1L1413.2 2309.1L1414.3 2309.1L1415.3 2309.2L1416.4 2309.2L1417.4 2309.2L1418.5 2309.2L1419.5 2309.2L1420.5 2309.2L1421.6 2309.2L1422.6 2309.2L1423.7 2309.2L1424.7 2309.2L1425.8 2309.2L1426.8 2309.2L1427.8 2309.2L1428.9 2309.2L1429.9 2309.2L1431.0 2309.2L1432.0 2309.3L1433.1 2309.3L1434.1 2309.3L1435.1 2309.3L1436.2 2309.3L1437.2 2309.3L1438.3 2309.3L1439.3 2309.3L1440.4 2309.3L1441.4 2309.3L1442.4 2309.3L1443.5 2309.3L1444.5 2309.3L1445.6 2309.3L1446.6 2309.3L1447.7 2309.3L1448.7 2309.3L1449.8 2309.3L1450.8 2309.3L1451.8 2309.4L1452.9 2309.4L1453.9 2309.4L1455.0 2309.4L1456.0 2309.4L1457.1 2309.4L1458.1 2309.4L1459.1 2309.4L1460.2 2309.4L1461.2 2309.4L1462.3 2309.4L1463.3 2309.4L1464.4 2309.4L1465.4 2309.4L1466.4 2309.4L1467.5 2309.4L1468.5 2309.4L1469.6 2309.4L1470.6 2309.4L1471.7 2309.4L1472.7 2309.4L1473.7 2309.4L1474.8 2309.4L1475.8 2309.4L1476.9 2309.4L1477.9 2309.5L1479.0 2309.5L1480.0 2309.5L1481.0 2309.5L1482.1 2309.5L1483.1 2309.5L1484.2 2309.5L1485.2 2309.5L1486.3 2309.5L1487.3 2309.5L1488.4 2309.5L1489.4 2309.5L1490.4 2309.5L1491.5 2309.5L1492.5 2309.5L1493.6 2309.5L1494.6 2309.5L1495.7 2309.5L1496.7 2309.5L1497.7 2309.5L1498.8 2309.5L1499.8 2309.5L1500.9 2309.5L1501.9 2309.5L1503.0 2309.5L1504.0 2309.5" fill="none" stroke="#9E1A1A" stroke-width="2.0" stroke-linejoin="round" clip-path="url(#clp6)"/><g clip-path="url(#clp6)"><path d="M874.0 2158.9L884.2 2169.1M874.0 2169.1L884.2 2158.9" stroke="#00FF00" stroke-width="1.9"/><path d="M876.8 2170.4L887.0 2180.6M876.8 2180.6L887.0 2170.4" stroke="#00FF00" stroke-width="1.9"/><path d="M878.7 2178.7L888.9 2188.9M878.7 2188.9L888.9 2178.7" stroke="#00FF00" stroke-width="1.9"/><path d="M881.4 2191.1L891.6 2201.3M881.4 2201.3L891.6 2191.1" stroke="#00FF00" stroke-width="1.9"/><path d="M886.9 2207.5L897.1 2217.7M886.9 2217.7L897.1 2207.5" stroke="#00FF00" stroke-width="1.9"/><path d="M891.1 2221.3L901.3 2231.5M891.1 2231.5L901.3 2221.3" stroke="#00FF00" stroke-width="1.9"/><path d="M895.2 2232.3L905.4 2242.5M895.2 2242.5L905.4 2232.3" stroke="#00FF00" stroke-width="1.9"/><path d="M900.7 2244.6L910.9 2254.8M900.7 2254.8L910.9 2244.6" stroke="#00FF00" stroke-width="1.9"/><path d="M907.5 2259.7L917.7 2269.9M907.5 2269.9L917.7 2259.7" stroke="#00FF00" stroke-width="1.9"/><path d="M914.4 2270.7L924.6 2280.9M914.4 2280.9L924.6 2270.7" stroke="#00FF00" stroke-width="1.9"/><path d="M927.6 2282.7L937.8 2292.9M927.6 2292.9L937.8 2282.7" stroke="#00FF00" stroke-width="1.9"/><path d="M940.5 2291.3L950.7 2301.5M940.5 2301.5L950.7 2291.3" stroke="#00FF00" stroke-width="1.9"/><path d="M953.7 2298.1L963.9 2308.3M953.7 2308.3L963.9 2298.1" stroke="#00FF00" stroke-width="1.9"/><path d="M966.6 2302.3L976.8 2312.5M966.6 2312.5L976.8 2302.3" stroke="#00FF00" stroke-width="1.9"/><path d="M979.5 2305.1L989.7 2315.3M979.5 2315.3L989.7 2305.1" stroke="#00FF00" stroke-width="1.9"/><path d="M992.7 2307.0L1002.9 2317.2M992.7 2317.2L1002.9 2307.0" stroke="#00FF00" stroke-width="1.9"/><path d="M1005.9 2308.1L1016.1 2318.3M1005.9 2318.3L1016.1 2308.1" stroke="#00FF00" stroke-width="1.9"/><path d="M1018.8 2309.2L1029.0 2319.4M1018.8 2319.4L1029.0 2309.2" stroke="#00FF00" stroke-width="1.9"/><path d="M1031.7 2309.7L1041.9 2319.9M1031.7 2319.9L1041.9 2309.7" stroke="#00FF00" stroke-width="1.9"/><path d="M1044.9 2310.4L1055.1 2320.6M1044.9 2320.6L1055.1 2310.4" stroke="#00FF00" stroke-width="1.9"/><path d="M1046.9 2310.5L1057.0 2320.6M1046.9 2320.6L1057.0 2310.5" stroke="#00FF00" stroke-width="1.9"/><path d="M1060.2 2310.5L1070.3 2320.6M1060.2 2320.6L1070.3 2310.5" stroke="#00FF00" stroke-width="1.9"/><path d="M1073.5 2310.5L1083.6 2320.7M1073.5 2320.7L1083.6 2310.5" stroke="#00FF00" stroke-width="1.9"/><path d="M1086.8 2310.4L1096.9 2320.6M1086.8 2320.6L1096.9 2310.4" stroke="#00FF00" stroke-width="1.9"/><path d="M1100.1 2310.3L1110.2 2320.4M1100.1 2320.4L1110.2 2310.3" stroke="#00FF00" stroke-width="1.9"/><path d="M1113.4 2310.2L1123.5 2320.3M1113.4 2320.3L1123.5 2310.2" stroke="#00FF00" stroke-width="1.9"/><path d="M1126.7 2310.1L1136.8 2320.2M1126.7 2320.2L1136.8 2310.1" stroke="#00FF00" stroke-width="1.9"/><path d="M1140.0 2310.1L1150.1 2320.2M1140.0 2320.2L1150.1 2310.1" stroke="#00FF00" stroke-width="1.9"/><path d="M1153.3 2310.0L1163.4 2320.1M1153.3 2320.1L1163.4 2310.0" stroke="#00FF00" stroke-width="1.9"/><path d="M1166.5 2309.9L1176.7 2320.0M1166.5 2320.0L1176.7 2309.9" stroke="#00FF00" stroke-width="1.9"/><path d="M1179.8 2309.9L1190.0 2320.0M1179.8 2320.0L1190.0 2309.9" stroke="#00FF00" stroke-width="1.9"/><path d="M1193.1 2309.8L1203.3 2319.9M1193.1 2319.9L1203.3 2309.8" stroke="#00FF00" stroke-width="1.9"/><path d="M1206.4 2309.8L1216.6 2319.9M1206.4 2319.9L1216.6 2309.8" stroke="#00FF00" stroke-width="1.9"/><path d="M1219.7 2309.7L1229.8 2319.8M1219.7 2319.8L1229.8 2309.7" stroke="#00FF00" stroke-width="1.9"/><path d="M1233.0 2309.7L1243.1 2319.8M1233.0 2319.8L1243.1 2309.7" stroke="#00FF00" stroke-width="1.9"/><path d="M1246.3 2309.6L1256.4 2319.8M1246.3 2319.8L1256.4 2309.6" stroke="#00FF00" stroke-width="1.9"/><path d="M1259.6 2309.6L1269.7 2319.7M1259.6 2319.7L1269.7 2309.6" stroke="#00FF00" stroke-width="1.9"/><path d="M1272.9 2309.6L1283.0 2319.7M1272.9 2319.7L1283.0 2309.6" stroke="#00FF00" stroke-width="1.9"/><path d="M1286.2 2309.5L1296.3 2319.6M1286.2 2319.6L1296.3 2309.5" stroke="#00FF00" stroke-width="1.9"/><path d="M1299.5 2309.5L1309.6 2319.6M1299.5 2319.6L1309.6 2309.5" stroke="#00FF00" stroke-width="1.9"/><path d="M1312.8 2309.4L1322.9 2319.6M1312.8 2319.6L1322.9 2309.4" stroke="#00FF00" stroke-width="1.9"/><path d="M1326.1 2309.4L1336.2 2319.5M1326.1 2319.5L1336.2 2309.4" stroke="#00FF00" stroke-width="1.9"/><path d="M1339.4 2309.4L1349.5 2319.5M1339.4 2319.5L1349.5 2309.4" stroke="#00FF00" stroke-width="1.9"/><path d="M1352.7 2309.3L1362.8 2319.5M1352.7 2319.5L1362.8 2309.3" stroke="#00FF00" stroke-width="1.9"/><path d="M1366.0 2309.3L1376.1 2319.4M1366.0 2319.4L1376.1 2309.3" stroke="#00FF00" stroke-width="1.9"/><path d="M1379.3 2309.3L1389.4 2319.4M1379.3 2319.4L1389.4 2309.3" stroke="#00FF00" stroke-width="1.9"/><path d="M1392.6 2309.2L1402.7 2319.4M1392.6 2319.4L1402.7 2309.2" stroke="#00FF00" stroke-width="1.9"/><path d="M1405.9 2309.2L1416.0 2319.3M1405.9 2319.3L1416.0 2309.2" stroke="#00FF00" stroke-width="1.9"/><path d="M1419.2 2309.2L1429.3 2319.3M1419.2 2319.3L1429.3 2309.2" stroke="#00FF00" stroke-width="1.9"/><path d="M1432.5 2309.2L1442.6 2319.3M1432.5 2319.3L1442.6 2309.2" stroke="#00FF00" stroke-width="1.9"/><path d="M1445.8 2309.2L1455.9 2319.3M1445.8 2319.3L1455.9 2309.2" stroke="#00FF00" stroke-width="1.9"/><path d="M1459.1 2309.2L1469.2 2319.3M1459.1 2319.3L1469.2 2309.2" stroke="#00FF00" stroke-width="1.9"/><path d="M1472.3 2309.1L1482.5 2319.3M1472.3 2319.3L1482.5 2309.1" stroke="#00FF00" stroke-width="1.9"/><path d="M1485.6 2309.1L1495.8 2319.3M1485.6 2319.3L1495.8 2309.1" stroke="#00FF00" stroke-width="1.9"/><path d="M1498.9 2309.1L1509.1 2319.3M1498.9 2319.3L1509.1 2309.1" stroke="#00FF00" stroke-width="1.9"/></g><path d="M879.1 2071.7L880.1 2079.3L881.2 2086.6L882.2 2093.5L883.3 2100.0L884.3 2106.3L885.4 2112.3L886.4 2118.0L887.4 2123.3L888.5 2128.3L889.5 2132.9L890.6 2137.3L891.6 2141.5L892.7 2145.6L893.7 2149.7L894.7 2153.7L895.8 2157.7L896.8 2161.8L897.9 2165.8L898.9 2169.8L900.0 2173.7L901.0 2177.5L902.1 2181.2L903.1 2184.6L904.1 2187.9L905.2 2191.0L906.2 2193.9L907.3 2196.8L908.3 2199.6L909.4 2202.2L910.4 2204.8L911.4 2207.3L912.5 2209.7L913.5 2212.1L914.6 2214.3L915.6 2216.5L916.7 2218.7L917.7 2220.9L918.7 2223.0L919.8 2225.1L920.8 2227.2L921.9 2229.2L922.9 2231.1L924.0 2233.1L925.0 2234.9L926.0 2236.7L927.1 2238.5L928.1 2240.2L929.2 2241.8L930.2 2243.3L931.3 2244.8L932.3 2246.1L933.3 2247.5L934.4 2248.7L935.4 2250.0L936.5 2251.2L937.5 2252.4L938.6 2253.5L939.6 2254.7L940.7 2255.8L941.7 2256.8L942.7 2257.9L943.8 2258.9L944.8 2259.9L945.9 2260.8L946.9 2261.8L948.0 2262.7L949.0 2263.6L950.0 2264.5L951.1 2265.4L952.1 2266.2L953.2 2267.1L954.2 2267.9L955.3 2268.8L956.3 2269.6L957.3 2270.4L958.4 2271.2L959.4 2272.0L960.5 2272.7L961.5 2273.5L962.6 2274.3L963.6 2275.0L964.6 2275.7L965.7 2276.4L966.7 2277.1L967.8 2277.8L968.8 2278.5L969.9 2279.2L970.9 2279.8L971.9 2280.4L973.0 2281.1L974.0 2281.7L975.1 2282.2L976.1 2282.8L977.2 2283.4L978.2 2283.9L979.3 2284.4L980.3 2284.9L981.3 2285.5L982.4 2286.0L983.4 2286.5L984.5 2287.0L985.5 2287.4L986.6 2287.9L987.6 2288.4L988.6 2288.8L989.7 2289.3L990.7 2289.7L991.8 2290.2L992.8 2290.6L993.9 2291.0L994.9 2291.4L995.9 2291.8L997.0 2292.2L998.0 2292.6L999.1 2293.0L1000.1 2293.3L1001.2 2293.7L1002.2 2294.0L1003.2 2294.3L1004.3 2294.6L1005.3 2294.9L1006.4 2295.2L1007.4 2295.5L1008.5 2295.8L1009.5 2296.0L1010.5 2296.3L1011.6 2296.6L1012.6 2296.8L1013.7 2297.1L1014.7 2297.3L1015.8 2297.6L1016.8 2297.8L1017.9 2298.0L1018.9 2298.3L1019.9 2298.5L1021.0 2298.7L1022.0 2299.0L1023.1 2299.2L1024.1 2299.4L1025.2 2299.6L1026.2 2299.8L1027.2 2300.0L1028.3 2300.2L1029.3 2300.4L1030.4 2300.6L1031.4 2300.8L1032.5 2301.0L1033.5 2301.2L1034.5 2301.4L1035.6 2301.5L1036.6 2301.7L1037.7 2301.9L1038.7 2302.0L1039.8 2302.2L1040.8 2302.4L1041.8 2302.5L1042.9 2302.7L1043.9 2302.8L1045.0 2303.0L1046.0 2303.1L1047.1 2303.3L1048.1 2303.4L1049.1 2303.5L1050.2 2303.7L1051.2 2303.8L1052.3 2304.0L1053.3 2304.1L1054.4 2304.2L1055.4 2304.4L1056.5 2304.5L1057.5 2304.6L1058.5 2304.7L1059.6 2304.9L1060.6 2305.0L1061.7 2305.1L1062.7 2305.2L1063.8 2305.3L1064.8 2305.5L1065.8 2305.6L1066.9 2305.7L1067.9 2305.8L1069.0 2305.9L1070.0 2306.0L1071.1 2306.1L1072.1 2306.3L1073.1 2306.4L1074.2 2306.5L1075.2 2306.6L1076.3 2306.7L1077.3 2306.8L1078.4 2306.9L1079.4 2307.0L1080.4 2307.1L1081.5 2307.2L1082.5 2307.3L1083.6 2307.4L1084.6 2307.5L1085.7 2307.5L1086.7 2307.6L1087.7 2307.7L1088.8 2307.8L1089.8 2307.9L1090.9 2308.0L1091.9 2308.1L1093.0 2308.1L1094.0 2308.2L1095.1 2308.3L1096.1 2308.4L1097.1 2308.5L1098.2 2308.5L1099.2 2308.6L1100.3 2308.7L1101.3 2308.7L1102.4 2308.8L1103.4 2308.9L1104.4 2308.9L1105.5 2309.0L1106.5 2309.1L1107.6 2309.1L1108.6 2309.2L1109.7 2309.3L1110.7 2309.3L1111.7 2309.4L1112.8 2309.5L1113.8 2309.5L1114.9 2309.6L1115.9 2309.6L1117.0 2309.7L1118.0 2309.8L1119.0 2309.8L1120.1 2309.9L1121.1 2309.9L1122.2 2310.0L1123.2 2310.0L1124.3 2310.1L1125.3 2310.2L1126.3 2310.2L1127.4 2310.3L1128.4 2310.3L1129.5 2310.4L1130.5 2310.4L1131.6 2310.5L1132.6 2310.5L1133.7 2310.6L1134.7 2310.6L1135.7 2310.7L1136.8 2310.7L1137.8 2310.8L1138.9 2310.8L1139.9 2310.8L1141.0 2310.9L1142.0 2310.9L1143.0 2311.0L1144.1 2311.0L1145.1 2311.1L1146.2 2311.1L1147.2 2311.1L1148.3 2311.2L1149.3 2311.2L1150.3 2311.3L1151.4 2311.3L1152.4 2311.3L1153.5 2311.4L1154.5 2311.4L1155.6 2311.4L1156.6 2311.5L1157.6 2311.5L1158.7 2311.6L1159.7 2311.6L1160.8 2311.6L1161.8 2311.7L1162.9 2311.7L1163.9 2311.7L1164.9 2311.8L1166.0 2311.8L1167.0 2311.8L1168.1 2311.9L1169.1 2311.9L1170.2 2311.9L1171.2 2312.0L1172.3 2312.0L1173.3 2312.0L1174.3 2312.1L1175.4 2312.1L1176.4 2312.1L1177.5 2312.2L1178.5 2312.2L1179.6 2312.2L1180.6 2312.2L1181.6 2312.3L1182.7 2312.3L1183.7 2312.3L1184.8 2312.4L1185.8 2312.4L1186.9 2312.4L1187.9 2312.4L1188.9 2312.4L1190.0 2312.5L1191.0 2312.5L1192.1 2312.5L1193.1 2312.5L1194.2 2312.5L1195.2 2312.6L1196.2 2312.6L1197.3 2312.6L1198.3 2312.6L1199.4 2312.6L1200.4 2312.6L1201.5 2312.6L1202.5 2312.6L1203.5 2312.6L1204.6 2312.6L1205.6 2312.6L1206.7 2312.6L1207.7 2312.7L1208.8 2312.7L1209.8 2312.7L1210.8 2312.7L1211.9 2312.7L1212.9 2312.7L1214.0 2312.7L1215.0 2312.7L1216.1 2312.7L1217.1 2312.7L1218.2 2312.7L1219.2 2312.7L1220.2 2312.7L1221.3 2312.7L1222.3 2312.7L1223.4 2312.7L1224.4 2312.8L1225.5 2312.8L1226.5 2312.8L1227.5 2312.8L1228.6 2312.8L1229.6 2312.8L1230.7 2312.8L1231.7 2312.8L1232.8 2312.8L1233.8 2312.8L1234.8 2312.8L1235.9 2312.8L1236.9 2312.8L1238.0 2312.8L1239.0 2312.8L1240.1 2312.8L1241.1 2312.8L1242.1 2312.9L1243.2 2312.9L1244.2 2312.9L1245.3 2312.9L1246.3 2312.9L1247.4 2312.9L1248.4 2312.9L1249.4 2312.9L1250.5 2312.9L1251.5 2312.9L1252.6 2312.9L1253.6 2312.9L1254.7 2312.9L1255.7 2312.9L1256.8 2312.9L1257.8 2312.9L1258.8 2312.9L1259.9 2312.9L1260.9 2313.0L1262.0 2313.0L1263.0 2313.0L1264.1 2313.0L1265.1 2313.0L1266.1 2313.0L1267.2 2313.0L1268.2 2313.0L1269.3 2313.0L1270.3 2313.0L1271.4 2313.0L1272.4 2313.0L1273.4 2313.0L1274.5 2313.0L1275.5 2313.0L1276.6 2313.0L1277.6 2313.0L1278.7 2313.0L1279.7 2313.0L1280.7 2313.0L1281.8 2313.0L1282.8 2313.1L1283.9 2313.1L1284.9 2313.1L1286.0 2313.1L1287.0 2313.1L1288.0 2313.1L1289.1 2313.1L1290.1 2313.1L1291.2 2313.1L1292.2 2313.1L1293.3 2313.1L1294.3 2313.1L1295.4 2313.1L1296.4 2313.1L1297.4 2313.1L1298.5 2313.1L1299.5 2313.1L1300.6 2313.1L1301.6 2313.1L1302.7 2313.1L1303.7 2313.1L1304.7 2313.1L1305.8 2313.1L1306.8 2313.2L1307.9 2313.2L1308.9 2313.2L1310.0 2313.2L1311.0 2313.2L1312.0 2313.2L1313.1 2313.2L1314.1 2313.2L1315.2 2313.2L1316.2 2313.2L1317.3 2313.2L1318.3 2313.2L1319.3 2313.2L1320.4 2313.2L1321.4 2313.2L1322.5 2313.2L1323.5 2313.2L1324.6 2313.2L1325.6 2313.2L1326.6 2313.2L1327.7 2313.2L1328.7 2313.2L1329.8 2313.2L1330.8 2313.2L1331.9 2313.2L1332.9 2313.2L1334.0 2313.2L1335.0 2313.3L1336.0 2313.3L1337.1 2313.3L1338.1 2313.3L1339.2 2313.3L1340.2 2313.3L1341.3 2313.3L1342.3 2313.3L1343.3 2313.3L1344.4 2313.3L1345.4 2313.3L1346.5 2313.3L1347.5 2313.3L1348.6 2313.3L1349.6 2313.3L1350.6 2313.3L1351.7 2313.3L1352.7 2313.3L1353.8 2313.3L1354.8 2313.3L1355.9 2313.3L1356.9 2313.3L1357.9 2313.3L1359.0 2313.3L1360.0 2313.3L1361.1 2313.3L1362.1 2313.3L1363.2 2313.3L1364.2 2313.3L1365.2 2313.3L1366.3 2313.3L1367.3 2313.3L1368.4 2313.3L1369.4 2313.3L1370.5 2313.3L1371.5 2313.4L1372.6 2313.4L1373.6 2313.4L1374.6 2313.4L1375.7 2313.4L1376.7 2313.4L1377.8 2313.4L1378.8 2313.4L1379.9 2313.4L1380.9 2313.4L1381.9 2313.4L1383.0 2313.4L1384.0 2313.4L1385.1 2313.4L1386.1 2313.4L1387.2 2313.4L1388.2 2313.4L1389.2 2313.4L1390.3 2313.4L1391.3 2313.4L1392.4 2313.4L1393.4 2313.4L1394.5 2313.4L1395.5 2313.4L1396.5 2313.4L1397.6 2313.4L1398.6 2313.4L1399.7 2313.4L1400.7 2313.4L1401.8 2313.4L1402.8 2313.4L1403.8 2313.4L1404.9 2313.4L1405.9 2313.4L1407.0 2313.4L1408.0 2313.4L1409.1 2313.4L1410.1 2313.4L1411.2 2313.4L1412.2 2313.4L1413.2 2313.4L1414.3 2313.4L1415.3 2313.4L1416.4 2313.4L1417.4 2313.4L1418.5 2313.4L1419.5 2313.4L1420.5 2313.4L1421.6 2313.4L1422.6 2313.4L1423.7 2313.4L1424.7 2313.4L1425.8 2313.5L1426.8 2313.5L1427.8 2313.5L1428.9 2313.5L1429.9 2313.5L1431.0 2313.5L1432.0 2313.5L1433.1 2313.5L1434.1 2313.5L1435.1 2313.5L1436.2 2313.5L1437.2 2313.5L1438.3 2313.5L1439.3 2313.5L1440.4 2313.5L1441.4 2313.5L1442.4 2313.5L1443.5 2313.5L1444.5 2313.5L1445.6 2313.5L1446.6 2313.5L1447.7 2313.5L1448.7 2313.5L1449.8 2313.5L1450.8 2313.5L1451.8 2313.5L1452.9 2313.5L1453.9 2313.5L1455.0 2313.5L1456.0 2313.5L1457.1 2313.5L1458.1 2313.5L1459.1 2313.5L1460.2 2313.5L1461.2 2313.5L1462.3 2313.5L1463.3 2313.5L1464.4 2313.5L1465.4 2313.5L1466.4 2313.5L1467.5 2313.5L1468.5 2313.5L1469.6 2313.5L1470.6 2313.5L1471.7 2313.5L1472.7 2313.5L1473.7 2313.5L1474.8 2313.5L1475.8 2313.5L1476.9 2313.5L1477.9 2313.5L1479.0 2313.5L1480.0 2313.5L1481.0 2313.5L1482.1 2313.5L1483.1 2313.5L1484.2 2313.5L1485.2 2313.5L1486.3 2313.5L1487.3 2313.5L1488.4 2313.5L1489.4 2313.5L1490.4 2313.5L1491.5 2313.5L1492.5 2313.5L1493.6 2313.5L1494.6 2313.5L1495.7 2313.5L1496.7 2313.5L1497.7 2313.5L1498.8 2313.5L1499.8 2313.5L1500.9 2313.5L1501.9 2313.5L1503.0 2313.5L1504.0 2313.5" fill="none" stroke="#FF0000" stroke-width="2.0" stroke-linejoin="round" clip-path="url(#clp6)"/><rect x="821.2" y="2379.6" width="683.6" height="90.6" fill="none" stroke="#000" stroke-width="2.0"/><rect x="855.0" y="2399.7" width="5.8" height="5.8" fill="none" stroke="#0000FF" stroke-width="2.0"/><text x="897.7" y="2413.2" font-size="25.0" letter-spacing="0.90" xml:space="preserve"><tspan font-family="'Liberation Sans', sans-serif">&#961;</tspan></text><path d="M1018.0 2402.6H1026.8M1022.4 2398.2V2407.0" stroke="#C82424" stroke-width="2.0"/><text x="1061.4" y="2413.2" font-size="25.0" letter-spacing="0.90" xml:space="preserve"><tspan font-family="'Liberation Sans', sans-serif">&#961;</tspan><tspan> + </tspan><tspan font-style="italic">p</tspan><tspan font-style="italic" font-size="20.0" dy="10.5">r</tspan></text><path d="M1182.5 2402.6L1182.5 2398.6M1182.5 2402.6L1186.3 2401.4M1182.5 2402.6L1184.8 2405.8M1182.5 2402.6L1180.2 2405.8M1182.5 2402.6L1178.7 2401.4" stroke="#000000" stroke-width="2.3" stroke-linecap="round"/><text x="1221.6" y="2413.2" font-size="25.0" letter-spacing="0.90" xml:space="preserve"><tspan font-family="'Liberation Sans', sans-serif">&#961;</tspan><tspan> + </tspan><tspan font-style="italic">p</tspan><tspan font-style="italic" font-size="20.0" dy="10.5">t</tspan></text><path d="M1293.5 2401.1H1354.0" stroke="#9E1A1A" stroke-width="2.2"/><text x="1363.7" y="2413.2" font-size="25.0" letter-spacing="0.90" xml:space="preserve"><tspan font-family="'Liberation Sans', sans-serif">&#961;</tspan><tspan> + </tspan><tspan font-style="italic">p</tspan><tspan font-style="italic" font-size="20.0" dy="10.5">r</tspan><tspan dy="-10.5"> + 2</tspan><tspan font-style="italic">p</tspan><tspan font-style="italic" font-size="20.0" dy="10.5">t</tspan></text><path d="M852.6 2440.3L863.2 2450.9M852.6 2450.9L863.2 2440.3" stroke="#00FF00" stroke-width="2.0"/><text x="897.7" y="2453.6" font-size="25.0" letter-spacing="0.15" xml:space="preserve"><tspan font-family="'Liberation Sans', sans-serif">.&#961; - |</tspan><tspan font-style="italic">p</tspan><tspan font-style="italic" font-size="20.0" dy="10.5">r</tspan><tspan font-family="'Liberation Sans', sans-serif" dy="-10.5">|</tspan></text><path d="M991.4 2444.1H1051.9" stroke="#FF0000" stroke-width="2.2"/><text x="1061.4" y="2453.6" font-size="25.0" letter-spacing="0.15" xml:space="preserve"><tspan font-family="'Liberation Sans', sans-serif">&#961; - |</tspan><tspan font-style="italic">p</tspan><tspan font-style="italic" font-size="20.0" dy="10.5">t</tspan><tspan font-family="'Liberation Sans', sans-serif" dy="-10.5">|</tspan></text>
</svg>
<div class="ln" style="left:11.2px;top:722.9px;width:715.8px"><b>(a)</b> This figure depicts the behavior of all EC terms</div><div class="ln" style="left:16.2px;top:761.2px;width:710.8px">for Model-III in Subcase 1 (<i>&#958;</i><span class="sb">3</span> <span class="rl">=</span> 0, <i>&#945;</i><span class="sb">3</span> <span class="rl">&gt;</span> 0, <i>&#946;</i><span class="sb">2</span> <span class="rl">&gt;</span> 0,</div><div class="ln" style="left:16.2px;top:799.5px;width:710.8px"><i>&#945;</i> <span class="rl">&gt;</span> 0).&nbsp; All ECs are found to be satisfied for every</div><div class="ln last" style="left:16.2px;top:837.8px;width:710.8px"><i>r</i> <span class="rl">&gt;</span> 0.22.</div>
<div class="ln" style="left:815.9px;top:722.9px;width:717.1px"><b>(b)</b> This figure depicts the behavior of all EC terms</div><div class="ln" style="left:820.9px;top:761.2px;width:712.1px">for Model-III in Subcase 2 (<i>&#958;</i><span class="sb">3</span> <span class="rl">=</span> 0, <i>&#945;</i><span class="sb">3</span> <span class="rl">&gt;</span> 0, <i>&#946;</i><span class="sb">2</span> <span class="rl">&gt;</span> 0,</div><div class="ln" style="left:820.9px;top:799.5px;width:712.1px"><i>&#945;</i> <span class="rl">&lt;</span> 0).&nbsp; All ECs are found to be satisfied for every</div><div class="ln last" style="left:820.9px;top:837.8px;width:712.1px"><i>r</i> <span class="rl">&gt;</span> 0.</div>
<div class="ln" style="left:10.9px;top:1615.6px;width:716.1px"><b>(c)</b> This figure depicts the behavior of all EC terms</div><div class="ln" style="left:15.9px;top:1653.9px;width:711.1px">for Model-III in Subcase 7 (<i>&#958;</i><span class="sb">3</span> <span class="rl">=</span> 0, <i>&#945;</i><span class="sb">3</span> <span class="rl">&lt;</span> 0, <i>&#946;</i><span class="sb">2</span> <span class="rl">&gt;</span> 0,</div><div class="ln last" style="left:15.9px;top:1692.2px;width:711.1px"><i>&#945;</i> <span class="rl">&gt;</span> 0).&nbsp; All ECs are shown to satisfy for 0.55 <span class="rl">&lt;</span> <i>r</i>.</div>
<div class="ln" style="left:816.0px;top:1615.6px;width:717.0px"><b>(d)</b> This figure depicts the behavior of all EC terms</div><div class="ln" style="left:821.0px;top:1653.9px;width:712.0px">for Model-III in Subcase 8 (<i>&#958;</i><span class="sb">3</span> <span class="rl">=</span> 0, <i>&#945;</i><span class="sb">3</span> <span class="rl">&lt;</span> 0, <i>&#946;</i><span class="sb">2</span> <span class="rl">&gt;</span> 0,</div><div class="ln" style="left:821.0px;top:1692.2px;width:712.0px"><i>&#945;</i> <span class="rl">&lt;</span> 0).&nbsp; All ECs are found to be satisfied for every</div><div class="ln last" style="left:821.0px;top:1730.5px;width:712.0px"><i>r</i> <span class="rl">&gt;</span> 0.25.</div>
<div class="ln" style="left:0.5px;top:2509.0px;width:715.6px"><b>(e)</b> This figure depicts the behavior of all EC terms</div><div class="ln" style="left:5.5px;top:2547.3px;width:710.6px">for Model-III in Subcase 9 (<i>&#958;</i><span class="sb">3</span> <span class="rl">&gt;</span> 0, <i>&#945;</i><span class="sb">3</span> <span class="rl">&gt;</span> 0, <i>&#946;</i><span class="sb">2</span> <span class="rl">&gt;</span> 0,</div><div class="ln" style="left:5.5px;top:2585.6px;width:710.6px"><i>&#945;</i> <span class="rl">&gt;</span> 0).&nbsp; All ECs are shown to satisfy for every</div><div class="ln last" style="left:5.5px;top:2623.9px;width:710.6px">.4 <span class="rl">&lt;</span> <i>r</i>.</div>
<div class="ln" style="left:803.2px;top:2509.0px;width:715.7px"><b>(f)</b> This figure depicts the behavior of all EC terms</div><div class="ln" style="left:808.2px;top:2547.3px;width:710.7px">for Model-III in Subcase 10 (<i>&#958;</i><span class="sb">3</span> <span class="rl">&gt;</span> 0, <i>&#945;</i><span class="sb">3</span> <span class="rl">&gt;</span> 0, <i>&#946;</i><span class="sb">2</span> <span class="rl">&gt;</span> 0,</div><div class="ln" style="left:808.2px;top:2585.6px;width:710.7px"><i>&#945;</i> <span class="rl">&lt;</span> 0).&nbsp; All ECs are found to be satisfied for every</div><div class="ln last" style="left:808.2px;top:2623.9px;width:710.7px"><i>r</i> <span class="rl">&gt;</span> 0.3.</div>
</body></html>
